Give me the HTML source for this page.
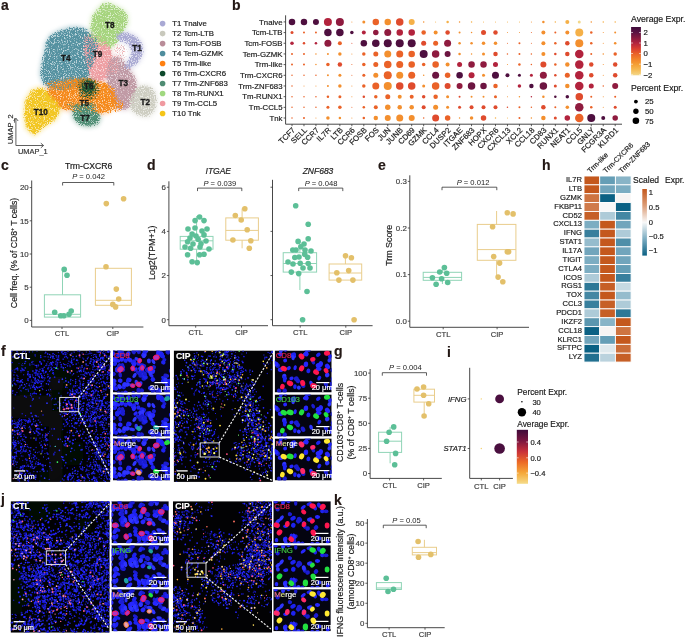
<!DOCTYPE html>
<html><head><meta charset="utf-8"><style>
html,body{margin:0;padding:0;background:#fff;}
svg{display:block;will-change:transform;font-family:"Liberation Sans",sans-serif;}
</style></head><body>
<svg width="685" height="638" viewBox="0 0 685 638">
<text x="1.00" y="10.20" font-size="14" text-anchor="start" fill="#231815" stroke="#231815" stroke-width="0.18" font-weight="bold">a</text>
<text x="232.00" y="10.00" font-size="14" text-anchor="start" fill="#231815" stroke="#231815" stroke-width="0.18" font-weight="bold">b</text>
<text x="1.00" y="170.00" font-size="14" text-anchor="start" fill="#231815" stroke="#231815" stroke-width="0.18" font-weight="bold">c</text>
<text x="147.00" y="170.00" font-size="14" text-anchor="start" fill="#231815" stroke="#231815" stroke-width="0.18" font-weight="bold">d</text>
<text x="378.00" y="170.00" font-size="14" text-anchor="start" fill="#231815" stroke="#231815" stroke-width="0.18" font-weight="bold">e</text>
<text x="542.00" y="170.00" font-size="14" text-anchor="start" fill="#231815" stroke="#231815" stroke-width="0.18" font-weight="bold">h</text>
<text x="1.00" y="356.00" font-size="14" text-anchor="start" fill="#231815" stroke="#231815" stroke-width="0.18" font-weight="bold">f</text>
<text x="334.00" y="356.00" font-size="14" text-anchor="start" fill="#231815" stroke="#231815" stroke-width="0.18" font-weight="bold">g</text>
<text x="447.00" y="357.00" font-size="14" text-anchor="start" fill="#231815" stroke="#231815" stroke-width="0.18" font-weight="bold">i</text>
<text x="1.00" y="504.20" font-size="14" text-anchor="start" fill="#231815" stroke="#231815" stroke-width="0.18" font-weight="bold">j</text>
<text x="334.00" y="505.00" font-size="14" text-anchor="start" fill="#231815" stroke="#231815" stroke-width="0.18" font-weight="bold">k</text>
<line x1="31.70" y1="180.50" x2="31.70" y2="327.00" stroke="#333" stroke-width="0.9"/>
<line x1="29.70" y1="320.40" x2="31.70" y2="320.40" stroke="#333" stroke-width="0.8"/>
<text x="28.70" y="323.24" font-size="7.9" text-anchor="end" fill="#404040" stroke="#404040" stroke-width="0.18">0</text>
<line x1="29.70" y1="287.20" x2="31.70" y2="287.20" stroke="#333" stroke-width="0.8"/>
<text x="28.70" y="290.04" font-size="7.9" text-anchor="end" fill="#404040" stroke="#404040" stroke-width="0.18">5</text>
<line x1="29.70" y1="254.00" x2="31.70" y2="254.00" stroke="#333" stroke-width="0.8"/>
<text x="28.70" y="256.84" font-size="7.9" text-anchor="end" fill="#404040" stroke="#404040" stroke-width="0.18">10</text>
<line x1="29.70" y1="220.80" x2="31.70" y2="220.80" stroke="#333" stroke-width="0.8"/>
<text x="28.70" y="223.64" font-size="7.9" text-anchor="end" fill="#404040" stroke="#404040" stroke-width="0.18">15</text>
<line x1="29.70" y1="187.60" x2="31.70" y2="187.60" stroke="#333" stroke-width="0.8"/>
<text x="28.70" y="190.44" font-size="7.9" text-anchor="end" fill="#404040" stroke="#404040" stroke-width="0.18">20</text>
<line x1="31.70" y1="327.00" x2="143.40" y2="327.00" stroke="#333" stroke-width="0.9"/>
<line x1="62.00" y1="327.00" x2="62.00" y2="329.00" stroke="#333" stroke-width="0.8"/>
<text x="62.00" y="336.00" font-size="7.6" text-anchor="middle" fill="#404040" stroke="#404040" stroke-width="0.18">CTL</text>
<line x1="112.80" y1="327.00" x2="112.80" y2="329.00" stroke="#333" stroke-width="0.8"/>
<text x="112.80" y="336.00" font-size="7.6" text-anchor="middle" fill="#404040" stroke="#404040" stroke-width="0.18">CIP</text>
<text x="88.70" y="169.30" font-size="8.7" text-anchor="middle" fill="#1a1a1a" stroke="#1a1a1a" stroke-width="0.18">Trm-CXCR6</text>
<path d="M62.60,185.50 V182.50 H113.80 V185.50" fill="none" stroke="#333" stroke-width="0.8"/>
<text x="88.50" y="178.50" font-size="7.6" text-anchor="middle" fill="#1a1a1a"><tspan font-style="italic">P</tspan> = 0.042</text>
<line x1="62.50" y1="294.80" x2="62.50" y2="269.40" stroke="#8fd4b6" stroke-width="1"/>
<line x1="62.50" y1="317.10" x2="62.50" y2="317.10" stroke="#8fd4b6" stroke-width="1"/>
<rect x="44.40" y="294.80" width="36.20" height="22.30" fill="none" stroke="#8fd4b6" stroke-width="1"/>
<line x1="44.40" y1="314.30" x2="80.60" y2="314.30" stroke="#8fd4b6" stroke-width="1"/>
<circle cx="64.20" cy="269.40" r="2.80" fill="#5cbf97"/>
<circle cx="67.00" cy="275.30" r="2.80" fill="#5cbf97"/>
<circle cx="54.70" cy="312.30" r="2.80" fill="#5cbf97"/>
<circle cx="60.70" cy="315.80" r="2.80" fill="#5cbf97"/>
<circle cx="63.90" cy="315.80" r="2.80" fill="#5cbf97"/>
<circle cx="69.00" cy="314.30" r="2.80" fill="#5cbf97"/>
<circle cx="71.20" cy="311.00" r="2.80" fill="#5cbf97"/>
<line x1="113.40" y1="268.30" x2="113.40" y2="268.30" stroke="#e9cd8c" stroke-width="1"/>
<line x1="113.40" y1="305.30" x2="113.40" y2="305.30" stroke="#e9cd8c" stroke-width="1"/>
<rect x="95.40" y="268.30" width="36.00" height="37.00" fill="none" stroke="#e9cd8c" stroke-width="1"/>
<line x1="95.40" y1="300.30" x2="131.40" y2="300.30" stroke="#e9cd8c" stroke-width="1"/>
<circle cx="106.30" cy="203.60" r="2.80" fill="#e3c06a"/>
<circle cx="123.60" cy="198.80" r="2.80" fill="#e3c06a"/>
<circle cx="106.00" cy="266.80" r="2.80" fill="#e3c06a"/>
<circle cx="116.30" cy="289.10" r="2.80" fill="#e3c06a"/>
<circle cx="118.70" cy="299.00" r="2.80" fill="#e3c06a"/>
<circle cx="112.80" cy="304.40" r="2.80" fill="#e3c06a"/>
<circle cx="115.60" cy="306.90" r="2.80" fill="#e3c06a"/>
<text x="16.50" y="253.00" font-size="8.7" text-anchor="middle" fill="#1a1a1a" stroke="#1a1a1a" stroke-width="0.18" transform="rotate(-90 16.5 253)">Cell freq. (% of CD8<tspan font-size='5' dy='-3'>+</tspan><tspan dy='3'> T cells)</tspan></text>
<line x1="168.90" y1="181.30" x2="168.90" y2="325.70" stroke="#333" stroke-width="0.9"/>
<line x1="166.90" y1="319.70" x2="168.90" y2="319.70" stroke="#333" stroke-width="0.8"/>
<text x="165.90" y="322.54" font-size="7.9" text-anchor="end" fill="#404040" stroke="#404040" stroke-width="0.18">0</text>
<line x1="166.90" y1="275.54" x2="168.90" y2="275.54" stroke="#333" stroke-width="0.8"/>
<text x="165.90" y="278.38" font-size="7.9" text-anchor="end" fill="#404040" stroke="#404040" stroke-width="0.18">2</text>
<line x1="166.90" y1="231.38" x2="168.90" y2="231.38" stroke="#333" stroke-width="0.8"/>
<text x="165.90" y="234.22" font-size="7.9" text-anchor="end" fill="#404040" stroke="#404040" stroke-width="0.18">4</text>
<line x1="166.90" y1="187.22" x2="168.90" y2="187.22" stroke="#333" stroke-width="0.8"/>
<text x="165.90" y="190.06" font-size="7.9" text-anchor="end" fill="#404040" stroke="#404040" stroke-width="0.18">6</text>
<line x1="168.90" y1="325.70" x2="268.00" y2="325.70" stroke="#333" stroke-width="0.9"/>
<line x1="195.70" y1="325.70" x2="195.70" y2="327.70" stroke="#333" stroke-width="0.8"/>
<text x="195.70" y="335.00" font-size="7.6" text-anchor="middle" fill="#404040" stroke="#404040" stroke-width="0.18">CTL</text>
<line x1="241.50" y1="325.70" x2="241.50" y2="327.70" stroke="#333" stroke-width="0.8"/>
<text x="241.50" y="335.00" font-size="7.6" text-anchor="middle" fill="#404040" stroke="#404040" stroke-width="0.18">CIP</text>
<line x1="272.50" y1="179.80" x2="272.50" y2="325.70" stroke="#333" stroke-width="0.9"/>
<line x1="270.50" y1="319.70" x2="272.50" y2="319.70" stroke="#333" stroke-width="0.8"/>
<line x1="270.50" y1="275.54" x2="272.50" y2="275.54" stroke="#333" stroke-width="0.8"/>
<line x1="270.50" y1="231.38" x2="272.50" y2="231.38" stroke="#333" stroke-width="0.8"/>
<line x1="270.50" y1="187.22" x2="272.50" y2="187.22" stroke="#333" stroke-width="0.8"/>
<line x1="272.50" y1="325.70" x2="372.60" y2="325.70" stroke="#333" stroke-width="0.9"/>
<line x1="300.20" y1="325.70" x2="300.20" y2="327.70" stroke="#333" stroke-width="0.8"/>
<text x="300.20" y="335.00" font-size="7.6" text-anchor="middle" fill="#404040" stroke="#404040" stroke-width="0.18">CTL</text>
<line x1="345.80" y1="325.70" x2="345.80" y2="327.70" stroke="#333" stroke-width="0.8"/>
<text x="345.80" y="335.00" font-size="7.6" text-anchor="middle" fill="#404040" stroke="#404040" stroke-width="0.18">CIP</text>
<text x="218.30" y="174.20" font-size="8.5" text-anchor="middle" fill="#1a1a1a" stroke="#1a1a1a" stroke-width="0.18" font-style="italic">ITGAE</text>
<text x="318.00" y="174.20" font-size="8.5" text-anchor="middle" fill="#1a1a1a" stroke="#1a1a1a" stroke-width="0.18" font-style="italic">ZNF683</text>
<path d="M197.50,191.10 V188.10 H241.80 V191.10" fill="none" stroke="#333" stroke-width="0.8"/>
<text x="219.80" y="185.50" font-size="7.6" text-anchor="middle" fill="#1a1a1a"><tspan font-style="italic">P</tspan> = 0.039</text>
<path d="M298.70,191.10 V188.10 H342.80 V191.10" fill="none" stroke="#333" stroke-width="0.8"/>
<text x="321.00" y="185.50" font-size="7.6" text-anchor="middle" fill="#1a1a1a"><tspan font-style="italic">P</tspan> = 0.048</text>
<text x="155.00" y="252.70" font-size="8.9" text-anchor="middle" fill="#1a1a1a" stroke="#1a1a1a" stroke-width="0.18" transform="rotate(-90 155 252.7)">Log2(TPM+1)</text>
<line x1="196.60" y1="236.40" x2="196.60" y2="216.00" stroke="#8fd4b6" stroke-width="1"/>
<line x1="196.60" y1="249.20" x2="196.60" y2="260.20" stroke="#8fd4b6" stroke-width="1"/>
<rect x="180.20" y="236.40" width="32.80" height="12.80" fill="none" stroke="#8fd4b6" stroke-width="1"/>
<line x1="180.20" y1="240.80" x2="213.00" y2="240.80" stroke="#8fd4b6" stroke-width="1"/>
<circle cx="199.60" cy="217.00" r="2.80" fill="#5cbf97"/>
<circle cx="195.10" cy="220.60" r="2.80" fill="#5cbf97"/>
<circle cx="204.00" cy="220.60" r="2.80" fill="#5cbf97"/>
<circle cx="192.10" cy="234.00" r="2.80" fill="#5cbf97"/>
<circle cx="204.00" cy="234.90" r="2.80" fill="#5cbf97"/>
<circle cx="187.60" cy="241.70" r="2.80" fill="#5cbf97"/>
<circle cx="198.10" cy="239.30" r="2.80" fill="#5cbf97"/>
<circle cx="201.00" cy="243.80" r="2.80" fill="#5cbf97"/>
<circle cx="190.60" cy="248.30" r="2.80" fill="#5cbf97"/>
<circle cx="187.60" cy="254.80" r="2.80" fill="#5cbf97"/>
<circle cx="199.60" cy="254.80" r="2.80" fill="#5cbf97"/>
<circle cx="204.00" cy="254.20" r="2.80" fill="#5cbf97"/>
<circle cx="192.10" cy="261.70" r="2.80" fill="#5cbf97"/>
<circle cx="197.20" cy="262.60" r="2.80" fill="#5cbf97"/>
<circle cx="196.00" cy="236.00" r="2.80" fill="#5cbf97"/>
<circle cx="193.00" cy="244.00" r="2.80" fill="#5cbf97"/>
<circle cx="200.00" cy="247.00" r="2.80" fill="#5cbf97"/>
<circle cx="206.00" cy="241.00" r="2.80" fill="#5cbf97"/>
<circle cx="188.00" cy="229.00" r="2.80" fill="#5cbf97"/>
<circle cx="207.00" cy="229.00" r="2.80" fill="#5cbf97"/>
<circle cx="185.00" cy="247.00" r="2.80" fill="#5cbf97"/>
<circle cx="209.00" cy="249.00" r="2.80" fill="#5cbf97"/>
<circle cx="195.00" cy="228.00" r="2.80" fill="#5cbf97"/>
<circle cx="202.00" cy="231.00" r="2.80" fill="#5cbf97"/>
<circle cx="190.00" cy="238.00" r="2.80" fill="#5cbf97"/>
<line x1="242.10" y1="217.90" x2="242.10" y2="208.40" stroke="#e9cd8c" stroke-width="1"/>
<line x1="242.10" y1="240.20" x2="242.10" y2="248.30" stroke="#e9cd8c" stroke-width="1"/>
<rect x="225.80" y="217.90" width="32.60" height="22.30" fill="none" stroke="#e9cd8c" stroke-width="1"/>
<line x1="225.80" y1="230.40" x2="258.40" y2="230.40" stroke="#e9cd8c" stroke-width="1"/>
<circle cx="244.80" cy="208.70" r="2.80" fill="#e3c06a"/>
<circle cx="235.30" cy="215.50" r="2.80" fill="#e3c06a"/>
<circle cx="241.20" cy="220.00" r="2.80" fill="#e3c06a"/>
<circle cx="247.20" cy="229.80" r="2.80" fill="#e3c06a"/>
<circle cx="232.90" cy="240.00" r="2.80" fill="#e3c06a"/>
<circle cx="250.80" cy="240.80" r="2.80" fill="#e3c06a"/>
<circle cx="249.30" cy="248.30" r="2.80" fill="#e3c06a"/>
<line x1="299.90" y1="252.70" x2="299.90" y2="241.00" stroke="#8fd4b6" stroke-width="1"/>
<line x1="299.90" y1="272.10" x2="299.90" y2="290.00" stroke="#8fd4b6" stroke-width="1"/>
<rect x="283.20" y="252.70" width="33.40" height="19.40" fill="none" stroke="#8fd4b6" stroke-width="1"/>
<line x1="283.20" y1="263.50" x2="316.60" y2="263.50" stroke="#8fd4b6" stroke-width="1"/>
<circle cx="295.70" cy="205.70" r="2.80" fill="#5cbf97"/>
<circle cx="308.20" cy="224.20" r="2.80" fill="#5cbf97"/>
<circle cx="298.10" cy="241.40" r="2.80" fill="#5cbf97"/>
<circle cx="308.20" cy="238.70" r="2.80" fill="#5cbf97"/>
<circle cx="292.80" cy="250.00" r="2.80" fill="#5cbf97"/>
<circle cx="300.80" cy="246.80" r="2.80" fill="#5cbf97"/>
<circle cx="294.80" cy="257.50" r="2.80" fill="#5cbf97"/>
<circle cx="304.70" cy="254.20" r="2.80" fill="#5cbf97"/>
<circle cx="307.60" cy="257.20" r="2.80" fill="#5cbf97"/>
<circle cx="300.20" cy="263.20" r="2.80" fill="#5cbf97"/>
<circle cx="308.20" cy="263.50" r="2.80" fill="#5cbf97"/>
<circle cx="291.30" cy="272.10" r="2.80" fill="#5cbf97"/>
<circle cx="298.70" cy="273.60" r="2.80" fill="#5cbf97"/>
<circle cx="307.00" cy="291.50" r="2.80" fill="#5cbf97"/>
<circle cx="302.60" cy="319.70" r="2.80" fill="#5cbf97"/>
<circle cx="305.00" cy="250.00" r="2.80" fill="#5cbf97"/>
<circle cx="296.00" cy="250.00" r="2.80" fill="#5cbf97"/>
<circle cx="303.00" cy="268.00" r="2.80" fill="#5cbf97"/>
<circle cx="293.00" cy="264.00" r="2.80" fill="#5cbf97"/>
<circle cx="310.00" cy="268.00" r="2.80" fill="#5cbf97"/>
<circle cx="288.00" cy="262.00" r="2.80" fill="#5cbf97"/>
<circle cx="304.00" cy="244.00" r="2.80" fill="#5cbf97"/>
<circle cx="299.00" cy="257.00" r="2.80" fill="#5cbf97"/>
<circle cx="311.00" cy="251.00" r="2.80" fill="#5cbf97"/>
<line x1="345.40" y1="264.00" x2="345.40" y2="254.80" stroke="#e9cd8c" stroke-width="1"/>
<line x1="345.40" y1="280.10" x2="345.40" y2="280.10" stroke="#e9cd8c" stroke-width="1"/>
<rect x="329.10" y="264.00" width="32.60" height="16.10" fill="none" stroke="#e9cd8c" stroke-width="1"/>
<line x1="329.10" y1="273.00" x2="361.70" y2="273.00" stroke="#e9cd8c" stroke-width="1"/>
<circle cx="345.50" cy="255.70" r="2.80" fill="#e3c06a"/>
<circle cx="351.40" cy="257.80" r="2.80" fill="#e3c06a"/>
<circle cx="336.80" cy="272.70" r="2.80" fill="#e3c06a"/>
<circle cx="348.70" cy="270.60" r="2.80" fill="#e3c06a"/>
<circle cx="338.90" cy="280.10" r="2.80" fill="#e3c06a"/>
<circle cx="352.90" cy="280.10" r="2.80" fill="#e3c06a"/>
<circle cx="354.10" cy="319.70" r="2.80" fill="#e3c06a"/>
<line x1="409.80" y1="175.30" x2="409.80" y2="327.30" stroke="#333" stroke-width="0.9"/>
<line x1="407.80" y1="321.20" x2="409.80" y2="321.20" stroke="#333" stroke-width="0.8"/>
<text x="406.80" y="324.04" font-size="7.9" text-anchor="end" fill="#404040" stroke="#404040" stroke-width="0.18">0.0</text>
<line x1="407.80" y1="274.60" x2="409.80" y2="274.60" stroke="#333" stroke-width="0.8"/>
<text x="406.80" y="277.44" font-size="7.9" text-anchor="end" fill="#404040" stroke="#404040" stroke-width="0.18">0.1</text>
<line x1="407.80" y1="228.00" x2="409.80" y2="228.00" stroke="#333" stroke-width="0.8"/>
<text x="406.80" y="230.84" font-size="7.9" text-anchor="end" fill="#404040" stroke="#404040" stroke-width="0.18">0.2</text>
<line x1="407.80" y1="181.40" x2="409.80" y2="181.40" stroke="#333" stroke-width="0.8"/>
<text x="406.80" y="184.24" font-size="7.9" text-anchor="end" fill="#404040" stroke="#404040" stroke-width="0.18">0.3</text>
<line x1="409.80" y1="327.30" x2="529.00" y2="327.30" stroke="#333" stroke-width="0.9"/>
<line x1="443.20" y1="327.30" x2="443.20" y2="329.30" stroke="#333" stroke-width="0.8"/>
<text x="443.20" y="336.50" font-size="7.6" text-anchor="middle" fill="#404040" stroke="#404040" stroke-width="0.18">CTL</text>
<line x1="497.10" y1="327.30" x2="497.10" y2="329.30" stroke="#333" stroke-width="0.8"/>
<text x="497.10" y="336.50" font-size="7.6" text-anchor="middle" fill="#404040" stroke="#404040" stroke-width="0.18">CIP</text>
<path d="M442.00,190.20 V187.20 H496.80 V190.20" fill="none" stroke="#333" stroke-width="0.8"/>
<text x="473.00" y="184.50" font-size="7.6" text-anchor="middle" fill="#1a1a1a"><tspan font-style="italic">P</tspan> = 0.012</text>
<text x="392.00" y="245.30" font-size="8.9" text-anchor="middle" fill="#1a1a1a" stroke="#1a1a1a" stroke-width="0.18" transform="rotate(-90 392 245.3)">Trm Score</text>
<line x1="442.40" y1="272.30" x2="442.40" y2="267.00" stroke="#8fd4b6" stroke-width="1"/>
<line x1="442.40" y1="280.30" x2="442.40" y2="284.00" stroke="#8fd4b6" stroke-width="1"/>
<rect x="423.20" y="272.30" width="38.40" height="8.00" fill="none" stroke="#8fd4b6" stroke-width="1"/>
<line x1="423.20" y1="277.40" x2="461.60" y2="277.40" stroke="#8fd4b6" stroke-width="1"/>
<circle cx="444.40" cy="267.60" r="2.80" fill="#5cbf97"/>
<circle cx="439.70" cy="272.00" r="2.80" fill="#5cbf97"/>
<circle cx="446.70" cy="273.30" r="2.80" fill="#5cbf97"/>
<circle cx="432.40" cy="277.80" r="2.80" fill="#5cbf97"/>
<circle cx="441.60" cy="278.80" r="2.80" fill="#5cbf97"/>
<circle cx="447.70" cy="282.50" r="2.80" fill="#5cbf97"/>
<circle cx="436.10" cy="284.20" r="2.80" fill="#5cbf97"/>
<line x1="496.60" y1="224.40" x2="496.60" y2="211.00" stroke="#e9cd8c" stroke-width="1"/>
<line x1="496.60" y1="260.30" x2="496.60" y2="278.80" stroke="#e9cd8c" stroke-width="1"/>
<rect x="477.30" y="224.40" width="38.60" height="35.90" fill="none" stroke="#e9cd8c" stroke-width="1"/>
<line x1="477.30" y1="249.60" x2="515.90" y2="249.60" stroke="#e9cd8c" stroke-width="1"/>
<circle cx="507.30" cy="212.80" r="2.80" fill="#e3c06a"/>
<circle cx="513.10" cy="213.90" r="2.80" fill="#e3c06a"/>
<circle cx="492.60" cy="226.70" r="2.80" fill="#e3c06a"/>
<circle cx="507.30" cy="251.80" r="2.80" fill="#e3c06a"/>
<circle cx="508.60" cy="251.80" r="2.80" fill="#e3c06a"/>
<circle cx="493.70" cy="256.60" r="2.80" fill="#e3c06a"/>
<circle cx="499.60" cy="263.10" r="2.80" fill="#e3c06a"/>
<circle cx="498.10" cy="277.10" r="2.80" fill="#e3c06a"/>
<circle cx="502.80" cy="281.80" r="2.80" fill="#e3c06a"/>
<line x1="370.10" y1="369.00" x2="370.10" y2="478.40" stroke="#333" stroke-width="0.9"/>
<line x1="368.10" y1="473.50" x2="370.10" y2="473.50" stroke="#333" stroke-width="0.8"/>
<text x="367.10" y="476.34" font-size="7.9" text-anchor="end" fill="#404040" stroke="#404040" stroke-width="0.18">0</text>
<line x1="368.10" y1="448.40" x2="370.10" y2="448.40" stroke="#333" stroke-width="0.8"/>
<text x="367.10" y="451.24" font-size="7.9" text-anchor="end" fill="#404040" stroke="#404040" stroke-width="0.18">25</text>
<line x1="368.10" y1="423.30" x2="370.10" y2="423.30" stroke="#333" stroke-width="0.8"/>
<text x="367.10" y="426.14" font-size="7.9" text-anchor="end" fill="#404040" stroke="#404040" stroke-width="0.18">50</text>
<line x1="368.10" y1="398.20" x2="370.10" y2="398.20" stroke="#333" stroke-width="0.8"/>
<text x="367.10" y="401.04" font-size="7.9" text-anchor="end" fill="#404040" stroke="#404040" stroke-width="0.18">75</text>
<line x1="368.10" y1="373.10" x2="370.10" y2="373.10" stroke="#333" stroke-width="0.8"/>
<text x="367.10" y="375.94" font-size="7.9" text-anchor="end" fill="#404040" stroke="#404040" stroke-width="0.18">100</text>
<line x1="370.10" y1="478.40" x2="441.80" y2="478.40" stroke="#333" stroke-width="0.9"/>
<line x1="389.60" y1="478.40" x2="389.60" y2="480.40" stroke="#333" stroke-width="0.8"/>
<text x="389.60" y="487.50" font-size="7.6" text-anchor="middle" fill="#404040" stroke="#404040" stroke-width="0.18">CTL</text>
<line x1="423.60" y1="478.40" x2="423.60" y2="480.40" stroke="#333" stroke-width="0.8"/>
<text x="423.60" y="487.50" font-size="7.6" text-anchor="middle" fill="#404040" stroke="#404040" stroke-width="0.18">CIP</text>
<path d="M382.30,375.70 V372.70 H426.50 V375.70" fill="none" stroke="#333" stroke-width="0.8"/>
<text x="405.40" y="370.30" font-size="7.6" text-anchor="middle" fill="#1a1a1a"><tspan font-style="italic">P</tspan> = 0.004</text>
<text x="343.20" y="422.50" font-size="8.9" text-anchor="middle" fill="#1a1a1a" stroke="#1a1a1a" stroke-width="0.18" transform="rotate(-90 343.2 422.5)">CD103<tspan font-size='5' dy='-3'>+</tspan><tspan dy='3'>CD8</tspan><tspan font-size='5' dy='-3'>+</tspan><tspan dy='3'> T-cells</tspan></text>
<text x="354.00" y="422.50" font-size="8.8" text-anchor="middle" fill="#1a1a1a" stroke="#1a1a1a" stroke-width="0.18" transform="rotate(-90 354 422.5)">(% of CD8<tspan font-size='5' dy='-3'>+</tspan><tspan dy='3'> T cells)</tspan></text>
<line x1="390.10" y1="432.20" x2="390.10" y2="426.90" stroke="#8fd4b6" stroke-width="1"/>
<line x1="390.10" y1="452.40" x2="390.10" y2="463.30" stroke="#8fd4b6" stroke-width="1"/>
<rect x="378.60" y="432.20" width="23.00" height="20.20" fill="none" stroke="#8fd4b6" stroke-width="1"/>
<line x1="378.60" y1="441.20" x2="401.60" y2="441.20" stroke="#8fd4b6" stroke-width="1"/>
<circle cx="393.70" cy="426.90" r="2.80" fill="#5cbf97"/>
<circle cx="389.10" cy="432.20" r="2.80" fill="#5cbf97"/>
<circle cx="386.60" cy="441.20" r="2.80" fill="#5cbf97"/>
<circle cx="395.60" cy="453.40" r="2.80" fill="#5cbf97"/>
<circle cx="394.70" cy="464.80" r="2.80" fill="#5cbf97"/>
<line x1="424.20" y1="389.20" x2="424.20" y2="387.00" stroke="#e9cd8c" stroke-width="1"/>
<line x1="424.20" y1="402.10" x2="424.20" y2="416.00" stroke="#e9cd8c" stroke-width="1"/>
<rect x="413.90" y="389.20" width="20.60" height="12.90" fill="none" stroke="#e9cd8c" stroke-width="1"/>
<line x1="413.90" y1="395.30" x2="434.50" y2="395.30" stroke="#e9cd8c" stroke-width="1"/>
<circle cx="423.60" cy="387.00" r="2.80" fill="#e3c06a"/>
<circle cx="417.00" cy="389.00" r="2.80" fill="#e3c06a"/>
<circle cx="423.60" cy="395.30" r="2.80" fill="#e3c06a"/>
<circle cx="428.70" cy="403.80" r="2.80" fill="#e3c06a"/>
<circle cx="424.10" cy="416.00" r="2.80" fill="#e3c06a"/>
<line x1="367.40" y1="519.00" x2="367.40" y2="627.70" stroke="#333" stroke-width="0.9"/>
<line x1="365.40" y1="623.30" x2="367.40" y2="623.30" stroke="#333" stroke-width="0.8"/>
<text x="364.40" y="626.14" font-size="7.9" text-anchor="end" fill="#404040" stroke="#404040" stroke-width="0.18">0</text>
<line x1="365.40" y1="603.26" x2="367.40" y2="603.26" stroke="#333" stroke-width="0.8"/>
<text x="364.40" y="606.10" font-size="7.9" text-anchor="end" fill="#404040" stroke="#404040" stroke-width="0.18">10</text>
<line x1="365.40" y1="583.22" x2="367.40" y2="583.22" stroke="#333" stroke-width="0.8"/>
<text x="364.40" y="586.06" font-size="7.9" text-anchor="end" fill="#404040" stroke="#404040" stroke-width="0.18">20</text>
<line x1="365.40" y1="563.18" x2="367.40" y2="563.18" stroke="#333" stroke-width="0.8"/>
<text x="364.40" y="566.02" font-size="7.9" text-anchor="end" fill="#404040" stroke="#404040" stroke-width="0.18">30</text>
<line x1="365.40" y1="543.14" x2="367.40" y2="543.14" stroke="#333" stroke-width="0.8"/>
<text x="364.40" y="545.98" font-size="7.9" text-anchor="end" fill="#404040" stroke="#404040" stroke-width="0.18">40</text>
<line x1="365.40" y1="523.10" x2="367.40" y2="523.10" stroke="#333" stroke-width="0.8"/>
<text x="364.40" y="525.94" font-size="7.9" text-anchor="end" fill="#404040" stroke="#404040" stroke-width="0.18">50</text>
<line x1="367.40" y1="627.70" x2="444.70" y2="627.70" stroke="#333" stroke-width="0.9"/>
<line x1="389.10" y1="627.70" x2="389.10" y2="629.70" stroke="#333" stroke-width="0.8"/>
<text x="389.10" y="637.00" font-size="7.6" text-anchor="middle" fill="#404040" stroke="#404040" stroke-width="0.18">CTL</text>
<line x1="425.00" y1="627.70" x2="425.00" y2="629.70" stroke="#333" stroke-width="0.8"/>
<text x="425.00" y="637.00" font-size="7.6" text-anchor="middle" fill="#404040" stroke="#404040" stroke-width="0.18">CIP</text>
<path d="M383.30,528.20 V525.20 H426.20 V528.20" fill="none" stroke="#333" stroke-width="0.8"/>
<text x="406.50" y="522.50" font-size="7.6" text-anchor="middle" fill="#1a1a1a"><tspan font-style="italic">P</tspan> = 0.05</text>
<text x="343.00" y="571.50" font-size="8.8" text-anchor="middle" fill="#1a1a1a" stroke="#1a1a1a" stroke-width="0.18" transform="rotate(-90 343 571.5)">IFNG fluorescence intensity (a.u.)</text>
<text x="353.50" y="571.50" font-size="8.8" text-anchor="middle" fill="#1a1a1a" stroke="#1a1a1a" stroke-width="0.18" transform="rotate(-90 353.5 571.5)">(among CD8<tspan font-size='5' dy='-3'>+</tspan><tspan dy='3'> cells)</tspan></text>
<line x1="388.90" y1="582.60" x2="388.90" y2="582.60" stroke="#8fd4b6" stroke-width="1"/>
<line x1="388.90" y1="589.50" x2="388.90" y2="589.50" stroke="#8fd4b6" stroke-width="1"/>
<rect x="376.40" y="582.60" width="25.00" height="6.90" fill="none" stroke="#8fd4b6" stroke-width="1"/>
<line x1="376.40" y1="588.00" x2="401.40" y2="588.00" stroke="#8fd4b6" stroke-width="1"/>
<circle cx="386.20" cy="578.30" r="2.80" fill="#5cbf97"/>
<circle cx="393.50" cy="589.30" r="2.80" fill="#5cbf97"/>
<circle cx="388.00" cy="591.50" r="2.80" fill="#5cbf97"/>
<line x1="424.40" y1="547.30" x2="424.40" y2="539.80" stroke="#e9cd8c" stroke-width="1"/>
<line x1="424.40" y1="554.90" x2="424.40" y2="554.90" stroke="#e9cd8c" stroke-width="1"/>
<rect x="412.30" y="547.30" width="24.20" height="7.60" fill="none" stroke="#e9cd8c" stroke-width="1"/>
<line x1="412.30" y1="552.60" x2="436.50" y2="552.60" stroke="#e9cd8c" stroke-width="1"/>
<circle cx="418.10" cy="541.50" r="2.80" fill="#e3c06a"/>
<circle cx="418.50" cy="557.20" r="2.80" fill="#e3c06a"/>
<circle cx="430.80" cy="554.40" r="2.80" fill="#e3c06a"/>
<line x1="469.70" y1="367.80" x2="469.70" y2="478.40" stroke="#333" stroke-width="0.9"/>
<line x1="469.70" y1="478.40" x2="512.90" y2="478.40" stroke="#333" stroke-width="0.9"/>
<line x1="467.70" y1="398.90" x2="469.70" y2="398.90" stroke="#333" stroke-width="0.8"/>
<text x="466.50" y="401.70" font-size="7.8" text-anchor="end" fill="#1a1a1a" stroke="#1a1a1a" stroke-width="0.18" font-style="italic">IFNG</text>
<line x1="467.70" y1="448.50" x2="469.70" y2="448.50" stroke="#333" stroke-width="0.8"/>
<text x="466.50" y="451.30" font-size="7.8" text-anchor="end" fill="#1a1a1a" stroke="#1a1a1a" stroke-width="0.18" font-style="italic">STAT1</text>
<line x1="481.30" y1="478.40" x2="481.30" y2="480.40" stroke="#333" stroke-width="0.8"/>
<text x="481.30" y="489.00" font-size="7.6" text-anchor="middle" fill="#404040" stroke="#404040" stroke-width="0.18">CTL</text>
<line x1="499.60" y1="478.40" x2="499.60" y2="480.40" stroke="#333" stroke-width="0.8"/>
<text x="499.60" y="489.00" font-size="7.6" text-anchor="middle" fill="#404040" stroke="#404040" stroke-width="0.18">CIP</text>
<circle cx="481.30" cy="398.90" r="0.70" fill="#f3d070"/>
<circle cx="481.30" cy="448.50" r="0.70" fill="#f3d070"/>
<circle cx="499.60" cy="398.90" r="4.40" fill="#4a0f3f"/>
<circle cx="499.60" cy="448.50" r="5.30" fill="#4a0f3f"/>
<text x="517.30" y="395.00" font-size="8.3" text-anchor="start" fill="#1a1a1a" stroke="#1a1a1a" stroke-width="0.18">Percent Expr.</text>
<circle cx="521.90" cy="401.80" r="0.80" fill="#000"/>
<text x="532.40" y="404.60" font-size="7.6" text-anchor="start" fill="#1a1a1a" stroke="#1a1a1a" stroke-width="0.18">30</text>
<circle cx="521.90" cy="412.30" r="4.20" fill="#000"/>
<text x="532.40" y="415.10" font-size="7.6" text-anchor="start" fill="#1a1a1a" stroke="#1a1a1a" stroke-width="0.18">40</text>
<text x="517.30" y="426.60" font-size="8.3" text-anchor="start" fill="#1a1a1a" stroke="#1a1a1a" stroke-width="0.18">Average Expr.</text>
<defs><linearGradient id="cb3" x1="0" y1="1" x2="0" y2="0"><stop offset="0" stop-color="#f5dc8a"/><stop offset="0.2" stop-color="#f5a83a"/><stop offset="0.4" stop-color="#ec6a26"/><stop offset="0.6" stop-color="#c8303a"/><stop offset="0.8" stop-color="#7a1640"/><stop offset="1" stop-color="#3f0b3a"/></linearGradient></defs>
<rect x="516.80" y="429.80" width="11.20" height="54.00" fill="url(#cb3)" stroke="none" stroke-width="1"/>
<line x1="516.80" y1="442.00" x2="518.60" y2="442.00" stroke="#fff" stroke-width="0.6"/>
<line x1="526.20" y1="442.00" x2="528.00" y2="442.00" stroke="#fff" stroke-width="0.6"/>
<text x="530.40" y="444.80" font-size="7.6" text-anchor="start" fill="#1a1a1a" stroke="#1a1a1a" stroke-width="0.18">0.4</text>
<line x1="516.80" y1="457.80" x2="518.60" y2="457.80" stroke="#fff" stroke-width="0.6"/>
<line x1="526.20" y1="457.80" x2="528.00" y2="457.80" stroke="#fff" stroke-width="0.6"/>
<text x="530.40" y="460.60" font-size="7.6" text-anchor="start" fill="#1a1a1a" stroke="#1a1a1a" stroke-width="0.18">0.0</text>
<line x1="516.80" y1="473.10" x2="518.60" y2="473.10" stroke="#fff" stroke-width="0.6"/>
<line x1="526.20" y1="473.10" x2="528.00" y2="473.10" stroke="#fff" stroke-width="0.6"/>
<text x="530.40" y="475.90" font-size="7.6" text-anchor="start" fill="#1a1a1a" stroke="#1a1a1a" stroke-width="0.18">−0.4</text>
<circle cx="292.00" cy="21.90" r="3.25" fill="#4e0f3f"/>
<circle cx="303.97" cy="21.90" r="3.25" fill="#4e0f3f"/>
<circle cx="315.94" cy="21.90" r="3.00" fill="#4e0f3f"/>
<circle cx="327.91" cy="21.90" r="4.00" fill="#b2233d"/>
<circle cx="339.88" cy="21.90" r="4.00" fill="#8f1b3f"/>
<circle cx="351.85" cy="21.90" r="0.50" fill="#f38f2e"/>
<circle cx="363.82" cy="21.90" r="1.50" fill="#f38f2e"/>
<circle cx="375.79" cy="21.90" r="3.25" fill="#ea6228"/>
<circle cx="387.76" cy="21.90" r="3.25" fill="#f38f2e"/>
<circle cx="399.73" cy="21.90" r="3.75" fill="#df4b2d"/>
<circle cx="411.70" cy="21.90" r="3.00" fill="#f5b048"/>
<circle cx="423.67" cy="21.90" r="0.75" fill="#f38f2e"/>
<circle cx="435.64" cy="21.90" r="0.50" fill="#f5b048"/>
<circle cx="447.61" cy="21.90" r="1.25" fill="#f5b048"/>
<circle cx="459.58" cy="21.90" r="0.75" fill="#f38f2e"/>
<circle cx="471.55" cy="21.90" r="0.75" fill="#f5b048"/>
<circle cx="483.52" cy="21.90" r="0.50" fill="#f5b048"/>
<circle cx="495.49" cy="21.90" r="0.50" fill="#f5b048"/>
<circle cx="507.46" cy="21.90" r="0.50" fill="#f5b048"/>
<circle cx="519.43" cy="21.90" r="0.50" fill="#f5b048"/>
<circle cx="531.40" cy="21.90" r="0.50" fill="#f38f2e"/>
<circle cx="543.37" cy="21.90" r="1.25" fill="#f38f2e"/>
<circle cx="555.34" cy="21.90" r="0.75" fill="#f5b048"/>
<circle cx="567.31" cy="21.90" r="2.00" fill="#f5b048"/>
<circle cx="579.28" cy="21.90" r="1.50" fill="#f3d88a"/>
<circle cx="591.25" cy="21.90" r="0.75" fill="#f38f2e"/>
<circle cx="603.22" cy="21.90" r="0.75" fill="#f5b048"/>
<circle cx="615.19" cy="21.90" r="0.75" fill="#f5b048"/>
<circle cx="292.00" cy="32.58" r="1.50" fill="#df4b2d"/>
<circle cx="303.97" cy="32.58" r="1.00" fill="#ea6228"/>
<circle cx="315.94" cy="32.58" r="1.00" fill="#ea6228"/>
<circle cx="327.91" cy="32.58" r="3.75" fill="#4e0f3f"/>
<circle cx="339.88" cy="32.58" r="3.75" fill="#4e0f3f"/>
<circle cx="351.85" cy="32.58" r="1.75" fill="#4e0f3f"/>
<circle cx="363.82" cy="32.58" r="2.00" fill="#b2233d"/>
<circle cx="375.79" cy="32.58" r="2.75" fill="#8f1b3f"/>
<circle cx="387.76" cy="32.58" r="3.50" fill="#8f1b3f"/>
<circle cx="399.73" cy="32.58" r="3.25" fill="#b2233d"/>
<circle cx="411.70" cy="32.58" r="3.25" fill="#b2233d"/>
<circle cx="423.67" cy="32.58" r="2.25" fill="#ea6228"/>
<circle cx="435.64" cy="32.58" r="2.00" fill="#f38f2e"/>
<circle cx="447.61" cy="32.58" r="2.25" fill="#df4b2d"/>
<circle cx="459.58" cy="32.58" r="1.00" fill="#f38f2e"/>
<circle cx="471.55" cy="32.58" r="0.75" fill="#f38f2e"/>
<circle cx="483.52" cy="32.58" r="2.50" fill="#df4b2d"/>
<circle cx="495.49" cy="32.58" r="2.25" fill="#df4b2d"/>
<circle cx="507.46" cy="32.58" r="0.50" fill="#f38f2e"/>
<circle cx="519.43" cy="32.58" r="0.50" fill="#f38f2e"/>
<circle cx="531.40" cy="32.58" r="0.50" fill="#ea6228"/>
<circle cx="543.37" cy="32.58" r="2.00" fill="#f38f2e"/>
<circle cx="555.34" cy="32.58" r="1.00" fill="#ea6228"/>
<circle cx="567.31" cy="32.58" r="2.00" fill="#f38f2e"/>
<circle cx="579.28" cy="32.58" r="4.00" fill="#f5b048"/>
<circle cx="591.25" cy="32.58" r="1.25" fill="#ea6228"/>
<circle cx="603.22" cy="32.58" r="0.50" fill="#f38f2e"/>
<circle cx="615.19" cy="32.58" r="1.00" fill="#f38f2e"/>
<circle cx="292.00" cy="43.26" r="1.75" fill="#b2233d"/>
<circle cx="303.97" cy="43.26" r="1.25" fill="#df4b2d"/>
<circle cx="315.94" cy="43.26" r="1.25" fill="#b2233d"/>
<circle cx="327.91" cy="43.26" r="3.50" fill="#8f1b3f"/>
<circle cx="339.88" cy="43.26" r="2.00" fill="#ea6228"/>
<circle cx="351.85" cy="43.26" r="0.50" fill="#df4b2d"/>
<circle cx="363.82" cy="43.26" r="3.25" fill="#4e0f3f"/>
<circle cx="375.79" cy="43.26" r="3.75" fill="#4e0f3f"/>
<circle cx="387.76" cy="43.26" r="4.00" fill="#4e0f3f"/>
<circle cx="399.73" cy="43.26" r="4.00" fill="#4e0f3f"/>
<circle cx="411.70" cy="43.26" r="4.00" fill="#4e0f3f"/>
<circle cx="423.67" cy="43.26" r="2.50" fill="#df4b2d"/>
<circle cx="435.64" cy="43.26" r="2.50" fill="#ea6228"/>
<circle cx="447.61" cy="43.26" r="3.50" fill="#8f1b3f"/>
<circle cx="459.58" cy="43.26" r="1.25" fill="#f38f2e"/>
<circle cx="471.55" cy="43.26" r="1.25" fill="#f38f2e"/>
<circle cx="483.52" cy="43.26" r="1.75" fill="#f38f2e"/>
<circle cx="495.49" cy="43.26" r="1.75" fill="#f38f2e"/>
<circle cx="507.46" cy="43.26" r="0.50" fill="#ea6228"/>
<circle cx="519.43" cy="43.26" r="1.00" fill="#ea6228"/>
<circle cx="531.40" cy="43.26" r="0.50" fill="#ea6228"/>
<circle cx="543.37" cy="43.26" r="2.00" fill="#f38f2e"/>
<circle cx="555.34" cy="43.26" r="1.25" fill="#ea6228"/>
<circle cx="567.31" cy="43.26" r="2.25" fill="#df4b2d"/>
<circle cx="579.28" cy="43.26" r="4.00" fill="#f38f2e"/>
<circle cx="591.25" cy="43.26" r="1.25" fill="#ea6228"/>
<circle cx="603.22" cy="43.26" r="0.50" fill="#f38f2e"/>
<circle cx="615.19" cy="43.26" r="1.25" fill="#f38f2e"/>
<circle cx="292.00" cy="53.94" r="1.00" fill="#ea6228"/>
<circle cx="303.97" cy="53.94" r="1.00" fill="#ea6228"/>
<circle cx="315.94" cy="53.94" r="0.75" fill="#f38f2e"/>
<circle cx="327.91" cy="53.94" r="1.00" fill="#f38f2e"/>
<circle cx="339.88" cy="53.94" r="1.75" fill="#f38f2e"/>
<circle cx="351.85" cy="53.94" r="0.50" fill="#f38f2e"/>
<circle cx="363.82" cy="53.94" r="1.75" fill="#ea6228"/>
<circle cx="375.79" cy="53.94" r="2.50" fill="#ea6228"/>
<circle cx="387.76" cy="53.94" r="3.50" fill="#f38f2e"/>
<circle cx="399.73" cy="53.94" r="3.50" fill="#ea6228"/>
<circle cx="411.70" cy="53.94" r="3.25" fill="#ea6228"/>
<circle cx="423.67" cy="53.94" r="4.00" fill="#4e0f3f"/>
<circle cx="435.64" cy="53.94" r="3.75" fill="#8f1b3f"/>
<circle cx="447.61" cy="53.94" r="3.00" fill="#6c1541"/>
<circle cx="459.58" cy="53.94" r="1.25" fill="#f38f2e"/>
<circle cx="471.55" cy="53.94" r="0.75" fill="#f38f2e"/>
<circle cx="483.52" cy="53.94" r="1.50" fill="#f38f2e"/>
<circle cx="495.49" cy="53.94" r="2.25" fill="#df4b2d"/>
<circle cx="507.46" cy="53.94" r="0.75" fill="#ea6228"/>
<circle cx="519.43" cy="53.94" r="1.00" fill="#ea6228"/>
<circle cx="531.40" cy="53.94" r="0.75" fill="#ea6228"/>
<circle cx="543.37" cy="53.94" r="2.00" fill="#f38f2e"/>
<circle cx="555.34" cy="53.94" r="1.25" fill="#df4b2d"/>
<circle cx="567.31" cy="53.94" r="2.25" fill="#df4b2d"/>
<circle cx="579.28" cy="53.94" r="4.25" fill="#b2233d"/>
<circle cx="591.25" cy="53.94" r="1.00" fill="#ea6228"/>
<circle cx="603.22" cy="53.94" r="0.75" fill="#f38f2e"/>
<circle cx="615.19" cy="53.94" r="1.75" fill="#ea6228"/>
<circle cx="292.00" cy="64.62" r="1.00" fill="#ea6228"/>
<circle cx="303.97" cy="64.62" r="1.00" fill="#ea6228"/>
<circle cx="315.94" cy="64.62" r="0.75" fill="#f38f2e"/>
<circle cx="327.91" cy="64.62" r="1.75" fill="#ea6228"/>
<circle cx="339.88" cy="64.62" r="2.25" fill="#df4b2d"/>
<circle cx="351.85" cy="64.62" r="0.50" fill="#ea6228"/>
<circle cx="363.82" cy="64.62" r="1.75" fill="#ea6228"/>
<circle cx="375.79" cy="64.62" r="2.50" fill="#ea6228"/>
<circle cx="387.76" cy="64.62" r="3.75" fill="#ea6228"/>
<circle cx="399.73" cy="64.62" r="3.50" fill="#ea6228"/>
<circle cx="411.70" cy="64.62" r="3.25" fill="#ea6228"/>
<circle cx="423.67" cy="64.62" r="1.75" fill="#ea6228"/>
<circle cx="435.64" cy="64.62" r="3.25" fill="#ea6228"/>
<circle cx="447.61" cy="64.62" r="2.00" fill="#f38f2e"/>
<circle cx="459.58" cy="64.62" r="2.50" fill="#b2233d"/>
<circle cx="471.55" cy="64.62" r="3.25" fill="#8f1b3f"/>
<circle cx="483.52" cy="64.62" r="3.25" fill="#8f1b3f"/>
<circle cx="495.49" cy="64.62" r="2.50" fill="#b2233d"/>
<circle cx="507.46" cy="64.62" r="0.50" fill="#f38f2e"/>
<circle cx="519.43" cy="64.62" r="1.25" fill="#ea6228"/>
<circle cx="531.40" cy="64.62" r="0.75" fill="#ea6228"/>
<circle cx="543.37" cy="64.62" r="3.00" fill="#df4b2d"/>
<circle cx="555.34" cy="64.62" r="1.25" fill="#ea6228"/>
<circle cx="567.31" cy="64.62" r="2.25" fill="#f38f2e"/>
<circle cx="579.28" cy="64.62" r="4.25" fill="#b2233d"/>
<circle cx="591.25" cy="64.62" r="2.25" fill="#df4b2d"/>
<circle cx="603.22" cy="64.62" r="0.50" fill="#f38f2e"/>
<circle cx="615.19" cy="64.62" r="2.25" fill="#df4b2d"/>
<circle cx="292.00" cy="75.30" r="0.75" fill="#ea6228"/>
<circle cx="303.97" cy="75.30" r="0.75" fill="#ea6228"/>
<circle cx="315.94" cy="75.30" r="0.75" fill="#ea6228"/>
<circle cx="327.91" cy="75.30" r="1.00" fill="#f38f2e"/>
<circle cx="339.88" cy="75.30" r="1.50" fill="#f38f2e"/>
<circle cx="351.85" cy="75.30" r="0.50" fill="#ea6228"/>
<circle cx="363.82" cy="75.30" r="1.50" fill="#ea6228"/>
<circle cx="375.79" cy="75.30" r="2.50" fill="#f38f2e"/>
<circle cx="387.76" cy="75.30" r="4.00" fill="#ea6228"/>
<circle cx="399.73" cy="75.30" r="3.50" fill="#f38f2e"/>
<circle cx="411.70" cy="75.30" r="3.50" fill="#ea6228"/>
<circle cx="423.67" cy="75.30" r="0.75" fill="#f38f2e"/>
<circle cx="435.64" cy="75.30" r="3.50" fill="#6c1541"/>
<circle cx="447.61" cy="75.30" r="2.75" fill="#ea6228"/>
<circle cx="459.58" cy="75.30" r="3.25" fill="#4e0f3f"/>
<circle cx="471.55" cy="75.30" r="3.00" fill="#b2233d"/>
<circle cx="483.52" cy="75.30" r="1.50" fill="#f38f2e"/>
<circle cx="495.49" cy="75.30" r="3.50" fill="#4e0f3f"/>
<circle cx="507.46" cy="75.30" r="2.00" fill="#4e0f3f"/>
<circle cx="519.43" cy="75.30" r="1.50" fill="#4e0f3f"/>
<circle cx="531.40" cy="75.30" r="1.50" fill="#b2233d"/>
<circle cx="543.37" cy="75.30" r="3.50" fill="#8f1b3f"/>
<circle cx="555.34" cy="75.30" r="1.25" fill="#df4b2d"/>
<circle cx="567.31" cy="75.30" r="2.50" fill="#ea6228"/>
<circle cx="579.28" cy="75.30" r="4.25" fill="#b2233d"/>
<circle cx="591.25" cy="75.30" r="2.25" fill="#df4b2d"/>
<circle cx="603.22" cy="75.30" r="0.50" fill="#f38f2e"/>
<circle cx="615.19" cy="75.30" r="2.25" fill="#df4b2d"/>
<circle cx="292.00" cy="85.98" r="0.75" fill="#ea6228"/>
<circle cx="303.97" cy="85.98" r="0.50" fill="#f38f2e"/>
<circle cx="315.94" cy="85.98" r="0.50" fill="#f38f2e"/>
<circle cx="327.91" cy="85.98" r="1.00" fill="#f38f2e"/>
<circle cx="339.88" cy="85.98" r="1.75" fill="#f38f2e"/>
<circle cx="351.85" cy="85.98" r="0.50" fill="#f38f2e"/>
<circle cx="363.82" cy="85.98" r="1.75" fill="#ea6228"/>
<circle cx="375.79" cy="85.98" r="3.50" fill="#ea6228"/>
<circle cx="387.76" cy="85.98" r="4.00" fill="#f38f2e"/>
<circle cx="399.73" cy="85.98" r="3.75" fill="#df4b2d"/>
<circle cx="411.70" cy="85.98" r="3.75" fill="#df4b2d"/>
<circle cx="423.67" cy="85.98" r="1.50" fill="#f38f2e"/>
<circle cx="435.64" cy="85.98" r="3.75" fill="#ea6228"/>
<circle cx="447.61" cy="85.98" r="3.00" fill="#df4b2d"/>
<circle cx="459.58" cy="85.98" r="3.00" fill="#8f1b3f"/>
<circle cx="471.55" cy="85.98" r="3.75" fill="#6c1541"/>
<circle cx="483.52" cy="85.98" r="3.25" fill="#6c1541"/>
<circle cx="495.49" cy="85.98" r="2.25" fill="#ea6228"/>
<circle cx="507.46" cy="85.98" r="0.50" fill="#f38f2e"/>
<circle cx="519.43" cy="85.98" r="1.75" fill="#b2233d"/>
<circle cx="531.40" cy="85.98" r="2.25" fill="#4e0f3f"/>
<circle cx="543.37" cy="85.98" r="3.75" fill="#6c1541"/>
<circle cx="555.34" cy="85.98" r="1.50" fill="#df4b2d"/>
<circle cx="567.31" cy="85.98" r="2.25" fill="#f38f2e"/>
<circle cx="579.28" cy="85.98" r="4.25" fill="#b2233d"/>
<circle cx="591.25" cy="85.98" r="2.50" fill="#b2233d"/>
<circle cx="603.22" cy="85.98" r="0.75" fill="#ea6228"/>
<circle cx="615.19" cy="85.98" r="3.00" fill="#8f1b3f"/>
<circle cx="292.00" cy="96.66" r="0.75" fill="#ea6228"/>
<circle cx="303.97" cy="96.66" r="0.75" fill="#ea6228"/>
<circle cx="315.94" cy="96.66" r="0.75" fill="#ea6228"/>
<circle cx="327.91" cy="96.66" r="1.25" fill="#ea6228"/>
<circle cx="339.88" cy="96.66" r="1.50" fill="#ea6228"/>
<circle cx="351.85" cy="96.66" r="0.50" fill="#f38f2e"/>
<circle cx="363.82" cy="96.66" r="1.25" fill="#df4b2d"/>
<circle cx="375.79" cy="96.66" r="1.75" fill="#ea6228"/>
<circle cx="387.76" cy="96.66" r="2.50" fill="#ea6228"/>
<circle cx="399.73" cy="96.66" r="2.00" fill="#f38f2e"/>
<circle cx="411.70" cy="96.66" r="2.00" fill="#ea6228"/>
<circle cx="423.67" cy="96.66" r="1.75" fill="#df4b2d"/>
<circle cx="435.64" cy="96.66" r="2.25" fill="#ea6228"/>
<circle cx="447.61" cy="96.66" r="1.50" fill="#f38f2e"/>
<circle cx="459.58" cy="96.66" r="1.00" fill="#df4b2d"/>
<circle cx="471.55" cy="96.66" r="1.00" fill="#f38f2e"/>
<circle cx="483.52" cy="96.66" r="1.00" fill="#f38f2e"/>
<circle cx="495.49" cy="96.66" r="1.50" fill="#ea6228"/>
<circle cx="507.46" cy="96.66" r="0.50" fill="#f38f2e"/>
<circle cx="519.43" cy="96.66" r="0.75" fill="#f38f2e"/>
<circle cx="531.40" cy="96.66" r="0.75" fill="#b2233d"/>
<circle cx="543.37" cy="96.66" r="1.25" fill="#f38f2e"/>
<circle cx="555.34" cy="96.66" r="1.25" fill="#4e0f3f"/>
<circle cx="567.31" cy="96.66" r="1.75" fill="#4e0f3f"/>
<circle cx="579.28" cy="96.66" r="3.75" fill="#df4b2d"/>
<circle cx="591.25" cy="96.66" r="1.00" fill="#ea6228"/>
<circle cx="603.22" cy="96.66" r="0.50" fill="#f38f2e"/>
<circle cx="615.19" cy="96.66" r="1.00" fill="#ea6228"/>
<circle cx="292.00" cy="107.34" r="0.75" fill="#ea6228"/>
<circle cx="303.97" cy="107.34" r="0.75" fill="#ea6228"/>
<circle cx="315.94" cy="107.34" r="0.75" fill="#ea6228"/>
<circle cx="327.91" cy="107.34" r="1.50" fill="#ea6228"/>
<circle cx="339.88" cy="107.34" r="1.75" fill="#ea6228"/>
<circle cx="351.85" cy="107.34" r="0.50" fill="#ea6228"/>
<circle cx="363.82" cy="107.34" r="1.25" fill="#ea6228"/>
<circle cx="375.79" cy="107.34" r="2.00" fill="#ea6228"/>
<circle cx="387.76" cy="107.34" r="2.75" fill="#f38f2e"/>
<circle cx="399.73" cy="107.34" r="2.25" fill="#f38f2e"/>
<circle cx="411.70" cy="107.34" r="2.25" fill="#f38f2e"/>
<circle cx="423.67" cy="107.34" r="2.00" fill="#df4b2d"/>
<circle cx="435.64" cy="107.34" r="2.50" fill="#f38f2e"/>
<circle cx="447.61" cy="107.34" r="1.50" fill="#f38f2e"/>
<circle cx="459.58" cy="107.34" r="1.50" fill="#df4b2d"/>
<circle cx="471.55" cy="107.34" r="2.00" fill="#df4b2d"/>
<circle cx="483.52" cy="107.34" r="2.00" fill="#df4b2d"/>
<circle cx="495.49" cy="107.34" r="2.00" fill="#df4b2d"/>
<circle cx="507.46" cy="107.34" r="0.75" fill="#df4b2d"/>
<circle cx="519.43" cy="107.34" r="1.00" fill="#ea6228"/>
<circle cx="531.40" cy="107.34" r="0.75" fill="#ea6228"/>
<circle cx="543.37" cy="107.34" r="2.25" fill="#df4b2d"/>
<circle cx="555.34" cy="107.34" r="1.00" fill="#ea6228"/>
<circle cx="567.31" cy="107.34" r="1.75" fill="#f38f2e"/>
<circle cx="579.28" cy="107.34" r="4.25" fill="#8f1b3f"/>
<circle cx="591.25" cy="107.34" r="1.25" fill="#ea6228"/>
<circle cx="603.22" cy="107.34" r="0.50" fill="#f38f2e"/>
<circle cx="615.19" cy="107.34" r="1.50" fill="#df4b2d"/>
<circle cx="292.00" cy="118.02" r="0.75" fill="#ea6228"/>
<circle cx="303.97" cy="118.02" r="1.00" fill="#ea6228"/>
<circle cx="315.94" cy="118.02" r="0.50" fill="#f38f2e"/>
<circle cx="327.91" cy="118.02" r="1.75" fill="#f38f2e"/>
<circle cx="339.88" cy="118.02" r="1.25" fill="#f38f2e"/>
<circle cx="351.85" cy="118.02" r="0.50" fill="#f38f2e"/>
<circle cx="363.82" cy="118.02" r="1.25" fill="#ea6228"/>
<circle cx="375.79" cy="118.02" r="2.25" fill="#f38f2e"/>
<circle cx="387.76" cy="118.02" r="3.00" fill="#f38f2e"/>
<circle cx="399.73" cy="118.02" r="3.50" fill="#f38f2e"/>
<circle cx="411.70" cy="118.02" r="3.00" fill="#f38f2e"/>
<circle cx="423.67" cy="118.02" r="0.75" fill="#ea6228"/>
<circle cx="435.64" cy="118.02" r="3.50" fill="#df4b2d"/>
<circle cx="447.61" cy="118.02" r="2.75" fill="#ea6228"/>
<circle cx="459.58" cy="118.02" r="0.75" fill="#f38f2e"/>
<circle cx="471.55" cy="118.02" r="1.75" fill="#f38f2e"/>
<circle cx="483.52" cy="118.02" r="2.75" fill="#df4b2d"/>
<circle cx="495.49" cy="118.02" r="0.75" fill="#f5b048"/>
<circle cx="507.46" cy="118.02" r="0.50" fill="#f5b048"/>
<circle cx="519.43" cy="118.02" r="1.00" fill="#ea6228"/>
<circle cx="531.40" cy="118.02" r="0.75" fill="#f38f2e"/>
<circle cx="543.37" cy="118.02" r="2.25" fill="#f38f2e"/>
<circle cx="555.34" cy="118.02" r="1.50" fill="#df4b2d"/>
<circle cx="567.31" cy="118.02" r="2.75" fill="#b2233d"/>
<circle cx="579.28" cy="118.02" r="4.25" fill="#ea6228"/>
<circle cx="591.25" cy="118.02" r="4.00" fill="#4e0f3f"/>
<circle cx="603.22" cy="118.02" r="2.00" fill="#4e0f3f"/>
<circle cx="615.19" cy="118.02" r="2.75" fill="#8f1b3f"/>
<line x1="285.60" y1="15.30" x2="285.60" y2="124.20" stroke="#333" stroke-width="0.9"/>
<line x1="285.60" y1="124.20" x2="622.00" y2="124.20" stroke="#333" stroke-width="0.9"/>
<line x1="283.60" y1="21.90" x2="285.60" y2="21.90" stroke="#333" stroke-width="0.8"/>
<text x="282.50" y="24.70" font-size="7.8" text-anchor="end" fill="#1a1a1a" stroke="#1a1a1a" stroke-width="0.18">Tnaive</text>
<line x1="283.60" y1="32.58" x2="285.60" y2="32.58" stroke="#333" stroke-width="0.8"/>
<text x="282.50" y="35.38" font-size="7.8" text-anchor="end" fill="#1a1a1a" stroke="#1a1a1a" stroke-width="0.18">Tcm-LTB</text>
<line x1="283.60" y1="43.26" x2="285.60" y2="43.26" stroke="#333" stroke-width="0.8"/>
<text x="282.50" y="46.06" font-size="7.8" text-anchor="end" fill="#1a1a1a" stroke="#1a1a1a" stroke-width="0.18">Tcm-FOSB</text>
<line x1="283.60" y1="53.94" x2="285.60" y2="53.94" stroke="#333" stroke-width="0.8"/>
<text x="282.50" y="56.74" font-size="7.8" text-anchor="end" fill="#1a1a1a" stroke="#1a1a1a" stroke-width="0.18">Tem-GZMK</text>
<line x1="283.60" y1="64.62" x2="285.60" y2="64.62" stroke="#333" stroke-width="0.8"/>
<text x="282.50" y="67.42" font-size="7.8" text-anchor="end" fill="#1a1a1a" stroke="#1a1a1a" stroke-width="0.18">Trm-like</text>
<line x1="283.60" y1="75.30" x2="285.60" y2="75.30" stroke="#333" stroke-width="0.8"/>
<text x="282.50" y="78.10" font-size="7.8" text-anchor="end" fill="#1a1a1a" stroke="#1a1a1a" stroke-width="0.18">Trm-CXCR6</text>
<line x1="283.60" y1="85.98" x2="285.60" y2="85.98" stroke="#333" stroke-width="0.8"/>
<text x="282.50" y="88.78" font-size="7.8" text-anchor="end" fill="#1a1a1a" stroke="#1a1a1a" stroke-width="0.18">Trm-ZNF683</text>
<line x1="283.60" y1="96.66" x2="285.60" y2="96.66" stroke="#333" stroke-width="0.8"/>
<text x="282.50" y="99.46" font-size="7.8" text-anchor="end" fill="#1a1a1a" stroke="#1a1a1a" stroke-width="0.18">Tm-RUNX1</text>
<line x1="283.60" y1="107.34" x2="285.60" y2="107.34" stroke="#333" stroke-width="0.8"/>
<text x="282.50" y="110.14" font-size="7.8" text-anchor="end" fill="#1a1a1a" stroke="#1a1a1a" stroke-width="0.18">Tm-CCL5</text>
<line x1="283.60" y1="118.02" x2="285.60" y2="118.02" stroke="#333" stroke-width="0.8"/>
<text x="282.50" y="120.82" font-size="7.8" text-anchor="end" fill="#1a1a1a" stroke="#1a1a1a" stroke-width="0.18">Tnk</text>
<line x1="292.00" y1="124.20" x2="292.00" y2="126.20" stroke="#333" stroke-width="0.8"/>
<text x="295.60" y="130.60" font-size="7.8" text-anchor="end" fill="#1a1a1a" stroke="#1a1a1a" stroke-width="0.18" transform="rotate(-45 295.6 130.6)">TCF7</text>
<line x1="303.97" y1="124.20" x2="303.97" y2="126.20" stroke="#333" stroke-width="0.8"/>
<text x="307.57" y="130.60" font-size="7.8" text-anchor="end" fill="#1a1a1a" stroke="#1a1a1a" stroke-width="0.18" transform="rotate(-45 307.57000000000005 130.6)">SELL</text>
<line x1="315.94" y1="124.20" x2="315.94" y2="126.20" stroke="#333" stroke-width="0.8"/>
<text x="319.54" y="130.60" font-size="7.8" text-anchor="end" fill="#1a1a1a" stroke="#1a1a1a" stroke-width="0.18" transform="rotate(-45 319.54 130.6)">CCR7</text>
<line x1="327.91" y1="124.20" x2="327.91" y2="126.20" stroke="#333" stroke-width="0.8"/>
<text x="331.51" y="130.60" font-size="7.8" text-anchor="end" fill="#1a1a1a" stroke="#1a1a1a" stroke-width="0.18" transform="rotate(-45 331.51000000000005 130.6)">IL7R</text>
<line x1="339.88" y1="124.20" x2="339.88" y2="126.20" stroke="#333" stroke-width="0.8"/>
<text x="343.48" y="130.60" font-size="7.8" text-anchor="end" fill="#1a1a1a" stroke="#1a1a1a" stroke-width="0.18" transform="rotate(-45 343.48 130.6)">LTB</text>
<line x1="351.85" y1="124.20" x2="351.85" y2="126.20" stroke="#333" stroke-width="0.8"/>
<text x="355.45" y="130.60" font-size="7.8" text-anchor="end" fill="#1a1a1a" stroke="#1a1a1a" stroke-width="0.18" transform="rotate(-45 355.45000000000005 130.6)">CCR6</text>
<line x1="363.82" y1="124.20" x2="363.82" y2="126.20" stroke="#333" stroke-width="0.8"/>
<text x="367.42" y="130.60" font-size="7.8" text-anchor="end" fill="#1a1a1a" stroke="#1a1a1a" stroke-width="0.18" transform="rotate(-45 367.42 130.6)">FOSB</text>
<line x1="375.79" y1="124.20" x2="375.79" y2="126.20" stroke="#333" stroke-width="0.8"/>
<text x="379.39" y="130.60" font-size="7.8" text-anchor="end" fill="#1a1a1a" stroke="#1a1a1a" stroke-width="0.18" transform="rotate(-45 379.39000000000004 130.6)">FOS</text>
<line x1="387.76" y1="124.20" x2="387.76" y2="126.20" stroke="#333" stroke-width="0.8"/>
<text x="391.36" y="130.60" font-size="7.8" text-anchor="end" fill="#1a1a1a" stroke="#1a1a1a" stroke-width="0.18" transform="rotate(-45 391.36 130.6)">JUN</text>
<line x1="399.73" y1="124.20" x2="399.73" y2="126.20" stroke="#333" stroke-width="0.8"/>
<text x="403.33" y="130.60" font-size="7.8" text-anchor="end" fill="#1a1a1a" stroke="#1a1a1a" stroke-width="0.18" transform="rotate(-45 403.33000000000004 130.6)">JUNB</text>
<line x1="411.70" y1="124.20" x2="411.70" y2="126.20" stroke="#333" stroke-width="0.8"/>
<text x="415.30" y="130.60" font-size="7.8" text-anchor="end" fill="#1a1a1a" stroke="#1a1a1a" stroke-width="0.18" transform="rotate(-45 415.3 130.6)">CD69</text>
<line x1="423.67" y1="124.20" x2="423.67" y2="126.20" stroke="#333" stroke-width="0.8"/>
<text x="427.27" y="130.60" font-size="7.8" text-anchor="end" fill="#1a1a1a" stroke="#1a1a1a" stroke-width="0.18" transform="rotate(-45 427.27000000000004 130.6)">GZMK</text>
<line x1="435.64" y1="124.20" x2="435.64" y2="126.20" stroke="#333" stroke-width="0.8"/>
<text x="439.24" y="130.60" font-size="7.8" text-anchor="end" fill="#1a1a1a" stroke="#1a1a1a" stroke-width="0.18" transform="rotate(-45 439.24 130.6)">CCL4</text>
<line x1="447.61" y1="124.20" x2="447.61" y2="126.20" stroke="#333" stroke-width="0.8"/>
<text x="451.21" y="130.60" font-size="7.8" text-anchor="end" fill="#1a1a1a" stroke="#1a1a1a" stroke-width="0.18" transform="rotate(-45 451.21000000000004 130.6)">DUSP2</text>
<line x1="459.58" y1="124.20" x2="459.58" y2="126.20" stroke="#333" stroke-width="0.8"/>
<text x="463.18" y="130.60" font-size="7.8" text-anchor="end" fill="#1a1a1a" stroke="#1a1a1a" stroke-width="0.18" transform="rotate(-45 463.18000000000006 130.6)">ITGAE</text>
<line x1="471.55" y1="124.20" x2="471.55" y2="126.20" stroke="#333" stroke-width="0.8"/>
<text x="475.15" y="130.60" font-size="7.8" text-anchor="end" fill="#1a1a1a" stroke="#1a1a1a" stroke-width="0.18" transform="rotate(-45 475.15000000000003 130.6)">ZNF683</text>
<line x1="483.52" y1="124.20" x2="483.52" y2="126.20" stroke="#333" stroke-width="0.8"/>
<text x="487.12" y="130.60" font-size="7.8" text-anchor="end" fill="#1a1a1a" stroke="#1a1a1a" stroke-width="0.18" transform="rotate(-45 487.12 130.6)">HOPX</text>
<line x1="495.49" y1="124.20" x2="495.49" y2="126.20" stroke="#333" stroke-width="0.8"/>
<text x="499.09" y="130.60" font-size="7.8" text-anchor="end" fill="#1a1a1a" stroke="#1a1a1a" stroke-width="0.18" transform="rotate(-45 499.09000000000003 130.6)">CXCR6</text>
<line x1="507.46" y1="124.20" x2="507.46" y2="126.20" stroke="#333" stroke-width="0.8"/>
<text x="511.06" y="130.60" font-size="7.8" text-anchor="end" fill="#1a1a1a" stroke="#1a1a1a" stroke-width="0.18" transform="rotate(-45 511.06000000000006 130.6)">CXCL13</text>
<line x1="519.43" y1="124.20" x2="519.43" y2="126.20" stroke="#333" stroke-width="0.8"/>
<text x="523.03" y="130.60" font-size="7.8" text-anchor="end" fill="#1a1a1a" stroke="#1a1a1a" stroke-width="0.18" transform="rotate(-45 523.0300000000001 130.6)">XCL2</text>
<line x1="531.40" y1="124.20" x2="531.40" y2="126.20" stroke="#333" stroke-width="0.8"/>
<text x="535.00" y="130.60" font-size="7.8" text-anchor="end" fill="#1a1a1a" stroke="#1a1a1a" stroke-width="0.18" transform="rotate(-45 535.0 130.6)">CCL18</text>
<line x1="543.37" y1="124.20" x2="543.37" y2="126.20" stroke="#333" stroke-width="0.8"/>
<text x="546.97" y="130.60" font-size="7.8" text-anchor="end" fill="#1a1a1a" stroke="#1a1a1a" stroke-width="0.18" transform="rotate(-45 546.97 130.6)">CD83</text>
<line x1="555.34" y1="124.20" x2="555.34" y2="126.20" stroke="#333" stroke-width="0.8"/>
<text x="558.94" y="130.60" font-size="7.8" text-anchor="end" fill="#1a1a1a" stroke="#1a1a1a" stroke-width="0.18" transform="rotate(-45 558.94 130.6)">RUNX1</text>
<line x1="567.31" y1="124.20" x2="567.31" y2="126.20" stroke="#333" stroke-width="0.8"/>
<text x="570.91" y="130.60" font-size="7.8" text-anchor="end" fill="#1a1a1a" stroke="#1a1a1a" stroke-width="0.18" transform="rotate(-45 570.91 130.6)">NEAT1</text>
<line x1="579.28" y1="124.20" x2="579.28" y2="126.20" stroke="#333" stroke-width="0.8"/>
<text x="582.88" y="130.60" font-size="7.8" text-anchor="end" fill="#1a1a1a" stroke="#1a1a1a" stroke-width="0.18" transform="rotate(-45 582.88 130.6)">CCL5</text>
<line x1="591.25" y1="124.20" x2="591.25" y2="126.20" stroke="#333" stroke-width="0.8"/>
<text x="594.85" y="130.60" font-size="7.8" text-anchor="end" fill="#1a1a1a" stroke="#1a1a1a" stroke-width="0.18" transform="rotate(-45 594.85 130.6)">GNLY</text>
<line x1="603.22" y1="124.20" x2="603.22" y2="126.20" stroke="#333" stroke-width="0.8"/>
<text x="606.82" y="130.60" font-size="7.8" text-anchor="end" fill="#1a1a1a" stroke="#1a1a1a" stroke-width="0.18" transform="rotate(-45 606.82 130.6)">FCGR3A</text>
<line x1="615.19" y1="124.20" x2="615.19" y2="126.20" stroke="#333" stroke-width="0.8"/>
<text x="618.79" y="130.60" font-size="7.8" text-anchor="end" fill="#1a1a1a" stroke="#1a1a1a" stroke-width="0.18" transform="rotate(-45 618.7900000000001 130.6)">KLRD1</text>
<text x="631.00" y="22.00" font-size="8.7" text-anchor="start" fill="#1a1a1a" stroke="#1a1a1a" stroke-width="0.18">Average Expr.</text>
<defs><linearGradient id="cb1" x1="0" y1="1" x2="0" y2="0"><stop offset="0.000" stop-color="#f3d88a"/><stop offset="0.111" stop-color="#f5bb55"/><stop offset="0.222" stop-color="#f5a035"/><stop offset="0.333" stop-color="#f2832a"/><stop offset="0.444" stop-color="#ea6228"/><stop offset="0.556" stop-color="#d83c30"/><stop offset="0.667" stop-color="#b2233d"/><stop offset="0.778" stop-color="#86193f"/><stop offset="0.889" stop-color="#5a1242"/><stop offset="1.000" stop-color="#3d0b3a"/></linearGradient></defs>
<rect x="631.10" y="27.00" width="9.80" height="48.30" fill="url(#cb1)" stroke="none" stroke-width="1"/>
<line x1="631.10" y1="32.50" x2="633.00" y2="32.50" stroke="#fff" stroke-width="0.6"/>
<line x1="639.00" y1="32.50" x2="640.90" y2="32.50" stroke="#fff" stroke-width="0.6"/>
<text x="643.50" y="35.30" font-size="7.8" text-anchor="start" fill="#1a1a1a" stroke="#1a1a1a" stroke-width="0.18">2</text>
<line x1="631.10" y1="43.00" x2="633.00" y2="43.00" stroke="#fff" stroke-width="0.6"/>
<line x1="639.00" y1="43.00" x2="640.90" y2="43.00" stroke="#fff" stroke-width="0.6"/>
<text x="643.50" y="45.80" font-size="7.8" text-anchor="start" fill="#1a1a1a" stroke="#1a1a1a" stroke-width="0.18">1</text>
<line x1="631.10" y1="53.50" x2="633.00" y2="53.50" stroke="#fff" stroke-width="0.6"/>
<line x1="639.00" y1="53.50" x2="640.90" y2="53.50" stroke="#fff" stroke-width="0.6"/>
<text x="643.50" y="56.30" font-size="7.8" text-anchor="start" fill="#1a1a1a" stroke="#1a1a1a" stroke-width="0.18">0</text>
<line x1="631.10" y1="64.20" x2="633.00" y2="64.20" stroke="#fff" stroke-width="0.6"/>
<line x1="639.00" y1="64.20" x2="640.90" y2="64.20" stroke="#fff" stroke-width="0.6"/>
<text x="643.50" y="67.00" font-size="7.8" text-anchor="start" fill="#1a1a1a" stroke="#1a1a1a" stroke-width="0.18">−1</text>
<line x1="631.10" y1="74.80" x2="633.00" y2="74.80" stroke="#fff" stroke-width="0.6"/>
<line x1="639.00" y1="74.80" x2="640.90" y2="74.80" stroke="#fff" stroke-width="0.6"/>
<text x="643.50" y="77.60" font-size="7.8" text-anchor="start" fill="#1a1a1a" stroke="#1a1a1a" stroke-width="0.18">−2</text>
<text x="631.00" y="91.40" font-size="8.7" text-anchor="start" fill="#1a1a1a" stroke="#1a1a1a" stroke-width="0.18">Percent Expr.</text>
<circle cx="635.90" cy="101.60" r="1.90" fill="#000"/>
<text x="645.00" y="104.40" font-size="7.8" text-anchor="start" fill="#1a1a1a" stroke="#1a1a1a" stroke-width="0.18">25</text>
<circle cx="635.90" cy="111.30" r="2.69" fill="#000"/>
<text x="645.00" y="114.10" font-size="7.8" text-anchor="start" fill="#1a1a1a" stroke="#1a1a1a" stroke-width="0.18">50</text>
<circle cx="635.90" cy="120.80" r="3.29" fill="#000"/>
<text x="645.00" y="123.60" font-size="7.8" text-anchor="start" fill="#1a1a1a" stroke="#1a1a1a" stroke-width="0.18">75</text>
<rect x="584.00" y="176.00" width="15.70" height="8.86" fill="#c4581d" stroke="#fff" stroke-width="0.9"/>
<rect x="599.70" y="176.00" width="15.70" height="8.86" fill="#659eb6" stroke="#fff" stroke-width="0.9"/>
<rect x="615.40" y="176.00" width="15.70" height="8.86" fill="#88b4c7" stroke="#fff" stroke-width="0.9"/>
<text x="582.00" y="182.13" font-size="7.6" text-anchor="end" fill="#1a1a1a" stroke="#1a1a1a" stroke-width="0.18">IL7R</text>
<rect x="584.00" y="184.86" width="15.70" height="8.86" fill="#c4581d" stroke="#fff" stroke-width="0.9"/>
<rect x="599.70" y="184.86" width="15.70" height="8.86" fill="#71a5bc" stroke="#fff" stroke-width="0.9"/>
<rect x="615.40" y="184.86" width="15.70" height="8.86" fill="#7cadc2" stroke="#fff" stroke-width="0.9"/>
<text x="582.00" y="190.99" font-size="7.6" text-anchor="end" fill="#1a1a1a" stroke="#1a1a1a" stroke-width="0.18">LTB</text>
<rect x="584.00" y="193.72" width="15.70" height="8.86" fill="#ce7441" stroke="#fff" stroke-width="0.9"/>
<rect x="599.70" y="193.72" width="15.70" height="8.86" fill="#0b6184" stroke="#fff" stroke-width="0.9"/>
<rect x="615.40" y="193.72" width="15.70" height="8.86" fill="#f7f4f3" stroke="#fff" stroke-width="0.9"/>
<text x="582.00" y="199.85" font-size="7.6" text-anchor="end" fill="#1a1a1a" stroke="#1a1a1a" stroke-width="0.18">GZMK</text>
<rect x="584.00" y="202.58" width="15.70" height="8.86" fill="#d07a4a" stroke="#fff" stroke-width="0.9"/>
<rect x="599.70" y="202.58" width="15.70" height="8.86" fill="#f8f8f8" stroke="#fff" stroke-width="0.9"/>
<rect x="615.40" y="202.58" width="15.70" height="8.86" fill="#0b6184" stroke="#fff" stroke-width="0.9"/>
<text x="582.00" y="208.71" font-size="7.6" text-anchor="end" fill="#1a1a1a" stroke="#1a1a1a" stroke-width="0.18">FKBP11</text>
<rect x="584.00" y="211.44" width="15.70" height="8.86" fill="#c65f26" stroke="#fff" stroke-width="0.9"/>
<rect x="599.70" y="211.44" width="15.70" height="8.86" fill="#aecbd8" stroke="#fff" stroke-width="0.9"/>
<rect x="615.40" y="211.44" width="15.70" height="8.86" fill="#4487a3" stroke="#fff" stroke-width="0.9"/>
<text x="582.00" y="217.57" font-size="7.6" text-anchor="end" fill="#1a1a1a" stroke="#1a1a1a" stroke-width="0.18">CD52</text>
<rect x="584.00" y="220.30" width="15.70" height="8.86" fill="#7cadc2" stroke="#fff" stroke-width="0.9"/>
<rect x="599.70" y="220.30" width="15.70" height="8.86" fill="#c4581d" stroke="#fff" stroke-width="0.9"/>
<rect x="615.40" y="220.30" width="15.70" height="8.86" fill="#71a5bc" stroke="#fff" stroke-width="0.9"/>
<text x="582.00" y="226.43" font-size="7.6" text-anchor="end" fill="#1a1a1a" stroke="#1a1a1a" stroke-width="0.18">CXCL13</text>
<rect x="584.00" y="229.16" width="15.70" height="8.86" fill="#387f9d" stroke="#fff" stroke-width="0.9"/>
<rect x="599.70" y="229.16" width="15.70" height="8.86" fill="#c4581d" stroke="#fff" stroke-width="0.9"/>
<rect x="615.40" y="229.16" width="15.70" height="8.86" fill="#aecbd8" stroke="#fff" stroke-width="0.9"/>
<text x="582.00" y="235.29" font-size="7.6" text-anchor="end" fill="#1a1a1a" stroke="#1a1a1a" stroke-width="0.18">IFNG</text>
<rect x="584.00" y="238.02" width="15.70" height="8.86" fill="#95bccd" stroke="#fff" stroke-width="0.9"/>
<rect x="599.70" y="238.02" width="15.70" height="8.86" fill="#c4581d" stroke="#fff" stroke-width="0.9"/>
<rect x="615.40" y="238.02" width="15.70" height="8.86" fill="#4f8fa9" stroke="#fff" stroke-width="0.9"/>
<text x="582.00" y="244.15" font-size="7.6" text-anchor="end" fill="#1a1a1a" stroke="#1a1a1a" stroke-width="0.18">STAT1</text>
<rect x="584.00" y="246.88" width="15.70" height="8.86" fill="#71a5bc" stroke="#fff" stroke-width="0.9"/>
<rect x="599.70" y="246.88" width="15.70" height="8.86" fill="#c4581d" stroke="#fff" stroke-width="0.9"/>
<rect x="615.40" y="246.88" width="15.70" height="8.86" fill="#71a5bc" stroke="#fff" stroke-width="0.9"/>
<text x="582.00" y="253.01" font-size="7.6" text-anchor="end" fill="#1a1a1a" stroke="#1a1a1a" stroke-width="0.18">IL17A</text>
<rect x="584.00" y="255.74" width="15.70" height="8.86" fill="#7cadc2" stroke="#fff" stroke-width="0.9"/>
<rect x="599.70" y="255.74" width="15.70" height="8.86" fill="#c4581d" stroke="#fff" stroke-width="0.9"/>
<rect x="615.40" y="255.74" width="15.70" height="8.86" fill="#71a5bc" stroke="#fff" stroke-width="0.9"/>
<text x="582.00" y="261.87" font-size="7.6" text-anchor="end" fill="#1a1a1a" stroke="#1a1a1a" stroke-width="0.18">TIGIT</text>
<rect x="584.00" y="264.60" width="15.70" height="8.86" fill="#7cadc2" stroke="#fff" stroke-width="0.9"/>
<rect x="599.70" y="264.60" width="15.70" height="8.86" fill="#c4581d" stroke="#fff" stroke-width="0.9"/>
<rect x="615.40" y="264.60" width="15.70" height="8.86" fill="#659eb6" stroke="#fff" stroke-width="0.9"/>
<text x="582.00" y="270.73" font-size="7.6" text-anchor="end" fill="#1a1a1a" stroke="#1a1a1a" stroke-width="0.18">CTLA4</text>
<rect x="584.00" y="273.46" width="15.70" height="8.86" fill="#aecbd8" stroke="#fff" stroke-width="0.9"/>
<rect x="599.70" y="273.46" width="15.70" height="8.86" fill="#c4581d" stroke="#fff" stroke-width="0.9"/>
<rect x="615.40" y="273.46" width="15.70" height="8.86" fill="#387f9d" stroke="#fff" stroke-width="0.9"/>
<text x="582.00" y="279.59" font-size="7.6" text-anchor="end" fill="#1a1a1a" stroke="#1a1a1a" stroke-width="0.18">ICOS</text>
<rect x="584.00" y="282.32" width="15.70" height="8.86" fill="#2d7897" stroke="#fff" stroke-width="0.9"/>
<rect x="599.70" y="282.32" width="15.70" height="8.86" fill="#c65f26" stroke="#fff" stroke-width="0.9"/>
<rect x="615.40" y="282.32" width="15.70" height="8.86" fill="#c6dae2" stroke="#fff" stroke-width="0.9"/>
<text x="582.00" y="288.45" font-size="7.6" text-anchor="end" fill="#1a1a1a" stroke="#1a1a1a" stroke-width="0.18">RGS1</text>
<rect x="584.00" y="291.18" width="15.70" height="8.86" fill="#4487a3" stroke="#fff" stroke-width="0.9"/>
<rect x="599.70" y="291.18" width="15.70" height="8.86" fill="#c4581d" stroke="#fff" stroke-width="0.9"/>
<rect x="615.40" y="291.18" width="15.70" height="8.86" fill="#95bccd" stroke="#fff" stroke-width="0.9"/>
<text x="582.00" y="297.31" font-size="7.6" text-anchor="end" fill="#1a1a1a" stroke="#1a1a1a" stroke-width="0.18">TOX</text>
<rect x="584.00" y="300.04" width="15.70" height="8.86" fill="#387f9d" stroke="#fff" stroke-width="0.9"/>
<rect x="599.70" y="300.04" width="15.70" height="8.86" fill="#c65f26" stroke="#fff" stroke-width="0.9"/>
<rect x="615.40" y="300.04" width="15.70" height="8.86" fill="#aecbd8" stroke="#fff" stroke-width="0.9"/>
<text x="582.00" y="306.17" font-size="7.6" text-anchor="end" fill="#1a1a1a" stroke="#1a1a1a" stroke-width="0.18">CCL3</text>
<rect x="584.00" y="308.90" width="15.70" height="8.86" fill="#aecbd8" stroke="#fff" stroke-width="0.9"/>
<rect x="599.70" y="308.90" width="15.70" height="8.86" fill="#c65f26" stroke="#fff" stroke-width="0.9"/>
<rect x="615.40" y="308.90" width="15.70" height="8.86" fill="#2d7897" stroke="#fff" stroke-width="0.9"/>
<text x="582.00" y="315.03" font-size="7.6" text-anchor="end" fill="#1a1a1a" stroke="#1a1a1a" stroke-width="0.18">PDCD1</text>
<rect x="584.00" y="317.76" width="15.70" height="8.86" fill="#5a96af" stroke="#fff" stroke-width="0.9"/>
<rect x="599.70" y="317.76" width="15.70" height="8.86" fill="#88b4c7" stroke="#fff" stroke-width="0.9"/>
<rect x="615.40" y="317.76" width="15.70" height="8.86" fill="#c4581d" stroke="#fff" stroke-width="0.9"/>
<text x="582.00" y="323.89" font-size="7.6" text-anchor="end" fill="#1a1a1a" stroke="#1a1a1a" stroke-width="0.18">IKZF2</text>
<rect x="584.00" y="326.62" width="15.70" height="8.86" fill="#0b6184" stroke="#fff" stroke-width="0.9"/>
<rect x="599.70" y="326.62" width="15.70" height="8.86" fill="#f7f4f3" stroke="#fff" stroke-width="0.9"/>
<rect x="615.40" y="326.62" width="15.70" height="8.86" fill="#ce7441" stroke="#fff" stroke-width="0.9"/>
<text x="582.00" y="332.75" font-size="7.6" text-anchor="end" fill="#1a1a1a" stroke="#1a1a1a" stroke-width="0.18">CCL18</text>
<rect x="584.00" y="335.48" width="15.70" height="8.86" fill="#71a5bc" stroke="#fff" stroke-width="0.9"/>
<rect x="599.70" y="335.48" width="15.70" height="8.86" fill="#659eb6" stroke="#fff" stroke-width="0.9"/>
<rect x="615.40" y="335.48" width="15.70" height="8.86" fill="#c4581d" stroke="#fff" stroke-width="0.9"/>
<text x="582.00" y="341.61" font-size="7.6" text-anchor="end" fill="#1a1a1a" stroke="#1a1a1a" stroke-width="0.18">KLRC1</text>
<rect x="584.00" y="344.34" width="15.70" height="8.86" fill="#0b6184" stroke="#fff" stroke-width="0.9"/>
<rect x="599.70" y="344.34" width="15.70" height="8.86" fill="#dfe9ed" stroke="#fff" stroke-width="0.9"/>
<rect x="615.40" y="344.34" width="15.70" height="8.86" fill="#cb6d38" stroke="#fff" stroke-width="0.9"/>
<text x="582.00" y="350.47" font-size="7.6" text-anchor="end" fill="#1a1a1a" stroke="#1a1a1a" stroke-width="0.18">SFTPC</text>
<rect x="584.00" y="353.20" width="15.70" height="8.86" fill="#227090" stroke="#fff" stroke-width="0.9"/>
<rect x="599.70" y="353.20" width="15.70" height="8.86" fill="#bad2dd" stroke="#fff" stroke-width="0.9"/>
<rect x="615.40" y="353.20" width="15.70" height="8.86" fill="#c65f26" stroke="#fff" stroke-width="0.9"/>
<text x="582.00" y="359.33" font-size="7.6" text-anchor="end" fill="#1a1a1a" stroke="#1a1a1a" stroke-width="0.18">LYZ</text>
<text x="590.35" y="173.50" font-size="7.2" text-anchor="start" fill="#1a1a1a" stroke="#1a1a1a" stroke-width="0.18" transform="rotate(-45 590.35 173.5)">Trm-like</text>
<text x="606.05" y="173.50" font-size="7.2" text-anchor="start" fill="#1a1a1a" stroke="#1a1a1a" stroke-width="0.18" transform="rotate(-45 606.0500000000001 173.5)">Trm-CXCR6</text>
<text x="621.75" y="173.50" font-size="7.2" text-anchor="start" fill="#1a1a1a" stroke="#1a1a1a" stroke-width="0.18" transform="rotate(-45 621.75 173.5)">Trm-ZNF683</text>
<text x="633.10" y="182.60" font-size="8.5" text-anchor="start" fill="#1a1a1a" stroke="#1a1a1a" stroke-width="0.18">Scaled</text>
<text x="665.00" y="182.60" font-size="8.5" text-anchor="start" fill="#1a1a1a" stroke="#1a1a1a" stroke-width="0.18">Expr.</text>
<defs><linearGradient id="cb2" x1="0" y1="1" x2="0" y2="0"><stop offset="0.000" stop-color="#0b6184"/><stop offset="0.250" stop-color="#7cadc2"/><stop offset="0.500" stop-color="#f8f8f8"/><stop offset="0.750" stop-color="#dc9d77"/><stop offset="1.000" stop-color="#c4581d"/></linearGradient></defs>
<rect x="642.30" y="189.00" width="4.60" height="66.60" fill="url(#cb2)" stroke="none" stroke-width="1"/>
<text x="648.80" y="195.30" font-size="7.6" text-anchor="start" fill="#1a1a1a" stroke="#1a1a1a" stroke-width="0.18">1</text>
<text x="648.80" y="210.10" font-size="7.6" text-anchor="start" fill="#1a1a1a" stroke="#1a1a1a" stroke-width="0.18">0.5</text>
<text x="648.80" y="224.60" font-size="7.6" text-anchor="start" fill="#1a1a1a" stroke="#1a1a1a" stroke-width="0.18">0</text>
<text x="648.80" y="239.00" font-size="7.6" text-anchor="start" fill="#1a1a1a" stroke="#1a1a1a" stroke-width="0.18">−0.5</text>
<text x="648.80" y="253.10" font-size="7.6" text-anchor="start" fill="#1a1a1a" stroke="#1a1a1a" stroke-width="0.18">−1</text>
<defs><filter id="sc0" x="-20%" y="-20%" width="140%" height="140%" color-interpolation-filters="sRGB"><feGaussianBlur in="SourceGraphic" stdDeviation="2" result="b"/><feTurbulence type="fractalNoise" baseFrequency="0.85" numOctaves="2" seed="3" result="n"/><feColorMatrix in="n" type="matrix" values="0 0 0 0 0  0 0 0 0 0  0 0 0 0 0  1 0 0 0 0" result="na"/><feComposite in="b" in2="na" operator="in" result="m"/><feComponentTransfer in="m"><feFuncA type="linear" slope="6" intercept="-1.85"/></feComponentTransfer></filter><filter id="sc1" x="-20%" y="-20%" width="140%" height="140%" color-interpolation-filters="sRGB"><feGaussianBlur in="SourceGraphic" stdDeviation="2" result="b"/><feTurbulence type="fractalNoise" baseFrequency="0.85" numOctaves="2" seed="11" result="n"/><feColorMatrix in="n" type="matrix" values="0 0 0 0 0  0 0 0 0 0  0 0 0 0 0  1 0 0 0 0" result="na"/><feComposite in="b" in2="na" operator="in" result="m"/><feComponentTransfer in="m"><feFuncA type="linear" slope="6" intercept="-1.85"/></feComponentTransfer></filter><filter id="sc2" x="-20%" y="-20%" width="140%" height="140%" color-interpolation-filters="sRGB"><feGaussianBlur in="SourceGraphic" stdDeviation="2" result="b"/><feTurbulence type="fractalNoise" baseFrequency="0.85" numOctaves="2" seed="23" result="n"/><feColorMatrix in="n" type="matrix" values="0 0 0 0 0  0 0 0 0 0  0 0 0 0 0  1 0 0 0 0" result="na"/><feComposite in="b" in2="na" operator="in" result="m"/><feComponentTransfer in="m"><feFuncA type="linear" slope="6" intercept="-1.85"/></feComponentTransfer></filter><filter id="sc3" x="-20%" y="-20%" width="140%" height="140%" color-interpolation-filters="sRGB"><feGaussianBlur in="SourceGraphic" stdDeviation="2" result="b"/><feTurbulence type="fractalNoise" baseFrequency="0.85" numOctaves="2" seed="37" result="n"/><feColorMatrix in="n" type="matrix" values="0 0 0 0 0  0 0 0 0 0  0 0 0 0 0  1 0 0 0 0" result="na"/><feComposite in="b" in2="na" operator="in" result="m"/><feComponentTransfer in="m"><feFuncA type="linear" slope="6" intercept="-1.85"/></feComponentTransfer></filter><filter id="sc4" x="-20%" y="-20%" width="140%" height="140%" color-interpolation-filters="sRGB"><feGaussianBlur in="SourceGraphic" stdDeviation="2" result="b"/><feTurbulence type="fractalNoise" baseFrequency="0.85" numOctaves="2" seed="51" result="n"/><feColorMatrix in="n" type="matrix" values="0 0 0 0 0  0 0 0 0 0  0 0 0 0 0  1 0 0 0 0" result="na"/><feComposite in="b" in2="na" operator="in" result="m"/><feComponentTransfer in="m"><feFuncA type="linear" slope="6" intercept="-1.85"/></feComponentTransfer></filter><filter id="ub2" x="-30%" y="-30%" width="160%" height="160%"><feGaussianBlur stdDeviation="2.5"/></filter></defs>
<g filter="url(#sc3)">
<polygon points="118.0,40.0 128.0,43.0 131.0,50.0 129.0,58.0 124.0,64.0 116.0,60.0 113.0,50.0" fill="#c09aa5" fill-opacity="0.55"/>
</g>
<defs><filter id="ubase" x="-20%" y="-20%" width="140%" height="140%"><feGaussianBlur stdDeviation="2.2"/></filter></defs>
<g filter="url(#ubase)" opacity="0.38">
<polygon points="44.0,44.0 50.0,34.0 60.0,29.0 70.0,26.0 80.0,26.0 88.0,29.0 94.0,38.0 95.0,55.0 93.0,70.0 88.0,80.0 78.0,88.0 62.0,91.0 50.0,90.0 42.0,84.0 39.0,73.0 41.0,61.0 44.0,48.0" fill="#5592a1"/>
<polygon points="84.0,34.0 96.0,33.0 106.0,38.0 112.0,47.0 114.0,60.0 112.0,72.0 108.0,80.0 98.0,84.0 90.0,80.0 86.0,66.0 83.0,50.0" fill="#ee9fa3"/>
<polygon points="104.0,1.0 112.0,3.0 122.0,8.0 128.0,13.0 129.0,24.0 124.0,32.0 119.0,42.0 111.0,50.0 98.0,41.0 89.0,30.0 91.0,16.0 97.0,8.0" fill="#a6d47e"/>
<polygon points="108.0,58.0 118.0,55.0 127.0,63.0 134.0,73.0 138.0,84.0 138.0,95.0 133.0,105.0 127.0,111.0 117.0,110.0 110.0,101.0 107.0,90.0 105.0,74.0" fill="#c09aa5"/>
<polygon points="135.0,87.0 142.0,84.0 150.0,85.0 156.0,91.0 158.0,101.0 156.0,111.0 149.0,118.0 139.0,117.0 131.0,112.0 128.0,104.0 130.0,95.0" fill="#cdcdc1"/>
<polygon points="31.0,89.0 41.0,86.0 50.0,91.0 58.0,99.0 63.0,107.0 57.0,120.0 46.0,127.0 34.0,137.0 25.0,129.0 23.0,115.0 24.0,100.0" fill="#f2c622"/>
<polygon points="48.0,87.0 60.0,81.0 75.0,78.0 90.0,78.0 106.0,82.0 116.0,89.0 120.0,99.0 117.0,106.0 110.0,113.0 100.0,115.0 90.0,114.0 80.0,113.0 70.0,112.0 61.0,110.0 55.0,106.0 49.0,100.0 46.0,92.0" fill="#f58a1c"/>
<polygon points="71.0,109.0 80.0,106.0 91.0,107.0 99.0,111.0 102.0,118.0 98.0,126.0 88.0,128.0 79.0,126.0 72.0,119.0" fill="#4e8d74"/>
<polygon points="116.0,32.0 127.0,31.0 136.0,35.0 142.0,41.0 144.0,48.0 143.5,55.0 140.0,62.0 136.0,66.0 129.0,70.0 122.0,69.0 124.0,64.0 129.0,58.0 131.0,51.0 128.0,45.0 121.0,42.0 115.0,41.0" fill="#aaaad3"/>
</g>
<g filter="url(#sc0)">
<polygon points="44.0,44.0 50.0,34.0 60.0,29.0 70.0,26.0 80.0,26.0 88.0,29.0 94.0,38.0 95.0,55.0 93.0,70.0 88.0,80.0 78.0,88.0 62.0,91.0 50.0,90.0 42.0,84.0 39.0,73.0 41.0,61.0 44.0,48.0" fill="#5592a1"/>
</g>
<g filter="url(#sc1)">
<polygon points="84.0,34.0 96.0,33.0 106.0,38.0 112.0,47.0 114.0,60.0 112.0,72.0 108.0,80.0 98.0,84.0 90.0,80.0 86.0,66.0 83.0,50.0" fill="#ee9fa3"/>
</g>
<g filter="url(#sc2)">
<polygon points="104.0,1.0 112.0,3.0 122.0,8.0 128.0,13.0 129.0,24.0 124.0,32.0 119.0,42.0 111.0,50.0 98.0,41.0 89.0,30.0 91.0,16.0 97.0,8.0" fill="#a6d47e"/>
</g>
<g filter="url(#sc3)">
<polygon points="108.0,58.0 118.0,55.0 127.0,63.0 134.0,73.0 138.0,84.0 138.0,95.0 133.0,105.0 127.0,111.0 117.0,110.0 110.0,101.0 107.0,90.0 105.0,74.0" fill="#c09aa5"/>
</g>
<g filter="url(#sc4)">
<polygon points="135.0,87.0 142.0,84.0 150.0,85.0 156.0,91.0 158.0,101.0 156.0,111.0 149.0,118.0 139.0,117.0 131.0,112.0 128.0,104.0 130.0,95.0" fill="#cdcdc1"/>
</g>
<g filter="url(#sc0)">
<polygon points="31.0,89.0 41.0,86.0 50.0,91.0 58.0,99.0 63.0,107.0 57.0,120.0 46.0,127.0 34.0,137.0 25.0,129.0 23.0,115.0 24.0,100.0" fill="#f2c622"/>
</g>
<g filter="url(#sc2)">
<polygon points="48.0,87.0 60.0,81.0 75.0,78.0 90.0,78.0 106.0,82.0 116.0,89.0 120.0,99.0 117.0,106.0 110.0,113.0 100.0,115.0 90.0,114.0 80.0,113.0 70.0,112.0 61.0,110.0 55.0,106.0 49.0,100.0 46.0,92.0" fill="#f58a1c"/>
</g>
<g filter="url(#sc1)">
<polygon points="71.0,109.0 80.0,106.0 91.0,107.0 99.0,111.0 102.0,118.0 98.0,126.0 88.0,128.0 79.0,126.0 72.0,119.0" fill="#4e8d74"/>
</g>
<g filter="url(#sc4)">
<polygon points="74.0,80.0 90.0,75.0 101.0,82.0 101.0,97.0 90.0,103.0 77.0,98.0" fill="#1c5536" fill-opacity="0.72"/>
</g>
<g filter="url(#sc2)">
<polygon points="50.0,82.0 70.0,80.0 80.0,84.0 70.0,92.0 52.0,92.0" fill="#5592a1" fill-opacity="0.7"/>
</g>
<g filter="url(#sc4)">
<polygon points="70.0,104.0 84.0,101.0 98.0,104.0 100.0,110.0 72.0,111.0" fill="#4e8d74" fill-opacity="0.8"/>
</g>
<g filter="url(#sc1)">
<polygon points="44.0,80.0 60.0,77.0 80.0,75.0 94.0,77.0 94.0,88.0 60.0,92.0 44.0,90.0" fill="#f58a1c" fill-opacity="0.72"/>
</g>
<g filter="url(#sc1)">
<polygon points="112.0,40.0 124.0,42.0 128.0,50.0 127.0,60.0 122.0,64.0 112.0,60.0" fill="#ee9fa3" fill-opacity="0.62"/>
</g>
<g filter="url(#sc2)">
<polygon points="106.0,58.0 118.0,56.0 122.0,68.0 116.0,78.0 108.0,76.0" fill="#ee9fa3" fill-opacity="0.68"/>
</g>
<g filter="url(#sc0)">
<polygon points="116.0,80.0 132.0,86.0 130.0,100.0 118.0,108.0 112.0,98.0" fill="#c09aa5" fill-opacity="0.8"/>
</g>
<g filter="url(#sc3)">
<polygon points="84.0,30.0 96.0,32.0 100.0,45.0 94.0,70.0 86.0,70.0" fill="#5592a1" fill-opacity="0.85"/>
</g>
<g filter="url(#sc1)">
<polygon points="88.0,30.0 102.0,36.0 108.0,50.0 96.0,46.0 86.0,36.0" fill="#a6d47e" fill-opacity="0.8"/>
</g>
<g filter="url(#sc2)">
<polygon points="100.0,100.0 122.0,98.0 128.0,106.0 118.0,114.0 104.0,114.0" fill="#f58a1c" fill-opacity="0.8"/>
</g>
<g filter="url(#sc2)">
<polygon points="60.0,100.0 75.0,102.0 95.0,100.0 98.0,110.0 72.0,112.0" fill="#4e8d74" fill-opacity="0.75"/>
</g>
<g filter="url(#sc2)">
<polygon points="44.0,92.0 54.0,94.0 62.0,102.0 60.0,110.0 50.0,108.0 44.0,100.0" fill="#f2c622" fill-opacity="0.78"/>
</g>
<g filter="url(#sc0)">
<polygon points="48.0,90.0 56.0,88.0 60.0,98.0 56.0,104.0 50.0,100.0" fill="#f58a1c" fill-opacity="0.75"/>
</g>
<g filter="url(#sc4)">
<polygon points="116.0,32.0 127.0,31.0 136.0,35.0 142.0,41.0 144.0,48.0 143.5,55.0 140.0,62.0 136.0,66.0 129.0,70.0 122.0,69.0 124.0,64.0 129.0,58.0 131.0,51.0 128.0,45.0 121.0,42.0 115.0,41.0" fill="#aaaad3"/>
</g>
<ellipse cx="88" cy="87" rx="8" ry="8" fill="#1c5536" filter="url(#ub2)" opacity="0.5"/>
<g filter="url(#sc3)">
<polygon points="82.0,80.0 89.0,78.0 95.0,82.0 96.0,90.0 91.0,96.0 84.0,95.0 80.0,88.0" fill="#1c5536" fill-opacity="0.95"/>
</g>
<text x="109.70" y="27.60" font-size="8.2" text-anchor="middle" fill="#1a1a1a" font-weight="bold" stroke="#1a1a1a" stroke-width="0.3">T8</text>
<text x="137.00" y="50.90" font-size="8.2" text-anchor="middle" fill="#1a1a1a" font-weight="bold" stroke="#1a1a1a" stroke-width="0.3">T1</text>
<text x="65.80" y="60.80" font-size="8.2" text-anchor="middle" fill="#1a1a1a" font-weight="bold" stroke="#1a1a1a" stroke-width="0.3">T4</text>
<text x="97.60" y="56.80" font-size="8.2" text-anchor="middle" fill="#1a1a1a" font-weight="bold" stroke="#1a1a1a" stroke-width="0.3">T9</text>
<text x="123.30" y="85.90" font-size="8.2" text-anchor="middle" fill="#1a1a1a" font-weight="bold" stroke="#1a1a1a" stroke-width="0.3">T3</text>
<text x="145.20" y="104.70" font-size="8.2" text-anchor="middle" fill="#1a1a1a" font-weight="bold" stroke="#1a1a1a" stroke-width="0.3">T2</text>
<text x="88.80" y="88.60" font-size="8.2" text-anchor="middle" fill="#1a1a1a" font-weight="bold" stroke="#1a1a1a" stroke-width="0.3">T6</text>
<text x="84.20" y="105.50" font-size="8.2" text-anchor="middle" fill="#1a1a1a" font-weight="bold" stroke="#1a1a1a" stroke-width="0.3">T5</text>
<text x="85.10" y="121.20" font-size="8.2" text-anchor="middle" fill="#1a1a1a" font-weight="bold" stroke="#1a1a1a" stroke-width="0.3">T7</text>
<text x="40.70" y="114.70" font-size="8.2" text-anchor="middle" fill="#1a1a1a" font-weight="bold" stroke="#1a1a1a" stroke-width="0.3">T10</text>
<path d="M15.9,145.5 V118.4 M13.6,121 L15.9,118.2 L18.2,121 M15.9,145.5 H43.4 M40.8,143.2 L43.6,145.5 L40.8,147.8" fill="none" stroke="#4d4d4d" stroke-width="0.9"/>
<text x="12.60" y="144.00" font-size="7.45" text-anchor="start" fill="#333" stroke="#333" stroke-width="0.18" transform="rotate(-90 12.6 144)">UMAP_2</text>
<text x="18.00" y="153.80" font-size="7.45" text-anchor="start" fill="#333" stroke="#333" stroke-width="0.18">UMAP_1</text>
<circle cx="162.60" cy="23.60" r="2.80" fill="#a9a9d4"/>
<text x="172.30" y="26.40" font-size="7.8" text-anchor="start" fill="#1a1a1a" stroke="#1a1a1a" stroke-width="0.18">T1 Tnaive</text>
<circle cx="162.60" cy="33.59" r="2.80" fill="#c9c9bd"/>
<text x="172.30" y="36.39" font-size="7.8" text-anchor="start" fill="#1a1a1a" stroke="#1a1a1a" stroke-width="0.18">T2 Tcm-LTB</text>
<circle cx="162.60" cy="43.58" r="2.80" fill="#b98d99"/>
<text x="172.30" y="46.38" font-size="7.8" text-anchor="start" fill="#1a1a1a" stroke="#1a1a1a" stroke-width="0.18">T3 Tcm-FOSB</text>
<circle cx="162.60" cy="53.57" r="2.80" fill="#4f8d9d"/>
<text x="172.30" y="56.37" font-size="7.8" text-anchor="start" fill="#1a1a1a" stroke="#1a1a1a" stroke-width="0.18">T4 Tem-GZMK</text>
<circle cx="162.60" cy="63.56" r="2.80" fill="#ff8010"/>
<text x="172.30" y="66.36" font-size="7.8" text-anchor="start" fill="#1a1a1a" stroke="#1a1a1a" stroke-width="0.18">T5 Trm-like</text>
<circle cx="162.60" cy="73.55" r="2.80" fill="#0e4a2c"/>
<text x="172.30" y="76.35" font-size="7.8" text-anchor="start" fill="#1a1a1a" stroke="#1a1a1a" stroke-width="0.18">T6 Trm-CXCR6</text>
<circle cx="162.60" cy="83.54" r="2.80" fill="#4f8c73"/>
<text x="172.30" y="86.34" font-size="7.8" text-anchor="start" fill="#1a1a1a" stroke="#1a1a1a" stroke-width="0.18">T7 Trm-ZNF683</text>
<circle cx="162.60" cy="93.53" r="2.80" fill="#a0d880"/>
<text x="172.30" y="96.33" font-size="7.8" text-anchor="start" fill="#1a1a1a" stroke="#1a1a1a" stroke-width="0.18">T8 Tm-RUNX1</text>
<circle cx="162.60" cy="103.52" r="2.80" fill="#f09aa0"/>
<text x="172.30" y="106.32" font-size="7.8" text-anchor="start" fill="#1a1a1a" stroke="#1a1a1a" stroke-width="0.18">T9 Tm-CCL5</text>
<circle cx="162.60" cy="113.51" r="2.80" fill="#f5c518"/>
<text x="172.30" y="116.31" font-size="7.8" text-anchor="start" fill="#1a1a1a" stroke="#1a1a1a" stroke-width="0.18">T10 Tnk</text>
<defs><filter id="gl" x="-50%" y="-50%" width="200%" height="200%"><feGaussianBlur stdDeviation="0.5"/></filter><filter id="gl3" x="-10%" y="-10%" width="120%" height="120%"><feGaussianBlur stdDeviation="0.35"/></filter><filter id="vb" x="-50%" y="-50%" width="200%" height="200%"><feGaussianBlur stdDeviation="5"/></filter></defs>
<clipPath id="clip101"><rect x="11.2" y="350.4" width="99.2" height="131.5"/></clipPath>
<g clip-path="url(#clip101)">
<rect x="11.20" y="350.40" width="99.20" height="131.50" fill="#020204" stroke="none" stroke-width="1"/>
<g filter="url(#vb)">
<rect x="9.20" y="348.40" width="13.92" height="13.39" fill="#0f140f" stroke="none" stroke-width="1" fill-opacity="0.11"/>
<rect x="19.12" y="348.40" width="13.92" height="13.39" fill="#0f140f" stroke="none" stroke-width="1" fill-opacity="0.22"/>
<rect x="29.04" y="348.40" width="13.92" height="13.39" fill="#0f140f" stroke="none" stroke-width="1" fill-opacity="0.33"/>
<rect x="38.96" y="348.40" width="13.92" height="13.39" fill="#0f140f" stroke="none" stroke-width="1" fill-opacity="0.11"/>
<rect x="48.88" y="348.40" width="13.92" height="13.39" fill="#0f140f" stroke="none" stroke-width="1" fill-opacity="0.11"/>
<rect x="78.64" y="348.40" width="13.92" height="13.39" fill="#0f140f" stroke="none" stroke-width="1" fill-opacity="0.11"/>
<rect x="9.20" y="357.79" width="13.92" height="13.39" fill="#0f140f" stroke="none" stroke-width="1" fill-opacity="0.33"/>
<rect x="19.12" y="357.79" width="13.92" height="13.39" fill="#0f140f" stroke="none" stroke-width="1" fill-opacity="0.33"/>
<rect x="29.04" y="357.79" width="13.92" height="13.39" fill="#0f140f" stroke="none" stroke-width="1" fill-opacity="0.11"/>
<rect x="68.72" y="357.79" width="13.92" height="13.39" fill="#0f140f" stroke="none" stroke-width="1" fill-opacity="0.11"/>
<rect x="19.12" y="367.19" width="13.92" height="13.39" fill="#0f140f" stroke="none" stroke-width="1" fill-opacity="0.11"/>
<rect x="48.88" y="367.19" width="13.92" height="13.39" fill="#0f140f" stroke="none" stroke-width="1" fill-opacity="0.33"/>
<rect x="58.80" y="367.19" width="13.92" height="13.39" fill="#0f140f" stroke="none" stroke-width="1" fill-opacity="0.33"/>
<rect x="38.96" y="376.58" width="13.92" height="13.39" fill="#0f140f" stroke="none" stroke-width="1" fill-opacity="0.11"/>
<rect x="48.88" y="376.58" width="13.92" height="13.39" fill="#0f140f" stroke="none" stroke-width="1" fill-opacity="0.44"/>
<rect x="58.80" y="376.58" width="13.92" height="13.39" fill="#0f140f" stroke="none" stroke-width="1" fill-opacity="0.33"/>
<rect x="9.20" y="385.97" width="13.92" height="13.39" fill="#0f140f" stroke="none" stroke-width="1" fill-opacity="0.22"/>
<rect x="19.12" y="385.97" width="13.92" height="13.39" fill="#0f140f" stroke="none" stroke-width="1" fill-opacity="0.33"/>
<rect x="38.96" y="385.97" width="13.92" height="13.39" fill="#0f140f" stroke="none" stroke-width="1" fill-opacity="0.22"/>
<rect x="48.88" y="385.97" width="13.92" height="13.39" fill="#0f140f" stroke="none" stroke-width="1" fill-opacity="0.22"/>
<rect x="9.20" y="395.36" width="13.92" height="13.39" fill="#0f140f" stroke="none" stroke-width="1" fill-opacity="0.44"/>
<rect x="19.12" y="395.36" width="13.92" height="13.39" fill="#0f140f" stroke="none" stroke-width="1" fill-opacity="0.44"/>
<rect x="29.04" y="395.36" width="13.92" height="13.39" fill="#0f140f" stroke="none" stroke-width="1" fill-opacity="0.33"/>
<rect x="38.96" y="395.36" width="13.92" height="13.39" fill="#0f140f" stroke="none" stroke-width="1" fill-opacity="0.44"/>
<rect x="48.88" y="395.36" width="13.92" height="13.39" fill="#0f140f" stroke="none" stroke-width="1" fill-opacity="0.33"/>
<rect x="9.20" y="404.76" width="13.92" height="13.39" fill="#0f140f" stroke="none" stroke-width="1" fill-opacity="0.44"/>
<rect x="19.12" y="404.76" width="13.92" height="13.39" fill="#0f140f" stroke="none" stroke-width="1" fill-opacity="0.44"/>
<rect x="29.04" y="404.76" width="13.92" height="13.39" fill="#0f140f" stroke="none" stroke-width="1" fill-opacity="0.44"/>
<rect x="38.96" y="404.76" width="13.92" height="13.39" fill="#0f140f" stroke="none" stroke-width="1" fill-opacity="0.44"/>
<rect x="48.88" y="404.76" width="13.92" height="13.39" fill="#0f140f" stroke="none" stroke-width="1" fill-opacity="0.33"/>
<rect x="38.96" y="414.15" width="13.92" height="13.39" fill="#0f140f" stroke="none" stroke-width="1" fill-opacity="0.44"/>
<rect x="48.88" y="414.15" width="13.92" height="13.39" fill="#0f140f" stroke="none" stroke-width="1" fill-opacity="0.55"/>
<rect x="19.12" y="423.54" width="13.92" height="13.39" fill="#0f140f" stroke="none" stroke-width="1" fill-opacity="0.11"/>
<rect x="38.96" y="423.54" width="13.92" height="13.39" fill="#0f140f" stroke="none" stroke-width="1" fill-opacity="0.11"/>
<rect x="48.88" y="423.54" width="13.92" height="13.39" fill="#0f140f" stroke="none" stroke-width="1" fill-opacity="0.44"/>
<rect x="58.80" y="423.54" width="13.92" height="13.39" fill="#0f140f" stroke="none" stroke-width="1" fill-opacity="0.11"/>
<rect x="19.12" y="432.94" width="13.92" height="13.39" fill="#0f140f" stroke="none" stroke-width="1" fill-opacity="0.11"/>
<rect x="29.04" y="432.94" width="13.92" height="13.39" fill="#0f140f" stroke="none" stroke-width="1" fill-opacity="0.11"/>
<rect x="48.88" y="432.94" width="13.92" height="13.39" fill="#0f140f" stroke="none" stroke-width="1" fill-opacity="0.44"/>
<rect x="58.80" y="432.94" width="13.92" height="13.39" fill="#0f140f" stroke="none" stroke-width="1" fill-opacity="0.11"/>
<rect x="68.72" y="432.94" width="13.92" height="13.39" fill="#0f140f" stroke="none" stroke-width="1" fill-opacity="0.22"/>
<rect x="78.64" y="432.94" width="13.92" height="13.39" fill="#0f140f" stroke="none" stroke-width="1" fill-opacity="0.11"/>
<rect x="19.12" y="442.33" width="13.92" height="13.39" fill="#0f140f" stroke="none" stroke-width="1" fill-opacity="0.11"/>
<rect x="29.04" y="442.33" width="13.92" height="13.39" fill="#0f140f" stroke="none" stroke-width="1" fill-opacity="0.22"/>
<rect x="48.88" y="442.33" width="13.92" height="13.39" fill="#0f140f" stroke="none" stroke-width="1" fill-opacity="0.44"/>
<rect x="58.80" y="442.33" width="13.92" height="13.39" fill="#0f140f" stroke="none" stroke-width="1" fill-opacity="0.22"/>
<rect x="68.72" y="442.33" width="13.92" height="13.39" fill="#0f140f" stroke="none" stroke-width="1" fill-opacity="0.33"/>
<rect x="78.64" y="442.33" width="13.92" height="13.39" fill="#0f140f" stroke="none" stroke-width="1" fill-opacity="0.22"/>
<rect x="29.04" y="451.72" width="13.92" height="13.39" fill="#0f140f" stroke="none" stroke-width="1" fill-opacity="0.11"/>
<rect x="48.88" y="451.72" width="13.92" height="13.39" fill="#0f140f" stroke="none" stroke-width="1" fill-opacity="0.44"/>
<rect x="58.80" y="451.72" width="13.92" height="13.39" fill="#0f140f" stroke="none" stroke-width="1" fill-opacity="0.22"/>
<rect x="68.72" y="451.72" width="13.92" height="13.39" fill="#0f140f" stroke="none" stroke-width="1" fill-opacity="0.33"/>
<rect x="78.64" y="451.72" width="13.92" height="13.39" fill="#0f140f" stroke="none" stroke-width="1" fill-opacity="0.22"/>
<rect x="38.96" y="461.11" width="13.92" height="13.39" fill="#0f140f" stroke="none" stroke-width="1" fill-opacity="0.22"/>
<rect x="48.88" y="461.11" width="13.92" height="13.39" fill="#0f140f" stroke="none" stroke-width="1" fill-opacity="0.44"/>
<rect x="58.80" y="461.11" width="13.92" height="13.39" fill="#0f140f" stroke="none" stroke-width="1" fill-opacity="0.22"/>
<rect x="68.72" y="461.11" width="13.92" height="13.39" fill="#0f140f" stroke="none" stroke-width="1" fill-opacity="0.11"/>
<rect x="9.20" y="470.51" width="13.92" height="13.39" fill="#0f140f" stroke="none" stroke-width="1" fill-opacity="0.11"/>
<rect x="38.96" y="470.51" width="13.92" height="13.39" fill="#0f140f" stroke="none" stroke-width="1" fill-opacity="0.33"/>
<rect x="48.88" y="470.51" width="13.92" height="13.39" fill="#0f140f" stroke="none" stroke-width="1" fill-opacity="0.44"/>
</g>
<path d="M102.9 411.8h.01M89.8 368.9h.01M99.9 403.1h.01M79.1 387.8h.01M93.6 372.0h.01M58.9 358.2h.01M98.2 351.9h.01M19.0 363.3h.01M87.3 382.3h.01M95.2 411.1h.01M100.6 416.3h.01M103.8 360.5h.01M101.2 446.9h.01M35.7 462.9h.01M47.4 353.3h.01M18.6 381.9h.01M104.2 364.2h.01M94.8 415.3h.01M20.8 433.7h.01M107.6 361.6h.01M20.6 370.7h.01M104.8 476.4h.01M87.0 354.3h.01M80.1 423.5h.01M48.2 383.3h.01M49.8 365.2h.01M74.2 479.0h.01M82.8 429.2h.01M108.2 387.1h.01M90.9 417.1h.01M46.5 459.3h.01M46.5 371.3h.01M96.0 359.4h.01M99.7 444.8h.01M51.7 399.7h.01M22.6 422.6h.01M105.7 394.2h.01M83.3 469.8h.01M79.2 404.5h.01M95.1 403.4h.01M47.2 433.1h.01M64.2 415.9h.01M100.8 441.7h.01M87.1 395.3h.01M11.4 423.5h.01M43.9 440.7h.01M74.5 406.4h.01M82.5 403.5h.01M87.2 461.3h.01M109.0 370.1h.01M71.1 460.9h.01M60.3 403.5h.01M86.7 438.2h.01M38.1 416.7h.01M17.3 378.2h.01M105.7 452.1h.01M82.4 420.7h.01M98.8 376.1h.01M61.9 468.1h.01M101.1 469.8h.01M81.7 409.4h.01M97.7 465.3h.01M91.0 420.0h.01M80.4 357.0h.01M85.1 415.9h.01M32.3 374.4h.01M15.1 372.4h.01M84.2 423.7h.01M96.7 400.5h.01M87.0 374.3h.01M22.6 432.1h.01M92.9 421.6h.01M36.8 366.9h.01M17.2 375.8h.01M108.2 373.7h.01M64.9 354.6h.01M97.4 456.9h.01M80.7 401.5h.01M102.3 369.1h.01M98.9 457.4h.01M26.7 462.8h.01M94.6 410.1h.01M27.9 452.7h.01M93.3 410.8h.01M25.3 451.8h.01M41.4 465.2h.01M81.2 393.9h.01M27.9 422.6h.01M19.5 458.8h.01M99.3 414.2h.01M107.7 382.4h.01M77.5 351.0h.01M73.3 352.0h.01M64.0 418.9h.01M85.1 354.4h.01M74.0 387.2h.01M72.5 389.6h.01M71.2 448.7h.01M35.1 380.8h.01M91.9 401.3h.01M22.7 460.3h.01M72.7 399.3h.01M105.9 352.2h.01M73.2 407.0h.01M43.0 386.0h.01M15.6 431.3h.01M67.0 353.5h.01M30.4 451.7h.01M81.6 370.6h.01M16.3 448.9h.01M74.8 385.6h.01M72.4 418.6h.01M98.4 404.6h.01M23.5 467.7h.01M49.5 431.7h.01M41.8 368.3h.01M105.9 445.8h.01M11.8 422.4h.01M32.1 364.4h.01M89.9 424.4h.01M103.2 468.4h.01M95.0 453.9h.01M22.6 363.5h.01M39.9 481.1h.01M88.1 383.4h.01M78.6 370.1h.01M40.1 471.4h.01M73.0 471.6h.01M35.9 466.3h.01M17.0 467.3h.01M84.8 415.9h.01M103.2 367.1h.01M96.1 427.2h.01M35.9 387.1h.01M67.3 387.6h.01M46.6 448.7h.01M105.6 386.0h.01M93.0 409.1h.01M95.1 392.8h.01M32.2 363.0h.01M90.0 351.9h.01M91.0 402.9h.01M80.4 414.0h.01M29.3 383.8h.01M88.5 389.1h.01M102.0 365.7h.01M70.5 410.9h.01M105.2 453.1h.01M77.4 385.6h.01M35.3 356.2h.01M101.4 447.7h.01M109.3 367.7h.01M76.4 406.6h.01M88.5 413.9h.01M18.1 436.1h.01M15.9 353.6h.01M91.5 417.0h.01M64.0 382.1h.01M95.9 407.5h.01M66.9 404.9h.01M16.3 425.7h.01M72.4 388.1h.01" stroke="#1616b0" stroke-width="1.2" stroke-linecap="round" fill="none"/>
<path d="M32.3 478.1h.01M54.3 358.5h.01M19.3 421.2h.01M108.2 350.9h.01M103.1 365.8h.01M58.9 393.1h.01M79.9 403.1h.01M108.5 465.3h.01M93.7 359.5h.01M95.1 478.8h.01M98.0 400.5h.01M45.7 439.6h.01M103.7 437.5h.01M30.1 472.8h.01M41.5 375.4h.01M83.2 406.2h.01M74.8 423.9h.01M42.8 377.0h.01M50.3 446.0h.01M106.0 415.2h.01M17.9 424.4h.01M109.7 413.5h.01M20.8 425.8h.01M36.4 387.5h.01M88.8 388.4h.01M92.2 472.4h.01M90.9 416.2h.01M15.7 440.6h.01M15.6 423.1h.01M98.2 405.2h.01M17.9 450.8h.01M68.8 474.6h.01M84.0 431.8h.01M73.0 475.8h.01M92.2 414.7h.01M39.6 387.4h.01M32.7 375.8h.01M18.7 388.6h.01M74.1 394.0h.01M83.9 391.5h.01M49.4 394.6h.01M100.1 422.8h.01M89.5 480.5h.01M75.6 383.4h.01M95.5 409.0h.01M88.9 470.3h.01M89.5 416.3h.01M81.0 404.3h.01M83.4 381.5h.01M106.4 463.0h.01M31.8 464.4h.01M101.6 468.1h.01M103.3 452.0h.01M16.9 375.2h.01M29.0 418.4h.01M77.4 400.4h.01M96.6 413.8h.01M28.0 389.2h.01M92.4 468.8h.01M103.0 472.4h.01M49.2 479.3h.01M96.6 453.9h.01M25.3 428.5h.01M14.9 444.1h.01M64.6 357.2h.01M90.1 411.0h.01M101.8 381.6h.01M104.3 451.8h.01M71.6 394.4h.01M48.7 367.3h.01M37.1 373.4h.01M24.4 396.1h.01M52.3 398.3h.01M16.5 471.6h.01M44.4 375.3h.01M92.5 411.3h.01M102.8 358.1h.01M28.9 447.7h.01M90.9 353.3h.01M94.2 370.0h.01M85.2 396.1h.01M92.2 431.0h.01M89.4 406.5h.01M27.5 480.5h.01M94.6 361.1h.01M102.4 437.9h.01M86.2 448.5h.01M46.4 390.3h.01M95.3 431.8h.01M18.2 422.9h.01M18.2 378.5h.01M107.8 407.2h.01M73.2 413.7h.01M63.1 353.5h.01M97.8 467.0h.01M101.4 404.8h.01M97.6 375.0h.01M63.7 370.2h.01M29.4 460.8h.01M30.1 420.1h.01M56.9 357.1h.01M24.9 446.6h.01M97.2 408.2h.01M29.9 385.9h.01M69.5 402.9h.01M33.4 431.7h.01M77.2 390.1h.01M98.4 363.9h.01M65.5 367.5h.01M67.4 393.0h.01M91.0 386.1h.01M21.0 436.5h.01M21.8 368.1h.01M96.0 390.9h.01M50.5 370.2h.01M43.9 373.2h.01M17.4 367.8h.01M76.1 414.4h.01M14.7 430.4h.01M35.5 381.1h.01M13.8 408.0h.01M32.7 466.3h.01M80.5 434.9h.01M78.5 418.8h.01M42.5 446.3h.01M98.7 380.2h.01M25.8 421.2h.01M97.4 481.4h.01M83.0 420.6h.01M109.3 382.6h.01M71.5 423.7h.01M41.7 453.0h.01M94.6 420.0h.01M91.2 380.9h.01M35.7 420.8h.01M45.1 353.2h.01M26.8 420.6h.01M97.6 415.9h.01M62.4 478.9h.01M86.2 442.4h.01M91.1 426.0h.01M35.2 365.3h.01M94.5 354.5h.01M21.8 365.1h.01M90.1 421.0h.01" stroke="#2626ff" stroke-width="1.2" stroke-linecap="round" fill="none"/>
<path d="M20.0 451.6h.01M110.2 358.5h.01M107.5 444.6h.01M30.6 453.4h.01M66.3 421.9h.01M22.9 356.2h.01M67.5 440.2h.01M22.2 413.7h.01M25.6 351.7h.01M83.0 418.7h.01M59.1 380.0h.01M26.9 466.3h.01M96.8 454.9h.01M84.0 403.1h.01M101.8 460.7h.01M12.6 421.3h.01M90.4 425.5h.01M24.6 427.4h.01M35.7 393.4h.01M39.7 381.7h.01M79.0 397.8h.01M61.5 411.3h.01M87.1 465.2h.01M97.0 377.8h.01M98.5 395.0h.01M33.3 454.7h.01M72.8 433.0h.01M99.9 411.6h.01M68.9 361.3h.01M65.9 446.0h.01M19.2 477.0h.01M67.4 477.8h.01M53.5 362.6h.01M82.4 408.4h.01M105.3 389.5h.01M98.6 472.1h.01M105.3 441.2h.01M105.3 393.9h.01M51.0 468.1h.01M47.3 453.6h.01M104.7 389.3h.01M58.4 352.4h.01M106.5 431.4h.01M99.5 356.3h.01M79.6 392.6h.01M32.9 361.4h.01M99.1 377.0h.01M67.7 438.2h.01M67.4 479.1h.01M36.1 447.5h.01M34.1 459.2h.01M82.1 409.5h.01M107.9 378.2h.01M106.9 478.8h.01M97.9 421.2h.01M95.9 436.7h.01M34.7 455.6h.01M87.1 446.3h.01M69.6 389.7h.01M72.6 394.3h.01M73.0 391.3h.01M89.3 474.5h.01M110.2 468.6h.01M74.4 404.3h.01M36.5 425.3h.01M23.8 448.1h.01M29.5 419.6h.01M94.8 366.4h.01M107.2 443.6h.01M80.2 378.3h.01M14.2 465.8h.01M80.4 388.7h.01M98.2 360.4h.01M95.2 400.1h.01M97.6 369.8h.01M105.7 402.6h.01M81.8 406.2h.01M68.0 363.5h.01M66.6 419.6h.01M83.4 361.9h.01M41.9 380.9h.01M99.2 447.7h.01M97.6 434.5h.01M44.2 379.9h.01M21.4 473.5h.01M91.3 442.7h.01M107.9 433.5h.01M12.5 456.7h.01M106.8 437.5h.01M16.0 445.6h.01M92.7 378.2h.01M83.4 405.8h.01M30.4 461.5h.01M95.9 354.7h.01M96.7 430.9h.01M98.9 422.5h.01M81.0 374.6h.01M34.3 477.0h.01M65.9 352.5h.01M29.3 352.0h.01M31.7 465.8h.01M88.5 443.0h.01M71.9 395.8h.01M44.8 444.2h.01M24.3 370.3h.01M28.3 380.4h.01M89.3 393.4h.01M79.5 413.2h.01M104.4 459.9h.01M76.5 391.9h.01M100.4 421.8h.01M22.0 451.9h.01M63.6 363.8h.01M87.9 466.6h.01M52.1 356.3h.01M73.4 386.0h.01M15.9 384.8h.01M93.8 362.8h.01M31.4 380.1h.01M87.6 474.7h.01M98.4 406.1h.01M105.2 413.1h.01M79.2 425.7h.01M93.0 395.7h.01M108.0 468.9h.01M73.9 359.6h.01M100.2 445.5h.01M30.3 460.4h.01" stroke="#1a1ad0" stroke-width="1.45" stroke-linecap="round" fill="none"/>
<path d="M75.9 432.6h.01M76.3 356.2h.01M40.7 355.7h.01M107.5 374.6h.01M99.2 465.3h.01M103.0 378.0h.01M67.9 477.6h.01M100.0 367.3h.01M34.8 425.1h.01M61.6 456.8h.01M103.2 463.5h.01M75.1 473.5h.01M67.3 406.4h.01M102.8 375.0h.01M88.3 380.7h.01M72.5 477.7h.01M35.2 389.4h.01M21.3 475.7h.01M16.8 380.7h.01M94.8 385.8h.01M56.0 404.2h.01M30.7 463.1h.01M89.2 383.5h.01M73.8 393.3h.01M24.3 479.8h.01M101.9 447.4h.01M73.6 373.7h.01M108.5 469.4h.01M30.8 447.8h.01M18.3 430.2h.01M43.4 371.0h.01M24.6 384.4h.01M41.0 445.4h.01M78.7 413.9h.01M36.1 372.1h.01M48.4 384.6h.01M77.6 410.1h.01M96.6 459.3h.01M105.4 361.4h.01M74.3 397.3h.01M96.2 429.6h.01M101.9 402.0h.01M98.4 364.1h.01M45.3 465.5h.01M24.3 471.5h.01M18.2 430.5h.01M24.7 358.1h.01M67.4 418.8h.01M88.2 477.5h.01M28.7 466.2h.01M94.1 477.3h.01M75.5 470.5h.01M88.3 440.4h.01M72.2 399.4h.01M91.1 437.1h.01M38.7 380.5h.01M84.2 480.7h.01M35.4 452.3h.01M80.5 401.2h.01M17.0 351.7h.01M72.5 469.1h.01M20.5 466.9h.01M46.0 365.4h.01M110.3 465.1h.01M93.6 403.4h.01M96.3 412.2h.01M27.5 471.6h.01M83.0 410.3h.01M24.8 363.4h.01M102.1 404.4h.01M99.2 408.8h.01M90.6 421.7h.01M103.1 415.6h.01M75.5 394.0h.01M82.1 378.4h.01M94.1 360.8h.01M102.2 444.5h.01M90.0 405.5h.01M73.5 410.3h.01M79.6 380.9h.01M12.1 456.4h.01M66.2 454.8h.01M51.5 369.5h.01M49.8 466.4h.01M110.1 434.0h.01M91.5 391.4h.01M50.5 357.5h.01M96.2 383.6h.01M81.0 449.9h.01M70.7 451.5h.01M106.5 403.3h.01M95.4 457.1h.01M96.7 417.7h.01M71.6 362.3h.01M104.5 418.6h.01M74.1 427.5h.01M86.7 408.1h.01M45.8 352.3h.01M38.3 420.1h.01M45.2 437.6h.01M100.0 452.2h.01M89.0 416.8h.01M100.5 451.2h.01M52.7 362.0h.01M77.2 367.9h.01M37.2 471.8h.01M97.1 368.9h.01M83.9 394.2h.01M40.8 381.4h.01M80.7 391.5h.01M39.0 371.7h.01M96.8 443.5h.01M101.2 446.0h.01M33.8 468.4h.01M17.1 462.3h.01M42.6 435.0h.01M97.7 471.3h.01M71.6 360.7h.01M95.6 401.9h.01M97.1 360.4h.01M100.6 358.5h.01M54.2 404.6h.01M97.9 471.6h.01M98.4 416.6h.01M70.2 474.1h.01M18.4 443.3h.01M87.4 358.8h.01M53.9 453.9h.01M22.8 465.9h.01M16.2 427.6h.01M75.3 459.8h.01M110.3 433.1h.01M49.7 354.5h.01M109.2 402.3h.01M87.7 453.2h.01M46.0 435.8h.01M80.3 430.9h.01M90.4 385.2h.01M77.2 480.6h.01M100.4 362.4h.01M87.2 420.4h.01M100.0 359.8h.01M60.0 403.2h.01M92.0 426.1h.01M72.4 394.2h.01M38.0 435.1h.01M94.1 478.4h.01M65.0 400.1h.01M102.7 455.4h.01M92.5 403.2h.01M97.4 437.7h.01" stroke="#2c34ff" stroke-width="1.45" stroke-linecap="round" fill="none"/>
<path d="M88.8 380.5h.01M17.7 426.1h.01M94.4 366.0h.01M99.2 352.0h.01M21.5 446.9h.01M65.8 443.6h.01M62.4 416.4h.01M30.5 429.7h.01M91.8 406.5h.01M13.0 457.6h.01M78.2 393.0h.01M70.4 393.4h.01M70.3 354.7h.01M76.4 423.3h.01M103.1 444.3h.01M86.8 373.1h.01M95.4 418.8h.01M94.2 398.1h.01M28.3 477.6h.01M19.4 434.4h.01M38.0 464.3h.01M80.6 394.0h.01M107.3 457.2h.01M79.4 371.3h.01M72.6 473.2h.01M98.6 374.4h.01M108.5 463.9h.01M102.4 454.1h.01M86.1 364.1h.01M48.4 458.4h.01M93.8 376.7h.01M43.9 471.1h.01M17.1 430.7h.01M71.8 448.3h.01M82.9 396.4h.01M47.9 454.0h.01M35.2 378.2h.01M72.2 415.1h.01M91.0 358.8h.01M66.3 405.5h.01M102.5 424.9h.01M21.5 467.5h.01M44.6 478.2h.01M97.6 465.4h.01M93.9 413.0h.01M101.7 392.1h.01M47.0 403.2h.01M58.9 381.9h.01M102.1 401.1h.01M105.9 396.3h.01M84.5 416.1h.01M79.9 396.4h.01M80.2 370.4h.01M81.1 416.7h.01M92.2 479.5h.01M84.0 391.2h.01M102.9 471.3h.01M103.0 357.4h.01M82.5 420.4h.01M100.6 351.7h.01M110.2 408.9h.01M66.2 408.6h.01M30.0 377.3h.01M105.2 481.8h.01M101.9 400.8h.01M109.2 464.4h.01M21.6 385.0h.01M73.8 435.5h.01M104.4 366.4h.01M99.6 449.3h.01M82.0 365.8h.01M70.2 404.4h.01M92.7 402.3h.01M63.4 367.9h.01M95.2 465.8h.01M73.1 440.2h.01M62.4 379.2h.01M94.7 417.6h.01M69.7 412.0h.01M24.4 466.0h.01M20.9 381.4h.01M22.2 478.2h.01M109.4 388.2h.01M35.7 477.2h.01M41.6 429.7h.01M24.5 446.2h.01M68.5 437.8h.01M77.2 431.4h.01M96.3 452.6h.01M70.0 475.4h.01M17.2 427.3h.01M93.1 379.8h.01M99.4 401.4h.01M55.7 368.2h.01M38.3 432.6h.01M33.1 398.9h.01M91.4 372.2h.01M92.8 390.9h.01M90.1 363.2h.01M86.8 412.5h.01M25.9 437.3h.01M35.1 383.2h.01M72.4 391.6h.01M109.8 447.4h.01M13.0 442.5h.01M36.3 416.0h.01M27.7 374.2h.01M78.5 420.6h.01M42.3 370.7h.01M85.9 360.5h.01M38.6 464.2h.01M87.5 389.3h.01M79.8 403.9h.01M75.3 422.8h.01M36.5 365.5h.01M87.4 420.0h.01M109.4 369.6h.01M41.7 377.5h.01M100.5 400.5h.01M109.1 405.3h.01M100.4 470.3h.01M14.8 458.4h.01M59.4 450.3h.01M53.1 356.4h.01M103.0 460.4h.01M88.9 458.5h.01M63.2 407.0h.01M87.3 409.7h.01M93.0 473.2h.01M102.7 415.2h.01M83.0 385.2h.01M41.2 383.6h.01M37.8 382.7h.01M103.7 350.8h.01M17.5 368.6h.01" stroke="#2c34ff" stroke-width="1.7" stroke-linecap="round" fill="none"/>
<path d="M12.1 424.6h.01M20.2 473.6h.01M80.3 382.0h.01M92.8 453.3h.01M70.3 399.5h.01M82.1 367.4h.01M13.2 460.7h.01M89.2 478.7h.01M88.9 405.6h.01M97.4 439.2h.01M84.5 467.5h.01M36.5 386.6h.01M107.6 444.0h.01M68.0 423.2h.01M109.6 440.6h.01M33.4 386.3h.01M103.1 366.7h.01M67.1 370.4h.01M97.3 395.5h.01M26.2 449.8h.01M39.5 377.7h.01M13.3 423.5h.01M28.6 454.7h.01M71.6 358.9h.01M74.2 405.3h.01M78.3 376.3h.01M83.8 417.9h.01M80.3 384.1h.01M85.5 421.5h.01M82.7 434.5h.01M90.4 418.7h.01M50.2 377.6h.01M84.0 477.0h.01M74.7 427.8h.01M95.1 452.5h.01M33.4 418.8h.01M12.5 391.2h.01M93.4 357.4h.01M93.9 381.9h.01M105.1 448.5h.01M86.6 470.7h.01M96.8 366.3h.01M99.9 407.0h.01M97.3 359.0h.01M82.4 384.2h.01M17.4 422.0h.01M96.4 408.7h.01M62.8 351.5h.01M109.0 474.6h.01M104.0 428.0h.01M60.2 362.4h.01M76.5 418.5h.01M13.7 461.9h.01M73.4 364.5h.01M61.1 395.9h.01M50.6 362.7h.01M47.7 354.2h.01M91.4 473.7h.01M108.3 364.8h.01M108.9 406.4h.01M93.6 471.4h.01M24.3 441.4h.01M29.1 427.7h.01M74.6 393.6h.01M60.4 439.2h.01M109.9 464.2h.01M64.4 364.6h.01M93.5 414.4h.01M62.5 441.6h.01M77.9 408.8h.01M42.8 389.6h.01M75.8 382.1h.01M25.6 473.5h.01M68.4 478.1h.01M60.9 367.0h.01M101.1 452.5h.01M94.7 389.1h.01M30.4 466.5h.01M31.6 458.1h.01M30.6 478.8h.01M80.6 407.7h.01M100.9 407.5h.01M103.2 363.1h.01M102.0 421.0h.01M32.8 382.2h.01M65.5 438.0h.01M36.8 382.1h.01M101.0 364.4h.01M79.1 436.1h.01M100.1 417.7h.01M72.8 380.5h.01M77.7 473.8h.01M102.3 386.0h.01M104.8 445.7h.01M92.8 407.6h.01M69.4 420.6h.01M37.0 351.1h.01M97.0 351.9h.01M37.4 374.4h.01M64.3 445.7h.01M102.6 352.9h.01M98.9 467.3h.01M105.6 403.2h.01M80.9 468.5h.01M48.4 433.3h.01M96.4 445.9h.01M98.9 459.0h.01M64.8 436.9h.01M19.3 475.6h.01M87.5 392.4h.01M51.8 368.7h.01M92.8 411.9h.01M71.6 475.8h.01M16.9 451.2h.01M34.3 392.0h.01M104.3 446.4h.01M101.1 478.6h.01M100.1 453.0h.01M41.6 424.6h.01M12.0 362.7h.01M101.3 424.1h.01M91.5 417.4h.01M23.5 351.1h.01M95.6 417.0h.01M16.2 471.5h.01M107.1 384.8h.01M78.1 476.9h.01M106.0 429.3h.01M39.8 442.9h.01M86.3 352.0h.01M21.4 429.0h.01M14.2 379.0h.01M50.5 389.6h.01M22.4 352.0h.01M82.4 389.9h.01M99.7 355.6h.01M74.4 407.7h.01M45.0 448.7h.01M18.7 422.7h.01M91.3 380.9h.01M105.9 389.9h.01M65.8 354.7h.01M48.1 356.9h.01M93.3 372.2h.01M82.0 393.2h.01M97.1 382.4h.01M90.1 441.9h.01M68.0 440.1h.01M11.4 446.6h.01M104.3 427.9h.01M87.1 420.9h.01M68.7 476.2h.01M36.7 423.7h.01M65.9 398.6h.01M14.0 378.1h.01M19.3 432.4h.01M43.5 370.7h.01M89.4 439.9h.01M81.1 410.6h.01M91.4 450.4h.01M104.8 425.2h.01M103.7 376.3h.01M43.5 456.9h.01M19.1 479.1h.01M20.5 450.3h.01M96.0 389.9h.01" stroke="#2c34ff" stroke-width="1.2" stroke-linecap="round" fill="none"/>
<path d="M29.1 359.0h.01M100.1 425.2h.01M76.3 400.2h.01M35.6 463.8h.01M86.7 453.2h.01M93.7 459.8h.01M92.3 394.9h.01M33.8 385.7h.01M108.8 454.1h.01M69.6 408.1h.01M69.9 403.9h.01M30.5 474.3h.01M84.6 368.2h.01M79.3 380.4h.01M20.4 428.6h.01M39.2 387.0h.01M97.5 453.5h.01M35.8 375.1h.01M96.3 422.0h.01M30.6 395.1h.01M99.3 383.3h.01M23.0 370.4h.01M56.6 360.0h.01M84.9 478.7h.01M11.9 423.9h.01M39.9 463.8h.01M86.3 416.7h.01M78.8 396.2h.01M93.7 473.1h.01M70.3 372.9h.01M74.8 407.7h.01M23.4 450.9h.01M52.7 373.2h.01M12.8 390.7h.01M22.4 427.2h.01M15.0 475.4h.01M46.3 440.7h.01M28.7 422.3h.01M19.8 474.6h.01M17.3 433.3h.01M88.6 402.6h.01M99.6 350.5h.01M84.0 432.1h.01M11.9 417.3h.01M89.4 420.1h.01M18.1 441.4h.01M29.9 421.0h.01M67.5 357.8h.01M42.2 381.6h.01M23.2 369.8h.01M24.0 450.9h.01M109.2 460.9h.01M77.5 360.4h.01M83.8 424.1h.01M68.0 351.3h.01M67.6 365.8h.01M107.7 434.0h.01M54.6 377.2h.01M65.0 413.8h.01M40.0 362.0h.01M99.6 416.5h.01M72.9 411.3h.01M81.5 391.8h.01M65.6 420.0h.01M98.2 367.2h.01M55.9 364.2h.01M86.5 443.1h.01M28.5 480.0h.01M105.8 460.5h.01M27.5 446.5h.01M94.6 473.4h.01M75.6 381.6h.01M107.7 351.5h.01M17.7 353.3h.01M75.4 390.6h.01M17.2 424.6h.01M86.6 469.4h.01M99.2 417.8h.01M97.9 369.2h.01M101.3 382.3h.01M108.9 350.9h.01M93.1 367.0h.01M20.8 447.1h.01M69.8 432.7h.01M103.9 429.2h.01M90.2 420.5h.01M105.3 417.7h.01M107.9 417.4h.01M103.7 369.1h.01M32.4 423.9h.01M11.8 370.8h.01M105.0 374.6h.01M70.4 390.8h.01M100.7 368.1h.01M38.9 428.7h.01M102.5 403.9h.01M47.7 440.1h.01M65.2 441.1h.01M101.1 366.8h.01M25.3 367.9h.01M79.8 414.0h.01M80.1 386.1h.01M57.0 365.9h.01M85.5 372.4h.01M105.2 366.9h.01M81.3 371.5h.01M14.7 383.7h.01M57.5 362.7h.01M96.2 436.5h.01M47.6 353.8h.01M94.4 443.6h.01M80.2 383.8h.01M40.0 369.3h.01M61.7 412.0h.01M51.4 363.8h.01M14.3 457.5h.01M100.8 437.2h.01M109.9 372.9h.01M82.7 415.6h.01M70.9 479.6h.01M49.8 395.7h.01M18.1 479.8h.01M109.4 375.2h.01M53.1 353.5h.01M29.5 454.8h.01M55.4 398.7h.01M101.2 415.7h.01M107.9 412.1h.01M50.9 356.0h.01M84.5 421.7h.01M32.4 461.5h.01M92.1 442.5h.01M99.2 400.4h.01M20.3 468.6h.01M74.8 471.1h.01M98.5 450.4h.01M90.3 436.2h.01M107.3 378.9h.01M93.4 391.2h.01M69.5 473.6h.01M106.5 355.8h.01M101.8 421.8h.01M64.8 352.6h.01M90.5 396.0h.01M102.4 384.9h.01M62.7 459.5h.01M78.7 387.5h.01M108.3 372.9h.01M86.0 387.3h.01" stroke="#1a1ad0" stroke-width="1.7" stroke-linecap="round" fill="none"/>
<path d="M97.3 374.2h.01M106.1 466.7h.01M88.8 447.6h.01M68.4 413.7h.01M72.0 362.4h.01M95.7 400.9h.01M52.7 370.7h.01M22.9 456.0h.01M12.4 384.7h.01M24.0 475.6h.01M34.6 456.1h.01M82.1 352.9h.01M64.1 444.4h.01M13.0 456.9h.01M61.6 366.2h.01M48.5 389.9h.01M44.9 453.6h.01M25.6 415.7h.01M80.4 412.1h.01M74.1 458.8h.01M79.9 481.4h.01M54.5 367.6h.01M79.3 354.2h.01M91.3 402.7h.01M14.7 445.7h.01M19.7 418.9h.01M48.0 393.6h.01M12.2 430.0h.01M108.8 465.3h.01M65.9 413.6h.01M88.4 449.1h.01M19.6 381.8h.01M32.0 466.9h.01M48.2 367.7h.01M109.7 359.5h.01M70.5 380.8h.01M20.7 370.3h.01M94.8 373.1h.01M80.5 397.0h.01M53.2 370.3h.01M78.3 481.4h.01M30.5 428.0h.01M96.8 390.4h.01M92.3 420.0h.01M94.8 446.0h.01M91.9 399.8h.01M69.9 365.2h.01M35.3 389.4h.01M19.8 387.3h.01M95.9 438.7h.01M105.1 402.1h.01M23.9 419.5h.01M79.7 351.7h.01M25.8 419.9h.01M42.3 437.1h.01M18.4 419.8h.01M75.2 414.5h.01M106.4 462.2h.01M110.2 421.3h.01M102.4 400.2h.01M19.5 427.4h.01M87.5 431.0h.01M24.9 396.1h.01M47.9 361.8h.01M25.3 423.6h.01M53.4 372.6h.01M42.0 464.5h.01M87.9 380.5h.01M34.9 379.7h.01M24.7 436.0h.01M36.3 380.3h.01M96.4 451.3h.01M69.3 445.6h.01M109.5 368.8h.01M54.6 354.5h.01M103.9 391.2h.01M82.4 466.5h.01M103.6 359.9h.01M14.4 452.6h.01M53.3 409.4h.01M97.7 445.1h.01M66.2 398.6h.01M101.7 434.7h.01M92.0 420.0h.01M38.4 433.0h.01M28.8 473.7h.01M106.3 420.3h.01M31.6 396.8h.01M51.7 364.8h.01M76.3 398.6h.01M41.6 385.0h.01M103.8 464.1h.01M80.9 368.0h.01M92.7 372.2h.01M100.4 434.5h.01M99.7 366.5h.01M100.4 471.4h.01M103.4 399.3h.01M80.9 420.4h.01M27.0 444.6h.01M107.2 401.7h.01M105.0 441.7h.01M66.1 425.8h.01M70.1 431.0h.01M30.7 393.5h.01M29.6 426.4h.01M109.2 463.7h.01M41.4 424.6h.01M97.9 400.8h.01M105.5 471.9h.01M92.6 397.7h.01M90.9 401.3h.01M97.2 451.4h.01M74.2 358.9h.01M37.8 375.6h.01M21.3 455.9h.01M16.2 422.9h.01M48.9 365.7h.01M80.0 401.0h.01M104.4 360.7h.01M92.9 401.0h.01M74.4 467.7h.01M100.0 422.6h.01M47.3 471.1h.01M25.5 442.2h.01M80.2 423.8h.01M82.9 396.0h.01M23.3 449.3h.01M93.8 476.3h.01M109.7 417.4h.01M97.4 439.4h.01M52.8 353.8h.01M95.4 369.8h.01M104.3 365.9h.01M110.1 372.1h.01M32.3 400.5h.01M36.8 367.1h.01M79.6 356.9h.01M32.5 393.9h.01M22.5 446.0h.01M39.9 434.6h.01M89.0 456.1h.01" stroke="#1c1cf5" stroke-width="1.2" stroke-linecap="round" fill="none"/>
<path d="M76.7 423.0h.01M17.8 369.9h.01M60.4 414.4h.01M41.1 373.6h.01M36.1 438.3h.01M79.4 479.9h.01M66.2 437.5h.01M88.0 365.5h.01M83.3 387.8h.01M106.6 382.5h.01M67.2 468.0h.01M74.2 394.0h.01M94.1 464.3h.01M99.4 366.5h.01M93.9 407.4h.01M61.7 352.4h.01M13.4 443.3h.01M13.4 437.4h.01M26.6 470.5h.01M24.9 425.7h.01M89.7 426.5h.01M16.4 453.7h.01M92.8 369.3h.01M103.9 480.4h.01M21.7 467.3h.01M35.8 369.9h.01M75.0 414.5h.01M95.4 391.0h.01M100.4 451.7h.01M13.9 375.0h.01M79.4 408.8h.01M87.0 474.2h.01M91.3 377.7h.01M69.6 410.7h.01M16.2 452.9h.01M42.2 388.6h.01M70.8 379.5h.01M90.7 408.1h.01M77.6 476.9h.01M25.9 458.9h.01M75.6 379.5h.01M12.1 433.7h.01M37.9 379.4h.01M84.4 375.2h.01M42.8 371.1h.01M45.2 428.0h.01M17.6 437.9h.01M25.6 386.1h.01M85.7 392.2h.01M79.9 367.1h.01M56.0 361.8h.01M12.4 420.5h.01M101.7 455.4h.01M11.6 451.1h.01M100.6 441.2h.01M86.5 397.5h.01M65.9 364.6h.01M76.2 428.6h.01M96.5 427.5h.01M96.7 464.0h.01M91.7 387.7h.01M14.2 372.1h.01M103.8 357.9h.01M94.0 433.8h.01M96.1 400.8h.01M97.5 448.2h.01M103.3 462.5h.01M104.4 368.7h.01M72.9 443.4h.01M92.9 405.5h.01M72.7 389.9h.01M106.9 450.0h.01M82.6 398.8h.01M83.7 359.0h.01M11.7 354.0h.01M15.0 434.8h.01M36.4 393.8h.01M79.7 418.6h.01M91.4 361.1h.01M36.9 382.1h.01M85.6 423.3h.01M65.5 354.3h.01M14.7 442.3h.01M65.4 440.9h.01M15.9 449.3h.01M40.0 438.1h.01M104.8 409.6h.01M106.9 365.7h.01M69.9 473.7h.01M75.4 400.1h.01M13.6 440.0h.01M58.5 357.0h.01M53.6 373.9h.01M97.6 394.1h.01M66.9 404.7h.01M27.0 477.8h.01M91.9 479.5h.01M38.8 373.9h.01M72.6 390.0h.01M88.0 382.4h.01M77.6 408.4h.01M28.3 481.6h.01M108.9 426.2h.01M98.2 358.7h.01M43.0 415.0h.01M72.9 409.9h.01M45.8 371.4h.01M91.2 394.6h.01M110.1 385.6h.01M21.1 432.0h.01M85.7 438.0h.01M107.4 472.5h.01M100.9 456.3h.01M11.9 362.5h.01M109.4 438.9h.01M98.1 391.7h.01M101.0 407.2h.01M33.9 385.0h.01M98.2 456.8h.01M69.2 441.6h.01M34.3 372.9h.01M99.2 476.9h.01M49.7 381.4h.01M30.4 421.8h.01M35.3 379.8h.01M104.5 469.4h.01M81.1 469.2h.01M36.9 381.3h.01M75.3 439.2h.01M91.6 456.6h.01M18.4 426.3h.01M100.6 416.8h.01M35.5 479.3h.01M57.9 407.9h.01M69.5 426.1h.01M66.3 414.3h.01M81.7 377.2h.01" stroke="#1c1cf5" stroke-width="1.45" stroke-linecap="round" fill="none"/>
<path d="M77.0 422.7h.01M86.9 470.3h.01M47.4 444.7h.01M35.1 354.9h.01M29.4 376.7h.01M70.1 366.5h.01M21.7 355.0h.01M85.6 376.5h.01M105.8 389.2h.01M106.6 387.6h.01M90.5 462.7h.01M96.2 454.7h.01M93.8 443.6h.01M57.9 368.9h.01M90.8 422.5h.01M66.0 445.3h.01M54.9 452.3h.01M86.5 398.0h.01M72.5 426.2h.01M91.6 396.6h.01M42.1 451.7h.01M64.6 426.3h.01M95.4 437.9h.01M104.3 383.1h.01M105.3 370.3h.01M43.5 371.8h.01M39.1 382.2h.01M28.0 465.2h.01M108.6 423.8h.01M16.2 443.2h.01M73.6 481.4h.01M30.5 388.1h.01M11.6 450.0h.01M94.1 380.5h.01M61.9 367.2h.01M36.5 458.1h.01M16.4 464.3h.01M98.4 455.0h.01M62.9 456.8h.01M100.1 411.5h.01M98.0 400.7h.01M85.1 373.4h.01M92.8 425.7h.01M32.5 474.7h.01M40.4 381.4h.01M102.6 427.2h.01M91.5 372.7h.01M13.8 448.1h.01M94.2 374.9h.01M22.4 439.2h.01M98.3 470.5h.01M96.4 412.4h.01M76.9 411.0h.01M63.9 480.1h.01M89.8 465.7h.01M72.8 364.6h.01M107.0 403.7h.01M67.9 392.6h.01M21.0 433.8h.01M71.3 404.4h.01M108.7 469.6h.01M37.4 373.9h.01M83.2 378.8h.01M77.2 372.0h.01M106.0 419.5h.01M108.1 441.7h.01M102.2 474.8h.01M35.8 475.4h.01M72.7 399.5h.01M15.6 369.0h.01M71.6 353.4h.01M76.0 400.4h.01M36.3 370.9h.01M95.4 356.4h.01M36.2 430.8h.01M51.0 367.3h.01M100.1 369.7h.01M71.7 412.9h.01M97.7 410.2h.01M85.7 446.7h.01M86.4 395.4h.01M89.9 353.4h.01M93.0 381.5h.01M95.6 477.8h.01M102.0 403.1h.01M53.7 454.7h.01M89.3 388.7h.01M38.4 365.2h.01M97.2 445.0h.01M79.9 466.8h.01M29.7 364.1h.01M24.8 420.2h.01M90.8 413.2h.01M43.0 466.5h.01M95.2 361.6h.01M30.7 429.2h.01M94.4 453.0h.01M28.2 422.5h.01M21.4 370.6h.01M103.7 353.3h.01M88.2 357.4h.01M97.4 416.5h.01M98.0 448.0h.01M88.5 426.4h.01M107.9 455.6h.01M14.1 441.7h.01M33.8 421.6h.01M97.2 451.7h.01M47.1 452.8h.01M15.5 461.7h.01M11.3 464.1h.01M15.4 394.7h.01M96.6 398.1h.01M100.4 351.4h.01M93.5 399.7h.01M15.8 423.9h.01M47.8 374.4h.01M73.5 413.4h.01M14.5 460.0h.01M83.5 394.1h.01M100.8 406.1h.01M64.5 413.0h.01M14.5 446.3h.01M81.4 461.9h.01M94.1 450.1h.01M63.2 359.2h.01M99.4 458.9h.01M90.2 425.5h.01M103.7 415.6h.01M44.4 360.8h.01M83.9 369.2h.01M58.7 359.9h.01M25.6 459.3h.01M109.9 464.1h.01M69.9 416.8h.01M99.6 466.6h.01M103.6 468.4h.01M39.0 429.0h.01M79.7 388.3h.01M35.0 456.2h.01M36.1 381.2h.01" stroke="#1616b0" stroke-width="1.7" stroke-linecap="round" fill="none"/>
<path d="M87.6 475.9h.01M77.0 389.5h.01M21.4 443.8h.01M94.0 445.3h.01M70.1 441.3h.01M19.0 451.2h.01M79.7 388.2h.01M33.6 457.5h.01M99.1 365.0h.01M101.9 405.0h.01M103.6 398.0h.01M103.9 382.4h.01M28.4 420.6h.01M39.9 361.6h.01M17.8 380.5h.01M34.1 393.4h.01M100.9 365.3h.01M66.0 403.3h.01M36.0 439.9h.01M90.1 425.3h.01M29.5 455.9h.01M61.2 364.6h.01M60.1 405.2h.01M22.4 369.1h.01M13.5 463.4h.01M108.2 456.3h.01M41.8 376.1h.01M82.7 467.8h.01M68.5 382.2h.01M81.2 475.7h.01M65.8 462.7h.01M45.7 372.3h.01M88.5 372.5h.01M63.6 424.0h.01M32.6 387.1h.01M15.6 444.9h.01M34.6 433.2h.01M42.8 368.9h.01M40.8 357.3h.01M70.5 383.8h.01M78.5 350.6h.01M96.4 386.8h.01M93.1 412.6h.01M76.9 402.5h.01M77.9 471.3h.01M104.8 439.2h.01M94.1 361.7h.01M81.7 421.6h.01M89.5 466.3h.01M103.4 389.1h.01M81.6 438.3h.01M29.5 432.5h.01M63.5 402.5h.01M72.1 410.0h.01M16.8 368.6h.01M13.6 444.3h.01M102.0 372.2h.01M49.7 378.4h.01M40.3 463.7h.01M103.5 405.5h.01M27.7 421.9h.01M101.3 440.7h.01M103.6 381.5h.01M11.8 351.1h.01M14.7 431.7h.01M38.2 462.5h.01M94.8 412.1h.01M40.4 394.3h.01M97.8 387.5h.01M94.3 469.3h.01M88.8 416.2h.01M96.5 479.9h.01M15.2 442.3h.01M97.4 406.5h.01M31.8 424.6h.01M75.9 411.3h.01M52.9 357.9h.01M108.6 457.2h.01M81.0 474.8h.01M66.7 422.2h.01M109.4 356.3h.01M84.4 424.4h.01M37.5 428.5h.01M63.2 354.0h.01M21.3 424.0h.01M35.7 372.9h.01M93.8 392.1h.01M19.0 424.2h.01M28.0 378.8h.01M42.8 377.7h.01M89.8 374.1h.01M71.2 397.4h.01M80.2 416.8h.01M58.6 355.8h.01M66.2 356.6h.01M72.2 426.0h.01M109.8 442.2h.01M108.4 460.1h.01M98.3 438.2h.01M68.9 402.9h.01M101.5 368.0h.01M72.2 411.2h.01M86.6 392.5h.01M91.5 415.2h.01M66.0 413.4h.01M95.4 442.3h.01M25.5 361.5h.01M34.5 383.0h.01M22.7 469.3h.01M110.3 351.9h.01M84.4 477.8h.01M19.5 421.0h.01M96.7 470.0h.01M19.4 476.2h.01M76.2 364.0h.01M93.6 393.6h.01M102.5 447.3h.01M86.5 391.7h.01M102.3 358.6h.01M68.6 401.2h.01M99.6 354.9h.01M42.5 469.0h.01M110.1 366.2h.01M36.9 370.4h.01M95.7 420.0h.01M88.3 404.4h.01M23.4 388.1h.01M29.9 374.7h.01M75.6 385.8h.01M99.9 469.3h.01M96.4 423.1h.01M110.1 451.0h.01M96.7 408.5h.01M21.3 449.0h.01M78.6 479.8h.01M102.2 369.1h.01M40.6 373.9h.01M37.7 387.7h.01M87.6 386.5h.01M108.4 409.7h.01" stroke="#1c1cf5" stroke-width="1.7" stroke-linecap="round" fill="none"/>
<path d="M21.6 419.8h.01M40.9 386.5h.01M63.8 460.3h.01M19.4 356.7h.01M105.0 383.4h.01M70.4 394.9h.01M73.0 356.5h.01M98.0 441.5h.01M83.7 395.8h.01M51.3 363.9h.01M98.1 449.6h.01M75.4 415.3h.01M36.9 428.8h.01M24.4 465.9h.01M14.8 446.6h.01M107.6 371.9h.01M21.0 436.3h.01M91.0 382.2h.01M92.3 466.8h.01M93.4 418.6h.01M93.6 441.4h.01M83.7 371.1h.01M36.9 431.4h.01M87.1 404.3h.01M110.2 361.3h.01M22.5 382.3h.01M65.2 400.2h.01M79.5 445.3h.01M76.6 392.0h.01M99.3 469.2h.01M42.4 469.7h.01M102.2 424.8h.01M101.4 475.3h.01M94.6 480.7h.01M105.7 469.3h.01M20.8 446.9h.01M11.4 461.4h.01M105.0 407.2h.01M101.0 408.4h.01M35.4 389.0h.01M72.6 443.6h.01M65.7 443.6h.01M29.6 450.8h.01M108.2 352.2h.01M110.3 471.8h.01M88.7 395.5h.01M39.0 376.3h.01M48.0 368.7h.01M97.9 441.7h.01M51.8 362.8h.01M41.3 363.4h.01M83.0 477.7h.01M104.7 354.4h.01M93.7 478.2h.01M14.7 456.6h.01M100.6 378.9h.01M84.0 398.3h.01M22.0 473.3h.01M82.0 449.7h.01M104.4 398.2h.01M34.3 387.6h.01M42.3 447.6h.01M31.1 413.1h.01M45.4 435.9h.01M95.4 465.0h.01M90.4 378.9h.01M106.4 419.1h.01M86.0 411.8h.01M102.4 403.5h.01M12.3 421.0h.01M14.9 427.3h.01M21.0 380.6h.01M66.1 436.5h.01M109.4 475.4h.01M100.7 375.2h.01M30.3 376.4h.01M108.5 437.8h.01M68.1 476.3h.01M46.5 438.8h.01M58.3 439.2h.01M91.3 431.4h.01M30.6 406.0h.01M80.5 463.8h.01M27.5 470.9h.01M79.3 413.2h.01M16.0 452.3h.01M103.5 473.2h.01M80.1 414.4h.01M32.2 416.3h.01M95.5 424.8h.01M13.0 356.9h.01M37.8 425.4h.01M47.2 394.4h.01M76.5 400.5h.01M32.9 371.0h.01M64.5 476.2h.01M84.0 440.6h.01M83.8 403.1h.01M94.6 412.7h.01M25.8 451.2h.01M54.2 428.8h.01M92.6 399.3h.01M68.3 479.7h.01M100.0 449.8h.01M104.0 431.8h.01M104.2 396.9h.01M43.3 469.2h.01M25.3 475.1h.01M42.9 465.1h.01M103.1 422.6h.01M103.0 453.0h.01M101.1 357.5h.01M77.3 480.6h.01M93.4 364.6h.01M73.6 396.4h.01M74.7 393.6h.01M65.8 387.1h.01M57.7 359.4h.01M65.9 380.9h.01M76.7 360.2h.01" stroke="#2626ff" stroke-width="1.7" stroke-linecap="round" fill="none"/>
<path d="M22.7 440.4h.01M105.4 446.0h.01M101.6 461.8h.01M88.9 472.8h.01M90.4 432.8h.01M82.6 459.3h.01M88.4 410.2h.01M110.1 365.5h.01M24.0 436.3h.01M74.5 352.2h.01M76.8 430.3h.01M76.9 474.5h.01M41.4 441.3h.01M14.7 420.0h.01M89.6 439.6h.01M31.7 385.2h.01M87.6 393.7h.01M43.2 360.1h.01M92.2 359.7h.01M45.7 356.7h.01M51.8 470.2h.01M21.0 372.0h.01M21.6 421.9h.01M30.9 434.0h.01M27.1 459.3h.01M90.0 446.5h.01M104.2 353.8h.01M37.6 452.7h.01M100.9 466.0h.01M70.9 408.6h.01M31.9 462.3h.01M93.5 376.2h.01M70.5 405.8h.01M42.0 450.0h.01M90.2 350.4h.01M103.5 427.6h.01M80.6 390.4h.01M103.6 419.7h.01M75.6 394.6h.01M102.5 418.5h.01M85.6 471.2h.01M78.5 414.0h.01M88.3 353.9h.01M104.1 418.2h.01M74.2 419.3h.01M92.7 413.9h.01M95.5 444.6h.01M48.9 359.4h.01M83.0 398.0h.01M104.0 458.8h.01M91.3 468.5h.01M20.5 420.5h.01M105.5 461.7h.01M21.0 354.6h.01M20.8 472.3h.01M27.6 380.0h.01M67.0 371.2h.01M67.4 406.7h.01M12.0 381.7h.01M53.8 367.4h.01M16.5 353.6h.01M52.5 365.2h.01M85.7 413.7h.01M44.2 356.7h.01M74.1 417.4h.01M81.6 478.1h.01M42.5 377.9h.01M93.1 362.3h.01M97.0 478.0h.01M23.9 434.5h.01M48.6 376.4h.01M32.7 351.8h.01M41.5 445.1h.01M17.3 425.9h.01M107.6 412.9h.01M22.1 467.2h.01M74.3 450.1h.01M23.8 439.6h.01M104.4 364.6h.01M39.1 451.9h.01M106.2 418.9h.01M96.6 356.4h.01M33.7 475.3h.01M98.3 374.9h.01M15.7 444.6h.01M90.6 419.2h.01M91.8 353.2h.01M14.2 369.9h.01M28.1 371.9h.01M106.4 477.4h.01M78.2 362.8h.01M69.9 442.3h.01M21.9 466.3h.01M104.8 411.4h.01M109.9 475.8h.01M38.3 366.0h.01M17.4 432.3h.01M67.9 398.6h.01M24.8 451.6h.01M68.7 477.6h.01M100.2 468.3h.01M91.5 355.5h.01M72.3 374.9h.01M101.4 411.8h.01M99.4 474.3h.01M105.5 384.1h.01M89.5 351.3h.01M91.4 411.5h.01M30.8 467.7h.01M91.7 364.8h.01M105.9 374.2h.01M32.5 464.7h.01M13.5 437.2h.01M104.3 478.7h.01M82.5 412.7h.01M14.8 421.5h.01M20.8 390.5h.01M36.3 461.6h.01M62.6 457.2h.01M63.2 413.3h.01M71.7 478.4h.01M97.2 447.2h.01M24.3 387.5h.01M76.5 404.9h.01M33.2 393.3h.01M76.6 418.1h.01M76.5 367.9h.01M89.9 382.1h.01M109.9 455.3h.01M105.6 438.1h.01" stroke="#1a1ad0" stroke-width="1.2" stroke-linecap="round" fill="none"/>
<path d="M33.4 419.5h.01M46.4 383.7h.01M13.9 380.3h.01M44.4 444.2h.01M90.4 394.7h.01M93.4 478.3h.01M20.0 385.9h.01M106.8 357.2h.01M90.2 375.3h.01M96.0 421.8h.01M100.9 364.7h.01M71.8 363.3h.01M80.0 397.2h.01M109.9 479.5h.01M88.9 437.1h.01M101.6 368.8h.01M106.6 409.0h.01M18.7 476.2h.01M82.9 434.0h.01M76.6 399.7h.01M28.6 420.9h.01M31.9 477.2h.01M93.5 462.1h.01M30.7 431.6h.01M73.7 418.5h.01M99.9 354.8h.01M79.8 354.7h.01M44.2 367.3h.01M49.6 371.3h.01M99.4 395.6h.01M95.2 461.5h.01M73.4 476.0h.01M62.7 457.5h.01M19.6 474.6h.01M41.4 364.2h.01M26.1 397.1h.01M92.5 394.2h.01M11.2 379.6h.01M88.5 459.5h.01M108.6 461.4h.01M16.2 455.9h.01M98.2 352.3h.01M31.8 362.2h.01M23.8 425.7h.01M107.2 469.3h.01M82.3 470.0h.01M95.3 468.1h.01M89.8 441.4h.01M106.7 442.2h.01M67.5 424.3h.01M93.7 419.6h.01M20.1 434.3h.01M40.0 422.2h.01M82.3 396.4h.01M22.2 379.6h.01M83.0 408.7h.01M96.5 357.4h.01M89.3 436.4h.01M90.4 361.3h.01M26.0 389.5h.01M99.3 397.4h.01M109.9 432.0h.01M39.9 433.5h.01M83.1 374.8h.01M12.9 430.4h.01M74.8 412.4h.01M17.2 354.9h.01M50.0 462.7h.01M76.7 423.5h.01M96.3 462.1h.01M70.4 362.1h.01M102.5 432.7h.01M83.8 383.8h.01M69.7 395.3h.01M102.0 405.8h.01M105.1 465.5h.01M14.8 444.5h.01M107.8 479.0h.01M26.7 383.6h.01M109.9 388.1h.01M93.3 363.1h.01M29.1 385.2h.01M97.0 399.0h.01M105.5 468.1h.01M89.4 399.7h.01M102.6 358.7h.01M44.9 378.0h.01M78.5 433.5h.01M35.3 415.4h.01M56.1 355.7h.01M105.6 473.8h.01M33.4 377.5h.01M90.7 464.8h.01M24.6 474.4h.01M106.6 476.1h.01M87.7 399.9h.01M99.3 418.6h.01M101.2 472.1h.01M98.4 391.5h.01M45.6 433.9h.01M28.0 371.7h.01M42.8 429.9h.01M34.6 467.3h.01M12.9 431.4h.01M17.7 380.8h.01M105.3 440.9h.01M26.9 460.5h.01M106.1 422.9h.01M65.6 378.1h.01M75.8 408.4h.01M72.9 435.5h.01M89.1 451.0h.01M19.5 481.1h.01M28.4 390.9h.01M84.7 421.5h.01M71.7 420.4h.01M96.2 481.5h.01M75.1 410.3h.01M47.7 377.0h.01M20.1 382.0h.01M14.4 423.8h.01M94.6 443.4h.01M36.9 424.9h.01M74.4 401.9h.01M33.8 449.8h.01M109.5 415.5h.01" stroke="#2626ff" stroke-width="1.45" stroke-linecap="round" fill="none"/>
<path d="M85.8 414.8h.01M101.0 368.2h.01M110.1 411.5h.01M102.5 394.6h.01M16.7 456.5h.01M28.1 375.5h.01M103.4 376.6h.01M49.7 363.8h.01M48.6 380.3h.01M91.2 395.9h.01M95.0 409.1h.01M39.1 371.2h.01M89.5 423.9h.01M100.8 360.8h.01M82.8 358.0h.01M35.3 380.2h.01M86.2 365.7h.01M104.2 420.7h.01M84.2 424.3h.01M109.6 478.6h.01M69.4 436.0h.01M110.3 478.5h.01M42.6 450.8h.01M101.6 363.8h.01M101.5 456.6h.01M98.2 403.7h.01M98.9 467.7h.01M90.9 421.7h.01M47.8 381.0h.01M20.7 453.3h.01M80.3 464.5h.01M92.1 474.0h.01M41.2 475.9h.01M108.6 473.5h.01M109.4 445.8h.01M58.1 402.0h.01M88.8 418.8h.01M52.4 435.4h.01M89.7 408.3h.01M77.8 390.9h.01M93.0 444.5h.01M51.6 428.9h.01M104.5 367.2h.01M46.9 365.0h.01M98.1 471.2h.01M96.3 470.0h.01M100.0 457.1h.01M86.6 405.3h.01M90.3 416.4h.01M22.8 365.6h.01M100.0 467.7h.01M47.1 435.5h.01M100.6 457.6h.01M39.3 397.9h.01M49.0 380.6h.01M88.0 406.5h.01M107.3 456.8h.01M90.5 394.2h.01M93.2 462.6h.01M43.2 381.5h.01M23.6 374.7h.01M95.3 478.7h.01M33.8 471.4h.01M97.0 382.8h.01M29.9 365.3h.01M28.3 373.7h.01M96.3 425.9h.01M12.3 458.4h.01M73.7 386.4h.01M38.0 383.3h.01M102.7 363.0h.01M32.3 468.3h.01M33.9 364.2h.01M21.2 391.1h.01M19.8 442.7h.01M86.9 411.4h.01M98.7 360.3h.01M107.5 376.8h.01M65.6 474.9h.01M93.2 422.1h.01M41.1 444.8h.01M69.7 430.5h.01M87.2 434.6h.01M107.1 429.0h.01M89.4 403.0h.01M73.4 359.5h.01M12.8 433.7h.01M74.8 414.6h.01M12.6 393.3h.01M106.0 411.5h.01M16.9 392.4h.01M86.4 397.8h.01M45.2 428.3h.01M82.8 418.3h.01M64.6 465.8h.01M62.7 429.4h.01M105.5 368.3h.01M104.7 405.8h.01M19.5 472.7h.01M105.7 436.8h.01M87.1 443.9h.01M61.3 351.5h.01M89.8 408.8h.01M84.2 395.5h.01M95.6 456.4h.01M105.1 475.4h.01M30.9 437.9h.01M84.4 398.5h.01M86.5 420.0h.01M72.3 442.8h.01M60.5 481.5h.01M48.6 368.1h.01M31.2 381.9h.01M91.5 388.0h.01M95.4 396.1h.01M38.8 459.7h.01M93.4 354.9h.01M57.5 364.2h.01M67.3 432.2h.01M27.7 380.3h.01M17.9 376.4h.01M23.3 357.8h.01M46.6 363.7h.01M62.4 353.1h.01M106.7 377.5h.01M81.7 369.9h.01M17.8 382.0h.01M20.5 440.8h.01" stroke="#1616b0" stroke-width="1.45" stroke-linecap="round" fill="none"/>
<path d="M67.4 446.0h.01M109.2 370.4h.01M95.1 421.0h.01M100.9 390.6h.01M17.8 434.1h.01M98.2 366.7h.01M91.4 395.1h.01M108.7 445.6h.01M87.1 368.6h.01M103.8 456.1h.01" stroke="#e84878" stroke-width="1.8" stroke-linecap="round" fill="none"/>
<path d="M78.5 368.3h.01M100.4 353.0h.01M105.8 444.0h.01M104.6 437.6h.01M110.3 363.9h.01M45.4 445.5h.01M80.9 422.7h.01M46.9 434.8h.01" stroke="#e84878" stroke-width="1.4" stroke-linecap="round" fill="none"/>
<path d="M19.5 473.2h.01M92.2 449.8h.01M74.7 396.5h.01M83.2 354.2h.01M21.9 430.6h.01M64.6 415.7h.01M92.9 375.1h.01M106.1 412.8h.01" stroke="#ff5a98" stroke-width="1.4" stroke-linecap="round" fill="none"/>
<path d="M30.1 432.2h.01M71.3 430.7h.01M103.8 471.4h.01M100.6 409.8h.01M108.5 386.1h.01M12.6 430.0h.01M107.4 394.6h.01M22.1 428.2h.01M83.1 361.9h.01M66.6 384.9h.01" stroke="#ff9068" stroke-width="1.8" stroke-linecap="round" fill="none"/>
<path d="M99.6 386.6h.01M105.0 454.3h.01M29.4 458.2h.01M109.0 424.1h.01M70.9 355.2h.01M41.5 411.1h.01M106.7 468.5h.01M104.4 365.9h.01M82.2 476.8h.01" stroke="#ff9068" stroke-width="1.4" stroke-linecap="round" fill="none"/>
<path d="M36.0 426.0h.01M68.0 438.7h.01M67.8 371.9h.01M84.1 378.4h.01M92.1 385.2h.01M71.6 370.9h.01M72.0 394.3h.01M105.3 411.3h.01M96.8 362.0h.01" stroke="#ff78a8" stroke-width="1.8" stroke-linecap="round" fill="none"/>
<path d="M25.4 444.4h.01M12.8 464.3h.01M73.5 397.0h.01M13.3 478.6h.01M107.8 448.9h.01M80.9 480.6h.01M96.7 403.9h.01M85.9 393.7h.01M92.3 430.8h.01M67.3 414.4h.01" stroke="#ff78a8" stroke-width="1.4" stroke-linecap="round" fill="none"/>
<path d="M79.5 355.4h.01M103.1 371.8h.01M79.2 435.7h.01M104.7 355.6h.01M105.3 433.7h.01M22.8 431.1h.01" stroke="#ff5a98" stroke-width="1.8" stroke-linecap="round" fill="none"/>
<path d="M39.7 390.7h.01M41.0 453.8h.01M34.0 438.1h.01" stroke="#e0ff60" stroke-width="1.3" stroke-linecap="round" fill="none"/>
<path d="M80.2 414.2h.01M57.4 462.1h.01M56.5 368.1h.01" stroke="#40ff60" stroke-width="1.7" stroke-linecap="round" fill="none"/>
<path d="M55.2 446.3h.01M12.5 385.8h.01" stroke="#60ffff" stroke-width="1.3" stroke-linecap="round" fill="none"/>
<circle cx="71.51" cy="405.01" r="0.93" fill="#ff80b0"/>
<circle cx="68.23" cy="408.56" r="0.99" fill="#ff80b0"/>
<circle cx="66.75" cy="408.28" r="0.85" fill="#ff60a0"/>
<circle cx="71.82" cy="407.70" r="1.17" fill="#ff60a0"/>
<circle cx="75.82" cy="400.80" r="0.83" fill="#f05090"/>
<circle cx="64.05" cy="409.34" r="1.17" fill="#f05090"/>
<circle cx="66.91" cy="404.21" r="1.08" fill="#ff60a0"/>
</g>
<rect x="59.70" y="397.40" width="19.00" height="14.30" fill="none" stroke="#f0f0f0" stroke-width="0.9"/>
<line x1="78.70" y1="397.40" x2="109.50" y2="357.50" stroke="#f4f4f4" stroke-width="1.15" stroke-dasharray="2.2 1.5"/>
<line x1="78.70" y1="411.70" x2="109.50" y2="475.00" stroke="#f4f4f4" stroke-width="1.15" stroke-dasharray="2.2 1.5"/>
<text x="13.60" y="359.10" font-size="8.6" text-anchor="start" fill="#fff" stroke="#fff" stroke-width="0.18" font-weight="bold">CTL</text>
<line x1="14.20" y1="470.90" x2="25.20" y2="470.90" stroke="#fff" stroke-width="1.3"/>
<text x="13.90" y="479.10" font-size="7.4" text-anchor="start" fill="#fff" stroke="#fff" stroke-width="0.18">50 μm</text>
<clipPath id="ic201_0"><rect x="113" y="350.40" width="57" height="42.1"/></clipPath>
<g clip-path="url(#ic201_0)">
<rect x="113.00" y="350.40" width="57.00" height="42.10" fill="#05051c" stroke="none" stroke-width="1"/>
<g filter="url(#gl3)">
<ellipse cx="115.1" cy="363.4" rx="2.0" ry="1.8" transform="rotate(135 115.1 363.4)" fill="#2e34ff"/>
<ellipse cx="148.9" cy="360.9" rx="2.5" ry="2.0" transform="rotate(85 148.9 360.9)" fill="#2e34ff"/>
<ellipse cx="114.8" cy="359.0" rx="2.9" ry="2.3" transform="rotate(2 114.8 359.0)" fill="#1f22f0"/>
<ellipse cx="125.6" cy="360.7" rx="2.2" ry="2.2" transform="rotate(120 125.6 360.7)" fill="#1f22f0"/>
<ellipse cx="166.1" cy="389.5" rx="2.8" ry="2.2" transform="rotate(90 166.1 389.5)" fill="#1a1cd0"/>
<ellipse cx="140.6" cy="383.5" rx="2.3" ry="1.9" transform="rotate(101 140.6 383.5)" fill="#2e34ff"/>
<ellipse cx="122.4" cy="367.4" rx="2.7" ry="1.9" transform="rotate(174 122.4 367.4)" fill="#1f22f0"/>
<ellipse cx="123.3" cy="354.8" rx="2.7" ry="1.8" transform="rotate(2 123.3 354.8)" fill="#1a1cd0"/>
<ellipse cx="117.5" cy="360.8" rx="2.9" ry="1.8" transform="rotate(6 117.5 360.8)" fill="#2828ff"/>
<ellipse cx="140.9" cy="375.7" rx="2.6" ry="2.0" transform="rotate(1 140.9 375.7)" fill="#1a1cd0"/>
<ellipse cx="142.1" cy="390.3" rx="2.2" ry="1.7" transform="rotate(37 142.1 390.3)" fill="#1a1cd0"/>
<ellipse cx="140.8" cy="348.5" rx="2.2" ry="2.0" transform="rotate(83 140.8 348.5)" fill="#1a1cd0"/>
<ellipse cx="132.1" cy="385.4" rx="2.9" ry="1.7" transform="rotate(10 132.1 385.4)" fill="#2e34ff"/>
<ellipse cx="160.9" cy="353.6" rx="2.3" ry="2.3" transform="rotate(78 160.9 353.6)" fill="#1f22f0"/>
<ellipse cx="158.5" cy="391.1" rx="2.6" ry="2.2" transform="rotate(161 158.5 391.1)" fill="#2828ff"/>
<ellipse cx="129.6" cy="380.0" rx="2.0" ry="2.1" transform="rotate(28 129.6 380.0)" fill="#2828ff"/>
<ellipse cx="135.6" cy="369.5" rx="2.4" ry="1.7" transform="rotate(141 135.6 369.5)" fill="#2828ff"/>
<ellipse cx="125.6" cy="392.6" rx="2.0" ry="2.3" transform="rotate(96 125.6 392.6)" fill="#2828ff"/>
<ellipse cx="144.2" cy="366.3" rx="2.2" ry="1.9" transform="rotate(115 144.2 366.3)" fill="#1a1cd0"/>
<ellipse cx="119.4" cy="350.4" rx="2.5" ry="2.1" transform="rotate(35 119.4 350.4)" fill="#1a1cd0"/>
<ellipse cx="143.6" cy="354.5" rx="2.5" ry="2.0" transform="rotate(127 143.6 354.5)" fill="#2e34ff"/>
<ellipse cx="121.3" cy="368.2" rx="2.8" ry="1.6" transform="rotate(74 121.3 368.2)" fill="#1f22f0"/>
<ellipse cx="153.4" cy="391.1" rx="2.8" ry="1.7" transform="rotate(146 153.4 391.1)" fill="#1a1cd0"/>
<ellipse cx="117.2" cy="370.8" rx="2.1" ry="1.8" transform="rotate(5 117.2 370.8)" fill="#2828ff"/>
<ellipse cx="169.7" cy="390.0" rx="2.8" ry="2.1" transform="rotate(154 169.7 390.0)" fill="#2828ff"/>
<ellipse cx="167.9" cy="349.9" rx="2.5" ry="2.3" transform="rotate(104 167.9 349.9)" fill="#1a1cd0"/>
<ellipse cx="122.3" cy="353.4" rx="2.9" ry="1.9" transform="rotate(98 122.3 353.4)" fill="#1a1cd0"/>
<ellipse cx="163.2" cy="381.5" rx="2.6" ry="2.1" transform="rotate(42 163.2 381.5)" fill="#1f22f0"/>
<ellipse cx="114.7" cy="364.0" rx="2.1" ry="2.0" transform="rotate(99 114.7 364.0)" fill="#1f22f0"/>
<ellipse cx="120.2" cy="374.8" rx="2.8" ry="1.8" transform="rotate(82 120.2 374.8)" fill="#1a1cd0"/>
<ellipse cx="117.8" cy="369.0" rx="2.9" ry="2.3" transform="rotate(164 117.8 369.0)" fill="#1f22f0"/>
<ellipse cx="147.5" cy="370.0" rx="2.6" ry="2.4" transform="rotate(53 147.5 370.0)" fill="#1a1cd0"/>
<ellipse cx="140.6" cy="368.8" rx="2.6" ry="2.3" transform="rotate(45 140.6 368.8)" fill="#2e34ff"/>
<ellipse cx="128.2" cy="353.8" rx="2.6" ry="2.2" transform="rotate(110 128.2 353.8)" fill="#2828ff"/>
<ellipse cx="166.2" cy="375.7" rx="2.9" ry="2.0" transform="rotate(15 166.2 375.7)" fill="#1a1cd0"/>
<ellipse cx="169.6" cy="349.3" rx="3.0" ry="2.2" transform="rotate(24 169.6 349.3)" fill="#2828ff"/>
<ellipse cx="151.1" cy="375.3" rx="2.9" ry="1.7" transform="rotate(43 151.1 375.3)" fill="#2828ff"/>
<ellipse cx="162.2" cy="355.7" rx="2.1" ry="2.0" transform="rotate(150 162.2 355.7)" fill="#2828ff"/>
<ellipse cx="143.9" cy="355.3" rx="2.6" ry="2.3" transform="rotate(135 143.9 355.3)" fill="#2828ff"/>
<ellipse cx="141.3" cy="372.2" rx="2.9" ry="1.7" transform="rotate(40 141.3 372.2)" fill="#2e34ff"/>
<ellipse cx="166.9" cy="381.1" rx="2.2" ry="1.9" transform="rotate(54 166.9 381.1)" fill="#2e34ff"/>
<ellipse cx="113.0" cy="349.4" rx="2.6" ry="1.8" transform="rotate(25 113.0 349.4)" fill="#1a1cd0"/>
<ellipse cx="158.0" cy="349.8" rx="2.1" ry="1.7" transform="rotate(138 158.0 349.8)" fill="#2e34ff"/>
<ellipse cx="134.6" cy="375.4" rx="2.8" ry="1.7" transform="rotate(122 134.6 375.4)" fill="#2e34ff"/>
<ellipse cx="164.4" cy="359.8" rx="2.0" ry="1.8" transform="rotate(179 164.4 359.8)" fill="#1a1cd0"/>
<ellipse cx="133.7" cy="351.9" rx="2.5" ry="2.1" transform="rotate(51 133.7 351.9)" fill="#1a1cd0"/>
<ellipse cx="113.0" cy="353.5" rx="2.0" ry="2.3" transform="rotate(139 113.0 353.5)" fill="#2828ff"/>
<ellipse cx="123.8" cy="387.0" rx="2.2" ry="2.2" transform="rotate(127 123.8 387.0)" fill="#1f22f0"/>
<ellipse cx="169.6" cy="381.3" rx="2.6" ry="2.4" transform="rotate(104 169.6 381.3)" fill="#1f22f0"/>
<ellipse cx="120.2" cy="380.7" rx="2.4" ry="2.2" transform="rotate(14 120.2 380.7)" fill="#2828ff"/>
<ellipse cx="153.1" cy="371.4" rx="2.6" ry="2.0" transform="rotate(110 153.1 371.4)" fill="#2828ff"/>
<ellipse cx="170.4" cy="383.8" rx="2.3" ry="2.1" transform="rotate(85 170.4 383.8)" fill="#1f22f0"/>
<ellipse cx="163.8" cy="378.2" rx="3.0" ry="1.7" transform="rotate(28 163.8 378.2)" fill="#1f22f0"/>
<ellipse cx="121.9" cy="393.5" rx="2.2" ry="2.1" transform="rotate(161 121.9 393.5)" fill="#1a1cd0"/>
<ellipse cx="136.8" cy="359.0" rx="2.4" ry="1.7" transform="rotate(23 136.8 359.0)" fill="#2e34ff"/>
<ellipse cx="158.2" cy="390.0" rx="2.4" ry="2.4" transform="rotate(134 158.2 390.0)" fill="#1a1cd0"/>
<ellipse cx="118.7" cy="354.9" rx="2.8" ry="2.3" transform="rotate(123 118.7 354.9)" fill="#1f22f0"/>
<ellipse cx="166.5" cy="390.3" rx="2.9" ry="1.9" transform="rotate(8 166.5 390.3)" fill="#1a1cd0"/>
<ellipse cx="119.0" cy="365.3" rx="2.5" ry="1.6" transform="rotate(132 119.0 365.3)" fill="#1a1cd0"/>
<ellipse cx="113.9" cy="381.1" rx="2.5" ry="2.4" transform="rotate(137 113.9 381.1)" fill="#2e34ff"/>
<ellipse cx="161.5" cy="354.6" rx="2.4" ry="1.8" transform="rotate(115 161.5 354.6)" fill="#2828ff"/>
<ellipse cx="122.6" cy="365.8" rx="2.9" ry="1.9" transform="rotate(87 122.6 365.8)" fill="#1a1cd0"/>
<ellipse cx="143.8" cy="378.6" rx="2.4" ry="2.1" transform="rotate(9 143.8 378.6)" fill="#1a1cd0"/>
<ellipse cx="138.8" cy="352.0" rx="2.1" ry="2.0" transform="rotate(74 138.8 352.0)" fill="#1a1cd0"/>
<ellipse cx="159.7" cy="391.9" rx="2.7" ry="2.2" transform="rotate(108 159.7 391.9)" fill="#2e34ff"/>
<ellipse cx="133.5" cy="362.2" rx="3.0" ry="2.2" transform="rotate(118 133.5 362.2)" fill="#1f22f0"/>
<ellipse cx="142.7" cy="371.2" rx="2.8" ry="1.6" transform="rotate(95 142.7 371.2)" fill="#2828ff"/>
<ellipse cx="138.7" cy="390.6" rx="2.8" ry="2.3" transform="rotate(85 138.7 390.6)" fill="#1a1cd0"/>
<ellipse cx="121.9" cy="359.2" rx="2.5" ry="2.2" transform="rotate(128 121.9 359.2)" fill="#2828ff"/>
<ellipse cx="136.3" cy="349.5" rx="2.5" ry="1.7" transform="rotate(62 136.3 349.5)" fill="#1f22f0"/>
<ellipse cx="130.3" cy="360.2" rx="2.1" ry="2.2" transform="rotate(27 130.3 360.2)" fill="#2828ff"/>
<ellipse cx="149.7" cy="370.0" rx="3.0" ry="2.4" transform="rotate(71 149.7 370.0)" fill="#2828ff"/>
<ellipse cx="158.4" cy="353.4" rx="2.8" ry="2.3" transform="rotate(89 158.4 353.4)" fill="#2828ff"/>
<ellipse cx="172.0" cy="388.6" rx="2.5" ry="1.9" transform="rotate(35 172.0 388.6)" fill="#2828ff"/>
<ellipse cx="162.6" cy="356.5" rx="2.5" ry="2.0" transform="rotate(9 162.6 356.5)" fill="#1f22f0"/>
<ellipse cx="113.6" cy="374.0" rx="2.2" ry="2.0" transform="rotate(45 113.6 374.0)" fill="#1a1cd0"/>
<ellipse cx="127.8" cy="380.1" rx="2.6" ry="1.7" transform="rotate(114 127.8 380.1)" fill="#1f22f0"/>
<ellipse cx="153.4" cy="361.6" rx="2.8" ry="1.6" transform="rotate(58 153.4 361.6)" fill="#2e34ff"/>
<ellipse cx="166.8" cy="385.4" rx="3.0" ry="1.6" transform="rotate(63 166.8 385.4)" fill="#2828ff"/>
<ellipse cx="145.1" cy="376.7" rx="3.0" ry="2.2" transform="rotate(36 145.1 376.7)" fill="#1f22f0"/>
<ellipse cx="134.1" cy="364.6" rx="2.7" ry="1.9" transform="rotate(124 134.1 364.6)" fill="#2828ff"/>
<ellipse cx="113.9" cy="359.8" rx="2.1" ry="2.2" transform="rotate(125 113.9 359.8)" fill="#2e34ff"/>
<ellipse cx="112.9" cy="387.9" rx="2.7" ry="2.2" transform="rotate(140 112.9 387.9)" fill="#2828ff"/>
<ellipse cx="144.5" cy="355.2" rx="2.9" ry="1.8" transform="rotate(115 144.5 355.2)" fill="#2e34ff"/>
<ellipse cx="144.9" cy="373.7" rx="2.5" ry="2.0" transform="rotate(66 144.9 373.7)" fill="#1a1cd0"/>
<ellipse cx="162.0" cy="354.3" rx="2.0" ry="1.8" transform="rotate(118 162.0 354.3)" fill="#1f22f0"/>
<ellipse cx="128.8" cy="359.2" rx="2.1" ry="2.1" transform="rotate(38 128.8 359.2)" fill="#2828ff"/>
<ellipse cx="150.1" cy="372.5" rx="3.0" ry="1.9" transform="rotate(60 150.1 372.5)" fill="#2e34ff"/>
<ellipse cx="145.9" cy="350.9" rx="2.3" ry="2.2" transform="rotate(145 145.9 350.9)" fill="#2e34ff"/>
<ellipse cx="157.9" cy="392.7" rx="2.7" ry="2.2" transform="rotate(66 157.9 392.7)" fill="#1a1cd0"/>
<ellipse cx="153.9" cy="367.3" rx="2.1" ry="2.1" transform="rotate(35 153.9 367.3)" fill="#1a1cd0"/>
<ellipse cx="151.6" cy="388.4" rx="2.4" ry="2.0" transform="rotate(134 151.6 388.4)" fill="#2828ff"/>
<ellipse cx="119.7" cy="352.3" rx="2.0" ry="1.8" transform="rotate(128 119.7 352.3)" fill="#1f22f0"/>
<ellipse cx="133.4" cy="393.3" rx="2.3" ry="2.0" transform="rotate(78 133.4 393.3)" fill="#1f22f0"/>
<ellipse cx="165.5" cy="379.7" rx="2.2" ry="1.9" transform="rotate(140 165.5 379.7)" fill="#2e34ff"/>
<ellipse cx="118.8" cy="393.3" rx="2.0" ry="2.1" transform="rotate(109 118.8 393.3)" fill="#1a1cd0"/>
<ellipse cx="116.0" cy="388.5" rx="2.3" ry="2.1" transform="rotate(78 116.0 388.5)" fill="#1f22f0"/>
<ellipse cx="122.9" cy="369.6" rx="2.1" ry="2.4" transform="rotate(144 122.9 369.6)" fill="#1a1cd0"/>
<ellipse cx="144.8" cy="351.6" rx="2.3" ry="2.0" transform="rotate(171 144.8 351.6)" fill="#1f22f0"/>
<ellipse cx="125.2" cy="384.7" rx="2.7" ry="2.4" transform="rotate(126 125.2 384.7)" fill="#1a1cd0"/>
<ellipse cx="127.5" cy="384.5" rx="2.5" ry="2.1" transform="rotate(161 127.5 384.5)" fill="#2e34ff"/>
<ellipse cx="138.3" cy="372.8" rx="3.0" ry="1.8" transform="rotate(44 138.3 372.8)" fill="#1a1cd0"/>
<ellipse cx="150.3" cy="388.1" rx="2.3" ry="2.3" transform="rotate(125 150.3 388.1)" fill="#2e34ff"/>
<ellipse cx="167.8" cy="352.3" rx="2.2" ry="2.4" transform="rotate(125 167.8 352.3)" fill="#1a1cd0"/>
<ellipse cx="124.3" cy="384.6" rx="2.1" ry="2.3" transform="rotate(10 124.3 384.6)" fill="#2e34ff"/>
<ellipse cx="114.0" cy="384.3" rx="2.7" ry="1.7" transform="rotate(8 114.0 384.3)" fill="#2e34ff"/>
<ellipse cx="141.8" cy="365.2" rx="2.7" ry="2.0" transform="rotate(2 141.8 365.2)" fill="#1f22f0"/>
<ellipse cx="152.9" cy="379.4" rx="2.3" ry="2.4" transform="rotate(135 152.9 379.4)" fill="#1f22f0"/>
<ellipse cx="171.1" cy="371.3" rx="2.8" ry="2.0" transform="rotate(68 171.1 371.3)" fill="#1f22f0"/>
<ellipse cx="163.3" cy="362.4" rx="2.1" ry="2.3" transform="rotate(114 163.3 362.4)" fill="#1f22f0"/>
<ellipse cx="142.9" cy="367.7" rx="2.1" ry="1.7" transform="rotate(93 142.9 367.7)" fill="#2e34ff"/>
<ellipse cx="136.4" cy="382.6" rx="2.8" ry="1.8" transform="rotate(77 136.4 382.6)" fill="#2e34ff"/>
<ellipse cx="141.5" cy="372.1" rx="2.3" ry="1.7" transform="rotate(144 141.5 372.1)" fill="#1a1cd0"/>
<ellipse cx="119.6" cy="386.6" rx="2.7" ry="2.1" transform="rotate(57 119.6 386.6)" fill="#2e34ff"/>
<ellipse cx="138.3" cy="363.5" rx="2.2" ry="2.1" transform="rotate(91 138.3 363.5)" fill="#1f22f0"/>
</g><g filter="url(#gl)">
<ellipse cx="139.7" cy="360.7" rx="2.3" ry="1.8" transform="rotate(103 139.7 360.7)" fill="#b030c0" stroke="#ff1850" stroke-width="0.9"/>
<ellipse cx="142.2" cy="367.9" rx="2.3" ry="1.8" transform="rotate(93 142.2 367.9)" fill="#b030c0" stroke="#ff1850" stroke-width="0.9"/>
<ellipse cx="120.5" cy="369.4" rx="3.1" ry="2.5" transform="rotate(136 120.5 369.4)" fill="#b030c0" stroke="#ff1850" stroke-width="0.9"/>
<ellipse cx="150.4" cy="368.6" rx="2.3" ry="1.9" transform="rotate(157 150.4 368.6)" fill="#b030c0" stroke="#ff1850" stroke-width="0.9"/>
<ellipse cx="132.7" cy="368.5" rx="2.4" ry="1.9" transform="rotate(80 132.7 368.5)" fill="#b030c0" stroke="#ff1850" stroke-width="0.9"/>
<ellipse cx="132.8" cy="385.7" rx="2.2" ry="1.8" transform="rotate(8 132.8 385.7)" fill="#b030c0" stroke="#ff1850" stroke-width="0.9"/>
<ellipse cx="156.3" cy="357.5" rx="3.1" ry="2.5" transform="rotate(167 156.3 357.5)" fill="#b030c0" stroke="#ff1850" stroke-width="0.9"/>
<ellipse cx="138.6" cy="384.5" rx="2.7" ry="2.2" transform="rotate(39 138.6 384.5)" fill="#b030c0" stroke="#ff1850" stroke-width="0.9"/>
</g></g>
<text x="114.00" y="358.20" font-size="7.8" text-anchor="start" fill="#e8204c" stroke="#e8204c" stroke-width="0.18">CD8</text>
<line x1="154.50" y1="382.60" x2="167.70" y2="382.60" stroke="#fff" stroke-width="1.2"/>
<text x="150.00" y="389.90" font-size="7.5" text-anchor="start" fill="#fff" stroke="#fff" stroke-width="0.18">20 μm</text>
<clipPath id="ic201_1"><rect x="113" y="394.40" width="57" height="42.1"/></clipPath>
<g clip-path="url(#ic201_1)">
<rect x="113.00" y="394.40" width="57.00" height="42.10" fill="#05051c" stroke="none" stroke-width="1"/>
<g filter="url(#gl3)">
<ellipse cx="115.1" cy="407.4" rx="2.0" ry="1.8" transform="rotate(135 115.1 407.4)" fill="#2e34ff"/>
<ellipse cx="148.9" cy="404.9" rx="2.5" ry="2.0" transform="rotate(85 148.9 404.9)" fill="#2e34ff"/>
<ellipse cx="114.8" cy="403.0" rx="2.9" ry="2.3" transform="rotate(2 114.8 403.0)" fill="#1f22f0"/>
<ellipse cx="125.6" cy="404.7" rx="2.2" ry="2.2" transform="rotate(120 125.6 404.7)" fill="#1f22f0"/>
<ellipse cx="166.1" cy="433.5" rx="2.8" ry="2.2" transform="rotate(90 166.1 433.5)" fill="#1a1cd0"/>
<ellipse cx="140.6" cy="427.5" rx="2.3" ry="1.9" transform="rotate(101 140.6 427.5)" fill="#2e34ff"/>
<ellipse cx="122.4" cy="411.4" rx="2.7" ry="1.9" transform="rotate(174 122.4 411.4)" fill="#1f22f0"/>
<ellipse cx="123.3" cy="398.8" rx="2.7" ry="1.8" transform="rotate(2 123.3 398.8)" fill="#1a1cd0"/>
<ellipse cx="117.5" cy="404.8" rx="2.9" ry="1.8" transform="rotate(6 117.5 404.8)" fill="#2828ff"/>
<ellipse cx="140.9" cy="419.7" rx="2.6" ry="2.0" transform="rotate(1 140.9 419.7)" fill="#1a1cd0"/>
<ellipse cx="142.1" cy="434.3" rx="2.2" ry="1.7" transform="rotate(37 142.1 434.3)" fill="#1a1cd0"/>
<ellipse cx="140.8" cy="392.5" rx="2.2" ry="2.0" transform="rotate(83 140.8 392.5)" fill="#1a1cd0"/>
<ellipse cx="132.1" cy="429.4" rx="2.9" ry="1.7" transform="rotate(10 132.1 429.4)" fill="#2e34ff"/>
<ellipse cx="160.9" cy="397.6" rx="2.3" ry="2.3" transform="rotate(78 160.9 397.6)" fill="#1f22f0"/>
<ellipse cx="158.5" cy="435.1" rx="2.6" ry="2.2" transform="rotate(161 158.5 435.1)" fill="#2828ff"/>
<ellipse cx="129.6" cy="424.0" rx="2.0" ry="2.1" transform="rotate(28 129.6 424.0)" fill="#2828ff"/>
<ellipse cx="135.6" cy="413.5" rx="2.4" ry="1.7" transform="rotate(141 135.6 413.5)" fill="#2828ff"/>
<ellipse cx="125.6" cy="436.6" rx="2.0" ry="2.3" transform="rotate(96 125.6 436.6)" fill="#2828ff"/>
<ellipse cx="144.2" cy="410.3" rx="2.2" ry="1.9" transform="rotate(115 144.2 410.3)" fill="#1a1cd0"/>
<ellipse cx="119.4" cy="394.4" rx="2.5" ry="2.1" transform="rotate(35 119.4 394.4)" fill="#1a1cd0"/>
<ellipse cx="143.6" cy="398.5" rx="2.5" ry="2.0" transform="rotate(127 143.6 398.5)" fill="#2e34ff"/>
<ellipse cx="121.3" cy="412.2" rx="2.8" ry="1.6" transform="rotate(74 121.3 412.2)" fill="#1f22f0"/>
<ellipse cx="153.4" cy="435.1" rx="2.8" ry="1.7" transform="rotate(146 153.4 435.1)" fill="#1a1cd0"/>
<ellipse cx="117.2" cy="414.8" rx="2.1" ry="1.8" transform="rotate(5 117.2 414.8)" fill="#2828ff"/>
<ellipse cx="169.7" cy="434.0" rx="2.8" ry="2.1" transform="rotate(154 169.7 434.0)" fill="#2828ff"/>
<ellipse cx="167.9" cy="393.9" rx="2.5" ry="2.3" transform="rotate(104 167.9 393.9)" fill="#1a1cd0"/>
<ellipse cx="122.3" cy="397.4" rx="2.9" ry="1.9" transform="rotate(98 122.3 397.4)" fill="#1a1cd0"/>
<ellipse cx="163.2" cy="425.5" rx="2.6" ry="2.1" transform="rotate(42 163.2 425.5)" fill="#1f22f0"/>
<ellipse cx="114.7" cy="408.0" rx="2.1" ry="2.0" transform="rotate(99 114.7 408.0)" fill="#1f22f0"/>
<ellipse cx="120.2" cy="418.8" rx="2.8" ry="1.8" transform="rotate(82 120.2 418.8)" fill="#1a1cd0"/>
<ellipse cx="117.8" cy="413.0" rx="2.9" ry="2.3" transform="rotate(164 117.8 413.0)" fill="#1f22f0"/>
<ellipse cx="147.5" cy="414.0" rx="2.6" ry="2.4" transform="rotate(53 147.5 414.0)" fill="#1a1cd0"/>
<ellipse cx="140.6" cy="412.8" rx="2.6" ry="2.3" transform="rotate(45 140.6 412.8)" fill="#2e34ff"/>
<ellipse cx="128.2" cy="397.8" rx="2.6" ry="2.2" transform="rotate(110 128.2 397.8)" fill="#2828ff"/>
<ellipse cx="166.2" cy="419.7" rx="2.9" ry="2.0" transform="rotate(15 166.2 419.7)" fill="#1a1cd0"/>
<ellipse cx="169.6" cy="393.3" rx="3.0" ry="2.2" transform="rotate(24 169.6 393.3)" fill="#2828ff"/>
<ellipse cx="151.1" cy="419.3" rx="2.9" ry="1.7" transform="rotate(43 151.1 419.3)" fill="#2828ff"/>
<ellipse cx="162.2" cy="399.7" rx="2.1" ry="2.0" transform="rotate(150 162.2 399.7)" fill="#2828ff"/>
<ellipse cx="143.9" cy="399.3" rx="2.6" ry="2.3" transform="rotate(135 143.9 399.3)" fill="#2828ff"/>
<ellipse cx="141.3" cy="416.2" rx="2.9" ry="1.7" transform="rotate(40 141.3 416.2)" fill="#2e34ff"/>
<ellipse cx="166.9" cy="425.1" rx="2.2" ry="1.9" transform="rotate(54 166.9 425.1)" fill="#2e34ff"/>
<ellipse cx="113.0" cy="393.4" rx="2.6" ry="1.8" transform="rotate(25 113.0 393.4)" fill="#1a1cd0"/>
<ellipse cx="158.0" cy="393.8" rx="2.1" ry="1.7" transform="rotate(138 158.0 393.8)" fill="#2e34ff"/>
<ellipse cx="134.6" cy="419.4" rx="2.8" ry="1.7" transform="rotate(122 134.6 419.4)" fill="#2e34ff"/>
<ellipse cx="164.4" cy="403.8" rx="2.0" ry="1.8" transform="rotate(179 164.4 403.8)" fill="#1a1cd0"/>
<ellipse cx="133.7" cy="395.9" rx="2.5" ry="2.1" transform="rotate(51 133.7 395.9)" fill="#1a1cd0"/>
<ellipse cx="113.0" cy="397.5" rx="2.0" ry="2.3" transform="rotate(139 113.0 397.5)" fill="#2828ff"/>
<ellipse cx="123.8" cy="431.0" rx="2.2" ry="2.2" transform="rotate(127 123.8 431.0)" fill="#1f22f0"/>
<ellipse cx="169.6" cy="425.3" rx="2.6" ry="2.4" transform="rotate(104 169.6 425.3)" fill="#1f22f0"/>
<ellipse cx="120.2" cy="424.7" rx="2.4" ry="2.2" transform="rotate(14 120.2 424.7)" fill="#2828ff"/>
<ellipse cx="153.1" cy="415.4" rx="2.6" ry="2.0" transform="rotate(110 153.1 415.4)" fill="#2828ff"/>
<ellipse cx="170.4" cy="427.8" rx="2.3" ry="2.1" transform="rotate(85 170.4 427.8)" fill="#1f22f0"/>
<ellipse cx="163.8" cy="422.2" rx="3.0" ry="1.7" transform="rotate(28 163.8 422.2)" fill="#1f22f0"/>
<ellipse cx="121.9" cy="437.5" rx="2.2" ry="2.1" transform="rotate(161 121.9 437.5)" fill="#1a1cd0"/>
<ellipse cx="136.8" cy="403.0" rx="2.4" ry="1.7" transform="rotate(23 136.8 403.0)" fill="#2e34ff"/>
<ellipse cx="158.2" cy="434.0" rx="2.4" ry="2.4" transform="rotate(134 158.2 434.0)" fill="#1a1cd0"/>
<ellipse cx="118.7" cy="398.9" rx="2.8" ry="2.3" transform="rotate(123 118.7 398.9)" fill="#1f22f0"/>
<ellipse cx="166.5" cy="434.3" rx="2.9" ry="1.9" transform="rotate(8 166.5 434.3)" fill="#1a1cd0"/>
<ellipse cx="119.0" cy="409.3" rx="2.5" ry="1.6" transform="rotate(132 119.0 409.3)" fill="#1a1cd0"/>
<ellipse cx="113.9" cy="425.1" rx="2.5" ry="2.4" transform="rotate(137 113.9 425.1)" fill="#2e34ff"/>
<ellipse cx="161.5" cy="398.6" rx="2.4" ry="1.8" transform="rotate(115 161.5 398.6)" fill="#2828ff"/>
<ellipse cx="122.6" cy="409.8" rx="2.9" ry="1.9" transform="rotate(87 122.6 409.8)" fill="#1a1cd0"/>
<ellipse cx="143.8" cy="422.6" rx="2.4" ry="2.1" transform="rotate(9 143.8 422.6)" fill="#1a1cd0"/>
<ellipse cx="138.8" cy="396.0" rx="2.1" ry="2.0" transform="rotate(74 138.8 396.0)" fill="#1a1cd0"/>
<ellipse cx="159.7" cy="435.9" rx="2.7" ry="2.2" transform="rotate(108 159.7 435.9)" fill="#2e34ff"/>
<ellipse cx="133.5" cy="406.2" rx="3.0" ry="2.2" transform="rotate(118 133.5 406.2)" fill="#1f22f0"/>
<ellipse cx="142.7" cy="415.2" rx="2.8" ry="1.6" transform="rotate(95 142.7 415.2)" fill="#2828ff"/>
<ellipse cx="138.7" cy="434.6" rx="2.8" ry="2.3" transform="rotate(85 138.7 434.6)" fill="#1a1cd0"/>
<ellipse cx="121.9" cy="403.2" rx="2.5" ry="2.2" transform="rotate(128 121.9 403.2)" fill="#2828ff"/>
<ellipse cx="136.3" cy="393.5" rx="2.5" ry="1.7" transform="rotate(62 136.3 393.5)" fill="#1f22f0"/>
<ellipse cx="130.3" cy="404.2" rx="2.1" ry="2.2" transform="rotate(27 130.3 404.2)" fill="#2828ff"/>
<ellipse cx="149.7" cy="414.0" rx="3.0" ry="2.4" transform="rotate(71 149.7 414.0)" fill="#2828ff"/>
<ellipse cx="158.4" cy="397.4" rx="2.8" ry="2.3" transform="rotate(89 158.4 397.4)" fill="#2828ff"/>
<ellipse cx="172.0" cy="432.6" rx="2.5" ry="1.9" transform="rotate(35 172.0 432.6)" fill="#2828ff"/>
<ellipse cx="162.6" cy="400.5" rx="2.5" ry="2.0" transform="rotate(9 162.6 400.5)" fill="#1f22f0"/>
<ellipse cx="113.6" cy="418.0" rx="2.2" ry="2.0" transform="rotate(45 113.6 418.0)" fill="#1a1cd0"/>
<ellipse cx="127.8" cy="424.1" rx="2.6" ry="1.7" transform="rotate(114 127.8 424.1)" fill="#1f22f0"/>
<ellipse cx="153.4" cy="405.6" rx="2.8" ry="1.6" transform="rotate(58 153.4 405.6)" fill="#2e34ff"/>
<ellipse cx="166.8" cy="429.4" rx="3.0" ry="1.6" transform="rotate(63 166.8 429.4)" fill="#2828ff"/>
<ellipse cx="145.1" cy="420.7" rx="3.0" ry="2.2" transform="rotate(36 145.1 420.7)" fill="#1f22f0"/>
<ellipse cx="134.1" cy="408.6" rx="2.7" ry="1.9" transform="rotate(124 134.1 408.6)" fill="#2828ff"/>
<ellipse cx="113.9" cy="403.8" rx="2.1" ry="2.2" transform="rotate(125 113.9 403.8)" fill="#2e34ff"/>
<ellipse cx="112.9" cy="431.9" rx="2.7" ry="2.2" transform="rotate(140 112.9 431.9)" fill="#2828ff"/>
<ellipse cx="144.5" cy="399.2" rx="2.9" ry="1.8" transform="rotate(115 144.5 399.2)" fill="#2e34ff"/>
<ellipse cx="144.9" cy="417.7" rx="2.5" ry="2.0" transform="rotate(66 144.9 417.7)" fill="#1a1cd0"/>
<ellipse cx="162.0" cy="398.3" rx="2.0" ry="1.8" transform="rotate(118 162.0 398.3)" fill="#1f22f0"/>
<ellipse cx="128.8" cy="403.2" rx="2.1" ry="2.1" transform="rotate(38 128.8 403.2)" fill="#2828ff"/>
<ellipse cx="150.1" cy="416.5" rx="3.0" ry="1.9" transform="rotate(60 150.1 416.5)" fill="#2e34ff"/>
<ellipse cx="145.9" cy="394.9" rx="2.3" ry="2.2" transform="rotate(145 145.9 394.9)" fill="#2e34ff"/>
<ellipse cx="157.9" cy="436.7" rx="2.7" ry="2.2" transform="rotate(66 157.9 436.7)" fill="#1a1cd0"/>
<ellipse cx="153.9" cy="411.3" rx="2.1" ry="2.1" transform="rotate(35 153.9 411.3)" fill="#1a1cd0"/>
<ellipse cx="151.6" cy="432.4" rx="2.4" ry="2.0" transform="rotate(134 151.6 432.4)" fill="#2828ff"/>
<ellipse cx="119.7" cy="396.3" rx="2.0" ry="1.8" transform="rotate(128 119.7 396.3)" fill="#1f22f0"/>
<ellipse cx="133.4" cy="437.3" rx="2.3" ry="2.0" transform="rotate(78 133.4 437.3)" fill="#1f22f0"/>
<ellipse cx="165.5" cy="423.7" rx="2.2" ry="1.9" transform="rotate(140 165.5 423.7)" fill="#2e34ff"/>
<ellipse cx="118.8" cy="437.3" rx="2.0" ry="2.1" transform="rotate(109 118.8 437.3)" fill="#1a1cd0"/>
<ellipse cx="116.0" cy="432.5" rx="2.3" ry="2.1" transform="rotate(78 116.0 432.5)" fill="#1f22f0"/>
<ellipse cx="122.9" cy="413.6" rx="2.1" ry="2.4" transform="rotate(144 122.9 413.6)" fill="#1a1cd0"/>
<ellipse cx="144.8" cy="395.6" rx="2.3" ry="2.0" transform="rotate(171 144.8 395.6)" fill="#1f22f0"/>
<ellipse cx="125.2" cy="428.7" rx="2.7" ry="2.4" transform="rotate(126 125.2 428.7)" fill="#1a1cd0"/>
<ellipse cx="127.5" cy="428.5" rx="2.5" ry="2.1" transform="rotate(161 127.5 428.5)" fill="#2e34ff"/>
<ellipse cx="138.3" cy="416.8" rx="3.0" ry="1.8" transform="rotate(44 138.3 416.8)" fill="#1a1cd0"/>
<ellipse cx="150.3" cy="432.1" rx="2.3" ry="2.3" transform="rotate(125 150.3 432.1)" fill="#2e34ff"/>
<ellipse cx="167.8" cy="396.3" rx="2.2" ry="2.4" transform="rotate(125 167.8 396.3)" fill="#1a1cd0"/>
<ellipse cx="124.3" cy="428.6" rx="2.1" ry="2.3" transform="rotate(10 124.3 428.6)" fill="#2e34ff"/>
<ellipse cx="114.0" cy="428.3" rx="2.7" ry="1.7" transform="rotate(8 114.0 428.3)" fill="#2e34ff"/>
<ellipse cx="141.8" cy="409.2" rx="2.7" ry="2.0" transform="rotate(2 141.8 409.2)" fill="#1f22f0"/>
<ellipse cx="152.9" cy="423.4" rx="2.3" ry="2.4" transform="rotate(135 152.9 423.4)" fill="#1f22f0"/>
<ellipse cx="171.1" cy="415.3" rx="2.8" ry="2.0" transform="rotate(68 171.1 415.3)" fill="#1f22f0"/>
<ellipse cx="163.3" cy="406.4" rx="2.1" ry="2.3" transform="rotate(114 163.3 406.4)" fill="#1f22f0"/>
<ellipse cx="142.9" cy="411.7" rx="2.1" ry="1.7" transform="rotate(93 142.9 411.7)" fill="#2e34ff"/>
<ellipse cx="136.4" cy="426.6" rx="2.8" ry="1.8" transform="rotate(77 136.4 426.6)" fill="#2e34ff"/>
<ellipse cx="141.5" cy="416.1" rx="2.3" ry="1.7" transform="rotate(144 141.5 416.1)" fill="#1a1cd0"/>
<ellipse cx="119.6" cy="430.6" rx="2.7" ry="2.1" transform="rotate(57 119.6 430.6)" fill="#2e34ff"/>
<ellipse cx="138.3" cy="407.5" rx="2.2" ry="2.1" transform="rotate(91 138.3 407.5)" fill="#1f22f0"/>
</g><g filter="url(#gl)">
<ellipse cx="138.6" cy="428.5" rx="2.7" ry="2.2" transform="rotate(39 138.6 428.5)" fill="#1fa0a0"/>
<ellipse cx="167.0" cy="398.6" rx="3.0" ry="2.4" transform="rotate(156 167.0 398.6)" fill="#1fa0a0"/>
<ellipse cx="156.1" cy="427.4" rx="3.1" ry="2.4" transform="rotate(23 156.1 427.4)" fill="#1fa0a0"/>
</g></g>
<text x="114.00" y="402.20" font-size="7.8" text-anchor="start" fill="#40c840" stroke="#40c840" stroke-width="0.18">CD103</text>
<line x1="154.50" y1="426.60" x2="167.70" y2="426.60" stroke="#fff" stroke-width="1.2"/>
<text x="150.00" y="433.90" font-size="7.5" text-anchor="start" fill="#fff" stroke="#fff" stroke-width="0.18">20 μm</text>
<clipPath id="ic201_2"><rect x="113" y="438.40" width="57" height="42.1"/></clipPath>
<g clip-path="url(#ic201_2)">
<rect x="113.00" y="438.40" width="57.00" height="42.10" fill="#05051c" stroke="none" stroke-width="1"/>
<g filter="url(#gl3)">
<ellipse cx="115.1" cy="451.4" rx="2.0" ry="1.8" transform="rotate(135 115.1 451.4)" fill="#2e34ff"/>
<ellipse cx="148.9" cy="448.9" rx="2.5" ry="2.0" transform="rotate(85 148.9 448.9)" fill="#2e34ff"/>
<ellipse cx="114.8" cy="447.0" rx="2.9" ry="2.3" transform="rotate(2 114.8 447.0)" fill="#1f22f0"/>
<ellipse cx="125.6" cy="448.7" rx="2.2" ry="2.2" transform="rotate(120 125.6 448.7)" fill="#1f22f0"/>
<ellipse cx="166.1" cy="477.5" rx="2.8" ry="2.2" transform="rotate(90 166.1 477.5)" fill="#1a1cd0"/>
<ellipse cx="140.6" cy="471.5" rx="2.3" ry="1.9" transform="rotate(101 140.6 471.5)" fill="#2e34ff"/>
<ellipse cx="122.4" cy="455.4" rx="2.7" ry="1.9" transform="rotate(174 122.4 455.4)" fill="#1f22f0"/>
<ellipse cx="123.3" cy="442.8" rx="2.7" ry="1.8" transform="rotate(2 123.3 442.8)" fill="#1a1cd0"/>
<ellipse cx="117.5" cy="448.8" rx="2.9" ry="1.8" transform="rotate(6 117.5 448.8)" fill="#2828ff"/>
<ellipse cx="140.9" cy="463.7" rx="2.6" ry="2.0" transform="rotate(1 140.9 463.7)" fill="#1a1cd0"/>
<ellipse cx="142.1" cy="478.3" rx="2.2" ry="1.7" transform="rotate(37 142.1 478.3)" fill="#1a1cd0"/>
<ellipse cx="140.8" cy="436.5" rx="2.2" ry="2.0" transform="rotate(83 140.8 436.5)" fill="#1a1cd0"/>
<ellipse cx="132.1" cy="473.4" rx="2.9" ry="1.7" transform="rotate(10 132.1 473.4)" fill="#2e34ff"/>
<ellipse cx="160.9" cy="441.6" rx="2.3" ry="2.3" transform="rotate(78 160.9 441.6)" fill="#1f22f0"/>
<ellipse cx="158.5" cy="479.1" rx="2.6" ry="2.2" transform="rotate(161 158.5 479.1)" fill="#2828ff"/>
<ellipse cx="129.6" cy="468.0" rx="2.0" ry="2.1" transform="rotate(28 129.6 468.0)" fill="#2828ff"/>
<ellipse cx="135.6" cy="457.5" rx="2.4" ry="1.7" transform="rotate(141 135.6 457.5)" fill="#2828ff"/>
<ellipse cx="125.6" cy="480.6" rx="2.0" ry="2.3" transform="rotate(96 125.6 480.6)" fill="#2828ff"/>
<ellipse cx="144.2" cy="454.3" rx="2.2" ry="1.9" transform="rotate(115 144.2 454.3)" fill="#1a1cd0"/>
<ellipse cx="119.4" cy="438.4" rx="2.5" ry="2.1" transform="rotate(35 119.4 438.4)" fill="#1a1cd0"/>
<ellipse cx="143.6" cy="442.5" rx="2.5" ry="2.0" transform="rotate(127 143.6 442.5)" fill="#2e34ff"/>
<ellipse cx="121.3" cy="456.2" rx="2.8" ry="1.6" transform="rotate(74 121.3 456.2)" fill="#1f22f0"/>
<ellipse cx="153.4" cy="479.1" rx="2.8" ry="1.7" transform="rotate(146 153.4 479.1)" fill="#1a1cd0"/>
<ellipse cx="117.2" cy="458.8" rx="2.1" ry="1.8" transform="rotate(5 117.2 458.8)" fill="#2828ff"/>
<ellipse cx="169.7" cy="478.0" rx="2.8" ry="2.1" transform="rotate(154 169.7 478.0)" fill="#2828ff"/>
<ellipse cx="167.9" cy="437.9" rx="2.5" ry="2.3" transform="rotate(104 167.9 437.9)" fill="#1a1cd0"/>
<ellipse cx="122.3" cy="441.4" rx="2.9" ry="1.9" transform="rotate(98 122.3 441.4)" fill="#1a1cd0"/>
<ellipse cx="163.2" cy="469.5" rx="2.6" ry="2.1" transform="rotate(42 163.2 469.5)" fill="#1f22f0"/>
<ellipse cx="114.7" cy="452.0" rx="2.1" ry="2.0" transform="rotate(99 114.7 452.0)" fill="#1f22f0"/>
<ellipse cx="120.2" cy="462.8" rx="2.8" ry="1.8" transform="rotate(82 120.2 462.8)" fill="#1a1cd0"/>
<ellipse cx="117.8" cy="457.0" rx="2.9" ry="2.3" transform="rotate(164 117.8 457.0)" fill="#1f22f0"/>
<ellipse cx="147.5" cy="458.0" rx="2.6" ry="2.4" transform="rotate(53 147.5 458.0)" fill="#1a1cd0"/>
<ellipse cx="140.6" cy="456.8" rx="2.6" ry="2.3" transform="rotate(45 140.6 456.8)" fill="#2e34ff"/>
<ellipse cx="128.2" cy="441.8" rx="2.6" ry="2.2" transform="rotate(110 128.2 441.8)" fill="#2828ff"/>
<ellipse cx="166.2" cy="463.7" rx="2.9" ry="2.0" transform="rotate(15 166.2 463.7)" fill="#1a1cd0"/>
<ellipse cx="169.6" cy="437.3" rx="3.0" ry="2.2" transform="rotate(24 169.6 437.3)" fill="#2828ff"/>
<ellipse cx="151.1" cy="463.3" rx="2.9" ry="1.7" transform="rotate(43 151.1 463.3)" fill="#2828ff"/>
<ellipse cx="162.2" cy="443.7" rx="2.1" ry="2.0" transform="rotate(150 162.2 443.7)" fill="#2828ff"/>
<ellipse cx="143.9" cy="443.3" rx="2.6" ry="2.3" transform="rotate(135 143.9 443.3)" fill="#2828ff"/>
<ellipse cx="141.3" cy="460.2" rx="2.9" ry="1.7" transform="rotate(40 141.3 460.2)" fill="#2e34ff"/>
<ellipse cx="166.9" cy="469.1" rx="2.2" ry="1.9" transform="rotate(54 166.9 469.1)" fill="#2e34ff"/>
<ellipse cx="113.0" cy="437.4" rx="2.6" ry="1.8" transform="rotate(25 113.0 437.4)" fill="#1a1cd0"/>
<ellipse cx="158.0" cy="437.8" rx="2.1" ry="1.7" transform="rotate(138 158.0 437.8)" fill="#2e34ff"/>
<ellipse cx="134.6" cy="463.4" rx="2.8" ry="1.7" transform="rotate(122 134.6 463.4)" fill="#2e34ff"/>
<ellipse cx="164.4" cy="447.8" rx="2.0" ry="1.8" transform="rotate(179 164.4 447.8)" fill="#1a1cd0"/>
<ellipse cx="133.7" cy="439.9" rx="2.5" ry="2.1" transform="rotate(51 133.7 439.9)" fill="#1a1cd0"/>
<ellipse cx="113.0" cy="441.5" rx="2.0" ry="2.3" transform="rotate(139 113.0 441.5)" fill="#2828ff"/>
<ellipse cx="123.8" cy="475.0" rx="2.2" ry="2.2" transform="rotate(127 123.8 475.0)" fill="#1f22f0"/>
<ellipse cx="169.6" cy="469.3" rx="2.6" ry="2.4" transform="rotate(104 169.6 469.3)" fill="#1f22f0"/>
<ellipse cx="120.2" cy="468.7" rx="2.4" ry="2.2" transform="rotate(14 120.2 468.7)" fill="#2828ff"/>
<ellipse cx="153.1" cy="459.4" rx="2.6" ry="2.0" transform="rotate(110 153.1 459.4)" fill="#2828ff"/>
<ellipse cx="170.4" cy="471.8" rx="2.3" ry="2.1" transform="rotate(85 170.4 471.8)" fill="#1f22f0"/>
<ellipse cx="163.8" cy="466.2" rx="3.0" ry="1.7" transform="rotate(28 163.8 466.2)" fill="#1f22f0"/>
<ellipse cx="121.9" cy="481.5" rx="2.2" ry="2.1" transform="rotate(161 121.9 481.5)" fill="#1a1cd0"/>
<ellipse cx="136.8" cy="447.0" rx="2.4" ry="1.7" transform="rotate(23 136.8 447.0)" fill="#2e34ff"/>
<ellipse cx="158.2" cy="478.0" rx="2.4" ry="2.4" transform="rotate(134 158.2 478.0)" fill="#1a1cd0"/>
<ellipse cx="118.7" cy="442.9" rx="2.8" ry="2.3" transform="rotate(123 118.7 442.9)" fill="#1f22f0"/>
<ellipse cx="166.5" cy="478.3" rx="2.9" ry="1.9" transform="rotate(8 166.5 478.3)" fill="#1a1cd0"/>
<ellipse cx="119.0" cy="453.3" rx="2.5" ry="1.6" transform="rotate(132 119.0 453.3)" fill="#1a1cd0"/>
<ellipse cx="113.9" cy="469.1" rx="2.5" ry="2.4" transform="rotate(137 113.9 469.1)" fill="#2e34ff"/>
<ellipse cx="161.5" cy="442.6" rx="2.4" ry="1.8" transform="rotate(115 161.5 442.6)" fill="#2828ff"/>
<ellipse cx="122.6" cy="453.8" rx="2.9" ry="1.9" transform="rotate(87 122.6 453.8)" fill="#1a1cd0"/>
<ellipse cx="143.8" cy="466.6" rx="2.4" ry="2.1" transform="rotate(9 143.8 466.6)" fill="#1a1cd0"/>
<ellipse cx="138.8" cy="440.0" rx="2.1" ry="2.0" transform="rotate(74 138.8 440.0)" fill="#1a1cd0"/>
<ellipse cx="159.7" cy="479.9" rx="2.7" ry="2.2" transform="rotate(108 159.7 479.9)" fill="#2e34ff"/>
<ellipse cx="133.5" cy="450.2" rx="3.0" ry="2.2" transform="rotate(118 133.5 450.2)" fill="#1f22f0"/>
<ellipse cx="142.7" cy="459.2" rx="2.8" ry="1.6" transform="rotate(95 142.7 459.2)" fill="#2828ff"/>
<ellipse cx="138.7" cy="478.6" rx="2.8" ry="2.3" transform="rotate(85 138.7 478.6)" fill="#1a1cd0"/>
<ellipse cx="121.9" cy="447.2" rx="2.5" ry="2.2" transform="rotate(128 121.9 447.2)" fill="#2828ff"/>
<ellipse cx="136.3" cy="437.5" rx="2.5" ry="1.7" transform="rotate(62 136.3 437.5)" fill="#1f22f0"/>
<ellipse cx="130.3" cy="448.2" rx="2.1" ry="2.2" transform="rotate(27 130.3 448.2)" fill="#2828ff"/>
<ellipse cx="149.7" cy="458.0" rx="3.0" ry="2.4" transform="rotate(71 149.7 458.0)" fill="#2828ff"/>
<ellipse cx="158.4" cy="441.4" rx="2.8" ry="2.3" transform="rotate(89 158.4 441.4)" fill="#2828ff"/>
<ellipse cx="172.0" cy="476.6" rx="2.5" ry="1.9" transform="rotate(35 172.0 476.6)" fill="#2828ff"/>
<ellipse cx="162.6" cy="444.5" rx="2.5" ry="2.0" transform="rotate(9 162.6 444.5)" fill="#1f22f0"/>
<ellipse cx="113.6" cy="462.0" rx="2.2" ry="2.0" transform="rotate(45 113.6 462.0)" fill="#1a1cd0"/>
<ellipse cx="127.8" cy="468.1" rx="2.6" ry="1.7" transform="rotate(114 127.8 468.1)" fill="#1f22f0"/>
<ellipse cx="153.4" cy="449.6" rx="2.8" ry="1.6" transform="rotate(58 153.4 449.6)" fill="#2e34ff"/>
<ellipse cx="166.8" cy="473.4" rx="3.0" ry="1.6" transform="rotate(63 166.8 473.4)" fill="#2828ff"/>
<ellipse cx="145.1" cy="464.7" rx="3.0" ry="2.2" transform="rotate(36 145.1 464.7)" fill="#1f22f0"/>
<ellipse cx="134.1" cy="452.6" rx="2.7" ry="1.9" transform="rotate(124 134.1 452.6)" fill="#2828ff"/>
<ellipse cx="113.9" cy="447.8" rx="2.1" ry="2.2" transform="rotate(125 113.9 447.8)" fill="#2e34ff"/>
<ellipse cx="112.9" cy="475.9" rx="2.7" ry="2.2" transform="rotate(140 112.9 475.9)" fill="#2828ff"/>
<ellipse cx="144.5" cy="443.2" rx="2.9" ry="1.8" transform="rotate(115 144.5 443.2)" fill="#2e34ff"/>
<ellipse cx="144.9" cy="461.7" rx="2.5" ry="2.0" transform="rotate(66 144.9 461.7)" fill="#1a1cd0"/>
<ellipse cx="162.0" cy="442.3" rx="2.0" ry="1.8" transform="rotate(118 162.0 442.3)" fill="#1f22f0"/>
<ellipse cx="128.8" cy="447.2" rx="2.1" ry="2.1" transform="rotate(38 128.8 447.2)" fill="#2828ff"/>
<ellipse cx="150.1" cy="460.5" rx="3.0" ry="1.9" transform="rotate(60 150.1 460.5)" fill="#2e34ff"/>
<ellipse cx="145.9" cy="438.9" rx="2.3" ry="2.2" transform="rotate(145 145.9 438.9)" fill="#2e34ff"/>
<ellipse cx="157.9" cy="480.7" rx="2.7" ry="2.2" transform="rotate(66 157.9 480.7)" fill="#1a1cd0"/>
<ellipse cx="153.9" cy="455.3" rx="2.1" ry="2.1" transform="rotate(35 153.9 455.3)" fill="#1a1cd0"/>
<ellipse cx="151.6" cy="476.4" rx="2.4" ry="2.0" transform="rotate(134 151.6 476.4)" fill="#2828ff"/>
<ellipse cx="119.7" cy="440.3" rx="2.0" ry="1.8" transform="rotate(128 119.7 440.3)" fill="#1f22f0"/>
<ellipse cx="133.4" cy="481.3" rx="2.3" ry="2.0" transform="rotate(78 133.4 481.3)" fill="#1f22f0"/>
<ellipse cx="165.5" cy="467.7" rx="2.2" ry="1.9" transform="rotate(140 165.5 467.7)" fill="#2e34ff"/>
<ellipse cx="118.8" cy="481.3" rx="2.0" ry="2.1" transform="rotate(109 118.8 481.3)" fill="#1a1cd0"/>
<ellipse cx="116.0" cy="476.5" rx="2.3" ry="2.1" transform="rotate(78 116.0 476.5)" fill="#1f22f0"/>
<ellipse cx="122.9" cy="457.6" rx="2.1" ry="2.4" transform="rotate(144 122.9 457.6)" fill="#1a1cd0"/>
<ellipse cx="144.8" cy="439.6" rx="2.3" ry="2.0" transform="rotate(171 144.8 439.6)" fill="#1f22f0"/>
<ellipse cx="125.2" cy="472.7" rx="2.7" ry="2.4" transform="rotate(126 125.2 472.7)" fill="#1a1cd0"/>
<ellipse cx="127.5" cy="472.5" rx="2.5" ry="2.1" transform="rotate(161 127.5 472.5)" fill="#2e34ff"/>
<ellipse cx="138.3" cy="460.8" rx="3.0" ry="1.8" transform="rotate(44 138.3 460.8)" fill="#1a1cd0"/>
<ellipse cx="150.3" cy="476.1" rx="2.3" ry="2.3" transform="rotate(125 150.3 476.1)" fill="#2e34ff"/>
<ellipse cx="167.8" cy="440.3" rx="2.2" ry="2.4" transform="rotate(125 167.8 440.3)" fill="#1a1cd0"/>
<ellipse cx="124.3" cy="472.6" rx="2.1" ry="2.3" transform="rotate(10 124.3 472.6)" fill="#2e34ff"/>
<ellipse cx="114.0" cy="472.3" rx="2.7" ry="1.7" transform="rotate(8 114.0 472.3)" fill="#2e34ff"/>
<ellipse cx="141.8" cy="453.2" rx="2.7" ry="2.0" transform="rotate(2 141.8 453.2)" fill="#1f22f0"/>
<ellipse cx="152.9" cy="467.4" rx="2.3" ry="2.4" transform="rotate(135 152.9 467.4)" fill="#1f22f0"/>
<ellipse cx="171.1" cy="459.3" rx="2.8" ry="2.0" transform="rotate(68 171.1 459.3)" fill="#1f22f0"/>
<ellipse cx="163.3" cy="450.4" rx="2.1" ry="2.3" transform="rotate(114 163.3 450.4)" fill="#1f22f0"/>
<ellipse cx="142.9" cy="455.7" rx="2.1" ry="1.7" transform="rotate(93 142.9 455.7)" fill="#2e34ff"/>
<ellipse cx="136.4" cy="470.6" rx="2.8" ry="1.8" transform="rotate(77 136.4 470.6)" fill="#2e34ff"/>
<ellipse cx="141.5" cy="460.1" rx="2.3" ry="1.7" transform="rotate(144 141.5 460.1)" fill="#1a1cd0"/>
<ellipse cx="119.6" cy="474.6" rx="2.7" ry="2.1" transform="rotate(57 119.6 474.6)" fill="#2e34ff"/>
<ellipse cx="138.3" cy="451.5" rx="2.2" ry="2.1" transform="rotate(91 138.3 451.5)" fill="#1f22f0"/>
</g><g filter="url(#gl)">
<ellipse cx="139.7" cy="448.7" rx="2.3" ry="1.8" transform="rotate(103 139.7 448.7)" fill="#b030c0" stroke="#ff1850" stroke-width="0.9"/>
<ellipse cx="142.2" cy="455.9" rx="2.3" ry="1.8" transform="rotate(93 142.2 455.9)" fill="#b030c0" stroke="#ff1850" stroke-width="0.9"/>
<ellipse cx="120.5" cy="457.4" rx="3.1" ry="2.5" transform="rotate(136 120.5 457.4)" fill="#b030c0" stroke="#ff1850" stroke-width="0.9"/>
<ellipse cx="150.4" cy="456.6" rx="2.3" ry="1.9" transform="rotate(157 150.4 456.6)" fill="#b030c0" stroke="#ff1850" stroke-width="0.9"/>
<ellipse cx="132.7" cy="456.5" rx="2.4" ry="1.9" transform="rotate(80 132.7 456.5)" fill="#b030c0" stroke="#ff1850" stroke-width="0.9"/>
<ellipse cx="132.8" cy="473.7" rx="2.2" ry="1.8" transform="rotate(8 132.8 473.7)" fill="#b030c0" stroke="#ff1850" stroke-width="0.9"/>
<ellipse cx="156.3" cy="445.5" rx="3.1" ry="2.5" transform="rotate(167 156.3 445.5)" fill="#b030c0" stroke="#ff1850" stroke-width="0.9"/>
<ellipse cx="138.6" cy="472.5" rx="2.7" ry="2.2" transform="rotate(39 138.6 472.5)" fill="#e0a0c0" stroke="#ff8030" stroke-width="0.9"/>
<ellipse cx="167.0" cy="442.6" rx="3.0" ry="2.4" transform="rotate(156 167.0 442.6)" fill="#20e040"/>
<ellipse cx="156.1" cy="471.4" rx="3.1" ry="2.4" transform="rotate(23 156.1 471.4)" fill="#20e040"/>
</g></g>
<text x="114.00" y="446.20" font-size="7.8" fill="#fff" stroke="#fff" stroke-width="0.15"><tspan fill="#e8204c">M</tspan><tspan fill="#d0e060">e</tspan>rge</text>
<line x1="154.50" y1="470.60" x2="167.70" y2="470.60" stroke="#fff" stroke-width="1.2"/>
<text x="150.00" y="477.90" font-size="7.5" text-anchor="start" fill="#fff" stroke="#fff" stroke-width="0.18">20 μm</text>
<clipPath id="clip102"><rect x="173.7" y="350.4" width="99.2" height="131.5"/></clipPath>
<g clip-path="url(#clip102)">
<rect x="173.70" y="350.40" width="99.20" height="131.50" fill="#020204" stroke="none" stroke-width="1"/>
<path d="M260.9 447.1h.01M246.6 387.7h.01M183.0 407.4h.01M260.5 428.3h.01M264.4 434.2h.01M215.5 367.3h.01M241.4 385.1h.01M247.1 405.5h.01M208.1 365.0h.01M263.1 399.6h.01M255.7 434.5h.01M253.3 430.6h.01M206.4 394.0h.01M266.4 456.1h.01M256.8 402.1h.01M250.6 465.0h.01M209.3 466.5h.01M228.8 367.4h.01M235.3 381.5h.01M215.8 375.4h.01M246.9 399.4h.01M202.3 363.7h.01M270.7 455.6h.01M256.9 435.0h.01M176.7 481.6h.01M243.2 450.0h.01M187.4 413.2h.01M227.2 380.1h.01M204.1 454.4h.01M200.1 371.0h.01M269.9 355.8h.01M270.1 439.7h.01M208.6 444.8h.01M218.8 439.8h.01M216.4 388.5h.01M210.5 370.2h.01M261.2 441.8h.01M197.3 429.4h.01M201.9 414.4h.01M249.7 398.4h.01M257.8 444.4h.01M237.5 448.3h.01M243.2 448.4h.01M194.7 378.6h.01M235.6 352.3h.01M234.7 376.6h.01M270.2 363.0h.01M256.8 430.0h.01M174.0 448.4h.01M242.4 370.8h.01M258.9 435.0h.01M239.1 398.8h.01M191.2 477.1h.01M249.2 431.9h.01M267.0 445.9h.01M198.3 360.5h.01M266.1 420.6h.01M222.7 371.0h.01M206.9 379.0h.01M190.3 415.6h.01M211.3 382.5h.01M211.2 364.1h.01M252.6 405.9h.01M257.6 431.0h.01M261.9 399.0h.01M186.7 415.2h.01M261.9 472.1h.01M252.9 433.8h.01M208.2 389.2h.01M198.3 420.8h.01M230.0 375.6h.01M183.5 448.8h.01M218.8 458.5h.01M249.9 430.6h.01M247.8 460.7h.01M268.4 364.1h.01M181.5 459.6h.01M248.8 401.7h.01M259.5 424.7h.01M249.0 442.7h.01M211.8 462.8h.01M203.6 467.3h.01M271.1 445.0h.01M237.4 452.1h.01M199.2 425.1h.01M265.8 471.4h.01M235.4 358.7h.01M233.7 351.5h.01M242.8 447.8h.01M258.0 425.5h.01M249.6 411.1h.01M238.0 378.9h.01M248.5 398.0h.01M209.5 419.8h.01M208.6 404.3h.01M238.2 385.6h.01" stroke="#1616b0" stroke-width="1.2" stroke-linecap="round" fill="none"/>
<path d="M195.7 420.1h.01M206.4 360.0h.01M272.2 447.1h.01M271.0 470.5h.01M234.4 366.4h.01M247.0 456.7h.01M237.8 363.4h.01M203.5 446.1h.01M245.3 388.2h.01M272.0 352.5h.01M181.2 373.3h.01M267.7 413.1h.01M262.1 436.6h.01M206.3 371.7h.01M223.0 367.8h.01M212.7 382.6h.01M206.9 386.0h.01M192.4 363.1h.01M252.9 396.7h.01M177.7 410.6h.01M207.5 438.9h.01M245.1 404.2h.01M183.7 414.3h.01M206.1 451.8h.01M235.5 388.4h.01M247.1 400.9h.01M221.8 382.3h.01M178.1 436.9h.01M247.5 397.1h.01M243.5 435.0h.01M206.7 430.0h.01M180.7 437.3h.01M202.0 425.9h.01M198.7 402.1h.01M262.8 461.0h.01M243.6 438.7h.01M266.4 471.0h.01M180.1 410.0h.01M208.0 375.3h.01M255.4 421.2h.01M245.8 429.5h.01M256.0 426.5h.01M238.6 375.7h.01M179.8 416.0h.01M248.8 410.4h.01M238.6 446.6h.01M256.5 435.4h.01M213.0 383.8h.01M231.9 353.8h.01M186.8 421.3h.01M271.9 449.7h.01M194.6 364.2h.01M232.3 389.8h.01M208.5 401.3h.01M198.8 439.5h.01M252.4 459.3h.01M248.7 394.5h.01M242.4 419.7h.01M208.2 433.8h.01M192.6 449.4h.01M245.1 421.0h.01M200.7 428.2h.01M186.5 362.7h.01M256.8 451.3h.01M266.5 454.6h.01M259.5 478.3h.01M200.2 433.4h.01M235.0 355.6h.01M258.8 398.0h.01M268.7 449.0h.01M186.5 372.7h.01M245.8 408.9h.01M269.1 435.7h.01M252.8 415.0h.01M175.9 405.3h.01M235.3 394.1h.01M254.7 443.3h.01M179.4 450.2h.01M240.7 372.6h.01M199.2 476.9h.01M179.7 408.6h.01M260.4 434.6h.01M190.4 460.4h.01M250.4 443.2h.01M209.0 374.0h.01M177.0 411.6h.01M199.1 370.9h.01M209.8 393.8h.01M260.7 450.6h.01M207.3 426.1h.01M252.6 474.2h.01M193.7 362.7h.01M176.2 434.3h.01M263.6 458.7h.01M260.2 396.9h.01M192.4 378.8h.01M240.9 455.3h.01M216.1 466.5h.01M258.8 413.0h.01M181.4 418.0h.01M265.9 446.3h.01M250.0 418.7h.01M250.2 385.0h.01M248.0 456.9h.01M186.8 434.4h.01M184.7 427.6h.01" stroke="#2c34ff" stroke-width="1.7" stroke-linecap="round" fill="none"/>
<path d="M218.1 437.5h.01M214.8 382.4h.01M264.9 452.6h.01M248.2 386.5h.01M209.8 452.2h.01M268.6 438.9h.01M209.8 458.3h.01M231.4 462.5h.01M176.7 398.3h.01M240.3 409.9h.01M223.9 360.3h.01M175.9 464.8h.01M230.4 378.6h.01M227.5 372.6h.01M232.7 367.2h.01M173.8 453.4h.01M200.8 427.1h.01M254.2 428.4h.01M252.8 382.4h.01M272.2 435.1h.01M257.3 425.6h.01M232.5 364.7h.01M246.8 395.4h.01M258.7 405.1h.01M207.2 426.9h.01M177.1 439.7h.01M210.0 426.6h.01M249.5 421.9h.01M250.9 396.2h.01M252.8 447.3h.01M174.7 400.0h.01M270.5 455.3h.01M199.8 382.7h.01M228.1 384.1h.01M219.0 382.9h.01M250.4 374.6h.01M255.8 428.5h.01M250.2 419.3h.01M203.1 452.8h.01M238.3 380.4h.01M211.2 373.2h.01M180.5 436.8h.01M228.5 383.8h.01M215.2 360.9h.01M246.7 464.9h.01M216.7 381.7h.01M259.6 454.5h.01M174.8 456.7h.01M206.8 402.6h.01M177.5 392.0h.01M215.5 451.6h.01M180.7 403.5h.01M247.2 419.6h.01M248.4 460.2h.01M218.2 444.3h.01M189.5 445.0h.01M209.9 433.1h.01M182.6 369.6h.01M228.5 359.5h.01M202.8 424.4h.01M250.5 477.3h.01M178.2 437.5h.01M180.3 457.7h.01M195.0 357.9h.01M183.9 442.9h.01M204.0 425.1h.01M188.9 368.3h.01M227.6 399.5h.01M223.9 370.0h.01M206.1 385.8h.01M258.0 417.8h.01M251.8 424.0h.01M261.0 438.2h.01M226.0 379.1h.01M224.5 384.1h.01M270.3 465.2h.01M179.4 422.5h.01M250.8 413.9h.01M222.0 380.6h.01M229.3 386.0h.01M220.8 390.1h.01M178.3 441.2h.01M211.3 359.9h.01M237.0 455.6h.01M225.3 389.6h.01M208.2 376.9h.01M203.3 404.0h.01M184.7 360.2h.01M253.2 437.1h.01M265.4 446.2h.01M263.4 455.5h.01M263.6 453.3h.01M205.6 428.8h.01M194.1 465.5h.01M253.9 436.6h.01M257.0 453.6h.01M252.0 460.2h.01M229.6 382.5h.01M213.2 468.7h.01M224.4 369.7h.01M247.9 419.5h.01M208.9 455.0h.01M247.8 414.3h.01M216.6 351.1h.01" stroke="#2626ff" stroke-width="1.45" stroke-linecap="round" fill="none"/>
<path d="M187.9 413.5h.01M214.0 374.7h.01M242.1 371.9h.01M231.2 371.7h.01M194.2 353.5h.01M248.0 429.5h.01M263.5 472.3h.01M192.8 415.1h.01M266.6 473.7h.01M234.7 360.3h.01M259.4 468.9h.01M258.1 418.4h.01M195.0 355.6h.01M220.7 392.3h.01M183.7 427.8h.01M224.5 379.4h.01M176.6 384.5h.01M263.6 428.9h.01M226.4 357.1h.01M245.4 419.1h.01M207.5 358.1h.01M209.9 369.0h.01M255.6 409.7h.01M246.5 434.4h.01M244.2 442.7h.01M198.8 428.2h.01M227.3 364.8h.01M239.8 377.5h.01M231.6 380.6h.01M212.7 448.5h.01M251.9 479.6h.01M220.1 387.9h.01M197.7 449.2h.01M220.8 362.6h.01M175.4 452.3h.01M267.6 412.6h.01M185.6 412.8h.01M248.7 405.1h.01M214.5 378.8h.01M174.2 403.0h.01M246.5 352.9h.01M174.6 389.2h.01M260.8 419.3h.01M254.0 450.6h.01M252.5 409.1h.01M228.1 374.9h.01M221.2 359.9h.01M200.3 427.2h.01M191.0 365.5h.01M211.0 438.7h.01M205.7 398.2h.01M185.8 452.6h.01M251.4 438.7h.01M263.5 420.8h.01M219.4 378.1h.01M180.1 409.2h.01M227.5 352.7h.01M265.3 438.3h.01M221.6 392.5h.01M255.7 431.1h.01M190.7 425.7h.01M209.9 391.5h.01M183.7 456.9h.01M199.3 469.1h.01M248.1 415.9h.01M256.4 446.2h.01M209.6 373.1h.01M253.3 415.4h.01M245.4 413.4h.01M265.1 469.1h.01M255.5 441.6h.01M259.9 400.6h.01M248.1 404.7h.01M213.5 376.2h.01M215.5 413.5h.01M252.9 423.4h.01M209.5 384.8h.01M254.8 439.3h.01M204.2 419.7h.01M208.8 425.3h.01M258.1 437.7h.01M226.0 371.3h.01M199.4 439.8h.01M224.2 370.6h.01M270.5 357.7h.01M268.0 442.9h.01M204.5 430.5h.01M174.1 402.5h.01M226.8 366.7h.01M183.1 395.1h.01M250.4 416.2h.01M264.3 459.8h.01M233.7 370.1h.01M205.0 404.9h.01M183.2 411.0h.01M248.0 391.0h.01M210.7 464.5h.01M197.5 405.8h.01M188.4 419.5h.01M204.4 370.6h.01M250.6 461.9h.01M255.6 423.5h.01M173.9 429.9h.01M250.1 397.2h.01M195.3 358.0h.01M204.8 371.7h.01M203.8 370.6h.01M209.7 431.2h.01M229.5 373.0h.01M260.3 455.7h.01M247.5 467.1h.01M200.1 383.3h.01M197.5 358.3h.01M191.7 431.3h.01M215.8 376.4h.01M204.4 426.8h.01M266.0 459.7h.01" stroke="#2626ff" stroke-width="1.2" stroke-linecap="round" fill="none"/>
<path d="M212.3 370.2h.01M257.5 433.7h.01M206.6 462.0h.01M238.3 379.6h.01M177.7 409.1h.01M257.9 447.9h.01M209.8 427.4h.01M261.1 435.1h.01M201.7 421.9h.01M264.9 364.3h.01M234.1 414.7h.01M239.7 450.0h.01M219.9 367.3h.01M194.7 368.3h.01M203.6 413.0h.01M246.1 405.7h.01M259.8 427.8h.01M177.5 407.4h.01M207.3 426.1h.01M220.4 358.1h.01M208.8 412.7h.01M193.3 407.8h.01M195.3 452.3h.01M251.5 433.5h.01M188.5 444.1h.01M253.6 422.5h.01M247.1 432.4h.01M199.3 392.1h.01M199.1 436.2h.01M204.6 443.0h.01M257.4 433.3h.01M252.9 448.7h.01M258.1 431.8h.01M179.6 423.7h.01M203.4 402.8h.01M254.4 441.9h.01M240.4 377.3h.01M174.4 418.4h.01M186.7 414.3h.01M272.0 452.1h.01M255.3 433.5h.01M232.0 383.1h.01M198.9 423.4h.01M194.2 394.9h.01M207.9 420.7h.01M259.1 450.1h.01M241.9 354.0h.01M213.0 455.0h.01M239.9 461.3h.01M194.3 436.6h.01M226.0 370.1h.01M213.1 391.2h.01M248.0 392.9h.01M250.2 464.5h.01M198.4 447.9h.01M199.3 423.9h.01M265.9 458.7h.01M198.9 422.0h.01M271.4 432.3h.01M180.2 456.4h.01M196.0 366.8h.01M233.1 400.8h.01M204.1 462.1h.01M219.3 350.6h.01M220.4 375.4h.01M225.0 352.3h.01M206.1 462.4h.01M182.4 353.5h.01M267.3 451.9h.01M190.1 413.8h.01M175.0 463.1h.01M257.4 413.3h.01M178.6 383.0h.01M231.9 449.8h.01M177.8 449.9h.01M257.7 413.2h.01M252.9 392.2h.01M252.0 421.7h.01M256.5 413.3h.01M196.1 364.8h.01M212.1 393.3h.01M187.1 411.3h.01M196.9 353.1h.01M247.3 417.0h.01M198.0 417.3h.01M233.7 386.0h.01M220.1 393.8h.01M185.4 466.9h.01M210.5 361.5h.01M255.4 450.9h.01M186.0 457.1h.01M205.8 421.4h.01M252.6 437.1h.01M202.3 373.7h.01M182.6 378.6h.01M253.3 418.1h.01M213.0 383.0h.01M198.0 425.2h.01M192.1 434.6h.01M214.7 380.0h.01M218.7 383.9h.01M270.3 409.7h.01M240.0 376.6h.01M207.9 403.1h.01M219.7 378.6h.01M254.7 394.6h.01M198.5 418.8h.01M246.6 383.9h.01M225.3 354.9h.01M209.1 459.4h.01M251.2 385.9h.01" stroke="#1c1cf5" stroke-width="1.2" stroke-linecap="round" fill="none"/>
<path d="M252.4 425.6h.01M216.9 387.6h.01M248.9 415.3h.01M256.7 433.1h.01M266.0 436.6h.01M201.3 419.7h.01M199.8 444.0h.01M247.3 390.2h.01M206.0 434.3h.01M201.4 418.2h.01M226.4 388.0h.01M260.5 463.2h.01M191.9 360.4h.01M243.1 445.2h.01M230.6 381.7h.01M244.7 429.6h.01M228.3 392.3h.01M192.0 388.6h.01M252.6 415.8h.01M247.0 450.3h.01M196.0 443.6h.01M210.0 356.2h.01M233.9 386.6h.01M177.0 415.0h.01M227.5 360.3h.01M239.7 366.5h.01M181.4 413.9h.01M204.3 414.6h.01M181.0 371.6h.01M207.2 404.8h.01M263.5 407.8h.01M246.9 455.9h.01M242.0 367.2h.01M227.8 355.0h.01M268.8 465.4h.01M206.1 432.4h.01M241.4 455.6h.01M230.6 377.7h.01M215.6 383.7h.01M266.9 456.1h.01M242.7 397.0h.01M234.3 376.7h.01M184.0 476.4h.01M260.3 441.9h.01M268.6 427.7h.01M267.1 457.9h.01M245.5 420.5h.01M254.4 433.4h.01M247.8 424.8h.01M271.1 452.1h.01M268.9 440.0h.01M194.7 411.2h.01M202.9 360.3h.01M177.8 379.0h.01M206.1 431.6h.01M199.8 381.7h.01M226.0 389.0h.01M221.0 354.8h.01M233.2 370.9h.01M204.9 379.0h.01M242.9 362.4h.01M264.0 446.8h.01M267.7 449.6h.01M174.3 409.6h.01M250.3 456.7h.01M180.2 422.7h.01M252.2 422.7h.01M190.0 365.2h.01M235.4 378.5h.01M187.2 422.7h.01M204.9 352.0h.01M269.3 439.2h.01M175.2 473.9h.01M232.1 370.0h.01M220.7 388.0h.01M213.1 369.2h.01M211.4 430.4h.01M266.1 444.3h.01M259.0 417.8h.01M257.0 407.8h.01M176.2 375.5h.01M205.7 458.1h.01M254.1 413.4h.01M226.6 351.9h.01M215.7 378.4h.01M175.0 434.1h.01M266.8 442.9h.01M233.4 380.0h.01M181.2 401.7h.01M202.6 356.6h.01M224.4 389.4h.01M228.4 351.5h.01M259.0 459.0h.01M248.5 420.5h.01M241.1 448.1h.01M235.8 357.4h.01M217.3 371.2h.01M204.3 392.7h.01M199.7 436.0h.01M261.4 445.4h.01M256.5 451.4h.01M225.7 360.6h.01M196.8 384.9h.01M201.0 423.4h.01M250.3 404.9h.01M207.9 420.5h.01M237.3 375.1h.01M217.4 461.1h.01M253.3 429.1h.01M227.7 368.6h.01M196.5 414.4h.01M271.0 459.0h.01M181.2 459.1h.01M193.6 417.0h.01M177.7 461.1h.01M225.2 384.2h.01M209.9 382.1h.01M218.6 364.1h.01M194.1 438.6h.01M247.9 425.7h.01M228.4 368.6h.01M214.8 469.5h.01M198.8 448.1h.01M270.6 425.6h.01M272.6 441.1h.01M208.2 419.5h.01M265.9 442.6h.01M187.8 367.3h.01M229.6 375.5h.01M191.7 376.0h.01M211.2 373.1h.01M255.7 433.1h.01M205.7 396.7h.01" stroke="#2626ff" stroke-width="1.7" stroke-linecap="round" fill="none"/>
<path d="M265.5 440.0h.01M208.1 431.8h.01M184.4 422.2h.01M199.3 368.1h.01M201.8 407.8h.01M202.9 453.1h.01M219.6 383.9h.01M218.3 387.8h.01M245.3 470.0h.01M260.1 461.6h.01M207.7 408.8h.01M200.6 435.3h.01M219.7 372.0h.01M202.3 432.5h.01M200.4 387.4h.01M268.9 446.5h.01M176.3 439.4h.01M173.8 434.6h.01M232.7 381.2h.01M243.5 368.7h.01M233.0 375.7h.01M194.5 404.7h.01M174.7 387.5h.01M229.7 386.2h.01M194.0 393.8h.01M243.6 390.8h.01M256.6 431.2h.01M181.6 410.2h.01M247.2 389.8h.01M177.2 438.1h.01M260.9 452.2h.01M265.6 441.9h.01M218.9 384.7h.01M257.0 435.1h.01M201.6 422.0h.01M182.2 447.5h.01M252.6 442.6h.01M213.1 374.8h.01M243.4 383.3h.01M183.9 410.4h.01M220.4 381.7h.01M255.9 405.5h.01M198.0 417.4h.01M255.4 466.3h.01M202.1 366.3h.01M260.8 427.1h.01M218.0 437.6h.01M266.2 417.8h.01M241.9 416.5h.01M256.3 391.8h.01M249.3 443.1h.01M249.9 403.2h.01M206.7 373.4h.01M237.3 453.6h.01M205.8 428.0h.01M207.2 448.6h.01M202.4 431.4h.01M200.3 371.5h.01M235.3 461.1h.01M183.4 412.5h.01M254.8 451.0h.01M206.7 369.3h.01M208.1 363.5h.01M193.1 446.6h.01M254.0 440.0h.01M263.6 363.7h.01M264.5 439.9h.01M235.9 377.3h.01M268.1 352.4h.01M205.2 438.9h.01M264.1 458.6h.01M246.9 409.1h.01M218.5 385.9h.01M196.4 362.9h.01M220.1 381.2h.01M259.9 448.5h.01M204.1 361.9h.01M272.6 450.3h.01M242.8 431.8h.01M203.1 472.5h.01M219.2 369.0h.01M174.2 430.8h.01M204.8 437.8h.01M257.5 411.1h.01M203.0 425.4h.01M224.9 359.2h.01M266.2 427.4h.01M177.3 377.1h.01M232.2 409.5h.01M272.8 450.2h.01M243.3 432.0h.01M197.7 368.0h.01M198.4 427.3h.01M261.2 418.7h.01M256.6 439.4h.01M254.5 432.6h.01M253.8 419.6h.01M258.9 466.1h.01M263.5 453.0h.01M211.1 382.4h.01M264.2 446.4h.01M177.5 386.8h.01M209.7 430.4h.01M221.4 374.7h.01M252.7 384.8h.01M199.7 420.7h.01M182.0 401.8h.01M200.1 369.0h.01M222.8 400.9h.01M272.1 352.0h.01M261.1 433.5h.01M221.0 354.3h.01M224.1 387.8h.01M258.8 461.8h.01" stroke="#1a1ad0" stroke-width="1.45" stroke-linecap="round" fill="none"/>
<path d="M268.9 434.3h.01M194.7 475.0h.01M205.0 400.4h.01M272.7 443.3h.01M202.0 359.4h.01M255.6 447.0h.01M260.9 454.3h.01M195.5 468.8h.01M228.7 381.2h.01M270.2 437.9h.01M262.6 439.8h.01M250.0 422.4h.01M257.2 442.8h.01M219.9 372.5h.01M252.0 438.4h.01M261.0 430.2h.01M204.7 370.6h.01M215.0 355.1h.01M209.4 462.2h.01M188.3 429.1h.01M220.5 379.5h.01M247.9 385.6h.01M219.9 356.6h.01M198.4 357.0h.01M231.7 356.6h.01M228.7 377.9h.01M241.5 448.9h.01M208.9 439.9h.01M181.9 440.9h.01M241.4 370.4h.01M198.4 435.6h.01M218.6 366.0h.01M196.5 442.1h.01M219.0 379.2h.01M245.8 427.2h.01M243.9 401.1h.01M182.4 456.7h.01M196.8 362.4h.01M208.5 450.5h.01M247.6 377.9h.01M202.5 447.1h.01M214.4 438.8h.01M196.2 356.2h.01M204.6 382.3h.01M238.0 371.5h.01M247.0 386.5h.01M196.9 352.5h.01M246.3 371.0h.01M197.0 416.2h.01M259.7 474.6h.01M218.7 436.0h.01M261.9 462.6h.01M194.5 392.0h.01M233.4 361.3h.01M210.4 360.4h.01M258.8 465.8h.01M222.8 380.9h.01M227.3 381.7h.01M250.1 413.3h.01M246.2 430.9h.01M217.6 391.4h.01M202.5 445.5h.01M206.3 414.9h.01M196.7 361.3h.01M241.0 370.5h.01M256.0 452.6h.01M216.5 419.1h.01M216.7 388.8h.01M192.8 357.8h.01M209.9 451.7h.01M224.5 362.8h.01M227.7 365.8h.01M182.2 431.0h.01M256.4 410.4h.01M267.6 452.4h.01M252.5 388.1h.01M248.5 429.1h.01M261.2 439.7h.01M228.4 360.2h.01M207.0 419.9h.01M237.8 452.9h.01M242.9 415.9h.01M219.1 353.2h.01M217.4 363.9h.01M249.6 416.6h.01M252.3 430.8h.01M216.1 385.7h.01M235.7 382.2h.01M212.2 448.9h.01M256.3 421.1h.01M175.1 425.1h.01M217.1 380.9h.01M179.1 445.1h.01M178.7 424.6h.01M211.4 438.6h.01M229.3 393.9h.01M220.4 409.2h.01M259.3 419.6h.01M197.3 365.9h.01M258.5 429.4h.01M201.5 393.5h.01M242.8 386.2h.01M249.0 438.9h.01M257.2 438.0h.01M245.3 379.2h.01M213.1 382.4h.01M235.5 397.4h.01M202.3 444.9h.01M257.2 449.3h.01M183.4 441.8h.01M238.2 443.8h.01M201.4 363.1h.01M255.8 424.0h.01M176.8 403.7h.01M230.5 361.6h.01" stroke="#1a1ad0" stroke-width="1.2" stroke-linecap="round" fill="none"/>
<path d="M252.4 444.4h.01M193.8 408.9h.01M235.0 362.6h.01M182.7 401.3h.01M174.7 438.4h.01M191.5 448.2h.01M211.3 453.5h.01M249.7 443.8h.01M223.1 363.1h.01M246.6 400.6h.01M175.1 417.7h.01M271.3 436.8h.01M185.1 403.5h.01M179.6 392.5h.01M210.0 440.4h.01M249.3 455.1h.01M199.8 427.8h.01M185.1 438.0h.01M260.6 425.6h.01M215.6 369.6h.01M250.9 418.9h.01M219.3 388.7h.01M175.6 388.9h.01M256.2 419.1h.01M211.3 384.2h.01M208.0 455.2h.01M190.9 471.2h.01M230.5 351.1h.01M182.2 410.3h.01M267.3 373.4h.01M238.1 356.6h.01M234.6 368.9h.01M247.2 414.6h.01M177.8 462.2h.01M225.0 396.3h.01M257.4 429.0h.01M215.3 401.7h.01M212.2 441.6h.01M247.6 423.5h.01M214.8 455.5h.01M236.7 362.6h.01M258.0 407.9h.01M261.4 431.9h.01M201.5 430.6h.01M241.2 368.5h.01M187.4 418.4h.01M214.8 373.1h.01M269.6 439.8h.01M265.2 424.8h.01M246.0 388.9h.01M253.2 404.2h.01M198.5 424.9h.01M250.1 385.7h.01M212.5 353.4h.01M211.1 402.9h.01M265.3 454.5h.01M196.6 410.4h.01M222.6 376.8h.01M253.4 403.9h.01M234.7 388.4h.01M198.6 408.9h.01M265.4 439.9h.01M260.0 447.8h.01M254.1 400.5h.01M181.6 392.9h.01M249.7 372.0h.01M197.5 405.8h.01M185.8 399.8h.01M180.1 448.2h.01M177.1 423.3h.01M213.7 462.3h.01M186.9 427.4h.01M250.7 403.8h.01M202.5 451.4h.01M245.6 395.1h.01M204.2 386.1h.01M202.3 375.1h.01M263.9 354.9h.01M234.1 367.3h.01M173.7 378.1h.01M204.4 452.7h.01M178.3 402.1h.01M173.7 437.4h.01M271.7 470.9h.01M219.0 369.2h.01M253.8 426.7h.01M246.2 416.3h.01M254.6 452.4h.01M209.6 367.8h.01M205.4 445.7h.01M240.8 448.9h.01M266.3 431.0h.01M222.6 377.6h.01M175.6 407.7h.01" stroke="#1616b0" stroke-width="1.45" stroke-linecap="round" fill="none"/>
<path d="M268.9 423.2h.01M177.7 437.6h.01M206.8 363.2h.01M196.9 476.0h.01M207.0 367.6h.01M176.1 416.4h.01M254.1 420.4h.01M250.6 428.4h.01M262.4 451.3h.01M243.9 356.5h.01M174.2 427.1h.01M216.2 363.6h.01M202.3 428.7h.01M228.9 359.4h.01M226.2 354.6h.01M259.7 441.9h.01M211.1 450.4h.01M240.1 377.5h.01M214.4 431.9h.01M176.3 406.8h.01M271.5 458.2h.01M271.6 431.3h.01M251.1 419.8h.01M212.4 435.7h.01M202.2 425.2h.01M239.4 410.4h.01M243.3 457.4h.01M205.9 448.8h.01M214.3 397.5h.01M198.4 472.7h.01M179.8 431.1h.01M213.5 463.9h.01M226.3 361.1h.01M206.1 380.1h.01M211.2 425.9h.01M257.2 460.4h.01M217.2 374.5h.01M253.1 390.3h.01M261.2 447.6h.01M195.2 372.2h.01M177.9 395.4h.01M241.7 378.7h.01M247.1 418.2h.01M203.5 393.1h.01M258.4 450.1h.01M193.7 369.1h.01M186.9 373.9h.01M251.7 407.3h.01M237.2 359.7h.01M188.5 370.1h.01M266.7 357.3h.01M258.1 437.2h.01M244.6 462.8h.01M246.6 406.6h.01M271.5 448.3h.01M271.8 454.3h.01M192.2 467.2h.01M216.3 357.0h.01M225.9 354.0h.01M251.6 448.6h.01M254.6 414.1h.01M238.7 360.4h.01M178.3 445.4h.01M205.9 381.4h.01M202.2 364.7h.01M240.6 452.8h.01M204.4 424.6h.01M258.2 442.0h.01M182.1 404.2h.01M229.7 365.8h.01M203.9 378.5h.01M259.0 437.0h.01M175.8 440.0h.01M200.9 419.1h.01M185.3 411.7h.01M188.3 427.5h.01M203.4 414.3h.01M192.7 367.0h.01M252.3 458.9h.01M195.2 431.4h.01M260.2 397.7h.01M196.4 423.6h.01M240.2 430.3h.01M221.8 376.4h.01M200.1 365.1h.01M258.9 427.5h.01M200.1 405.3h.01M183.8 443.7h.01M175.7 422.8h.01M230.0 376.5h.01M198.9 391.1h.01" stroke="#1c1cf5" stroke-width="1.7" stroke-linecap="round" fill="none"/>
<path d="M198.0 427.4h.01M181.5 455.0h.01M264.3 416.1h.01M203.7 388.1h.01M272.1 351.4h.01M196.7 427.0h.01M262.2 437.1h.01M211.1 452.1h.01M268.5 430.0h.01M218.6 386.6h.01M203.2 409.1h.01M201.5 356.2h.01M261.2 438.5h.01M248.6 428.8h.01M269.5 467.7h.01M271.2 439.4h.01M199.6 392.0h.01M182.3 383.4h.01M199.8 386.4h.01M210.8 382.4h.01M215.6 352.1h.01M242.7 392.9h.01M179.4 439.4h.01M240.1 383.6h.01M256.5 409.7h.01M229.5 377.3h.01M212.6 435.5h.01M182.0 457.5h.01M215.6 352.4h.01M225.8 352.0h.01M263.6 422.3h.01M254.0 415.9h.01M192.4 376.5h.01M180.5 416.5h.01M233.0 372.2h.01M242.8 412.0h.01M253.3 410.2h.01M249.7 452.7h.01M213.9 356.7h.01M251.7 381.8h.01M189.8 410.2h.01M242.8 458.8h.01M270.7 463.0h.01M201.2 361.2h.01M251.4 411.5h.01M174.4 403.8h.01M252.6 415.3h.01M239.5 443.6h.01M205.3 401.3h.01M237.7 373.8h.01M246.6 415.8h.01M260.9 441.2h.01M252.5 371.2h.01M184.3 418.4h.01M237.6 365.9h.01M206.3 441.9h.01M254.1 461.9h.01M239.6 455.1h.01M193.7 447.9h.01M254.6 462.4h.01M205.4 403.9h.01M254.6 445.0h.01M235.9 442.6h.01M259.3 420.4h.01M236.4 362.5h.01M181.9 420.6h.01M237.8 367.2h.01M182.7 423.5h.01M204.6 440.4h.01M224.3 377.9h.01M219.8 382.0h.01M194.6 356.2h.01M265.0 357.3h.01M265.4 472.3h.01M216.0 397.1h.01M199.4 418.3h.01M262.4 437.8h.01M197.5 382.9h.01M220.3 384.5h.01M212.2 441.8h.01M255.5 444.3h.01M205.1 416.5h.01M206.0 441.2h.01M248.9 402.9h.01M193.4 413.8h.01M257.5 401.6h.01M243.5 444.7h.01M210.2 363.3h.01M257.9 458.3h.01M222.8 369.5h.01M224.0 377.1h.01M194.7 370.2h.01M253.2 412.9h.01" stroke="#2c34ff" stroke-width="1.45" stroke-linecap="round" fill="none"/>
<path d="M223.5 387.6h.01M211.5 406.0h.01M198.4 418.8h.01M186.0 431.9h.01M233.9 379.6h.01M208.5 426.5h.01M253.7 396.5h.01M253.9 408.5h.01M245.2 393.9h.01M175.8 389.6h.01M262.4 437.8h.01M201.2 407.1h.01M251.2 397.8h.01M248.8 455.4h.01M223.2 374.4h.01M203.9 440.9h.01M212.2 384.7h.01M212.5 365.5h.01M208.4 418.1h.01M219.8 399.0h.01M215.4 429.7h.01M193.0 364.0h.01M178.8 426.5h.01M204.1 447.5h.01M211.4 360.2h.01M270.0 458.5h.01M196.3 418.2h.01M242.4 372.0h.01M221.5 350.5h.01M178.6 453.0h.01M245.4 415.6h.01M250.3 392.6h.01M189.0 401.4h.01M175.9 431.2h.01M214.2 367.3h.01M211.6 425.5h.01M263.4 430.2h.01M226.2 376.9h.01M250.2 463.6h.01M254.5 442.5h.01M259.3 428.5h.01M219.7 367.2h.01M182.0 463.9h.01M258.6 460.1h.01M254.2 430.8h.01M203.5 430.1h.01M198.6 472.3h.01M266.3 449.1h.01M240.9 452.4h.01M214.9 461.4h.01M230.7 358.5h.01M182.0 447.9h.01M224.1 352.9h.01M244.7 410.8h.01M247.7 409.2h.01M231.8 351.1h.01M227.8 356.9h.01M191.4 412.2h.01M215.3 364.7h.01M175.2 421.6h.01M262.5 429.9h.01M254.7 389.2h.01M207.5 372.4h.01M210.8 383.1h.01M249.6 395.0h.01M227.9 384.8h.01M261.5 434.9h.01M218.3 382.8h.01M207.2 406.5h.01M191.1 420.6h.01M178.3 412.0h.01M254.8 451.1h.01M213.1 410.5h.01M230.6 377.3h.01M211.9 409.2h.01M253.7 459.5h.01M181.6 460.3h.01M269.6 423.5h.01M241.4 450.7h.01M179.9 395.8h.01M185.9 408.6h.01M269.2 460.3h.01M253.5 417.4h.01M237.4 392.2h.01M245.6 385.9h.01M191.5 417.4h.01M238.9 368.9h.01M210.8 420.4h.01M257.9 440.0h.01" stroke="#2c34ff" stroke-width="1.2" stroke-linecap="round" fill="none"/>
<path d="M209.9 401.5h.01M257.6 417.5h.01M255.7 431.0h.01M206.4 419.7h.01M196.6 454.7h.01M179.7 400.2h.01M251.2 401.6h.01M177.8 409.8h.01M217.1 393.4h.01M258.4 437.0h.01M237.9 400.5h.01M179.2 459.5h.01M246.2 455.8h.01M227.6 384.5h.01M228.8 394.4h.01M200.0 446.5h.01M203.7 428.7h.01M187.7 379.6h.01M211.4 372.1h.01M270.5 357.7h.01M253.6 436.8h.01M250.1 421.0h.01M229.0 366.7h.01M197.7 364.3h.01M235.3 394.0h.01M252.1 424.0h.01M240.6 390.8h.01M255.4 446.8h.01M261.6 466.0h.01M252.0 453.7h.01M221.3 387.5h.01M235.9 395.7h.01M249.9 402.7h.01M204.1 439.8h.01M270.9 439.9h.01M178.6 425.7h.01M185.4 452.3h.01M226.2 383.8h.01M268.7 465.8h.01M179.8 409.4h.01M249.7 458.3h.01M240.9 392.6h.01M259.1 413.0h.01M256.1 420.9h.01M252.6 409.6h.01M264.9 450.0h.01M261.9 455.6h.01M222.3 383.1h.01M259.2 433.3h.01M257.9 438.2h.01M260.8 437.6h.01M261.7 444.9h.01M195.7 390.6h.01M175.9 455.8h.01M249.5 467.1h.01M248.2 392.2h.01M250.8 404.2h.01M264.1 465.4h.01M247.0 404.6h.01M255.0 383.7h.01M218.6 351.1h.01M180.7 429.6h.01M262.0 445.9h.01M202.7 425.3h.01M184.4 402.9h.01M240.6 460.0h.01M252.5 458.6h.01M210.1 425.7h.01M270.6 457.1h.01M191.8 446.8h.01M199.7 444.4h.01M208.5 376.9h.01M272.3 445.1h.01M199.9 421.2h.01M258.0 424.4h.01M202.1 425.5h.01M174.8 430.6h.01M197.8 364.3h.01M203.7 365.8h.01M242.6 400.4h.01M267.4 449.9h.01M194.6 424.5h.01M216.9 369.7h.01M177.7 413.3h.01M240.4 368.2h.01M179.4 431.7h.01M214.8 365.1h.01M263.2 386.3h.01M227.9 388.2h.01M224.6 382.1h.01M241.0 387.0h.01M265.7 417.4h.01M234.0 363.2h.01M232.5 448.8h.01M199.8 384.0h.01M265.5 443.8h.01M243.1 351.1h.01M174.8 442.0h.01M257.3 433.3h.01M245.6 370.2h.01M193.7 408.9h.01M212.8 396.5h.01M190.9 370.3h.01M184.1 411.7h.01M214.3 364.0h.01M219.7 359.6h.01M260.8 424.9h.01" stroke="#1a1ad0" stroke-width="1.7" stroke-linecap="round" fill="none"/>
<path d="M195.1 454.9h.01M174.3 465.1h.01M247.8 456.6h.01M263.4 448.1h.01M178.0 452.6h.01M207.1 400.1h.01M222.2 388.4h.01M219.3 391.9h.01M236.5 372.5h.01M238.7 381.3h.01M252.7 390.6h.01M196.6 410.5h.01M261.4 440.0h.01M266.5 460.1h.01M198.5 419.4h.01M190.5 442.6h.01M208.5 356.0h.01M245.0 407.0h.01M234.9 376.9h.01M221.4 362.7h.01M234.0 382.1h.01M247.5 397.1h.01M238.7 459.6h.01M271.8 449.3h.01M197.9 462.2h.01M214.0 368.0h.01M208.0 425.7h.01M231.6 376.7h.01M232.7 378.7h.01M242.5 390.1h.01M213.4 372.1h.01M247.6 426.1h.01M183.9 370.9h.01M194.0 468.4h.01M184.1 451.1h.01M219.5 380.1h.01M258.8 427.6h.01M250.5 394.6h.01M202.4 420.2h.01M236.1 461.7h.01M194.6 375.6h.01M229.6 459.0h.01M210.7 394.1h.01M212.3 392.2h.01M199.8 429.9h.01M252.3 459.9h.01M191.1 455.8h.01M240.1 398.6h.01M210.3 454.8h.01M185.4 432.1h.01M228.1 380.7h.01M229.2 385.5h.01M269.3 446.9h.01M255.7 449.6h.01M224.7 364.8h.01M248.5 395.2h.01M237.6 372.3h.01M257.5 441.4h.01M253.2 425.5h.01M175.3 438.6h.01M264.1 429.3h.01M177.1 435.7h.01M271.3 369.5h.01M248.3 377.9h.01M221.1 374.2h.01M251.9 461.1h.01M263.6 438.3h.01M244.4 389.4h.01M185.8 365.5h.01M234.6 448.9h.01M228.2 362.9h.01M196.6 389.3h.01M264.7 358.8h.01M242.7 407.3h.01M242.3 450.9h.01M212.6 397.0h.01M242.1 388.6h.01M256.8 445.5h.01M194.5 428.6h.01M186.6 415.0h.01M224.9 362.0h.01M234.2 365.9h.01M261.1 424.8h.01M250.0 370.2h.01M234.3 443.2h.01M245.4 444.2h.01M178.8 447.9h.01M214.6 376.1h.01M225.1 351.4h.01M203.0 427.3h.01M236.4 444.9h.01M261.0 451.0h.01M190.9 370.5h.01M195.9 370.6h.01M229.1 360.0h.01M241.5 450.2h.01M248.3 449.1h.01M174.4 429.2h.01M253.2 406.0h.01M182.3 410.8h.01M215.4 447.2h.01M210.8 366.7h.01M195.0 437.7h.01M205.5 453.5h.01M256.5 456.3h.01M224.6 373.4h.01M230.8 385.1h.01M220.4 383.9h.01M198.6 418.4h.01M239.5 459.0h.01M200.2 443.8h.01" stroke="#1616b0" stroke-width="1.7" stroke-linecap="round" fill="none"/>
<path d="M213.4 381.5h.01M246.7 384.8h.01M223.5 360.5h.01M251.3 450.3h.01M234.6 374.7h.01M175.5 439.9h.01M180.4 396.4h.01M241.5 453.3h.01M250.6 406.6h.01M238.4 380.2h.01M223.3 380.6h.01M253.2 402.9h.01M267.4 455.9h.01M203.1 370.6h.01M227.1 367.9h.01M253.2 425.3h.01M195.4 457.0h.01M210.1 386.0h.01M181.4 406.7h.01M174.0 448.6h.01M244.4 450.5h.01M212.3 375.9h.01M214.5 433.8h.01M245.4 410.2h.01M220.5 355.3h.01M242.1 361.3h.01M231.0 376.5h.01M216.6 451.2h.01M248.7 464.8h.01M211.2 372.6h.01M238.8 357.7h.01M203.7 435.0h.01M228.6 362.7h.01M252.2 387.1h.01M245.0 431.2h.01M215.8 380.9h.01M174.1 456.0h.01M258.6 445.2h.01M237.1 457.9h.01M251.8 424.8h.01M175.5 434.7h.01M205.0 373.0h.01M260.0 421.2h.01M261.3 455.9h.01M230.2 361.9h.01M233.5 395.5h.01M246.5 432.4h.01M202.8 451.0h.01M208.6 475.0h.01M174.7 402.1h.01M260.1 456.7h.01M231.7 394.5h.01M233.4 365.7h.01M247.1 415.9h.01M247.2 453.4h.01M180.0 421.9h.01M204.8 443.4h.01M256.0 408.9h.01M213.7 434.5h.01M249.2 439.5h.01M180.1 440.3h.01M175.5 439.7h.01M224.6 354.2h.01M193.9 465.7h.01M254.9 415.4h.01M236.6 377.8h.01M175.9 438.0h.01M181.8 430.0h.01M205.3 361.6h.01M259.5 412.0h.01M222.2 357.2h.01M203.4 437.0h.01M220.6 359.2h.01M263.1 448.7h.01M272.3 450.7h.01M181.7 460.5h.01M225.5 369.7h.01M207.2 466.1h.01M199.7 416.8h.01M244.2 415.5h.01M194.3 429.5h.01M218.1 383.7h.01M176.2 424.4h.01M174.4 458.2h.01M236.7 384.0h.01M176.8 470.0h.01M224.3 378.1h.01M267.4 453.5h.01M230.2 387.2h.01M178.0 415.5h.01M184.3 379.4h.01M248.7 426.3h.01M272.4 360.2h.01M216.6 399.4h.01M210.7 369.5h.01M264.9 439.4h.01M212.4 382.2h.01M269.0 445.8h.01M200.1 379.4h.01M248.0 435.6h.01M247.1 446.4h.01M238.5 447.4h.01M269.9 353.3h.01M254.6 431.2h.01M209.4 374.4h.01M204.0 461.7h.01M243.4 371.5h.01M245.0 398.4h.01M242.4 422.4h.01M219.2 461.8h.01M221.4 416.0h.01M193.5 376.6h.01M262.6 473.9h.01M221.6 387.8h.01M271.5 468.0h.01M207.3 449.6h.01M237.0 447.8h.01M239.8 368.5h.01M240.7 374.5h.01" stroke="#1c1cf5" stroke-width="1.45" stroke-linecap="round" fill="none"/>
<path d="M256.9 410.7h.01M220.8 356.1h.01M254.2 471.5h.01M178.5 461.3h.01M198.4 354.8h.01M249.6 418.8h.01M255.8 458.4h.01M194.8 364.8h.01M244.9 428.6h.01M235.1 408.5h.01M219.2 373.9h.01M241.7 386.2h.01M204.2 452.9h.01M251.9 379.8h.01" stroke="#ffe040" stroke-width="1.2" stroke-linecap="round" fill="none"/>
<path d="M252.2 432.8h.01M247.1 462.0h.01M178.0 412.4h.01M187.0 375.6h.01M222.8 389.6h.01M217.1 383.4h.01M225.5 382.3h.01M259.0 423.3h.01M197.7 453.8h.01M207.9 421.2h.01M210.4 385.8h.01M216.8 380.6h.01M177.4 460.3h.01M234.9 379.4h.01" stroke="#ff5080" stroke-width="1.6" stroke-linecap="round" fill="none"/>
<path d="M196.1 418.8h.01M267.7 471.8h.01M221.0 406.9h.01M188.1 377.0h.01M207.5 383.6h.01M265.2 430.7h.01M268.7 449.9h.01M219.2 385.0h.01M188.1 382.2h.01M200.2 436.7h.01M248.1 425.3h.01M246.5 437.4h.01" stroke="#f8f060" stroke-width="1.2" stroke-linecap="round" fill="none"/>
<path d="M260.3 480.4h.01M259.2 463.3h.01M226.4 384.3h.01M198.3 427.2h.01M220.1 365.4h.01M226.9 454.1h.01M258.0 435.2h.01M217.3 372.5h.01M236.0 387.9h.01M254.5 441.8h.01M227.0 367.2h.01" stroke="#ff5080" stroke-width="1.9" stroke-linecap="round" fill="none"/>
<path d="M175.0 413.7h.01M262.5 429.3h.01M200.9 371.3h.01M265.3 431.1h.01M193.6 444.8h.01M270.3 438.4h.01M194.6 478.3h.01M200.5 449.4h.01M250.2 405.3h.01M245.8 411.1h.01M239.2 380.1h.01M219.7 352.4h.01M205.3 351.1h.01" stroke="#ffb040" stroke-width="1.9" stroke-linecap="round" fill="none"/>
<path d="M235.5 391.0h.01M210.6 376.0h.01M179.9 452.2h.01M225.3 379.1h.01M176.1 407.3h.01M213.2 363.8h.01M243.0 454.7h.01M251.9 420.2h.01M253.6 454.6h.01M179.4 415.6h.01M199.2 469.5h.01M263.3 426.4h.01M272.6 437.8h.01M207.6 428.8h.01M174.0 433.1h.01" stroke="#ffffa0" stroke-width="1.6" stroke-linecap="round" fill="none"/>
<path d="M226.8 394.7h.01M188.4 415.7h.01M184.3 378.9h.01M229.3 364.7h.01M209.4 430.4h.01M241.9 447.9h.01M204.8 396.3h.01M210.0 378.1h.01M208.3 404.4h.01M232.8 369.4h.01M249.6 411.4h.01M238.6 383.4h.01M178.9 395.5h.01M217.4 380.2h.01" stroke="#80ff80" stroke-width="1.6" stroke-linecap="round" fill="none"/>
<path d="M183.5 442.8h.01M229.5 382.2h.01M248.7 423.0h.01M239.6 413.8h.01M177.0 427.4h.01M270.2 451.9h.01M216.8 373.4h.01M234.6 357.9h.01M249.4 389.7h.01M178.5 424.3h.01" stroke="#ffffa0" stroke-width="1.2" stroke-linecap="round" fill="none"/>
<path d="M239.2 350.7h.01M212.3 466.9h.01M223.7 377.2h.01M248.0 414.8h.01M223.4 354.3h.01M203.8 363.4h.01M251.4 436.8h.01M194.0 359.4h.01M180.7 375.3h.01M255.8 401.6h.01M260.2 427.1h.01M250.3 399.1h.01" stroke="#80ff80" stroke-width="1.9" stroke-linecap="round" fill="none"/>
<path d="M272.2 417.3h.01M254.7 438.4h.01M222.3 355.6h.01M253.0 379.9h.01M235.1 447.4h.01M268.8 450.1h.01M267.2 475.3h.01M242.8 420.3h.01M224.0 379.8h.01M259.5 411.1h.01M178.9 473.8h.01M248.5 415.9h.01M224.7 371.1h.01" stroke="#ffffa0" stroke-width="1.9" stroke-linecap="round" fill="none"/>
<path d="M174.2 461.6h.01M235.0 448.7h.01M221.7 403.9h.01M175.2 471.6h.01M243.7 451.3h.01M200.9 469.0h.01M212.8 382.0h.01M229.7 363.5h.01M217.9 395.6h.01M225.7 380.6h.01M261.4 464.4h.01M253.8 432.1h.01M181.7 425.9h.01M195.9 365.2h.01M187.1 409.4h.01M266.3 463.4h.01M197.2 449.2h.01M223.5 384.3h.01M233.7 396.7h.01M258.7 442.8h.01M209.1 475.9h.01M212.5 394.8h.01M183.5 410.3h.01M208.1 373.4h.01M262.1 454.2h.01M174.5 456.0h.01M264.3 453.2h.01M197.1 419.3h.01M223.0 407.6h.01" stroke="#ff5080" stroke-width="1.2" stroke-linecap="round" fill="none"/>
<path d="M193.4 361.3h.01M249.7 445.5h.01M263.1 450.7h.01M204.5 429.7h.01M256.4 424.3h.01M237.5 375.8h.01M258.0 454.1h.01M243.8 447.3h.01M183.5 452.0h.01M223.8 363.8h.01M245.5 396.5h.01M223.5 354.8h.01M212.5 375.8h.01M200.9 365.7h.01M241.0 446.9h.01M191.7 370.7h.01M180.0 410.2h.01M207.7 450.4h.01M265.4 438.0h.01" stroke="#ffb040" stroke-width="1.2" stroke-linecap="round" fill="none"/>
<path d="M257.4 444.8h.01M203.5 374.7h.01M224.6 405.0h.01M263.3 361.4h.01M246.1 446.2h.01M199.6 428.3h.01M239.1 365.0h.01M192.9 431.7h.01M236.9 363.2h.01M207.5 382.3h.01M240.4 407.9h.01M226.4 383.9h.01M175.1 407.8h.01M183.9 415.6h.01M213.6 441.0h.01M258.0 439.5h.01M256.2 400.5h.01M245.8 405.5h.01" stroke="#ffe040" stroke-width="1.6" stroke-linecap="round" fill="none"/>
<path d="M205.5 478.8h.01M205.0 442.2h.01M180.3 453.8h.01M272.4 444.3h.01M257.3 429.1h.01M213.4 408.5h.01M220.0 425.6h.01M241.6 397.3h.01M254.8 439.9h.01M241.2 377.5h.01M236.3 455.4h.01M216.1 376.1h.01M190.8 359.6h.01M248.7 459.4h.01" stroke="#ffe040" stroke-width="1.9" stroke-linecap="round" fill="none"/>
<path d="M188.1 366.9h.01M251.8 430.8h.01M261.3 414.8h.01M271.1 453.9h.01M224.3 362.7h.01M202.2 372.0h.01M198.9 382.1h.01M209.0 386.8h.01M203.6 433.4h.01M202.3 426.1h.01M260.0 419.3h.01M212.7 377.9h.01M225.2 391.5h.01M203.8 417.4h.01M238.5 435.1h.01M210.2 477.7h.01M219.9 352.4h.01M235.8 379.4h.01" stroke="#80ff80" stroke-width="1.2" stroke-linecap="round" fill="none"/>
<path d="M211.6 377.9h.01M186.0 399.5h.01M203.8 422.7h.01M197.6 462.5h.01M269.1 457.8h.01M265.5 456.0h.01M258.5 419.2h.01M205.2 453.7h.01M211.4 376.7h.01" stroke="#f8f060" stroke-width="1.9" stroke-linecap="round" fill="none"/>
<path d="M271.3 436.9h.01M241.9 442.3h.01M264.8 456.6h.01M266.8 367.9h.01M242.5 374.8h.01M250.1 409.9h.01M205.3 470.8h.01M210.6 423.1h.01M230.6 379.4h.01M236.6 458.9h.01M263.1 422.0h.01M212.2 351.2h.01" stroke="#ffb040" stroke-width="1.6" stroke-linecap="round" fill="none"/>
<path d="M249.3 452.3h.01M244.1 440.3h.01M177.4 402.9h.01M252.7 457.9h.01M206.7 359.6h.01M235.0 363.0h.01M222.2 361.4h.01M177.1 416.7h.01M207.3 364.1h.01M254.0 448.6h.01M240.1 459.0h.01M202.4 386.0h.01M266.4 446.0h.01" stroke="#f8f060" stroke-width="1.6" stroke-linecap="round" fill="none"/>
<circle cx="214.22" cy="453.24" r="1.12" fill="#ffff80"/>
<circle cx="208.76" cy="447.70" r="1.17" fill="#ffb040"/>
<circle cx="206.82" cy="448.57" r="0.93" fill="#ffb040"/>
<circle cx="216.73" cy="448.11" r="0.93" fill="#ffe040"/>
<circle cx="204.38" cy="454.02" r="0.99" fill="#ffff80"/>
<circle cx="209.05" cy="451.99" r="0.97" fill="#ffb040"/>
<circle cx="213.66" cy="448.88" r="0.89" fill="#ffe040"/>
</g>
<rect x="200.20" y="442.90" width="19.00" height="14.10" fill="none" stroke="#f0f0f0" stroke-width="0.9"/>
<line x1="219.20" y1="442.90" x2="272.60" y2="353.50" stroke="#f4f4f4" stroke-width="1.15" stroke-dasharray="2.2 1.5"/>
<line x1="219.20" y1="457.00" x2="272.60" y2="480.50" stroke="#f4f4f4" stroke-width="1.15" stroke-dasharray="2.2 1.5"/>
<text x="176.10" y="359.10" font-size="8.6" text-anchor="start" fill="#fff" stroke="#fff" stroke-width="0.18" font-weight="bold">CIP</text>
<line x1="176.70" y1="470.90" x2="187.70" y2="470.90" stroke="#fff" stroke-width="1.3"/>
<text x="176.40" y="479.10" font-size="7.4" text-anchor="start" fill="#fff" stroke="#fff" stroke-width="0.18">50 μm</text>
<clipPath id="ic202_0"><rect x="274.7" y="350.40" width="57" height="42.1"/></clipPath>
<g clip-path="url(#ic202_0)">
<rect x="274.70" y="350.40" width="57.00" height="42.10" fill="#040410" stroke="none" stroke-width="1"/>
<g filter="url(#gl3)">
<ellipse cx="319.3" cy="378.1" rx="2.4" ry="1.8" transform="rotate(122 319.3 378.1)" fill="#1f22f0"/>
<ellipse cx="298.8" cy="387.6" rx="2.0" ry="2.0" transform="rotate(36 298.8 387.6)" fill="#2e34ff"/>
<ellipse cx="311.1" cy="383.2" rx="2.6" ry="1.8" transform="rotate(72 311.1 383.2)" fill="#2e34ff"/>
<ellipse cx="280.5" cy="369.8" rx="2.7" ry="2.2" transform="rotate(7 280.5 369.8)" fill="#2828ff"/>
<ellipse cx="318.6" cy="369.0" rx="2.9" ry="2.0" transform="rotate(174 318.6 369.0)" fill="#2828ff"/>
<ellipse cx="325.7" cy="383.9" rx="2.0" ry="1.8" transform="rotate(32 325.7 383.9)" fill="#2828ff"/>
<ellipse cx="280.3" cy="354.3" rx="2.2" ry="2.2" transform="rotate(36 280.3 354.3)" fill="#2828ff"/>
<ellipse cx="291.5" cy="378.4" rx="2.2" ry="1.8" transform="rotate(156 291.5 378.4)" fill="#2828ff"/>
<ellipse cx="332.2" cy="383.9" rx="2.6" ry="2.2" transform="rotate(70 332.2 383.9)" fill="#1a1cd0"/>
<ellipse cx="294.0" cy="355.7" rx="2.6" ry="1.9" transform="rotate(62 294.0 355.7)" fill="#2828ff"/>
<ellipse cx="308.5" cy="349.1" rx="3.0" ry="2.4" transform="rotate(70 308.5 349.1)" fill="#1a1cd0"/>
<ellipse cx="279.1" cy="390.8" rx="2.2" ry="2.3" transform="rotate(122 279.1 390.8)" fill="#1a1cd0"/>
<ellipse cx="333.1" cy="378.4" rx="2.9" ry="2.0" transform="rotate(120 333.1 378.4)" fill="#2e34ff"/>
<ellipse cx="280.9" cy="350.9" rx="2.0" ry="1.9" transform="rotate(117 280.9 350.9)" fill="#2e34ff"/>
<ellipse cx="318.3" cy="354.7" rx="2.5" ry="1.8" transform="rotate(145 318.3 354.7)" fill="#1f22f0"/>
<ellipse cx="326.5" cy="385.5" rx="2.9" ry="1.7" transform="rotate(69 326.5 385.5)" fill="#1a1cd0"/>
<ellipse cx="284.6" cy="379.8" rx="2.8" ry="1.8" transform="rotate(84 284.6 379.8)" fill="#1f22f0"/>
<ellipse cx="329.4" cy="360.1" rx="2.4" ry="1.8" transform="rotate(117 329.4 360.1)" fill="#2e34ff"/>
<ellipse cx="330.1" cy="356.4" rx="2.2" ry="2.0" transform="rotate(142 330.1 356.4)" fill="#1f22f0"/>
<ellipse cx="306.5" cy="349.3" rx="2.4" ry="2.4" transform="rotate(116 306.5 349.3)" fill="#2e34ff"/>
<ellipse cx="327.5" cy="366.5" rx="2.9" ry="2.4" transform="rotate(56 327.5 366.5)" fill="#2828ff"/>
<ellipse cx="284.3" cy="376.2" rx="2.5" ry="2.2" transform="rotate(81 284.3 376.2)" fill="#2e34ff"/>
<ellipse cx="305.6" cy="353.9" rx="2.8" ry="1.8" transform="rotate(165 305.6 353.9)" fill="#2e34ff"/>
<ellipse cx="306.2" cy="353.9" rx="2.6" ry="2.4" transform="rotate(50 306.2 353.9)" fill="#2828ff"/>
<ellipse cx="295.1" cy="367.7" rx="2.5" ry="1.6" transform="rotate(106 295.1 367.7)" fill="#2828ff"/>
<ellipse cx="320.7" cy="364.1" rx="3.0" ry="2.2" transform="rotate(104 320.7 364.1)" fill="#2828ff"/>
<ellipse cx="277.7" cy="365.6" rx="2.3" ry="2.3" transform="rotate(146 277.7 365.6)" fill="#1a1cd0"/>
<ellipse cx="284.7" cy="390.7" rx="2.4" ry="2.2" transform="rotate(125 284.7 390.7)" fill="#1a1cd0"/>
<ellipse cx="293.3" cy="354.8" rx="2.9" ry="2.2" transform="rotate(152 293.3 354.8)" fill="#1f22f0"/>
<ellipse cx="274.0" cy="362.3" rx="2.8" ry="1.9" transform="rotate(25 274.0 362.3)" fill="#1f22f0"/>
<ellipse cx="296.3" cy="378.8" rx="2.5" ry="2.4" transform="rotate(162 296.3 378.8)" fill="#1a1cd0"/>
<ellipse cx="288.8" cy="368.1" rx="2.2" ry="1.8" transform="rotate(144 288.8 368.1)" fill="#2828ff"/>
<ellipse cx="297.9" cy="380.9" rx="2.3" ry="2.3" transform="rotate(133 297.9 380.9)" fill="#1a1cd0"/>
<ellipse cx="285.0" cy="349.4" rx="2.5" ry="2.0" transform="rotate(39 285.0 349.4)" fill="#2828ff"/>
<ellipse cx="305.9" cy="364.3" rx="2.7" ry="2.3" transform="rotate(94 305.9 364.3)" fill="#2828ff"/>
<ellipse cx="293.0" cy="357.6" rx="2.6" ry="1.7" transform="rotate(80 293.0 357.6)" fill="#2e34ff"/>
<ellipse cx="294.9" cy="386.6" rx="2.4" ry="1.8" transform="rotate(96 294.9 386.6)" fill="#1f22f0"/>
<ellipse cx="318.4" cy="365.4" rx="2.7" ry="2.4" transform="rotate(150 318.4 365.4)" fill="#2828ff"/>
<ellipse cx="331.8" cy="387.4" rx="2.7" ry="2.2" transform="rotate(134 331.8 387.4)" fill="#2e34ff"/>
<ellipse cx="308.4" cy="370.8" rx="2.0" ry="2.4" transform="rotate(12 308.4 370.8)" fill="#1f22f0"/>
<ellipse cx="303.0" cy="385.2" rx="2.8" ry="2.2" transform="rotate(68 303.0 385.2)" fill="#1a1cd0"/>
<ellipse cx="285.1" cy="360.5" rx="2.0" ry="1.9" transform="rotate(162 285.1 360.5)" fill="#2828ff"/>
<ellipse cx="276.5" cy="364.2" rx="2.4" ry="2.0" transform="rotate(92 276.5 364.2)" fill="#2828ff"/>
<ellipse cx="284.7" cy="377.9" rx="2.6" ry="1.6" transform="rotate(27 284.7 377.9)" fill="#1f22f0"/>
<ellipse cx="281.4" cy="394.4" rx="2.2" ry="1.9" transform="rotate(89 281.4 394.4)" fill="#1a1cd0"/>
<ellipse cx="313.2" cy="362.2" rx="2.5" ry="1.7" transform="rotate(60 313.2 362.2)" fill="#1a1cd0"/>
<ellipse cx="327.2" cy="375.0" rx="2.4" ry="2.3" transform="rotate(80 327.2 375.0)" fill="#2e34ff"/>
<ellipse cx="333.0" cy="370.3" rx="2.6" ry="2.3" transform="rotate(23 333.0 370.3)" fill="#1a1cd0"/>
</g><g filter="url(#gl)">
<ellipse cx="312.8" cy="359.3" rx="2.7" ry="2.2" transform="rotate(155 312.8 359.3)" fill="#ff1850"/>
<ellipse cx="313.6" cy="385.8" rx="3.4" ry="2.7" transform="rotate(13 313.6 385.8)" fill="#ff1850"/>
<ellipse cx="301.5" cy="356.4" rx="3.2" ry="2.6" transform="rotate(53 301.5 356.4)" fill="#ff1850"/>
<ellipse cx="302.7" cy="383.0" rx="3.1" ry="2.5" transform="rotate(75 302.7 383.0)" fill="#ff1850"/>
<ellipse cx="327.0" cy="353.3" rx="3.1" ry="2.5" transform="rotate(170 327.0 353.3)" fill="#ff1850"/>
<ellipse cx="290.0" cy="383.3" rx="3.3" ry="2.6" transform="rotate(26 290.0 383.3)" fill="#ff1850"/>
<ellipse cx="326.1" cy="370.7" rx="2.8" ry="2.2" transform="rotate(59 326.1 370.7)" fill="#ff1850"/>
<ellipse cx="282.4" cy="386.6" rx="2.8" ry="2.3" transform="rotate(106 282.4 386.6)" fill="#ff1850"/>
<ellipse cx="283.8" cy="368.6" rx="3.3" ry="2.6" transform="rotate(24 283.8 368.6)" fill="#ff1850"/>
<ellipse cx="301.6" cy="368.3" rx="3.1" ry="2.5" transform="rotate(118 301.6 368.3)" fill="#ff1850"/>
<ellipse cx="316.1" cy="372.2" rx="3.1" ry="2.5" transform="rotate(34 316.1 372.2)" fill="#ff1850"/>
</g></g>
<text x="275.70" y="358.20" font-size="7.8" text-anchor="start" fill="#e8204c" stroke="#e8204c" stroke-width="0.18">CD8</text>
<line x1="316.20" y1="382.60" x2="329.40" y2="382.60" stroke="#fff" stroke-width="1.2"/>
<text x="311.70" y="389.90" font-size="7.5" text-anchor="start" fill="#fff" stroke="#fff" stroke-width="0.18">20 μm</text>
<clipPath id="ic202_1"><rect x="274.7" y="394.40" width="57" height="42.1"/></clipPath>
<g clip-path="url(#ic202_1)">
<rect x="274.70" y="394.40" width="57.00" height="42.10" fill="#040410" stroke="none" stroke-width="1"/>
<g filter="url(#gl3)">
<ellipse cx="319.3" cy="422.1" rx="2.4" ry="1.8" transform="rotate(122 319.3 422.1)" fill="#1f22f0"/>
<ellipse cx="298.8" cy="431.6" rx="2.0" ry="2.0" transform="rotate(36 298.8 431.6)" fill="#2e34ff"/>
<ellipse cx="311.1" cy="427.2" rx="2.6" ry="1.8" transform="rotate(72 311.1 427.2)" fill="#2e34ff"/>
<ellipse cx="280.5" cy="413.8" rx="2.7" ry="2.2" transform="rotate(7 280.5 413.8)" fill="#2828ff"/>
<ellipse cx="318.6" cy="413.0" rx="2.9" ry="2.0" transform="rotate(174 318.6 413.0)" fill="#2828ff"/>
<ellipse cx="325.7" cy="427.9" rx="2.0" ry="1.8" transform="rotate(32 325.7 427.9)" fill="#2828ff"/>
<ellipse cx="280.3" cy="398.3" rx="2.2" ry="2.2" transform="rotate(36 280.3 398.3)" fill="#2828ff"/>
<ellipse cx="291.5" cy="422.4" rx="2.2" ry="1.8" transform="rotate(156 291.5 422.4)" fill="#2828ff"/>
<ellipse cx="332.2" cy="427.9" rx="2.6" ry="2.2" transform="rotate(70 332.2 427.9)" fill="#1a1cd0"/>
<ellipse cx="294.0" cy="399.7" rx="2.6" ry="1.9" transform="rotate(62 294.0 399.7)" fill="#2828ff"/>
<ellipse cx="308.5" cy="393.1" rx="3.0" ry="2.4" transform="rotate(70 308.5 393.1)" fill="#1a1cd0"/>
<ellipse cx="279.1" cy="434.8" rx="2.2" ry="2.3" transform="rotate(122 279.1 434.8)" fill="#1a1cd0"/>
<ellipse cx="333.1" cy="422.4" rx="2.9" ry="2.0" transform="rotate(120 333.1 422.4)" fill="#2e34ff"/>
<ellipse cx="280.9" cy="394.9" rx="2.0" ry="1.9" transform="rotate(117 280.9 394.9)" fill="#2e34ff"/>
<ellipse cx="318.3" cy="398.7" rx="2.5" ry="1.8" transform="rotate(145 318.3 398.7)" fill="#1f22f0"/>
<ellipse cx="326.5" cy="429.5" rx="2.9" ry="1.7" transform="rotate(69 326.5 429.5)" fill="#1a1cd0"/>
<ellipse cx="284.6" cy="423.8" rx="2.8" ry="1.8" transform="rotate(84 284.6 423.8)" fill="#1f22f0"/>
<ellipse cx="329.4" cy="404.1" rx="2.4" ry="1.8" transform="rotate(117 329.4 404.1)" fill="#2e34ff"/>
<ellipse cx="330.1" cy="400.4" rx="2.2" ry="2.0" transform="rotate(142 330.1 400.4)" fill="#1f22f0"/>
<ellipse cx="306.5" cy="393.3" rx="2.4" ry="2.4" transform="rotate(116 306.5 393.3)" fill="#2e34ff"/>
<ellipse cx="327.5" cy="410.5" rx="2.9" ry="2.4" transform="rotate(56 327.5 410.5)" fill="#2828ff"/>
<ellipse cx="284.3" cy="420.2" rx="2.5" ry="2.2" transform="rotate(81 284.3 420.2)" fill="#2e34ff"/>
<ellipse cx="305.6" cy="397.9" rx="2.8" ry="1.8" transform="rotate(165 305.6 397.9)" fill="#2e34ff"/>
<ellipse cx="306.2" cy="397.9" rx="2.6" ry="2.4" transform="rotate(50 306.2 397.9)" fill="#2828ff"/>
<ellipse cx="295.1" cy="411.7" rx="2.5" ry="1.6" transform="rotate(106 295.1 411.7)" fill="#2828ff"/>
<ellipse cx="320.7" cy="408.1" rx="3.0" ry="2.2" transform="rotate(104 320.7 408.1)" fill="#2828ff"/>
<ellipse cx="277.7" cy="409.6" rx="2.3" ry="2.3" transform="rotate(146 277.7 409.6)" fill="#1a1cd0"/>
<ellipse cx="284.7" cy="434.7" rx="2.4" ry="2.2" transform="rotate(125 284.7 434.7)" fill="#1a1cd0"/>
<ellipse cx="293.3" cy="398.8" rx="2.9" ry="2.2" transform="rotate(152 293.3 398.8)" fill="#1f22f0"/>
<ellipse cx="274.0" cy="406.3" rx="2.8" ry="1.9" transform="rotate(25 274.0 406.3)" fill="#1f22f0"/>
<ellipse cx="296.3" cy="422.8" rx="2.5" ry="2.4" transform="rotate(162 296.3 422.8)" fill="#1a1cd0"/>
<ellipse cx="288.8" cy="412.1" rx="2.2" ry="1.8" transform="rotate(144 288.8 412.1)" fill="#2828ff"/>
<ellipse cx="297.9" cy="424.9" rx="2.3" ry="2.3" transform="rotate(133 297.9 424.9)" fill="#1a1cd0"/>
<ellipse cx="285.0" cy="393.4" rx="2.5" ry="2.0" transform="rotate(39 285.0 393.4)" fill="#2828ff"/>
<ellipse cx="305.9" cy="408.3" rx="2.7" ry="2.3" transform="rotate(94 305.9 408.3)" fill="#2828ff"/>
<ellipse cx="293.0" cy="401.6" rx="2.6" ry="1.7" transform="rotate(80 293.0 401.6)" fill="#2e34ff"/>
<ellipse cx="294.9" cy="430.6" rx="2.4" ry="1.8" transform="rotate(96 294.9 430.6)" fill="#1f22f0"/>
<ellipse cx="318.4" cy="409.4" rx="2.7" ry="2.4" transform="rotate(150 318.4 409.4)" fill="#2828ff"/>
<ellipse cx="331.8" cy="431.4" rx="2.7" ry="2.2" transform="rotate(134 331.8 431.4)" fill="#2e34ff"/>
<ellipse cx="308.4" cy="414.8" rx="2.0" ry="2.4" transform="rotate(12 308.4 414.8)" fill="#1f22f0"/>
<ellipse cx="303.0" cy="429.2" rx="2.8" ry="2.2" transform="rotate(68 303.0 429.2)" fill="#1a1cd0"/>
<ellipse cx="285.1" cy="404.5" rx="2.0" ry="1.9" transform="rotate(162 285.1 404.5)" fill="#2828ff"/>
<ellipse cx="276.5" cy="408.2" rx="2.4" ry="2.0" transform="rotate(92 276.5 408.2)" fill="#2828ff"/>
<ellipse cx="284.7" cy="421.9" rx="2.6" ry="1.6" transform="rotate(27 284.7 421.9)" fill="#1f22f0"/>
<ellipse cx="281.4" cy="438.4" rx="2.2" ry="1.9" transform="rotate(89 281.4 438.4)" fill="#1a1cd0"/>
<ellipse cx="313.2" cy="406.2" rx="2.5" ry="1.7" transform="rotate(60 313.2 406.2)" fill="#1a1cd0"/>
<ellipse cx="327.2" cy="419.0" rx="2.4" ry="2.3" transform="rotate(80 327.2 419.0)" fill="#2e34ff"/>
<ellipse cx="333.0" cy="414.3" rx="2.6" ry="2.3" transform="rotate(23 333.0 414.3)" fill="#1a1cd0"/>
</g><g filter="url(#gl)">
<ellipse cx="327.0" cy="397.3" rx="3.1" ry="2.5" transform="rotate(170 327.0 397.3)" fill="#20e040"/>
<ellipse cx="290.0" cy="427.3" rx="3.3" ry="2.6" transform="rotate(26 290.0 427.3)" fill="#20e040"/>
<ellipse cx="326.1" cy="414.7" rx="2.8" ry="2.2" transform="rotate(59 326.1 414.7)" fill="#20e040"/>
<ellipse cx="282.4" cy="430.6" rx="2.8" ry="2.3" transform="rotate(106 282.4 430.6)" fill="#20e040"/>
<ellipse cx="283.8" cy="412.6" rx="3.3" ry="2.6" transform="rotate(24 283.8 412.6)" fill="#20e040"/>
<ellipse cx="301.6" cy="412.3" rx="3.1" ry="2.5" transform="rotate(118 301.6 412.3)" fill="#20e040"/>
<ellipse cx="316.1" cy="416.2" rx="3.1" ry="2.5" transform="rotate(34 316.1 416.2)" fill="#20e040"/>
<ellipse cx="290.2" cy="412.4" rx="3.5" ry="2.8" transform="rotate(17 290.2 412.4)" fill="#20e040"/>
</g></g>
<text x="275.70" y="402.20" font-size="7.8" text-anchor="start" fill="#40c840" stroke="#40c840" stroke-width="0.18">CD103</text>
<line x1="316.20" y1="426.60" x2="329.40" y2="426.60" stroke="#fff" stroke-width="1.2"/>
<text x="311.70" y="433.90" font-size="7.5" text-anchor="start" fill="#fff" stroke="#fff" stroke-width="0.18">20 μm</text>
<clipPath id="ic202_2"><rect x="274.7" y="438.40" width="57" height="42.1"/></clipPath>
<g clip-path="url(#ic202_2)">
<rect x="274.70" y="438.40" width="57.00" height="42.10" fill="#040410" stroke="none" stroke-width="1"/>
<g filter="url(#gl3)">
<ellipse cx="319.3" cy="466.1" rx="2.4" ry="1.8" transform="rotate(122 319.3 466.1)" fill="#1f22f0"/>
<ellipse cx="298.8" cy="475.6" rx="2.0" ry="2.0" transform="rotate(36 298.8 475.6)" fill="#2e34ff"/>
<ellipse cx="311.1" cy="471.2" rx="2.6" ry="1.8" transform="rotate(72 311.1 471.2)" fill="#2e34ff"/>
<ellipse cx="280.5" cy="457.8" rx="2.7" ry="2.2" transform="rotate(7 280.5 457.8)" fill="#2828ff"/>
<ellipse cx="318.6" cy="457.0" rx="2.9" ry="2.0" transform="rotate(174 318.6 457.0)" fill="#2828ff"/>
<ellipse cx="325.7" cy="471.9" rx="2.0" ry="1.8" transform="rotate(32 325.7 471.9)" fill="#2828ff"/>
<ellipse cx="280.3" cy="442.3" rx="2.2" ry="2.2" transform="rotate(36 280.3 442.3)" fill="#2828ff"/>
<ellipse cx="291.5" cy="466.4" rx="2.2" ry="1.8" transform="rotate(156 291.5 466.4)" fill="#2828ff"/>
<ellipse cx="332.2" cy="471.9" rx="2.6" ry="2.2" transform="rotate(70 332.2 471.9)" fill="#1a1cd0"/>
<ellipse cx="294.0" cy="443.7" rx="2.6" ry="1.9" transform="rotate(62 294.0 443.7)" fill="#2828ff"/>
<ellipse cx="308.5" cy="437.1" rx="3.0" ry="2.4" transform="rotate(70 308.5 437.1)" fill="#1a1cd0"/>
<ellipse cx="279.1" cy="478.8" rx="2.2" ry="2.3" transform="rotate(122 279.1 478.8)" fill="#1a1cd0"/>
<ellipse cx="333.1" cy="466.4" rx="2.9" ry="2.0" transform="rotate(120 333.1 466.4)" fill="#2e34ff"/>
<ellipse cx="280.9" cy="438.9" rx="2.0" ry="1.9" transform="rotate(117 280.9 438.9)" fill="#2e34ff"/>
<ellipse cx="318.3" cy="442.7" rx="2.5" ry="1.8" transform="rotate(145 318.3 442.7)" fill="#1f22f0"/>
<ellipse cx="326.5" cy="473.5" rx="2.9" ry="1.7" transform="rotate(69 326.5 473.5)" fill="#1a1cd0"/>
<ellipse cx="284.6" cy="467.8" rx="2.8" ry="1.8" transform="rotate(84 284.6 467.8)" fill="#1f22f0"/>
<ellipse cx="329.4" cy="448.1" rx="2.4" ry="1.8" transform="rotate(117 329.4 448.1)" fill="#2e34ff"/>
<ellipse cx="330.1" cy="444.4" rx="2.2" ry="2.0" transform="rotate(142 330.1 444.4)" fill="#1f22f0"/>
<ellipse cx="306.5" cy="437.3" rx="2.4" ry="2.4" transform="rotate(116 306.5 437.3)" fill="#2e34ff"/>
<ellipse cx="327.5" cy="454.5" rx="2.9" ry="2.4" transform="rotate(56 327.5 454.5)" fill="#2828ff"/>
<ellipse cx="284.3" cy="464.2" rx="2.5" ry="2.2" transform="rotate(81 284.3 464.2)" fill="#2e34ff"/>
<ellipse cx="305.6" cy="441.9" rx="2.8" ry="1.8" transform="rotate(165 305.6 441.9)" fill="#2e34ff"/>
<ellipse cx="306.2" cy="441.9" rx="2.6" ry="2.4" transform="rotate(50 306.2 441.9)" fill="#2828ff"/>
<ellipse cx="295.1" cy="455.7" rx="2.5" ry="1.6" transform="rotate(106 295.1 455.7)" fill="#2828ff"/>
<ellipse cx="320.7" cy="452.1" rx="3.0" ry="2.2" transform="rotate(104 320.7 452.1)" fill="#2828ff"/>
<ellipse cx="277.7" cy="453.6" rx="2.3" ry="2.3" transform="rotate(146 277.7 453.6)" fill="#1a1cd0"/>
<ellipse cx="284.7" cy="478.7" rx="2.4" ry="2.2" transform="rotate(125 284.7 478.7)" fill="#1a1cd0"/>
<ellipse cx="293.3" cy="442.8" rx="2.9" ry="2.2" transform="rotate(152 293.3 442.8)" fill="#1f22f0"/>
<ellipse cx="274.0" cy="450.3" rx="2.8" ry="1.9" transform="rotate(25 274.0 450.3)" fill="#1f22f0"/>
<ellipse cx="296.3" cy="466.8" rx="2.5" ry="2.4" transform="rotate(162 296.3 466.8)" fill="#1a1cd0"/>
<ellipse cx="288.8" cy="456.1" rx="2.2" ry="1.8" transform="rotate(144 288.8 456.1)" fill="#2828ff"/>
<ellipse cx="297.9" cy="468.9" rx="2.3" ry="2.3" transform="rotate(133 297.9 468.9)" fill="#1a1cd0"/>
<ellipse cx="285.0" cy="437.4" rx="2.5" ry="2.0" transform="rotate(39 285.0 437.4)" fill="#2828ff"/>
<ellipse cx="305.9" cy="452.3" rx="2.7" ry="2.3" transform="rotate(94 305.9 452.3)" fill="#2828ff"/>
<ellipse cx="293.0" cy="445.6" rx="2.6" ry="1.7" transform="rotate(80 293.0 445.6)" fill="#2e34ff"/>
<ellipse cx="294.9" cy="474.6" rx="2.4" ry="1.8" transform="rotate(96 294.9 474.6)" fill="#1f22f0"/>
<ellipse cx="318.4" cy="453.4" rx="2.7" ry="2.4" transform="rotate(150 318.4 453.4)" fill="#2828ff"/>
<ellipse cx="331.8" cy="475.4" rx="2.7" ry="2.2" transform="rotate(134 331.8 475.4)" fill="#2e34ff"/>
<ellipse cx="308.4" cy="458.8" rx="2.0" ry="2.4" transform="rotate(12 308.4 458.8)" fill="#1f22f0"/>
<ellipse cx="303.0" cy="473.2" rx="2.8" ry="2.2" transform="rotate(68 303.0 473.2)" fill="#1a1cd0"/>
<ellipse cx="285.1" cy="448.5" rx="2.0" ry="1.9" transform="rotate(162 285.1 448.5)" fill="#2828ff"/>
<ellipse cx="276.5" cy="452.2" rx="2.4" ry="2.0" transform="rotate(92 276.5 452.2)" fill="#2828ff"/>
<ellipse cx="284.7" cy="465.9" rx="2.6" ry="1.6" transform="rotate(27 284.7 465.9)" fill="#1f22f0"/>
<ellipse cx="281.4" cy="482.4" rx="2.2" ry="1.9" transform="rotate(89 281.4 482.4)" fill="#1a1cd0"/>
<ellipse cx="313.2" cy="450.2" rx="2.5" ry="1.7" transform="rotate(60 313.2 450.2)" fill="#1a1cd0"/>
<ellipse cx="327.2" cy="463.0" rx="2.4" ry="2.3" transform="rotate(80 327.2 463.0)" fill="#2e34ff"/>
<ellipse cx="333.0" cy="458.3" rx="2.6" ry="2.3" transform="rotate(23 333.0 458.3)" fill="#1a1cd0"/>
</g><g filter="url(#gl)">
<ellipse cx="312.8" cy="447.3" rx="2.7" ry="2.2" transform="rotate(155 312.8 447.3)" fill="#ff2a6a"/>
<ellipse cx="313.6" cy="473.8" rx="3.4" ry="2.7" transform="rotate(13 313.6 473.8)" fill="#ff2a6a"/>
<ellipse cx="301.5" cy="444.4" rx="3.2" ry="2.6" transform="rotate(53 301.5 444.4)" fill="#ff2a6a"/>
<ellipse cx="302.7" cy="471.0" rx="3.1" ry="2.5" transform="rotate(75 302.7 471.0)" fill="#ff2a6a"/>
<ellipse cx="327.0" cy="441.3" rx="3.1" ry="2.5" transform="rotate(170 327.0 441.3)" fill="#ffe830"/>
<ellipse cx="290.0" cy="471.3" rx="3.3" ry="2.6" transform="rotate(26 290.0 471.3)" fill="#ffe830"/>
<ellipse cx="326.1" cy="458.7" rx="2.8" ry="2.2" transform="rotate(59 326.1 458.7)" fill="#ffe830"/>
<ellipse cx="282.4" cy="474.6" rx="2.8" ry="2.3" transform="rotate(106 282.4 474.6)" fill="#ffe830"/>
<ellipse cx="283.8" cy="456.6" rx="3.3" ry="2.6" transform="rotate(24 283.8 456.6)" fill="#ffe830"/>
<ellipse cx="301.6" cy="456.3" rx="3.1" ry="2.5" transform="rotate(118 301.6 456.3)" fill="#ffe830"/>
<ellipse cx="316.1" cy="460.2" rx="3.1" ry="2.5" transform="rotate(34 316.1 460.2)" fill="#ffe830"/>
<ellipse cx="290.2" cy="456.4" rx="3.5" ry="2.8" transform="rotate(17 290.2 456.4)" fill="#20e040"/>
</g></g>
<text x="275.70" y="446.20" font-size="7.8" fill="#fff" stroke="#fff" stroke-width="0.15"><tspan fill="#e8204c">M</tspan><tspan fill="#d0e060">e</tspan>rge</text>
<line x1="316.20" y1="470.60" x2="329.40" y2="470.60" stroke="#fff" stroke-width="1.2"/>
<text x="311.70" y="477.90" font-size="7.5" text-anchor="start" fill="#fff" stroke="#fff" stroke-width="0.18">20 μm</text>
<clipPath id="clip103"><rect x="10.6" y="501.2" width="99.1" height="131.5"/></clipPath>
<g clip-path="url(#clip103)">
<rect x="10.60" y="501.20" width="99.10" height="131.50" fill="#020204" stroke="none" stroke-width="1"/>
<g filter="url(#vb)">
<rect x="18.51" y="499.20" width="13.91" height="13.39" fill="#0c110c" stroke="none" stroke-width="1" fill-opacity="0.33"/>
<rect x="28.42" y="499.20" width="13.91" height="13.39" fill="#0c110c" stroke="none" stroke-width="1" fill-opacity="0.33"/>
<rect x="38.33" y="499.20" width="13.91" height="13.39" fill="#0c110c" stroke="none" stroke-width="1" fill-opacity="0.22"/>
<rect x="48.24" y="499.20" width="13.91" height="13.39" fill="#0c110c" stroke="none" stroke-width="1" fill-opacity="0.44"/>
<rect x="58.15" y="499.20" width="13.91" height="13.39" fill="#0c110c" stroke="none" stroke-width="1" fill-opacity="0.11"/>
<rect x="18.51" y="508.59" width="13.91" height="13.39" fill="#0c110c" stroke="none" stroke-width="1" fill-opacity="0.11"/>
<rect x="28.42" y="508.59" width="13.91" height="13.39" fill="#0c110c" stroke="none" stroke-width="1" fill-opacity="0.33"/>
<rect x="38.33" y="508.59" width="13.91" height="13.39" fill="#0c110c" stroke="none" stroke-width="1" fill-opacity="0.33"/>
<rect x="48.24" y="508.59" width="13.91" height="13.39" fill="#0c110c" stroke="none" stroke-width="1" fill-opacity="0.11"/>
<rect x="77.97" y="508.59" width="13.91" height="13.39" fill="#0c110c" stroke="none" stroke-width="1" fill-opacity="0.11"/>
<rect x="87.88" y="508.59" width="13.91" height="13.39" fill="#0c110c" stroke="none" stroke-width="1" fill-opacity="0.22"/>
<rect x="18.51" y="517.99" width="13.91" height="13.39" fill="#0c110c" stroke="none" stroke-width="1" fill-opacity="0.11"/>
<rect x="28.42" y="517.99" width="13.91" height="13.39" fill="#0c110c" stroke="none" stroke-width="1" fill-opacity="0.11"/>
<rect x="38.33" y="517.99" width="13.91" height="13.39" fill="#0c110c" stroke="none" stroke-width="1" fill-opacity="0.11"/>
<rect x="48.24" y="517.99" width="13.91" height="13.39" fill="#0c110c" stroke="none" stroke-width="1" fill-opacity="0.22"/>
<rect x="58.15" y="517.99" width="13.91" height="13.39" fill="#0c110c" stroke="none" stroke-width="1" fill-opacity="0.11"/>
<rect x="68.06" y="517.99" width="13.91" height="13.39" fill="#0c110c" stroke="none" stroke-width="1" fill-opacity="0.22"/>
<rect x="77.97" y="517.99" width="13.91" height="13.39" fill="#0c110c" stroke="none" stroke-width="1" fill-opacity="0.33"/>
<rect x="87.88" y="517.99" width="13.91" height="13.39" fill="#0c110c" stroke="none" stroke-width="1" fill-opacity="0.22"/>
<rect x="97.79" y="517.99" width="13.91" height="13.39" fill="#0c110c" stroke="none" stroke-width="1" fill-opacity="0.11"/>
<rect x="48.24" y="527.38" width="13.91" height="13.39" fill="#0c110c" stroke="none" stroke-width="1" fill-opacity="0.11"/>
<rect x="58.15" y="527.38" width="13.91" height="13.39" fill="#0c110c" stroke="none" stroke-width="1" fill-opacity="0.11"/>
<rect x="8.60" y="546.16" width="13.91" height="13.39" fill="#0c110c" stroke="none" stroke-width="1" fill-opacity="0.11"/>
<rect x="48.24" y="546.16" width="13.91" height="13.39" fill="#0c110c" stroke="none" stroke-width="1" fill-opacity="0.11"/>
<rect x="8.60" y="555.56" width="13.91" height="13.39" fill="#0c110c" stroke="none" stroke-width="1" fill-opacity="0.22"/>
<rect x="28.42" y="555.56" width="13.91" height="13.39" fill="#0c110c" stroke="none" stroke-width="1" fill-opacity="0.22"/>
<rect x="8.60" y="564.95" width="13.91" height="13.39" fill="#0c110c" stroke="none" stroke-width="1" fill-opacity="0.33"/>
<rect x="58.15" y="564.95" width="13.91" height="13.39" fill="#0c110c" stroke="none" stroke-width="1" fill-opacity="0.11"/>
<rect x="8.60" y="574.34" width="13.91" height="13.39" fill="#0c110c" stroke="none" stroke-width="1" fill-opacity="0.44"/>
<rect x="8.60" y="583.74" width="13.91" height="13.39" fill="#0c110c" stroke="none" stroke-width="1" fill-opacity="0.44"/>
<rect x="18.51" y="583.74" width="13.91" height="13.39" fill="#0c110c" stroke="none" stroke-width="1" fill-opacity="0.22"/>
<rect x="8.60" y="593.13" width="13.91" height="13.39" fill="#0c110c" stroke="none" stroke-width="1" fill-opacity="0.44"/>
<rect x="18.51" y="593.13" width="13.91" height="13.39" fill="#0c110c" stroke="none" stroke-width="1" fill-opacity="0.33"/>
<rect x="8.60" y="602.52" width="13.91" height="13.39" fill="#0c110c" stroke="none" stroke-width="1" fill-opacity="0.33"/>
<rect x="18.51" y="602.52" width="13.91" height="13.39" fill="#0c110c" stroke="none" stroke-width="1" fill-opacity="0.22"/>
<rect x="48.24" y="602.52" width="13.91" height="13.39" fill="#0c110c" stroke="none" stroke-width="1" fill-opacity="0.11"/>
<rect x="58.15" y="602.52" width="13.91" height="13.39" fill="#0c110c" stroke="none" stroke-width="1" fill-opacity="0.11"/>
<rect x="8.60" y="611.91" width="13.91" height="13.39" fill="#0c110c" stroke="none" stroke-width="1" fill-opacity="0.11"/>
<rect x="38.33" y="611.91" width="13.91" height="13.39" fill="#0c110c" stroke="none" stroke-width="1" fill-opacity="0.11"/>
<rect x="48.24" y="611.91" width="13.91" height="13.39" fill="#0c110c" stroke="none" stroke-width="1" fill-opacity="0.22"/>
<rect x="58.15" y="611.91" width="13.91" height="13.39" fill="#0c110c" stroke="none" stroke-width="1" fill-opacity="0.11"/>
<rect x="68.06" y="611.91" width="13.91" height="13.39" fill="#0c110c" stroke="none" stroke-width="1" fill-opacity="0.11"/>
<rect x="8.60" y="621.31" width="13.91" height="13.39" fill="#0c110c" stroke="none" stroke-width="1" fill-opacity="0.11"/>
<rect x="48.24" y="621.31" width="13.91" height="13.39" fill="#0c110c" stroke="none" stroke-width="1" fill-opacity="0.11"/>
<rect x="58.15" y="621.31" width="13.91" height="13.39" fill="#0c110c" stroke="none" stroke-width="1" fill-opacity="0.22"/>
<rect x="77.97" y="621.31" width="13.91" height="13.39" fill="#0c110c" stroke="none" stroke-width="1" fill-opacity="0.11"/>
</g>
<path d="M83.4 529.5h.01M75.4 561.8h.01M40.9 589.0h.01M80.7 550.7h.01M38.8 623.6h.01M50.5 606.6h.01M33.8 618.6h.01M74.3 554.6h.01M47.8 537.4h.01M19.6 501.9h.01M103.4 532.9h.01M24.2 571.2h.01M64.5 588.3h.01M35.3 528.1h.01M44.7 598.3h.01M64.1 566.6h.01M44.7 570.2h.01M104.5 619.5h.01M85.6 537.1h.01M48.3 590.3h.01M22.4 625.5h.01M35.3 542.5h.01M79.5 514.8h.01M107.8 522.9h.01M37.4 605.3h.01M44.1 607.1h.01M67.1 565.1h.01M100.7 601.4h.01M25.6 552.8h.01M29.6 590.6h.01M31.3 557.5h.01M39.2 607.2h.01M67.2 518.8h.01M49.0 527.5h.01M89.2 503.8h.01M60.6 600.4h.01M102.1 598.4h.01M104.5 626.1h.01M105.0 580.4h.01M39.8 528.7h.01M107.5 624.3h.01M81.2 552.2h.01M85.5 558.5h.01M33.5 584.5h.01M36.1 575.2h.01M27.8 562.5h.01M31.8 619.6h.01M94.7 606.8h.01M91.3 603.8h.01M101.1 578.1h.01M62.9 614.4h.01M89.5 576.1h.01M102.4 523.1h.01M25.0 535.5h.01M80.5 549.8h.01M20.0 596.5h.01M45.9 529.5h.01M54.0 545.3h.01M55.8 593.6h.01M80.5 624.0h.01M98.0 535.2h.01M98.1 593.6h.01M68.3 587.7h.01M92.8 586.5h.01M30.2 585.5h.01M29.6 629.3h.01M23.4 504.7h.01M81.4 569.7h.01M24.7 526.6h.01M82.9 516.8h.01M25.9 592.5h.01M55.5 594.3h.01M47.3 542.1h.01M80.3 577.6h.01M81.0 569.8h.01M46.1 567.6h.01M16.3 628.5h.01M89.5 503.7h.01M51.0 534.7h.01M28.2 526.8h.01M90.5 572.7h.01M43.3 597.0h.01M62.2 567.8h.01M107.1 520.8h.01M106.5 622.1h.01M51.0 542.6h.01M69.4 578.7h.01M106.2 503.6h.01M61.9 543.7h.01M39.7 532.4h.01M74.5 589.7h.01M106.0 541.7h.01M70.9 606.8h.01M73.5 609.8h.01M75.5 577.6h.01M29.8 519.1h.01M12.4 566.2h.01M95.4 584.7h.01M41.8 543.1h.01M71.7 528.3h.01M108.1 563.5h.01M103.2 555.0h.01M47.7 596.2h.01M89.5 589.2h.01M85.6 555.8h.01M62.0 531.9h.01M38.7 536.3h.01M109.5 605.7h.01M81.8 620.4h.01M22.1 516.1h.01M84.1 542.2h.01M25.6 526.6h.01M42.3 592.2h.01M34.6 557.1h.01M48.1 522.5h.01M44.8 605.2h.01M47.1 542.6h.01M92.9 596.2h.01M42.9 600.7h.01M102.5 626.5h.01M55.4 606.5h.01M82.4 507.0h.01M50.4 579.5h.01M91.2 503.2h.01M69.3 553.9h.01M71.7 513.2h.01M90.5 599.6h.01M103.5 518.4h.01M27.1 612.0h.01M69.8 584.3h.01M96.5 616.9h.01M89.4 566.6h.01M82.2 577.4h.01M30.1 546.6h.01M71.0 564.6h.01M77.6 572.3h.01M95.7 564.0h.01M107.3 513.1h.01M76.4 504.1h.01M100.5 604.6h.01M78.9 625.5h.01M18.9 544.1h.01M107.7 567.8h.01M70.2 613.9h.01M20.5 527.3h.01M38.7 556.6h.01M26.7 579.2h.01M106.6 563.6h.01M83.4 546.0h.01M36.0 554.8h.01M69.5 519.1h.01M96.6 562.3h.01M72.7 604.0h.01M31.7 586.2h.01M31.4 626.5h.01M33.0 628.8h.01M79.1 602.5h.01M51.9 564.7h.01M44.4 581.0h.01M81.8 549.8h.01M17.8 539.7h.01M98.4 617.2h.01M33.0 625.2h.01M42.1 629.8h.01M58.0 630.0h.01M27.8 567.4h.01M84.8 623.1h.01M12.7 528.5h.01M66.5 592.8h.01M95.5 547.9h.01M105.6 548.4h.01M97.0 611.7h.01M89.8 552.0h.01M71.6 630.5h.01M103.4 610.0h.01M75.3 583.0h.01M104.8 505.1h.01M50.0 548.1h.01M47.1 573.0h.01M20.4 545.4h.01M83.1 600.8h.01M102.5 630.9h.01M93.8 580.7h.01M24.5 617.0h.01M17.3 510.8h.01M54.0 534.3h.01M19.0 512.0h.01M108.2 573.1h.01M46.7 570.3h.01" stroke="#1c1cf5" stroke-width="1.95" stroke-linecap="round" fill="none"/>
<path d="M79.1 581.0h.01M101.8 610.5h.01M24.8 545.7h.01M58.7 579.5h.01M99.8 628.5h.01M26.2 537.0h.01M62.5 553.8h.01M41.1 572.6h.01M42.5 533.6h.01M87.5 611.2h.01M12.2 622.5h.01M78.6 599.5h.01M58.1 603.6h.01M105.7 589.8h.01M24.0 555.6h.01M39.4 577.5h.01M44.5 563.2h.01M32.0 623.3h.01M13.2 521.9h.01M51.4 564.4h.01M24.5 567.8h.01M89.6 543.1h.01M22.2 614.6h.01M23.7 595.1h.01M94.3 594.6h.01M23.7 568.3h.01M55.0 630.2h.01M101.5 560.9h.01M76.9 585.9h.01M24.8 549.6h.01M13.4 507.3h.01M13.4 504.9h.01M38.7 619.8h.01M84.3 572.0h.01M85.2 560.5h.01M35.6 601.2h.01M109.4 528.7h.01M89.4 560.3h.01M88.3 580.3h.01M64.5 583.6h.01M49.3 628.0h.01M23.8 513.9h.01M18.2 513.3h.01M31.6 624.9h.01M97.7 581.1h.01M43.4 574.7h.01M27.9 502.7h.01M31.5 545.3h.01M11.6 513.3h.01M24.7 577.1h.01M98.7 533.0h.01M36.6 589.3h.01M82.9 585.7h.01M26.2 582.2h.01M22.5 553.7h.01M36.8 598.4h.01M18.2 549.1h.01M29.1 575.9h.01M88.3 552.4h.01M104.2 505.3h.01M60.2 544.3h.01M33.1 579.8h.01M11.8 563.8h.01M80.9 575.4h.01M56.9 514.5h.01M55.0 554.7h.01M72.5 540.7h.01M88.0 632.0h.01M36.9 582.4h.01M85.6 620.9h.01M60.4 591.5h.01M29.5 620.5h.01M34.4 584.4h.01M99.3 583.1h.01M46.3 537.7h.01M101.9 501.2h.01M24.8 623.4h.01M72.8 508.6h.01M94.4 555.1h.01M31.6 576.1h.01M21.9 553.1h.01M26.7 541.6h.01M98.6 618.8h.01M48.3 609.0h.01M76.1 535.9h.01M88.5 582.8h.01M98.7 506.6h.01M67.8 603.6h.01M31.9 555.5h.01M73.9 572.2h.01M79.7 514.4h.01M28.2 555.8h.01M108.9 601.8h.01M103.4 618.4h.01M108.1 533.7h.01M39.9 604.0h.01M20.7 536.5h.01M104.8 558.6h.01M69.0 556.8h.01M26.4 596.3h.01M45.0 591.0h.01M66.9 525.3h.01M106.9 515.1h.01M38.3 613.1h.01M48.9 618.4h.01M41.8 574.4h.01M95.6 566.7h.01M49.7 537.3h.01M47.6 574.0h.01M90.3 589.4h.01M28.5 599.2h.01M48.1 535.7h.01M92.8 556.9h.01M38.9 597.2h.01M107.1 560.6h.01M63.9 579.1h.01M78.1 562.1h.01M17.3 538.4h.01M18.2 507.9h.01M67.6 573.4h.01M29.8 535.7h.01M44.4 548.4h.01M57.7 541.8h.01M44.2 628.4h.01M52.5 583.9h.01M12.8 505.2h.01M70.6 603.3h.01M36.3 626.8h.01M39.3 576.4h.01M58.9 617.6h.01M108.3 511.4h.01M102.9 581.8h.01M69.7 564.6h.01M93.3 596.4h.01M16.4 515.3h.01M61.9 518.6h.01M59.5 543.9h.01M39.9 625.7h.01M86.9 504.7h.01M44.5 592.0h.01M33.8 570.2h.01M25.9 560.1h.01M57.9 582.9h.01M99.4 574.3h.01M77.9 573.7h.01M86.1 578.5h.01M67.0 546.6h.01M16.8 523.7h.01M35.4 606.8h.01M105.5 560.5h.01M106.5 604.7h.01M49.2 623.9h.01M76.1 625.4h.01M108.9 520.3h.01M13.3 521.4h.01M100.2 611.7h.01M55.9 621.5h.01M70.3 592.9h.01M104.0 598.6h.01M18.0 502.7h.01M84.9 609.0h.01M37.5 624.8h.01M47.1 540.3h.01M44.6 595.9h.01M31.1 552.9h.01M37.8 531.1h.01M17.4 555.9h.01M31.0 534.6h.01M97.3 562.3h.01M25.7 550.6h.01M41.3 566.3h.01M29.7 546.0h.01M87.5 565.3h.01M26.7 524.5h.01M19.9 513.1h.01M18.7 592.3h.01" stroke="#2c34ff" stroke-width="1.95" stroke-linecap="round" fill="none"/>
<path d="M95.9 577.6h.01M87.0 582.4h.01M28.6 549.0h.01M64.4 582.1h.01M76.0 565.1h.01M107.9 585.0h.01M22.1 581.1h.01M101.2 566.3h.01M46.5 612.0h.01M40.6 544.1h.01M38.4 591.2h.01M104.5 533.8h.01M86.7 534.4h.01M65.3 547.6h.01M44.4 574.9h.01M96.3 502.0h.01M39.0 623.9h.01M104.6 585.5h.01M87.2 509.3h.01M73.8 514.2h.01M14.6 517.4h.01M27.8 567.4h.01M78.2 583.4h.01M39.8 540.5h.01M35.0 556.8h.01M37.1 541.1h.01M78.8 539.5h.01M96.9 506.1h.01M52.4 555.2h.01M49.8 595.6h.01M43.8 612.7h.01M98.2 560.8h.01M107.3 607.5h.01M91.6 507.4h.01M41.7 570.8h.01M37.8 577.7h.01M97.2 605.2h.01M41.9 564.1h.01M26.7 545.3h.01M92.4 513.1h.01M32.4 582.6h.01M91.6 609.7h.01M23.4 544.8h.01M73.1 572.4h.01M69.6 540.8h.01M68.5 512.2h.01M89.6 574.1h.01M22.8 520.6h.01M92.8 570.4h.01M34.6 579.4h.01M56.8 606.3h.01M32.3 525.9h.01M106.2 506.9h.01M87.4 569.1h.01M75.7 583.6h.01M106.1 592.1h.01M95.2 501.9h.01M41.6 600.1h.01M36.1 577.9h.01M83.5 578.9h.01M20.8 545.5h.01M101.5 537.3h.01M13.5 539.2h.01M96.9 559.2h.01M34.2 520.5h.01M84.8 610.3h.01M107.4 601.0h.01M53.5 593.7h.01M46.9 550.1h.01M55.8 576.1h.01M29.4 535.2h.01M23.5 559.4h.01M73.4 514.6h.01M96.2 557.2h.01M25.3 601.4h.01M98.0 618.6h.01M91.9 580.1h.01M85.8 574.5h.01M85.2 630.5h.01M35.6 603.0h.01M107.3 515.6h.01M13.7 600.2h.01M28.5 535.2h.01M88.3 580.2h.01M87.6 535.2h.01M76.4 612.9h.01M94.8 615.8h.01M103.4 505.2h.01M34.9 622.8h.01M97.9 504.1h.01M22.5 587.5h.01M90.1 618.8h.01M73.2 530.0h.01M43.6 588.8h.01M69.7 538.5h.01M34.0 552.4h.01M102.6 564.4h.01M93.5 594.3h.01M48.0 540.7h.01M95.0 632.1h.01M86.5 544.7h.01M53.4 569.5h.01M73.3 543.6h.01M78.7 617.8h.01M92.7 581.8h.01M35.3 599.3h.01M43.7 569.3h.01M108.5 580.2h.01M10.8 509.1h.01M101.5 527.4h.01M53.6 602.8h.01M24.0 533.7h.01M30.3 540.7h.01M41.3 554.5h.01M65.9 629.2h.01M104.9 525.8h.01M16.2 544.9h.01M27.7 631.1h.01M104.6 572.3h.01M72.9 573.7h.01M95.1 555.1h.01M109.5 521.5h.01M49.0 600.2h.01M100.1 560.8h.01M32.7 613.5h.01M44.9 625.1h.01M38.8 581.7h.01M68.1 551.6h.01M89.2 554.8h.01M94.0 610.0h.01M24.5 525.1h.01M88.0 602.6h.01M12.3 566.0h.01M85.1 538.5h.01M107.9 541.8h.01M107.5 532.6h.01M83.4 570.9h.01M40.1 575.6h.01M48.9 560.9h.01M103.3 562.1h.01M108.6 558.7h.01M90.3 506.5h.01M78.0 554.5h.01M55.6 555.9h.01M81.6 516.4h.01M72.0 564.2h.01M64.9 597.8h.01M13.2 537.2h.01M105.8 631.7h.01M30.0 555.1h.01M18.2 527.7h.01M81.1 595.0h.01M29.2 530.6h.01M27.3 550.5h.01M106.0 626.4h.01M36.1 563.7h.01M72.0 578.8h.01M98.6 540.6h.01M14.5 531.0h.01M45.5 536.7h.01M96.3 625.1h.01M108.6 565.4h.01M108.8 603.7h.01M84.0 502.2h.01M54.6 564.1h.01M92.4 596.2h.01M104.0 580.6h.01M54.9 575.1h.01M46.9 504.7h.01M76.0 570.9h.01M22.3 586.5h.01M62.7 569.2h.01M50.3 585.0h.01M36.8 552.4h.01M59.2 587.1h.01M96.6 590.5h.01M51.6 552.5h.01M71.6 615.3h.01M82.0 555.1h.01M57.6 561.7h.01M39.6 531.7h.01M24.7 627.3h.01M77.4 580.9h.01M40.2 552.7h.01M63.2 603.7h.01M45.2 607.7h.01M100.6 582.5h.01M22.4 502.4h.01M79.7 561.1h.01M81.9 601.7h.01M98.1 580.6h.01M94.5 607.2h.01M36.9 602.1h.01M86.1 547.6h.01M68.6 584.0h.01M36.0 614.6h.01M32.1 528.3h.01M96.6 502.2h.01M107.1 552.4h.01M88.2 504.7h.01M107.9 566.1h.01M46.3 591.5h.01M44.3 573.5h.01M101.0 620.9h.01M34.0 538.0h.01M71.6 578.6h.01M94.5 561.5h.01M44.5 551.8h.01M34.9 614.6h.01M59.5 627.5h.01M23.4 507.4h.01M43.0 576.8h.01M16.6 502.5h.01M97.1 510.1h.01M99.2 501.5h.01" stroke="#1616b0" stroke-width="1.35" stroke-linecap="round" fill="none"/>
<path d="M32.3 592.4h.01M43.4 574.1h.01M73.8 588.2h.01M19.6 539.8h.01M87.1 514.6h.01M109.5 526.5h.01M81.8 534.9h.01M35.8 535.0h.01M43.9 581.3h.01M44.9 532.6h.01M65.2 583.0h.01M34.9 587.3h.01M91.8 594.1h.01M33.0 549.8h.01M45.6 604.5h.01M69.8 585.1h.01M101.5 580.5h.01M35.3 532.0h.01M35.7 618.7h.01M65.3 593.8h.01M65.7 620.1h.01M12.6 618.5h.01M108.8 597.0h.01M109.6 502.9h.01M104.9 542.9h.01M16.9 552.7h.01M43.3 524.3h.01M21.7 557.8h.01M106.6 610.8h.01M76.7 631.5h.01M94.9 544.4h.01M32.8 607.5h.01M28.1 566.6h.01M98.3 627.5h.01M31.3 577.1h.01M85.6 524.3h.01M109.4 604.0h.01M77.2 608.7h.01M60.9 597.5h.01M82.8 542.4h.01M55.2 603.0h.01M91.3 630.7h.01M76.3 519.0h.01M30.3 528.8h.01M48.6 577.1h.01M31.1 586.2h.01M106.8 508.2h.01M103.2 617.3h.01M87.4 525.7h.01M26.0 516.5h.01M49.2 590.5h.01M105.9 604.3h.01M16.9 533.9h.01M42.8 579.5h.01M69.0 518.8h.01M39.9 582.3h.01M109.3 502.7h.01M82.0 511.1h.01M42.3 586.3h.01M92.2 542.7h.01M107.5 556.4h.01M29.9 624.7h.01M30.4 546.7h.01M95.7 504.1h.01M42.2 612.1h.01M76.8 571.2h.01M24.9 527.7h.01M20.8 553.4h.01M17.6 540.8h.01M94.5 535.6h.01M28.6 527.7h.01M20.9 516.1h.01M16.6 527.3h.01M79.7 551.4h.01M96.1 543.5h.01M85.6 513.9h.01M87.4 508.1h.01M91.4 546.9h.01M53.4 565.2h.01M39.1 538.1h.01M82.0 548.7h.01M49.7 608.7h.01M37.9 556.1h.01M87.5 580.8h.01M20.9 626.6h.01M84.2 565.5h.01M89.6 547.3h.01M66.7 561.2h.01M41.0 581.6h.01M100.7 560.9h.01M31.9 546.2h.01M46.5 573.8h.01M32.0 523.6h.01M12.4 555.7h.01M76.2 534.6h.01M24.0 586.1h.01M11.4 525.6h.01M92.4 584.1h.01M36.8 533.2h.01M83.9 510.5h.01M50.2 583.0h.01M104.2 562.3h.01M50.8 615.8h.01M69.4 575.7h.01M100.8 552.6h.01M102.3 581.9h.01M84.7 585.5h.01M40.3 546.7h.01M102.2 512.8h.01M28.6 523.7h.01M78.8 550.7h.01M30.4 594.6h.01M70.3 606.1h.01M103.4 505.7h.01M69.9 594.7h.01M66.4 524.0h.01M76.2 612.2h.01M43.0 541.7h.01M23.6 577.4h.01M103.3 601.1h.01M45.4 592.1h.01M65.1 587.4h.01M41.6 587.5h.01M38.6 571.7h.01M93.3 582.7h.01M65.1 585.9h.01M100.2 566.1h.01M46.1 591.8h.01M70.8 538.2h.01M77.4 625.7h.01M84.8 516.9h.01M86.1 610.9h.01M36.9 592.4h.01M66.6 507.5h.01M107.9 585.6h.01M14.9 546.3h.01M48.8 595.8h.01M24.5 605.5h.01M56.2 599.6h.01M60.5 617.9h.01M70.3 568.3h.01M22.9 547.8h.01M43.8 536.3h.01M58.7 613.8h.01M75.4 565.8h.01M45.1 569.1h.01M85.4 506.7h.01M43.6 525.0h.01M49.8 571.6h.01M45.9 579.0h.01M73.0 609.2h.01M21.5 554.0h.01M34.0 627.0h.01M93.4 502.6h.01M29.4 628.9h.01M24.1 528.0h.01M87.7 543.0h.01M91.4 621.6h.01M59.5 537.6h.01M106.9 620.2h.01M32.7 566.7h.01M58.6 605.5h.01M65.1 570.3h.01M56.1 591.8h.01M15.3 516.0h.01M87.0 513.1h.01M43.2 572.5h.01M66.1 598.6h.01M63.7 583.9h.01M39.6 577.7h.01M86.0 514.6h.01M103.2 504.5h.01M90.7 622.1h.01M22.1 557.3h.01M54.6 610.5h.01M60.9 517.8h.01M102.5 564.2h.01M98.4 597.7h.01M82.9 570.2h.01M70.3 546.8h.01M105.6 515.2h.01M42.3 524.7h.01M71.2 539.2h.01M94.9 557.1h.01" stroke="#1a1ad0" stroke-width="1.65" stroke-linecap="round" fill="none"/>
<path d="M100.5 600.8h.01M88.0 589.3h.01M26.3 593.9h.01M24.1 544.2h.01M82.3 574.6h.01M28.1 626.0h.01M76.2 592.2h.01M105.7 587.0h.01M46.0 573.2h.01M49.0 627.9h.01M52.2 538.4h.01M27.6 548.2h.01M98.0 616.3h.01M53.4 560.9h.01M65.7 531.0h.01M104.3 611.8h.01M31.1 587.3h.01M37.8 521.6h.01M101.2 606.4h.01M83.2 539.8h.01M97.8 527.8h.01M103.4 626.0h.01M40.2 531.2h.01M72.9 541.1h.01M98.0 614.9h.01M99.5 556.7h.01M103.9 625.0h.01M97.3 515.1h.01M97.8 583.3h.01M95.8 566.1h.01M72.1 503.9h.01M99.3 597.4h.01M77.6 555.3h.01M29.4 624.4h.01M58.0 573.4h.01M18.7 626.9h.01M67.4 607.8h.01M100.4 592.0h.01M46.0 574.8h.01M85.4 604.2h.01M97.0 540.2h.01M28.6 594.8h.01M41.5 533.6h.01M86.1 594.2h.01M19.1 571.9h.01M43.3 567.5h.01M31.2 577.0h.01M58.2 608.6h.01M34.2 559.6h.01M15.2 614.5h.01M97.0 607.9h.01M46.6 537.0h.01M60.3 522.5h.01M24.4 622.2h.01M34.4 564.7h.01M83.3 600.6h.01M79.4 528.9h.01M104.6 565.0h.01M22.1 625.0h.01M74.0 530.9h.01M98.9 579.8h.01M53.2 560.2h.01M107.6 572.5h.01M22.7 606.1h.01M11.6 511.0h.01M42.0 544.2h.01M21.1 584.4h.01M100.0 570.1h.01M50.7 620.1h.01M45.2 521.1h.01M50.5 517.8h.01M22.6 573.6h.01M47.4 599.9h.01M31.4 572.0h.01M95.1 618.7h.01M27.4 537.5h.01M43.2 592.9h.01M89.6 543.2h.01M39.0 607.1h.01M78.1 570.6h.01M58.2 540.7h.01M60.3 594.2h.01M10.8 541.0h.01M63.6 503.3h.01M39.3 623.9h.01M96.7 588.4h.01M21.2 534.6h.01M33.9 535.1h.01M108.0 625.0h.01M99.6 619.3h.01M44.1 605.2h.01M64.5 595.6h.01M74.7 576.0h.01M74.7 551.8h.01M25.0 613.5h.01M52.1 604.6h.01M106.1 531.4h.01M86.3 544.6h.01M42.3 605.3h.01M42.1 535.0h.01M57.9 577.1h.01M39.0 536.7h.01M59.7 566.4h.01M15.8 625.5h.01M38.3 615.7h.01M43.3 585.3h.01M59.8 603.4h.01M40.6 570.5h.01M61.2 611.5h.01M27.9 520.7h.01M93.8 501.4h.01M24.6 518.8h.01M88.7 600.6h.01M93.0 577.5h.01M20.6 509.2h.01M41.7 623.8h.01M91.9 612.5h.01M12.3 520.0h.01M107.7 594.2h.01M109.0 624.4h.01M23.9 617.1h.01M79.2 571.8h.01M50.9 612.9h.01M76.3 607.4h.01M12.7 529.7h.01M19.0 515.2h.01M101.0 579.4h.01M94.5 512.6h.01M100.0 503.0h.01M27.7 579.9h.01M70.8 613.9h.01M96.5 583.7h.01M103.0 529.2h.01M46.5 535.0h.01M15.9 544.0h.01M80.1 606.5h.01M10.8 523.5h.01M41.7 532.7h.01M24.5 582.2h.01M20.4 525.4h.01M60.6 597.6h.01M40.8 560.4h.01M17.0 541.6h.01M102.6 513.2h.01M76.7 542.0h.01M102.1 607.0h.01M73.8 503.5h.01M55.9 559.6h.01M87.1 592.9h.01M44.1 630.0h.01M68.0 574.9h.01M69.8 573.4h.01M89.0 509.7h.01M33.7 525.2h.01M47.9 537.7h.01M35.7 584.5h.01M103.5 533.3h.01M48.2 564.3h.01M22.7 537.8h.01M90.5 604.5h.01M85.0 575.0h.01M97.8 536.9h.01M60.3 509.8h.01M67.6 594.3h.01M108.9 598.3h.01M48.8 543.1h.01M29.2 536.1h.01M81.4 584.8h.01M47.5 507.5h.01M32.4 539.9h.01M48.1 601.0h.01M35.9 621.6h.01M83.7 572.4h.01M62.8 619.4h.01M103.8 549.1h.01M107.9 600.9h.01M64.8 615.1h.01M75.1 518.5h.01M18.9 545.7h.01M108.7 502.4h.01" stroke="#1616b0" stroke-width="1.65" stroke-linecap="round" fill="none"/>
<path d="M29.7 570.0h.01M82.7 563.5h.01M89.3 591.4h.01M42.2 523.5h.01M79.9 610.0h.01M99.7 531.2h.01M57.8 517.9h.01M55.9 547.3h.01M86.7 554.2h.01M95.0 572.1h.01M76.2 591.2h.01M63.9 629.7h.01M94.1 613.4h.01M69.7 517.1h.01M86.4 504.7h.01M28.9 570.2h.01M54.0 510.6h.01M71.7 554.0h.01M61.4 618.5h.01M26.0 574.9h.01M78.0 569.0h.01M60.5 564.0h.01M25.9 579.0h.01M94.0 612.8h.01M53.9 572.9h.01M14.8 517.3h.01M45.4 599.7h.01M70.2 566.6h.01M80.9 579.1h.01M96.2 584.8h.01M78.3 598.2h.01M73.0 631.0h.01M27.2 581.8h.01M106.0 586.1h.01M21.7 521.7h.01M84.0 582.7h.01M37.0 582.1h.01M88.6 550.1h.01M106.3 577.1h.01M55.1 589.4h.01M37.9 545.7h.01M44.5 609.6h.01M41.9 557.4h.01M71.1 564.8h.01M26.0 516.3h.01M85.8 598.8h.01M23.7 513.5h.01M94.5 593.5h.01M107.9 559.4h.01M57.9 563.9h.01M27.7 549.5h.01M65.4 517.0h.01M64.2 555.8h.01M42.9 568.5h.01M89.8 505.5h.01M103.6 609.3h.01M50.5 541.5h.01M53.9 591.7h.01M64.3 631.3h.01M75.6 598.3h.01M87.2 595.3h.01M104.6 614.3h.01M72.6 605.9h.01M64.0 542.2h.01M103.9 558.8h.01M34.3 575.4h.01M36.9 629.2h.01M100.1 591.7h.01M57.4 542.5h.01M59.7 558.5h.01M102.9 622.8h.01M39.5 527.8h.01M19.6 534.4h.01M11.0 553.0h.01M49.6 627.2h.01M65.3 520.7h.01M39.7 512.5h.01M55.4 606.1h.01M36.8 612.0h.01M56.9 537.4h.01M36.8 590.1h.01M56.8 538.6h.01M51.3 601.0h.01M103.4 508.8h.01M28.5 568.9h.01M34.9 578.4h.01M82.1 501.9h.01M105.6 528.2h.01M61.1 515.7h.01M40.2 567.5h.01M101.0 541.5h.01M94.8 547.8h.01M98.3 557.8h.01M81.1 619.0h.01M67.6 588.7h.01M16.1 615.3h.01M77.9 563.7h.01M75.2 542.7h.01M52.4 598.2h.01M50.6 611.9h.01M88.9 616.6h.01M70.8 600.9h.01M42.8 585.7h.01M107.1 502.3h.01M95.9 575.5h.01M34.5 604.0h.01M31.1 594.5h.01M26.2 618.7h.01M40.0 545.9h.01M52.8 630.0h.01M107.0 619.6h.01M59.8 604.1h.01M105.0 565.5h.01M97.9 618.5h.01M26.4 539.9h.01M74.1 564.3h.01M76.9 586.7h.01M12.0 551.6h.01M30.1 538.9h.01M82.0 591.5h.01M46.1 578.8h.01M52.3 581.2h.01M108.8 597.7h.01M38.3 556.5h.01M93.2 557.1h.01M79.3 519.3h.01M91.2 592.1h.01M95.6 546.4h.01M12.3 614.4h.01M16.2 531.6h.01M42.3 617.0h.01M48.2 595.5h.01M96.2 570.8h.01M107.9 571.6h.01M37.3 602.7h.01M22.7 529.4h.01M101.8 573.5h.01M45.6 528.9h.01M75.8 574.5h.01M33.3 568.3h.01M91.2 577.4h.01M59.3 573.0h.01M17.2 513.6h.01M96.3 552.2h.01M87.8 603.3h.01M71.5 565.5h.01M99.8 609.4h.01M55.9 533.4h.01M71.7 548.7h.01M58.3 588.3h.01M83.1 558.7h.01M60.7 584.9h.01M72.0 528.5h.01M68.9 587.9h.01M24.4 573.8h.01M36.6 550.8h.01M98.5 608.6h.01M79.4 584.8h.01M87.1 557.5h.01M74.4 616.0h.01M89.0 575.3h.01M67.0 599.7h.01M47.0 537.3h.01M109.3 594.4h.01M60.1 590.7h.01M102.0 573.4h.01M59.1 570.7h.01M109.5 587.1h.01M22.8 553.2h.01M49.3 578.9h.01M105.9 586.6h.01M12.8 506.4h.01M58.2 566.9h.01M39.7 575.0h.01M86.6 620.5h.01M102.8 590.0h.01M55.8 558.3h.01M103.5 562.6h.01M14.3 517.9h.01M27.7 516.8h.01M60.4 539.2h.01M69.1 588.2h.01M31.3 595.8h.01M65.3 602.4h.01M64.4 501.4h.01M32.9 572.7h.01M27.0 555.0h.01M79.2 542.5h.01M55.7 566.1h.01M13.2 542.3h.01M84.9 535.6h.01M106.0 584.1h.01" stroke="#2626ff" stroke-width="1.35" stroke-linecap="round" fill="none"/>
<path d="M52.2 534.4h.01M57.3 519.4h.01M24.9 616.7h.01M38.2 579.7h.01M57.7 590.9h.01M38.5 537.7h.01M74.5 621.4h.01M104.2 560.4h.01M73.6 607.1h.01M83.2 532.0h.01M107.2 510.2h.01M74.3 631.3h.01M108.1 632.0h.01M51.4 597.6h.01M85.9 551.5h.01M104.0 607.9h.01M69.6 549.0h.01M87.9 523.0h.01M93.1 608.5h.01M109.5 587.9h.01M70.0 592.2h.01M107.1 574.3h.01M76.6 538.2h.01M102.0 583.3h.01M96.9 599.1h.01M107.6 607.5h.01M83.9 527.1h.01M52.8 606.3h.01M38.3 570.6h.01M49.3 544.7h.01M76.4 535.9h.01M53.3 551.0h.01M28.1 623.8h.01M88.8 517.8h.01M22.9 551.9h.01M86.4 606.3h.01M49.8 607.5h.01M75.6 505.6h.01M55.1 565.7h.01M109.0 604.6h.01M58.0 532.2h.01M66.6 530.3h.01M38.2 525.2h.01M10.8 623.0h.01M54.5 628.2h.01M75.1 539.0h.01M98.1 618.7h.01M98.3 598.1h.01M47.7 631.9h.01M54.9 591.6h.01M57.1 546.8h.01M97.9 606.8h.01M70.7 584.4h.01M28.2 552.3h.01M85.9 506.9h.01M23.3 539.8h.01M98.4 543.4h.01M66.5 554.6h.01M96.8 531.2h.01M87.5 577.0h.01M96.2 570.5h.01M49.4 562.6h.01M107.0 570.8h.01M89.2 517.3h.01M102.4 515.6h.01M71.4 565.4h.01M78.2 606.6h.01M51.2 610.3h.01M76.3 526.3h.01M44.4 597.0h.01M18.9 549.6h.01M107.7 550.7h.01M34.0 521.0h.01M87.0 618.0h.01M102.2 585.4h.01M28.7 631.7h.01M103.5 546.2h.01M41.8 543.6h.01M85.1 560.7h.01M48.9 610.0h.01M11.9 521.8h.01M75.1 565.3h.01M11.7 540.7h.01M17.1 622.7h.01M106.6 572.7h.01M103.9 564.1h.01M52.2 619.2h.01M78.5 571.1h.01M49.6 546.8h.01M50.0 579.6h.01M89.6 585.7h.01M73.1 550.8h.01M59.9 599.4h.01M30.0 618.7h.01M40.0 571.2h.01M83.9 571.8h.01M48.0 630.9h.01M32.9 600.0h.01M73.7 544.2h.01M42.6 548.1h.01M96.7 563.3h.01M38.5 538.0h.01M42.0 532.8h.01M101.6 553.1h.01M24.8 592.0h.01M63.6 582.2h.01M43.4 544.6h.01M94.5 628.5h.01M11.0 630.0h.01M86.3 576.5h.01M16.3 531.2h.01M37.7 616.6h.01M40.1 611.3h.01M22.7 552.4h.01M85.6 540.0h.01M104.1 588.5h.01M28.3 556.3h.01M32.7 549.3h.01M77.9 601.1h.01M107.1 524.7h.01M36.5 610.3h.01M107.7 603.8h.01M36.0 625.4h.01M103.1 571.4h.01M29.2 568.5h.01M32.5 622.0h.01M73.0 579.4h.01M24.7 589.2h.01M104.2 607.5h.01M100.5 541.9h.01M108.1 528.9h.01M75.8 596.3h.01M72.6 557.2h.01M31.8 516.5h.01M104.9 521.0h.01M11.6 538.0h.01M93.1 570.2h.01M29.0 600.5h.01M96.9 560.3h.01M39.2 592.0h.01M44.8 505.1h.01M92.4 614.4h.01M68.4 544.9h.01M97.4 610.8h.01M38.6 583.0h.01M48.8 589.1h.01M77.7 591.0h.01M77.8 575.1h.01M95.2 507.9h.01M99.2 551.1h.01M39.9 573.2h.01M89.6 501.7h.01M77.6 581.0h.01M103.8 563.9h.01M20.1 630.4h.01M70.3 513.0h.01M64.6 589.8h.01M55.4 588.0h.01M26.4 578.0h.01M36.4 619.6h.01M64.2 520.5h.01M103.9 553.1h.01M100.8 558.4h.01M19.7 620.8h.01M10.8 627.6h.01M38.2 587.1h.01M97.0 583.4h.01" stroke="#1c1cf5" stroke-width="1.65" stroke-linecap="round" fill="none"/>
<path d="M80.8 539.6h.01M104.1 515.3h.01M44.3 605.7h.01M91.0 576.0h.01M23.7 509.2h.01M79.9 621.7h.01M93.2 584.5h.01M109.1 593.9h.01M44.6 604.8h.01M36.8 597.0h.01M59.5 578.6h.01M92.1 506.5h.01M40.4 558.4h.01M16.9 548.8h.01M44.4 608.7h.01M66.6 519.9h.01M99.7 513.6h.01M41.9 557.8h.01M106.8 528.8h.01M107.2 627.2h.01M79.5 592.7h.01M82.1 555.5h.01M62.7 511.0h.01M54.5 594.6h.01M69.2 543.7h.01M58.3 558.3h.01M31.3 594.9h.01M72.4 584.3h.01M76.0 610.2h.01M66.8 563.0h.01M95.1 548.4h.01M105.4 616.1h.01M44.0 613.1h.01M21.1 543.2h.01M14.8 559.5h.01M97.4 503.5h.01M74.0 544.9h.01M53.0 599.8h.01M15.8 549.4h.01M30.7 525.5h.01M75.8 590.7h.01M107.6 591.8h.01M98.7 615.5h.01M40.4 602.0h.01M14.7 628.2h.01M103.6 541.2h.01M66.0 543.8h.01M46.6 564.9h.01M53.5 514.5h.01M42.5 606.6h.01M46.9 596.5h.01M11.2 540.5h.01M71.3 596.3h.01M61.6 562.5h.01M101.3 501.7h.01M31.2 610.7h.01M63.1 632.0h.01M25.1 533.1h.01M18.8 522.6h.01M71.2 600.6h.01M58.8 579.4h.01M69.2 561.0h.01M78.4 570.9h.01M94.5 632.4h.01M94.8 539.2h.01M88.6 578.0h.01M19.6 579.3h.01M45.2 608.4h.01M61.1 542.7h.01M98.4 592.1h.01M71.3 567.5h.01M72.5 548.5h.01M105.5 621.3h.01M100.0 568.0h.01M77.3 566.7h.01M36.5 604.6h.01M60.6 597.9h.01M64.9 580.2h.01M108.0 620.9h.01M57.5 628.3h.01M79.5 516.3h.01M30.8 611.0h.01M51.0 559.4h.01M92.3 533.2h.01M29.0 566.9h.01M12.8 508.2h.01M108.2 567.5h.01M74.0 591.1h.01M26.9 605.2h.01M60.9 583.4h.01M96.9 579.3h.01M32.0 521.9h.01M76.7 504.1h.01M70.5 592.7h.01M90.7 583.9h.01M108.8 595.1h.01M55.9 601.4h.01M106.1 502.9h.01M77.0 585.4h.01M97.3 554.1h.01M12.7 534.8h.01M21.1 551.5h.01M64.1 605.0h.01M37.3 533.5h.01M69.9 601.3h.01M44.4 615.7h.01M75.2 632.5h.01M100.9 559.1h.01M63.8 605.6h.01M44.3 597.4h.01M38.5 609.6h.01M71.8 575.4h.01M43.4 553.8h.01M96.1 513.9h.01M48.5 619.3h.01M106.5 514.3h.01M49.4 542.6h.01M107.0 625.0h.01M77.8 561.6h.01M29.8 581.1h.01M86.0 555.8h.01M85.7 564.7h.01M15.4 537.3h.01M67.5 606.1h.01M52.4 575.8h.01M21.5 521.5h.01M22.3 502.3h.01M65.6 534.6h.01M96.1 531.9h.01M98.3 525.4h.01M18.9 558.6h.01M95.7 564.9h.01M97.9 599.3h.01M42.3 591.1h.01M21.6 612.7h.01M107.7 585.8h.01M38.5 602.7h.01M16.1 521.5h.01M75.9 574.2h.01M94.6 627.3h.01M43.1 620.4h.01M65.7 558.5h.01M29.6 618.7h.01M45.5 630.4h.01M53.7 610.7h.01M31.7 583.5h.01M109.7 617.4h.01M97.1 521.6h.01M18.3 552.5h.01M96.8 503.8h.01M102.1 580.6h.01M96.8 511.4h.01M108.7 577.2h.01M28.2 603.8h.01M52.8 569.4h.01M13.3 531.7h.01M37.1 578.8h.01M108.5 592.6h.01M78.9 607.0h.01M107.0 563.4h.01M103.1 558.4h.01M50.7 556.0h.01M58.0 529.3h.01M46.6 551.5h.01M99.5 533.0h.01M14.9 529.3h.01M37.1 576.6h.01M19.7 533.2h.01M34.7 571.1h.01M68.8 594.0h.01M42.5 570.1h.01M37.1 539.0h.01M58.6 564.0h.01M75.0 534.1h.01M74.3 526.8h.01" stroke="#1616b0" stroke-width="1.95" stroke-linecap="round" fill="none"/>
<path d="M84.9 509.7h.01M76.3 544.4h.01M94.6 624.9h.01M25.2 623.9h.01M59.8 584.7h.01M12.9 513.3h.01M55.2 524.0h.01M37.4 588.0h.01M69.4 587.0h.01M13.5 539.9h.01M68.3 513.7h.01M49.5 576.8h.01M101.9 561.8h.01M106.4 547.5h.01M106.0 621.3h.01M56.2 574.6h.01M76.1 517.3h.01M107.6 606.0h.01M73.9 585.2h.01M65.2 508.2h.01M106.7 631.5h.01M76.9 539.4h.01M47.9 558.8h.01M83.3 582.4h.01M71.5 548.1h.01M32.4 571.7h.01M37.7 533.7h.01M73.0 548.1h.01M103.5 588.1h.01M108.3 504.4h.01M72.7 617.7h.01M54.6 514.5h.01M12.2 512.2h.01M93.6 628.3h.01M57.0 602.7h.01M79.5 618.1h.01M13.4 516.0h.01M64.2 572.7h.01M32.7 571.4h.01M104.5 570.2h.01M42.0 565.2h.01M31.2 547.2h.01M52.1 575.5h.01M60.8 560.5h.01M40.9 576.8h.01M62.3 593.9h.01M30.4 530.4h.01M85.3 616.9h.01M66.6 536.8h.01M69.8 512.6h.01M26.3 538.3h.01M49.1 571.1h.01M49.0 571.8h.01M32.3 547.1h.01M68.9 580.8h.01M27.9 621.8h.01M43.1 598.2h.01M57.1 559.8h.01M62.2 537.4h.01M85.0 509.5h.01M106.6 502.8h.01M64.7 593.3h.01M50.0 585.2h.01M51.5 535.2h.01M49.9 584.1h.01M39.1 537.1h.01M76.6 510.0h.01M78.2 609.0h.01M109.6 606.2h.01M107.2 554.0h.01M93.3 584.7h.01M24.6 538.5h.01M80.4 577.4h.01M108.9 583.7h.01M64.9 596.7h.01M108.4 585.1h.01M50.6 614.1h.01M42.5 602.2h.01M53.8 562.7h.01M105.3 598.9h.01M76.5 534.5h.01M31.4 542.0h.01M88.9 542.5h.01M17.3 533.3h.01M86.4 505.8h.01M50.3 563.2h.01M93.6 503.8h.01M109.3 575.3h.01M89.6 594.2h.01M81.8 549.7h.01M35.7 524.5h.01M90.2 522.0h.01M59.5 522.7h.01M42.4 573.7h.01M69.0 603.9h.01M66.2 553.4h.01M14.0 563.9h.01M107.6 501.5h.01M12.3 533.3h.01M76.8 626.4h.01M107.2 602.7h.01M36.1 624.2h.01M34.5 583.9h.01M62.6 560.8h.01M92.0 628.7h.01M106.6 568.8h.01M25.6 574.5h.01M109.0 602.3h.01M77.9 600.7h.01M21.0 543.7h.01M31.7 520.9h.01M79.8 553.6h.01M90.3 570.4h.01M77.7 589.4h.01M36.2 608.3h.01M52.2 604.6h.01M109.2 564.6h.01M49.8 555.8h.01M105.5 626.3h.01M12.1 538.3h.01M17.5 543.6h.01M40.9 576.7h.01M74.1 581.0h.01M35.8 572.3h.01M75.2 610.8h.01M25.8 627.3h.01M52.2 592.9h.01M44.5 526.3h.01M51.9 589.1h.01M103.3 552.5h.01M92.2 594.6h.01M54.5 601.7h.01M38.3 585.5h.01M84.3 567.0h.01M63.7 540.1h.01M52.7 560.0h.01M97.1 553.6h.01M76.9 513.8h.01M29.1 534.1h.01M101.2 512.5h.01M43.4 547.0h.01M74.0 537.1h.01M103.9 572.0h.01M34.9 566.0h.01M105.1 573.1h.01M107.2 530.9h.01M31.3 564.6h.01M95.4 511.7h.01M35.3 553.3h.01M99.6 511.3h.01M30.3 558.6h.01M89.4 581.8h.01M69.4 503.1h.01M98.2 512.0h.01M53.2 576.3h.01M37.9 597.8h.01M68.3 575.6h.01M94.1 573.0h.01M63.6 520.1h.01M34.7 627.0h.01M29.4 579.2h.01M72.6 531.1h.01M89.3 558.2h.01M11.3 504.3h.01M56.0 592.7h.01M89.1 553.1h.01M42.4 580.6h.01" stroke="#1a1ad0" stroke-width="1.35" stroke-linecap="round" fill="none"/>
<path d="M66.6 583.1h.01M60.4 524.6h.01M56.4 617.3h.01M97.2 608.1h.01M23.5 571.4h.01M71.7 584.1h.01M16.8 526.4h.01M75.7 549.8h.01M51.0 530.7h.01M75.7 555.8h.01M63.2 549.9h.01M43.4 607.8h.01M26.2 534.6h.01M92.7 549.6h.01M96.1 545.6h.01M85.4 631.0h.01M105.1 598.8h.01M70.7 571.9h.01M69.8 563.8h.01M74.2 570.4h.01M82.8 631.5h.01M76.1 589.4h.01M87.5 590.1h.01M101.0 591.4h.01M40.3 572.8h.01M75.8 549.0h.01M101.6 615.6h.01M81.9 510.7h.01M12.2 520.4h.01M24.8 547.1h.01M18.5 587.9h.01M28.2 575.1h.01M62.2 510.8h.01M80.5 610.3h.01M88.1 565.5h.01M106.9 515.5h.01M67.7 541.6h.01M33.5 584.0h.01M69.9 618.5h.01M14.4 560.5h.01M43.5 601.7h.01M48.9 539.0h.01M69.5 556.9h.01M43.4 613.2h.01M99.1 615.6h.01M91.0 538.5h.01M52.9 626.8h.01M28.1 624.3h.01M86.9 612.3h.01M40.6 579.9h.01M78.3 560.5h.01M47.0 620.8h.01M22.5 575.9h.01M101.5 615.3h.01M81.3 575.5h.01M41.4 546.4h.01M37.5 593.4h.01M16.1 548.8h.01M101.0 526.4h.01M65.9 592.3h.01M39.7 535.4h.01M39.7 608.2h.01M105.2 534.1h.01M84.9 533.7h.01M29.6 570.3h.01M94.0 578.6h.01M76.5 561.4h.01M51.3 538.7h.01M55.8 594.6h.01M101.6 609.2h.01M32.3 574.6h.01M108.6 501.6h.01M28.8 525.4h.01M53.4 530.3h.01M99.9 514.5h.01M81.1 568.8h.01M60.6 613.0h.01M14.3 554.0h.01M38.7 567.7h.01M48.7 521.9h.01M42.6 558.0h.01M93.0 600.8h.01M54.1 534.4h.01M35.0 577.0h.01M104.0 554.5h.01M48.4 568.8h.01M33.2 600.5h.01M90.1 540.2h.01M48.7 555.6h.01M79.7 526.9h.01M41.0 538.3h.01M25.3 537.5h.01M24.5 545.8h.01M75.7 584.9h.01M30.3 579.8h.01M83.7 549.8h.01M20.8 543.3h.01M46.1 508.3h.01M44.0 568.6h.01M60.0 517.2h.01M79.1 523.9h.01M40.2 558.1h.01M27.3 584.5h.01M75.0 557.3h.01M68.8 576.6h.01M64.0 520.8h.01M67.0 590.9h.01M24.1 538.5h.01M41.8 583.0h.01M23.8 528.1h.01M12.5 546.8h.01M99.3 510.0h.01M40.9 628.8h.01M102.4 597.3h.01M33.2 586.2h.01M85.7 569.7h.01M49.5 518.6h.01M100.3 538.9h.01M103.5 542.5h.01M71.8 509.4h.01M52.1 546.9h.01M31.6 549.1h.01M22.1 578.2h.01M64.1 547.6h.01M109.7 582.0h.01M49.2 582.1h.01M93.1 584.9h.01M32.5 528.4h.01M30.3 547.4h.01M47.5 570.6h.01M21.4 563.2h.01M55.9 510.3h.01M46.0 534.3h.01M90.7 535.7h.01M30.1 509.8h.01M85.2 530.6h.01M23.1 516.0h.01M90.8 557.9h.01M51.1 630.9h.01M18.5 545.7h.01M81.9 576.4h.01M82.9 571.2h.01M98.1 534.9h.01M78.6 624.4h.01M44.0 588.4h.01M26.1 551.5h.01M73.8 575.5h.01M38.4 524.2h.01M65.3 577.1h.01M37.1 536.4h.01M51.3 538.7h.01M25.6 549.5h.01M100.4 617.5h.01M70.1 545.5h.01M19.1 543.4h.01M45.0 578.7h.01M42.3 595.8h.01M64.3 554.8h.01M109.6 506.5h.01M36.0 536.7h.01M46.8 572.5h.01M108.7 573.0h.01M35.7 611.5h.01M53.8 581.6h.01M57.6 607.1h.01M37.6 600.7h.01M92.2 505.5h.01M90.4 503.1h.01M99.5 572.5h.01M67.1 602.0h.01M96.9 551.3h.01M72.5 594.3h.01M64.5 564.5h.01M22.4 552.3h.01" stroke="#2626ff" stroke-width="1.65" stroke-linecap="round" fill="none"/>
<path d="M67.9 586.2h.01M37.9 566.7h.01M84.6 586.4h.01M55.8 600.4h.01M37.7 545.1h.01M81.9 547.2h.01M40.6 584.9h.01M60.6 526.6h.01M86.6 619.4h.01M30.9 535.8h.01M82.4 517.7h.01M52.0 623.7h.01M93.4 511.4h.01M39.6 612.1h.01M40.9 621.2h.01M76.6 507.4h.01M54.9 600.7h.01M83.4 632.4h.01M70.6 526.7h.01M33.9 534.1h.01M49.8 584.8h.01M38.4 612.3h.01M106.2 567.6h.01M90.1 546.2h.01M40.3 575.5h.01M69.5 526.3h.01M85.2 548.5h.01M93.7 592.2h.01M60.9 557.6h.01M46.3 602.8h.01M104.2 588.3h.01M33.2 537.8h.01M100.0 526.7h.01M33.6 582.7h.01M52.4 612.8h.01M57.7 594.8h.01M85.3 522.2h.01M100.8 524.6h.01M109.2 535.6h.01M90.4 545.3h.01M107.3 532.5h.01M69.7 611.7h.01M84.1 562.1h.01M71.7 558.8h.01M63.9 613.7h.01M44.4 577.3h.01M93.5 576.7h.01M99.9 602.3h.01M39.2 621.0h.01M93.8 538.7h.01M66.9 523.9h.01M75.9 579.3h.01M109.6 563.1h.01M44.3 574.5h.01M51.2 617.1h.01M98.9 553.2h.01M84.5 562.3h.01M84.1 568.0h.01M101.9 606.5h.01M72.6 585.2h.01M18.8 541.4h.01M18.0 527.1h.01M34.7 630.6h.01M82.0 502.1h.01M64.2 618.1h.01M20.2 534.0h.01M12.0 533.6h.01M25.5 562.6h.01M23.8 623.6h.01M28.1 530.4h.01M91.9 595.0h.01M101.8 625.2h.01M74.7 550.2h.01M94.1 584.2h.01M84.6 528.5h.01M93.7 539.8h.01M44.3 562.5h.01M105.5 579.2h.01M59.3 531.2h.01M18.8 548.7h.01M70.7 510.5h.01M98.3 565.0h.01M61.2 512.6h.01M18.7 510.1h.01M21.7 556.1h.01M26.5 553.0h.01M20.4 553.9h.01M16.0 535.5h.01M75.2 549.5h.01M38.5 532.5h.01M74.3 629.2h.01M98.8 612.9h.01M76.1 591.2h.01M73.8 599.9h.01M108.9 624.1h.01M49.4 569.2h.01M88.4 594.8h.01M54.3 575.8h.01M41.8 518.4h.01M69.2 581.8h.01M56.2 589.3h.01M102.5 538.6h.01M107.5 542.4h.01M37.6 570.0h.01M45.9 509.2h.01M58.9 508.6h.01M24.1 581.7h.01M90.8 596.4h.01M54.6 599.7h.01M94.3 574.0h.01M74.0 610.3h.01M100.0 537.5h.01M90.3 575.9h.01M31.8 550.9h.01M26.0 628.9h.01M65.2 615.3h.01M87.1 557.4h.01M93.6 581.3h.01M87.3 537.9h.01M33.7 552.4h.01M42.8 623.7h.01M50.5 537.5h.01M55.4 576.9h.01M59.7 565.8h.01M108.7 523.6h.01M74.9 573.8h.01M72.7 606.4h.01M25.2 621.9h.01M58.4 528.8h.01M79.2 540.6h.01M36.8 597.7h.01M95.9 504.5h.01M98.6 540.0h.01M51.7 568.0h.01M15.4 509.5h.01M76.6 510.5h.01M79.1 601.0h.01M86.4 517.6h.01M72.0 600.0h.01M22.2 588.1h.01M106.5 534.5h.01M63.3 597.7h.01M64.6 569.1h.01M41.7 624.8h.01M39.8 555.5h.01M75.1 591.0h.01M67.1 543.8h.01M71.7 603.0h.01M105.8 565.0h.01M68.4 582.9h.01M100.2 598.8h.01M107.6 523.8h.01M40.0 596.0h.01M49.2 513.0h.01M39.7 585.7h.01M20.2 626.8h.01M103.7 512.2h.01M14.1 543.7h.01M14.1 521.6h.01M17.8 559.3h.01M77.3 560.4h.01M77.7 628.5h.01M92.0 567.7h.01M13.6 538.5h.01M62.8 553.2h.01M76.9 568.2h.01M101.8 619.1h.01M44.3 596.3h.01M80.3 607.6h.01M58.3 591.0h.01M52.2 575.3h.01M37.6 574.1h.01M48.2 581.3h.01M99.2 578.6h.01M37.6 542.3h.01M22.6 546.6h.01M41.3 571.6h.01M92.3 552.7h.01M68.9 600.1h.01M84.8 584.4h.01M64.2 584.6h.01M27.0 587.0h.01M26.0 572.9h.01" stroke="#2c34ff" stroke-width="1.65" stroke-linecap="round" fill="none"/>
<path d="M94.3 582.9h.01M51.2 543.7h.01M98.0 559.9h.01M37.7 607.4h.01M41.1 554.2h.01M83.9 629.6h.01M59.8 607.2h.01M56.0 563.5h.01M58.7 597.2h.01M66.6 611.1h.01M35.4 578.3h.01M79.3 573.1h.01M19.2 602.5h.01M44.6 573.9h.01M108.0 616.3h.01M100.3 632.6h.01M34.6 602.9h.01M102.2 577.3h.01M33.1 546.3h.01M43.0 507.9h.01M60.9 599.5h.01M88.7 536.2h.01M17.1 523.7h.01M67.0 578.6h.01M55.7 594.7h.01M20.4 555.7h.01M107.3 610.1h.01M58.5 586.4h.01M20.2 521.5h.01M54.2 588.1h.01M12.9 564.8h.01M89.7 545.0h.01M106.3 597.3h.01M76.2 502.9h.01M68.6 598.1h.01M85.5 501.4h.01M63.0 516.3h.01M95.5 617.7h.01M54.1 603.1h.01M107.8 522.5h.01M31.2 535.7h.01M68.1 597.1h.01M67.9 576.1h.01M48.6 542.5h.01M66.7 570.9h.01M12.1 629.0h.01M55.8 533.5h.01M108.4 587.6h.01M96.3 571.1h.01M81.1 623.6h.01M36.1 589.1h.01M81.2 561.0h.01M107.6 540.6h.01M89.1 589.3h.01M10.8 531.4h.01M61.9 603.9h.01M51.8 559.3h.01M92.9 536.6h.01M36.0 602.3h.01M96.6 615.5h.01M60.0 600.1h.01M96.1 569.7h.01M55.9 594.8h.01M86.5 570.5h.01M24.2 617.1h.01M100.0 505.4h.01M41.3 529.8h.01M67.7 624.8h.01M75.4 503.8h.01M59.9 587.5h.01M23.7 549.5h.01M33.3 575.9h.01M74.5 594.9h.01M44.4 537.3h.01M40.5 577.7h.01M36.8 568.2h.01M60.4 596.5h.01M61.1 612.8h.01M97.1 580.4h.01M48.4 580.9h.01M26.7 543.6h.01M94.8 610.9h.01M99.6 556.7h.01M25.4 624.4h.01M106.3 533.2h.01M99.6 605.6h.01M69.0 542.6h.01M43.6 629.2h.01M35.1 627.8h.01M97.5 559.0h.01M98.4 621.1h.01M90.2 587.0h.01M46.6 511.0h.01M95.9 565.8h.01M27.8 525.4h.01M48.4 632.4h.01M103.7 545.5h.01M102.5 578.9h.01M34.1 555.3h.01M34.4 628.8h.01M53.1 517.0h.01M100.2 558.4h.01M31.5 539.3h.01M49.9 561.1h.01M95.8 568.6h.01M50.4 599.2h.01M77.1 561.7h.01M60.4 612.7h.01M42.6 525.2h.01M49.4 555.8h.01M71.3 565.1h.01M21.5 576.5h.01M38.6 572.3h.01M40.8 566.6h.01M28.0 545.5h.01M45.1 602.0h.01M51.4 592.1h.01M44.3 554.6h.01M38.8 584.3h.01M87.6 513.9h.01M23.7 503.7h.01M88.3 598.1h.01M89.2 611.8h.01M93.3 565.3h.01M96.9 578.1h.01M98.4 505.6h.01M55.6 561.2h.01M43.9 588.7h.01M106.4 580.3h.01M58.7 588.6h.01M40.1 601.2h.01M45.2 565.1h.01M94.5 607.5h.01M79.0 609.8h.01M88.3 579.7h.01M98.6 611.6h.01M74.7 554.2h.01M18.6 531.3h.01M49.3 566.7h.01M44.4 600.5h.01M41.4 590.5h.01M78.1 603.7h.01M65.2 573.4h.01M49.5 590.3h.01M90.2 549.8h.01M61.3 606.5h.01M85.4 535.6h.01M50.0 545.5h.01M84.3 572.0h.01M47.2 515.9h.01M71.0 549.1h.01M42.8 527.9h.01M51.8 605.2h.01M95.6 591.1h.01M95.3 532.0h.01M93.6 504.0h.01M100.4 584.5h.01M34.4 537.5h.01M63.6 601.1h.01M32.9 547.1h.01M100.6 564.5h.01M98.5 585.4h.01M102.2 501.7h.01M99.2 629.5h.01M24.4 617.2h.01M65.7 507.6h.01M82.9 574.4h.01" stroke="#2626ff" stroke-width="1.95" stroke-linecap="round" fill="none"/>
<path d="M64.1 555.7h.01M76.0 601.0h.01M99.2 587.7h.01M15.4 517.2h.01M102.4 587.0h.01M16.3 556.8h.01M69.4 563.8h.01M33.6 539.7h.01M67.5 583.3h.01M81.4 602.7h.01M100.2 594.8h.01M86.1 595.1h.01M41.3 536.5h.01M104.9 560.6h.01M101.3 573.7h.01M25.6 632.3h.01M102.3 629.5h.01M88.9 609.3h.01M97.7 619.0h.01M52.3 540.4h.01M30.1 601.5h.01M59.8 631.3h.01M61.7 558.1h.01M27.5 541.3h.01M77.2 561.1h.01M97.2 598.3h.01M80.8 542.1h.01M47.1 599.3h.01M91.9 565.5h.01M38.6 568.0h.01M95.2 613.0h.01M106.4 574.4h.01M90.9 632.0h.01M100.6 516.1h.01M32.1 531.5h.01M78.6 586.9h.01M27.0 631.2h.01M81.8 531.2h.01M39.4 557.9h.01M41.3 558.2h.01M77.9 555.4h.01M92.3 565.5h.01M20.8 515.6h.01M86.3 512.4h.01M49.8 598.8h.01M105.1 545.1h.01M85.9 534.0h.01M49.7 603.3h.01M29.1 562.4h.01M87.8 607.0h.01M35.3 541.1h.01M74.3 568.6h.01M38.9 618.9h.01M70.6 628.8h.01M55.1 597.4h.01M83.1 531.7h.01M18.0 508.8h.01M84.4 581.8h.01M31.8 576.6h.01M21.3 615.0h.01M104.1 594.7h.01M64.9 625.2h.01M49.5 629.2h.01M101.9 613.0h.01M56.1 579.7h.01M107.5 507.5h.01M21.2 522.3h.01M77.0 588.7h.01M109.5 561.1h.01M74.8 544.1h.01M52.1 570.3h.01M108.9 532.7h.01M29.2 575.3h.01M93.9 563.5h.01M83.5 514.8h.01M21.9 525.9h.01M80.7 578.9h.01M27.2 529.5h.01M99.9 549.2h.01M83.2 631.0h.01M106.1 559.8h.01M52.4 597.9h.01M79.1 562.2h.01M47.1 537.8h.01M70.6 563.1h.01M31.3 551.3h.01M76.1 585.4h.01M46.4 632.2h.01M76.6 587.6h.01M97.5 593.8h.01M102.9 502.5h.01M44.0 532.4h.01M16.4 515.1h.01M98.4 544.9h.01M38.8 597.6h.01M94.7 609.1h.01M49.0 592.5h.01M78.5 595.3h.01M103.9 575.4h.01M82.5 604.9h.01M81.6 570.0h.01M96.3 563.5h.01M24.4 538.4h.01M49.7 544.8h.01M30.7 534.8h.01M59.6 577.8h.01M51.6 551.1h.01M31.4 529.3h.01M55.6 590.3h.01M30.5 533.8h.01M62.9 571.6h.01M25.6 612.1h.01M39.4 533.8h.01M71.9 596.1h.01M39.2 573.7h.01M45.0 555.9h.01M92.3 580.0h.01M106.6 574.7h.01M29.9 543.2h.01M104.9 581.0h.01M93.3 608.6h.01M50.0 617.9h.01M62.0 561.2h.01M13.9 526.1h.01M21.9 522.8h.01M50.8 557.7h.01M48.9 615.9h.01M65.3 512.6h.01M91.7 585.2h.01M65.6 525.9h.01M75.0 591.1h.01M26.9 587.6h.01M56.6 606.8h.01M48.7 591.7h.01M48.1 554.2h.01M72.2 538.2h.01M74.1 502.8h.01M107.0 619.3h.01M37.9 596.6h.01M66.4 606.2h.01M104.8 590.9h.01M97.4 561.9h.01M98.1 565.2h.01M94.3 541.5h.01M85.7 555.0h.01M40.2 567.4h.01M13.7 538.8h.01M37.1 583.9h.01M103.8 576.8h.01M85.1 595.6h.01M36.5 537.9h.01M105.6 526.1h.01M43.1 591.1h.01M78.9 528.5h.01M74.2 522.6h.01M27.9 535.3h.01M83.9 598.4h.01M96.1 536.4h.01M106.9 535.0h.01M27.8 555.7h.01M86.2 601.8h.01M43.6 569.1h.01M70.0 623.2h.01M35.2 539.8h.01M29.7 610.4h.01M100.5 567.0h.01M98.8 594.8h.01M20.3 563.6h.01M85.8 591.5h.01M97.0 527.3h.01M105.2 593.6h.01M107.8 525.9h.01M103.5 564.5h.01M76.9 515.6h.01" stroke="#2c34ff" stroke-width="1.35" stroke-linecap="round" fill="none"/>
<path d="M45.4 606.5h.01M84.3 543.3h.01M21.2 549.7h.01M53.8 545.6h.01M40.5 592.2h.01M92.0 582.5h.01M21.1 573.3h.01M86.9 555.5h.01M98.4 572.6h.01M20.6 523.3h.01M99.1 611.6h.01M94.9 563.6h.01M49.1 582.4h.01M88.7 507.0h.01M78.9 593.4h.01M95.5 596.2h.01M83.4 578.8h.01M23.4 579.0h.01M79.2 609.1h.01M95.2 579.8h.01M33.0 624.2h.01M32.1 541.2h.01M98.9 588.9h.01M81.5 582.2h.01M109.0 547.9h.01M43.9 539.6h.01M61.8 584.8h.01M91.3 538.4h.01M91.0 627.4h.01M27.0 631.6h.01M109.7 541.5h.01M93.3 587.6h.01M25.0 551.8h.01M65.2 589.5h.01M28.7 581.5h.01M28.8 586.3h.01M47.6 556.2h.01M31.5 587.3h.01M99.7 591.4h.01M37.6 552.3h.01M98.3 528.1h.01M86.1 534.6h.01M90.5 598.1h.01M58.9 514.5h.01M54.4 621.2h.01M22.9 513.4h.01M81.2 604.4h.01M64.5 582.8h.01M51.2 531.6h.01M39.8 632.0h.01M98.0 597.6h.01M19.4 520.2h.01M104.9 550.7h.01M97.2 608.0h.01M107.3 536.0h.01M51.5 622.2h.01M15.2 509.4h.01M56.4 516.4h.01M23.7 569.1h.01M82.2 567.8h.01M90.0 516.1h.01M18.5 537.1h.01M49.3 560.8h.01M82.9 596.0h.01M37.5 565.3h.01M23.1 575.3h.01M100.9 608.1h.01M56.1 543.3h.01M103.1 502.4h.01M53.1 570.1h.01M70.8 531.5h.01M90.5 622.4h.01M40.4 577.5h.01M30.0 552.4h.01M36.0 571.7h.01M106.0 586.9h.01M38.1 631.2h.01M83.2 624.7h.01M44.0 602.5h.01M105.0 593.3h.01M34.9 578.3h.01M102.5 508.4h.01M36.7 621.0h.01M39.1 584.6h.01M29.7 566.1h.01M105.1 604.3h.01M60.5 569.4h.01M68.6 557.4h.01M77.9 507.3h.01M64.2 520.0h.01M34.8 598.1h.01M86.4 537.0h.01M77.1 590.0h.01M31.5 629.1h.01M17.2 524.9h.01M19.9 578.4h.01M90.6 578.2h.01M35.6 582.6h.01M67.8 561.5h.01M28.9 621.7h.01M55.7 591.0h.01M16.2 624.5h.01M37.1 574.5h.01M97.0 576.5h.01M93.5 502.2h.01M55.6 559.4h.01M102.4 587.7h.01M30.4 616.3h.01M101.1 506.8h.01M34.7 592.1h.01M37.8 581.2h.01M36.6 561.3h.01M63.5 520.5h.01M105.7 566.6h.01M91.5 565.5h.01M67.9 510.1h.01M22.9 567.2h.01M91.4 570.7h.01M35.9 572.9h.01M60.7 587.0h.01M101.0 592.6h.01M13.7 547.8h.01M68.0 597.5h.01M62.6 582.4h.01M97.1 578.3h.01M96.3 519.3h.01M83.8 615.6h.01M85.2 515.8h.01M105.1 602.6h.01M98.3 507.1h.01M12.8 543.6h.01M18.0 531.5h.01M104.4 610.8h.01M77.9 571.9h.01M41.5 545.1h.01M90.9 582.1h.01M90.4 613.6h.01M76.6 601.5h.01M98.3 607.0h.01M35.0 597.5h.01M16.5 549.1h.01M51.1 545.4h.01M73.3 560.3h.01M68.5 622.2h.01M26.4 535.9h.01M42.3 576.4h.01M26.2 594.5h.01M51.6 594.7h.01M39.4 593.5h.01M47.6 560.3h.01M38.6 531.2h.01M82.7 541.7h.01M24.1 530.1h.01M90.4 570.2h.01M36.4 604.0h.01M71.0 544.9h.01M21.8 527.7h.01M84.4 574.1h.01M62.8 617.2h.01M65.8 599.0h.01M29.3 586.4h.01M12.8 546.3h.01M25.2 550.9h.01M24.7 545.6h.01M50.7 574.5h.01M69.3 547.7h.01M90.9 504.5h.01M73.3 566.3h.01M95.1 546.5h.01M106.7 603.2h.01M92.6 616.9h.01M80.6 545.6h.01M12.7 521.8h.01M25.5 582.7h.01M20.6 548.7h.01M100.4 512.2h.01M35.7 576.4h.01M54.3 605.9h.01M57.1 606.6h.01M49.3 584.4h.01" stroke="#1a1ad0" stroke-width="1.95" stroke-linecap="round" fill="none"/>
<path d="M79.6 614.0h.01M68.9 572.6h.01M32.2 611.7h.01M78.7 576.4h.01M101.5 517.9h.01M67.0 593.7h.01M73.1 601.5h.01M77.3 595.4h.01M38.1 612.5h.01M104.7 573.9h.01M72.6 513.1h.01M34.5 606.1h.01M53.0 623.6h.01M43.3 532.1h.01M106.9 563.5h.01M62.5 568.1h.01M50.7 586.0h.01M47.5 596.9h.01M106.8 572.0h.01M36.7 584.7h.01M90.3 537.1h.01M26.1 575.5h.01M106.0 543.1h.01M100.4 620.1h.01M100.6 602.3h.01M33.5 538.9h.01M109.3 544.9h.01M58.6 576.2h.01M85.5 535.5h.01M105.1 502.3h.01M68.0 596.2h.01M19.6 571.5h.01M38.3 525.4h.01M73.8 569.8h.01M14.7 534.4h.01M25.0 556.4h.01M35.3 579.6h.01M28.2 521.7h.01M108.2 537.7h.01M72.5 594.2h.01M74.1 609.1h.01M35.5 555.7h.01M80.8 558.4h.01M23.3 579.9h.01M27.2 539.3h.01M14.9 511.9h.01M15.8 617.6h.01M104.7 611.0h.01M19.3 567.6h.01M16.6 502.9h.01M90.2 600.9h.01M97.0 532.5h.01M88.0 523.0h.01M102.2 576.6h.01M92.4 545.1h.01M21.6 526.0h.01M109.6 508.7h.01M108.0 524.1h.01M89.7 563.7h.01M41.5 538.5h.01M70.1 598.7h.01M73.3 605.3h.01M103.4 547.3h.01M34.4 535.7h.01M31.8 551.1h.01M108.9 506.5h.01M44.7 544.5h.01M64.1 610.3h.01M88.9 611.0h.01M37.9 623.9h.01M27.7 610.5h.01M94.0 625.8h.01M93.5 571.9h.01M36.4 543.9h.01M105.4 614.4h.01M39.2 539.1h.01M53.3 584.5h.01M83.7 578.8h.01M105.3 503.1h.01M76.3 625.8h.01M39.1 623.5h.01M86.1 573.6h.01M78.4 548.0h.01M81.9 621.5h.01M96.6 623.9h.01M24.1 564.5h.01M52.4 558.0h.01M67.2 542.8h.01M31.4 620.1h.01M89.9 573.1h.01M108.3 607.6h.01M38.3 544.0h.01M17.8 517.6h.01M60.6 513.2h.01M101.1 593.0h.01M26.7 548.0h.01M39.7 564.4h.01M75.0 616.3h.01M46.7 542.9h.01M66.0 557.4h.01M52.7 630.5h.01M87.4 535.3h.01M23.6 530.6h.01M35.8 560.9h.01M89.5 557.7h.01M79.9 534.3h.01M47.7 594.6h.01M42.5 563.6h.01M108.7 620.7h.01M13.9 541.5h.01M28.7 572.3h.01M39.4 583.6h.01M25.0 520.2h.01M109.5 545.7h.01M46.5 603.0h.01M52.8 571.2h.01M16.0 552.6h.01M108.4 611.6h.01M63.5 598.3h.01M86.5 561.2h.01M85.0 596.4h.01M72.5 631.6h.01M87.9 539.8h.01M21.2 521.8h.01M24.5 624.8h.01M100.1 561.2h.01M84.6 624.5h.01M34.7 592.9h.01M80.5 541.6h.01M62.2 585.8h.01M88.0 583.9h.01M105.7 568.1h.01M89.0 618.9h.01M59.9 596.1h.01M32.6 530.4h.01M100.0 578.4h.01M13.8 628.1h.01M86.5 613.5h.01M84.5 552.9h.01M40.7 579.7h.01M45.8 597.1h.01M109.1 502.6h.01M75.0 502.2h.01M42.9 568.0h.01M52.7 550.5h.01M35.9 622.5h.01M75.6 569.9h.01M69.1 555.0h.01M15.9 531.4h.01M66.9 591.1h.01M37.8 595.1h.01M42.0 586.0h.01M14.0 517.5h.01M25.6 557.4h.01M72.3 589.1h.01M74.1 596.8h.01M37.6 549.6h.01M13.7 502.8h.01M26.4 533.2h.01M105.7 599.9h.01M97.6 503.7h.01M19.3 567.5h.01M53.5 630.3h.01M11.4 525.2h.01M28.2 545.7h.01M26.5 545.8h.01M54.0 546.3h.01M83.4 599.3h.01M109.0 515.0h.01M88.4 533.3h.01M46.3 520.3h.01M63.3 599.2h.01M105.0 570.2h.01M90.2 554.3h.01M27.1 547.6h.01M93.1 565.8h.01M95.7 528.4h.01" stroke="#1c1cf5" stroke-width="1.35" stroke-linecap="round" fill="none"/>
<path d="M49.5 534.1h.01M15.2 555.8h.01M83.8 596.9h.01M60.7 621.4h.01M101.0 594.7h.01M40.5 519.7h.01M99.9 604.0h.01M79.5 602.3h.01M31.0 568.9h.01M101.7 567.3h.01M40.1 555.0h.01M103.7 603.8h.01M23.1 545.3h.01M50.7 519.3h.01M89.7 589.7h.01M28.6 542.4h.01M38.0 599.1h.01M49.7 582.5h.01M14.3 536.9h.01M16.5 569.8h.01M33.6 539.7h.01M62.4 577.4h.01" stroke="#ff6090" stroke-width="1.4" stroke-linecap="round" fill="none"/>
<path d="M39.4 619.6h.01M38.3 601.6h.01M52.4 589.5h.01M92.8 576.1h.01M22.4 521.4h.01M36.6 580.2h.01M33.9 539.6h.01M12.8 568.4h.01M98.1 579.1h.01M87.0 607.1h.01M68.3 576.4h.01M25.7 593.7h.01M83.9 611.0h.01M52.7 592.0h.01M91.4 603.2h.01M90.5 572.4h.01M37.4 592.9h.01M71.6 571.7h.01M70.4 603.9h.01M53.1 611.1h.01M40.3 580.5h.01M57.3 609.3h.01M65.5 596.4h.01M99.6 538.7h.01" stroke="#ff6090" stroke-width="1.8" stroke-linecap="round" fill="none"/>
<path d="M69.1 603.1h.01M60.5 575.2h.01M59.8 593.8h.01M47.4 586.4h.01M104.3 546.2h.01M59.6 572.4h.01M66.4 630.7h.01M19.7 543.6h.01M57.3 601.5h.01M55.4 559.4h.01M92.9 609.5h.01M30.0 548.9h.01M31.8 619.1h.01M40.4 590.4h.01M55.1 614.1h.01M48.3 539.3h.01M90.8 586.7h.01M61.0 608.8h.01M33.3 546.7h.01M55.7 622.6h.01M39.6 610.8h.01M65.2 569.3h.01M43.9 533.0h.01M31.5 601.2h.01M66.7 608.4h.01" stroke="#ff88b0" stroke-width="1.4" stroke-linecap="round" fill="none"/>
<path d="M22.6 599.4h.01M24.0 556.2h.01M18.9 546.0h.01M47.8 548.6h.01M49.5 548.7h.01M24.4 556.6h.01M62.2 561.1h.01M51.9 603.1h.01M39.3 630.9h.01M63.2 596.0h.01M15.9 543.8h.01M37.0 537.5h.01M40.1 560.7h.01M46.8 539.6h.01M26.2 550.4h.01M56.6 586.2h.01M61.1 572.6h.01M18.7 565.5h.01M36.2 543.6h.01" stroke="#ffa0c0" stroke-width="1.8" stroke-linecap="round" fill="none"/>
<path d="M102.9 603.8h.01M43.0 587.4h.01M95.4 618.5h.01M52.0 588.2h.01M60.9 557.7h.01M72.3 537.0h.01M69.7 602.6h.01M48.0 608.7h.01M42.8 562.1h.01M59.6 550.2h.01M13.9 579.7h.01M22.0 553.5h.01" stroke="#ffa0c0" stroke-width="1.4" stroke-linecap="round" fill="none"/>
<path d="M29.8 617.4h.01M64.0 594.9h.01M44.7 591.0h.01M52.4 604.7h.01M16.6 535.1h.01M39.4 552.2h.01M69.0 601.2h.01M64.3 607.3h.01M38.2 538.6h.01M19.8 522.6h.01M19.4 628.1h.01M28.8 605.7h.01M97.2 563.7h.01M33.0 526.8h.01M46.0 548.6h.01M27.7 538.3h.01M40.7 587.4h.01M65.6 606.8h.01M94.7 580.4h.01M33.1 534.8h.01M70.5 600.2h.01M74.4 580.4h.01M44.8 572.5h.01" stroke="#e86080" stroke-width="1.4" stroke-linecap="round" fill="none"/>
<path d="M36.1 559.8h.01M42.5 591.4h.01M99.5 559.3h.01M39.8 611.1h.01M66.4 613.8h.01M33.9 631.2h.01M56.9 609.9h.01M26.8 557.5h.01M109.6 606.8h.01M73.4 581.9h.01M97.2 594.4h.01" stroke="#e86080" stroke-width="1.8" stroke-linecap="round" fill="none"/>
<path d="M49.4 612.1h.01M55.8 554.6h.01M23.7 558.6h.01M51.5 564.9h.01M15.5 549.7h.01M37.1 584.2h.01M11.4 550.2h.01M56.8 540.6h.01M45.9 549.0h.01M60.9 540.5h.01M30.3 552.3h.01M74.8 549.7h.01M28.8 628.1h.01M13.2 629.4h.01" stroke="#ff88b0" stroke-width="1.8" stroke-linecap="round" fill="none"/>
<path d="M82.9 581.6h.01M13.6 520.3h.01M51.5 627.0h.01M20.6 514.7h.01M56.8 511.0h.01M62.0 574.7h.01" stroke="#40ff60" stroke-width="1.5" stroke-linecap="round" fill="none"/>
<circle cx="52.28" cy="554.42" r="0.91" fill="#ff90b8"/>
<circle cx="61.54" cy="561.51" r="0.97" fill="#ff90b8"/>
<circle cx="63.41" cy="560.11" r="0.82" fill="#ff90b8"/>
<circle cx="55.00" cy="562.25" r="1.02" fill="#ff90b8"/>
<circle cx="60.55" cy="554.68" r="1.06" fill="#ff70a0"/>
<circle cx="48.31" cy="554.22" r="0.95" fill="#ff70a0"/>
</g>
<rect x="46.30" y="550.80" width="19.30" height="13.80" fill="none" stroke="#f0f0f0" stroke-width="0.9"/>
<line x1="65.60" y1="550.80" x2="108.80" y2="504.00" stroke="#f4f4f4" stroke-width="1.15" stroke-dasharray="2.2 1.5"/>
<line x1="65.60" y1="564.60" x2="108.80" y2="628.50" stroke="#f4f4f4" stroke-width="1.15" stroke-dasharray="2.2 1.5"/>
<text x="13.00" y="509.10" font-size="8.6" text-anchor="start" fill="#fff" stroke="#fff" stroke-width="0.18" font-weight="bold">CTL</text>
<line x1="13.60" y1="621.70" x2="24.60" y2="621.70" stroke="#fff" stroke-width="1.3"/>
<text x="13.30" y="629.90" font-size="7.4" text-anchor="start" fill="#fff" stroke="#fff" stroke-width="0.18">50 μm</text>
<clipPath id="ic203_0"><rect x="111.5" y="501.20" width="57.3" height="42.1"/></clipPath>
<g clip-path="url(#ic203_0)">
<rect x="111.50" y="501.20" width="57.30" height="42.10" fill="#05051c" stroke="none" stroke-width="1"/>
<g filter="url(#gl3)">
<ellipse cx="115.1" cy="538.0" rx="2.6" ry="1.8" transform="rotate(140 115.1 538.0)" fill="#1a1cd0"/>
<ellipse cx="147.0" cy="532.5" rx="2.8" ry="1.9" transform="rotate(17 147.0 532.5)" fill="#2828ff"/>
<ellipse cx="116.7" cy="524.9" rx="3.0" ry="1.9" transform="rotate(47 116.7 524.9)" fill="#2e34ff"/>
<ellipse cx="136.7" cy="521.9" rx="2.1" ry="2.4" transform="rotate(82 136.7 521.9)" fill="#2e34ff"/>
<ellipse cx="125.4" cy="507.5" rx="2.0" ry="2.3" transform="rotate(68 125.4 507.5)" fill="#2828ff"/>
<ellipse cx="139.0" cy="539.3" rx="2.1" ry="2.1" transform="rotate(149 139.0 539.3)" fill="#1a1cd0"/>
<ellipse cx="150.8" cy="535.0" rx="2.6" ry="1.6" transform="rotate(147 150.8 535.0)" fill="#2828ff"/>
<ellipse cx="154.7" cy="501.2" rx="2.8" ry="1.7" transform="rotate(142 154.7 501.2)" fill="#1f22f0"/>
<ellipse cx="134.3" cy="511.1" rx="2.8" ry="2.0" transform="rotate(133 134.3 511.1)" fill="#1f22f0"/>
<ellipse cx="112.3" cy="507.6" rx="2.4" ry="2.2" transform="rotate(115 112.3 507.6)" fill="#2e34ff"/>
<ellipse cx="141.1" cy="544.1" rx="2.0" ry="1.9" transform="rotate(25 141.1 544.1)" fill="#1a1cd0"/>
<ellipse cx="170.0" cy="532.2" rx="2.7" ry="2.1" transform="rotate(70 170.0 532.2)" fill="#2e34ff"/>
<ellipse cx="126.9" cy="506.3" rx="2.3" ry="1.7" transform="rotate(121 126.9 506.3)" fill="#1f22f0"/>
<ellipse cx="148.8" cy="536.2" rx="2.2" ry="2.2" transform="rotate(13 148.8 536.2)" fill="#1f22f0"/>
<ellipse cx="122.8" cy="524.0" rx="2.7" ry="2.0" transform="rotate(43 122.8 524.0)" fill="#2828ff"/>
<ellipse cx="132.6" cy="502.5" rx="2.3" ry="1.8" transform="rotate(15 132.6 502.5)" fill="#1a1cd0"/>
<ellipse cx="123.0" cy="524.7" rx="2.9" ry="2.2" transform="rotate(19 123.0 524.7)" fill="#1a1cd0"/>
<ellipse cx="135.8" cy="534.7" rx="2.4" ry="2.0" transform="rotate(5 135.8 534.7)" fill="#1f22f0"/>
<ellipse cx="154.2" cy="532.9" rx="2.9" ry="2.3" transform="rotate(58 154.2 532.9)" fill="#1f22f0"/>
<ellipse cx="114.3" cy="536.7" rx="2.2" ry="1.8" transform="rotate(22 114.3 536.7)" fill="#2828ff"/>
<ellipse cx="114.9" cy="531.3" rx="2.9" ry="2.1" transform="rotate(116 114.9 531.3)" fill="#2828ff"/>
<ellipse cx="109.5" cy="528.6" rx="2.7" ry="2.1" transform="rotate(92 109.5 528.6)" fill="#1a1cd0"/>
<ellipse cx="132.8" cy="522.0" rx="2.1" ry="1.9" transform="rotate(7 132.8 522.0)" fill="#1f22f0"/>
<ellipse cx="163.6" cy="520.7" rx="2.9" ry="2.2" transform="rotate(175 163.6 520.7)" fill="#2e34ff"/>
<ellipse cx="135.4" cy="528.5" rx="2.7" ry="1.8" transform="rotate(31 135.4 528.5)" fill="#1a1cd0"/>
<ellipse cx="115.5" cy="543.2" rx="2.8" ry="1.8" transform="rotate(60 115.5 543.2)" fill="#2e34ff"/>
<ellipse cx="142.9" cy="512.6" rx="2.6" ry="1.9" transform="rotate(158 142.9 512.6)" fill="#2828ff"/>
<ellipse cx="165.4" cy="506.7" rx="2.9" ry="2.2" transform="rotate(68 165.4 506.7)" fill="#1a1cd0"/>
<ellipse cx="167.7" cy="522.4" rx="2.8" ry="2.0" transform="rotate(163 167.7 522.4)" fill="#1f22f0"/>
<ellipse cx="136.3" cy="518.8" rx="2.7" ry="2.2" transform="rotate(81 136.3 518.8)" fill="#1f22f0"/>
<ellipse cx="126.0" cy="512.1" rx="2.4" ry="1.6" transform="rotate(91 126.0 512.1)" fill="#2e34ff"/>
<ellipse cx="154.5" cy="511.5" rx="2.0" ry="1.8" transform="rotate(18 154.5 511.5)" fill="#1a1cd0"/>
<ellipse cx="130.5" cy="516.0" rx="2.9" ry="1.7" transform="rotate(160 130.5 516.0)" fill="#2828ff"/>
<ellipse cx="117.5" cy="508.8" rx="2.3" ry="2.2" transform="rotate(64 117.5 508.8)" fill="#2828ff"/>
<ellipse cx="140.7" cy="505.3" rx="2.9" ry="2.1" transform="rotate(122 140.7 505.3)" fill="#1f22f0"/>
<ellipse cx="113.3" cy="506.3" rx="2.5" ry="2.1" transform="rotate(30 113.3 506.3)" fill="#1f22f0"/>
<ellipse cx="166.6" cy="508.1" rx="2.9" ry="2.3" transform="rotate(17 166.6 508.1)" fill="#1f22f0"/>
<ellipse cx="167.0" cy="541.1" rx="3.0" ry="2.1" transform="rotate(108 167.0 541.1)" fill="#2e34ff"/>
<ellipse cx="135.2" cy="514.8" rx="2.6" ry="2.2" transform="rotate(40 135.2 514.8)" fill="#1f22f0"/>
<ellipse cx="163.3" cy="508.9" rx="2.2" ry="2.2" transform="rotate(73 163.3 508.9)" fill="#1a1cd0"/>
<ellipse cx="165.0" cy="537.6" rx="2.0" ry="1.6" transform="rotate(82 165.0 537.6)" fill="#1a1cd0"/>
<ellipse cx="120.9" cy="520.6" rx="2.9" ry="1.9" transform="rotate(54 120.9 520.6)" fill="#1a1cd0"/>
<ellipse cx="138.3" cy="543.9" rx="2.1" ry="2.1" transform="rotate(21 138.3 543.9)" fill="#1f22f0"/>
<ellipse cx="115.3" cy="527.2" rx="2.2" ry="1.7" transform="rotate(106 115.3 527.2)" fill="#1a1cd0"/>
<ellipse cx="156.8" cy="516.1" rx="2.1" ry="1.6" transform="rotate(142 156.8 516.1)" fill="#2e34ff"/>
<ellipse cx="114.7" cy="525.7" rx="2.1" ry="2.0" transform="rotate(150 114.7 525.7)" fill="#1f22f0"/>
<ellipse cx="145.2" cy="539.0" rx="2.5" ry="2.4" transform="rotate(42 145.2 539.0)" fill="#1f22f0"/>
<ellipse cx="119.6" cy="502.2" rx="2.1" ry="2.2" transform="rotate(98 119.6 502.2)" fill="#1f22f0"/>
<ellipse cx="154.8" cy="515.1" rx="2.3" ry="2.3" transform="rotate(46 154.8 515.1)" fill="#2828ff"/>
<ellipse cx="129.9" cy="541.0" rx="2.9" ry="1.8" transform="rotate(131 129.9 541.0)" fill="#2828ff"/>
<ellipse cx="110.0" cy="500.2" rx="2.3" ry="2.3" transform="rotate(180 110.0 500.2)" fill="#2828ff"/>
<ellipse cx="134.7" cy="518.8" rx="2.9" ry="1.9" transform="rotate(78 134.7 518.8)" fill="#2e34ff"/>
<ellipse cx="128.5" cy="542.1" rx="2.7" ry="2.1" transform="rotate(132 128.5 542.1)" fill="#2e34ff"/>
<ellipse cx="139.3" cy="539.3" rx="2.8" ry="2.1" transform="rotate(94 139.3 539.3)" fill="#1f22f0"/>
<ellipse cx="152.9" cy="541.9" rx="2.4" ry="1.7" transform="rotate(109 152.9 541.9)" fill="#2e34ff"/>
<ellipse cx="151.0" cy="504.1" rx="2.8" ry="2.1" transform="rotate(10 151.0 504.1)" fill="#1a1cd0"/>
<ellipse cx="144.9" cy="499.8" rx="2.4" ry="1.9" transform="rotate(152 144.9 499.8)" fill="#2828ff"/>
<ellipse cx="143.1" cy="537.0" rx="2.9" ry="1.9" transform="rotate(33 143.1 537.0)" fill="#2e34ff"/>
<ellipse cx="116.7" cy="536.5" rx="2.5" ry="1.7" transform="rotate(106 116.7 536.5)" fill="#1f22f0"/>
<ellipse cx="135.9" cy="545.3" rx="2.1" ry="1.9" transform="rotate(162 135.9 545.3)" fill="#2e34ff"/>
<ellipse cx="113.5" cy="508.8" rx="2.9" ry="2.1" transform="rotate(101 113.5 508.8)" fill="#2e34ff"/>
<ellipse cx="165.2" cy="544.0" rx="2.1" ry="2.2" transform="rotate(99 165.2 544.0)" fill="#2828ff"/>
<ellipse cx="130.7" cy="505.8" rx="2.4" ry="2.1" transform="rotate(62 130.7 505.8)" fill="#1a1cd0"/>
<ellipse cx="145.8" cy="518.8" rx="2.2" ry="1.7" transform="rotate(41 145.8 518.8)" fill="#1a1cd0"/>
<ellipse cx="156.8" cy="503.2" rx="2.6" ry="2.0" transform="rotate(103 156.8 503.2)" fill="#2e34ff"/>
<ellipse cx="120.5" cy="513.5" rx="2.5" ry="2.1" transform="rotate(136 120.5 513.5)" fill="#1f22f0"/>
<ellipse cx="153.4" cy="523.7" rx="2.8" ry="1.8" transform="rotate(56 153.4 523.7)" fill="#2e34ff"/>
<ellipse cx="130.6" cy="516.6" rx="2.2" ry="2.3" transform="rotate(37 130.6 516.6)" fill="#1f22f0"/>
<ellipse cx="132.0" cy="515.8" rx="2.6" ry="2.2" transform="rotate(134 132.0 515.8)" fill="#2828ff"/>
<ellipse cx="144.9" cy="539.9" rx="2.2" ry="2.1" transform="rotate(106 144.9 539.9)" fill="#1f22f0"/>
<ellipse cx="122.4" cy="521.9" rx="2.3" ry="1.8" transform="rotate(79 122.4 521.9)" fill="#2828ff"/>
<ellipse cx="144.4" cy="537.3" rx="3.0" ry="2.1" transform="rotate(143 144.4 537.3)" fill="#1f22f0"/>
<ellipse cx="124.7" cy="518.6" rx="2.6" ry="1.8" transform="rotate(35 124.7 518.6)" fill="#1f22f0"/>
<ellipse cx="130.0" cy="519.3" rx="2.9" ry="1.8" transform="rotate(80 130.0 519.3)" fill="#2828ff"/>
<ellipse cx="130.4" cy="504.5" rx="2.3" ry="2.2" transform="rotate(134 130.4 504.5)" fill="#1a1cd0"/>
<ellipse cx="122.3" cy="514.2" rx="2.2" ry="2.2" transform="rotate(45 122.3 514.2)" fill="#1a1cd0"/>
<ellipse cx="155.6" cy="541.8" rx="2.2" ry="2.3" transform="rotate(28 155.6 541.8)" fill="#1f22f0"/>
<ellipse cx="170.7" cy="524.7" rx="2.6" ry="2.3" transform="rotate(98 170.7 524.7)" fill="#2828ff"/>
<ellipse cx="143.3" cy="539.0" rx="2.0" ry="2.0" transform="rotate(172 143.3 539.0)" fill="#2828ff"/>
<ellipse cx="109.7" cy="538.8" rx="3.0" ry="1.7" transform="rotate(162 109.7 538.8)" fill="#1f22f0"/>
<ellipse cx="159.8" cy="531.5" rx="2.7" ry="2.3" transform="rotate(135 159.8 531.5)" fill="#1a1cd0"/>
<ellipse cx="150.9" cy="499.9" rx="2.9" ry="2.2" transform="rotate(12 150.9 499.9)" fill="#2828ff"/>
<ellipse cx="142.5" cy="512.4" rx="2.9" ry="1.9" transform="rotate(168 142.5 512.4)" fill="#1f22f0"/>
<ellipse cx="138.5" cy="537.1" rx="2.3" ry="1.7" transform="rotate(42 138.5 537.1)" fill="#2828ff"/>
<ellipse cx="158.9" cy="529.8" rx="2.6" ry="1.6" transform="rotate(5 158.9 529.8)" fill="#2e34ff"/>
<ellipse cx="110.7" cy="520.4" rx="2.2" ry="2.0" transform="rotate(29 110.7 520.4)" fill="#2e34ff"/>
<ellipse cx="159.5" cy="538.4" rx="2.8" ry="1.6" transform="rotate(42 159.5 538.4)" fill="#2828ff"/>
<ellipse cx="147.2" cy="544.1" rx="2.0" ry="1.6" transform="rotate(108 147.2 544.1)" fill="#2828ff"/>
<ellipse cx="157.1" cy="500.6" rx="2.6" ry="1.9" transform="rotate(33 157.1 500.6)" fill="#1a1cd0"/>
<ellipse cx="122.9" cy="518.1" rx="2.7" ry="2.4" transform="rotate(30 122.9 518.1)" fill="#1f22f0"/>
<ellipse cx="121.6" cy="510.2" rx="2.8" ry="2.2" transform="rotate(39 121.6 510.2)" fill="#1a1cd0"/>
<ellipse cx="168.8" cy="539.0" rx="2.3" ry="2.2" transform="rotate(60 168.8 539.0)" fill="#2828ff"/>
<ellipse cx="169.6" cy="537.2" rx="2.7" ry="1.8" transform="rotate(13 169.6 537.2)" fill="#2828ff"/>
<ellipse cx="140.7" cy="516.5" rx="2.4" ry="2.4" transform="rotate(33 140.7 516.5)" fill="#2e34ff"/>
<ellipse cx="160.4" cy="518.7" rx="2.4" ry="2.2" transform="rotate(25 160.4 518.7)" fill="#1a1cd0"/>
<ellipse cx="147.5" cy="514.4" rx="2.9" ry="2.4" transform="rotate(39 147.5 514.4)" fill="#1a1cd0"/>
<ellipse cx="129.5" cy="506.0" rx="2.1" ry="2.3" transform="rotate(10 129.5 506.0)" fill="#1f22f0"/>
<ellipse cx="125.4" cy="520.5" rx="2.7" ry="1.9" transform="rotate(72 125.4 520.5)" fill="#2e34ff"/>
<ellipse cx="110.2" cy="515.0" rx="2.8" ry="1.7" transform="rotate(129 110.2 515.0)" fill="#1f22f0"/>
<ellipse cx="160.6" cy="514.4" rx="2.8" ry="2.2" transform="rotate(166 160.6 514.4)" fill="#2828ff"/>
<ellipse cx="143.2" cy="504.8" rx="2.1" ry="1.6" transform="rotate(28 143.2 504.8)" fill="#1a1cd0"/>
<ellipse cx="157.7" cy="511.8" rx="2.5" ry="2.4" transform="rotate(120 157.7 511.8)" fill="#1f22f0"/>
<ellipse cx="143.0" cy="521.8" rx="2.6" ry="2.3" transform="rotate(146 143.0 521.8)" fill="#2828ff"/>
<ellipse cx="143.7" cy="544.3" rx="2.0" ry="1.6" transform="rotate(69 143.7 544.3)" fill="#2828ff"/>
<ellipse cx="149.7" cy="519.9" rx="2.9" ry="2.0" transform="rotate(22 149.7 519.9)" fill="#2e34ff"/>
<ellipse cx="163.2" cy="532.7" rx="2.2" ry="1.8" transform="rotate(87 163.2 532.7)" fill="#2828ff"/>
<ellipse cx="117.5" cy="529.8" rx="3.0" ry="1.7" transform="rotate(22 117.5 529.8)" fill="#1f22f0"/>
<ellipse cx="130.0" cy="535.1" rx="2.1" ry="2.2" transform="rotate(145 130.0 535.1)" fill="#2828ff"/>
<ellipse cx="121.3" cy="505.6" rx="2.1" ry="2.2" transform="rotate(131 121.3 505.6)" fill="#2828ff"/>
<ellipse cx="111.2" cy="514.5" rx="2.2" ry="2.3" transform="rotate(145 111.2 514.5)" fill="#2828ff"/>
<ellipse cx="135.3" cy="531.6" rx="2.3" ry="2.0" transform="rotate(180 135.3 531.6)" fill="#1f22f0"/>
<ellipse cx="109.5" cy="531.8" rx="2.4" ry="1.9" transform="rotate(139 109.5 531.8)" fill="#2828ff"/>
<ellipse cx="131.2" cy="520.6" rx="2.4" ry="1.8" transform="rotate(125 131.2 520.6)" fill="#2e34ff"/>
<ellipse cx="144.9" cy="544.3" rx="2.0" ry="2.2" transform="rotate(135 144.9 544.3)" fill="#2828ff"/>
<ellipse cx="148.4" cy="538.4" rx="2.7" ry="2.3" transform="rotate(92 148.4 538.4)" fill="#2e34ff"/>
</g><g filter="url(#gl)">
<ellipse cx="127.4" cy="524.9" rx="2.6" ry="2.0" transform="rotate(134 127.4 524.9)" fill="#b030c0" stroke="#ff1850" stroke-width="0.9"/>
<ellipse cx="141.6" cy="533.5" rx="2.9" ry="2.3" transform="rotate(6 141.6 533.5)" fill="#b030c0" stroke="#ff1850" stroke-width="0.9"/>
<ellipse cx="143.5" cy="510.4" rx="3.1" ry="2.5" transform="rotate(112 143.5 510.4)" fill="#b030c0" stroke="#ff1850" stroke-width="0.9"/>
<ellipse cx="151.0" cy="538.4" rx="3.0" ry="2.4" transform="rotate(57 151.0 538.4)" fill="#b030c0" stroke="#ff1850" stroke-width="0.9"/>
<ellipse cx="161.3" cy="511.8" rx="3.0" ry="2.4" transform="rotate(10 161.3 511.8)" fill="#b030c0" stroke="#ff1850" stroke-width="0.9"/>
<ellipse cx="115.0" cy="525.4" rx="2.9" ry="2.3" transform="rotate(3 115.0 525.4)" fill="#b030c0" stroke="#ff1850" stroke-width="0.9"/>
<ellipse cx="149.3" cy="523.4" rx="2.3" ry="1.8" transform="rotate(176 149.3 523.4)" fill="#b030c0" stroke="#ff1850" stroke-width="0.9"/>
<ellipse cx="126.2" cy="536.7" rx="2.8" ry="2.2" transform="rotate(72 126.2 536.7)" fill="#b030c0" stroke="#ff1850" stroke-width="0.9"/>
</g></g>
<text x="112.50" y="509.00" font-size="7.8" text-anchor="start" fill="#e8204c" stroke="#e8204c" stroke-width="0.18">CD8</text>
<line x1="153.30" y1="533.40" x2="166.50" y2="533.40" stroke="#fff" stroke-width="1.2"/>
<text x="148.80" y="540.70" font-size="7.5" text-anchor="start" fill="#fff" stroke="#fff" stroke-width="0.18">20 μm</text>
<clipPath id="ic203_1"><rect x="111.5" y="545.20" width="57.3" height="42.1"/></clipPath>
<g clip-path="url(#ic203_1)">
<rect x="111.50" y="545.20" width="57.30" height="42.10" fill="#05051c" stroke="none" stroke-width="1"/>
<g filter="url(#gl3)">
<ellipse cx="115.1" cy="582.0" rx="2.6" ry="1.8" transform="rotate(140 115.1 582.0)" fill="#1a1cd0"/>
<ellipse cx="147.0" cy="576.5" rx="2.8" ry="1.9" transform="rotate(17 147.0 576.5)" fill="#2828ff"/>
<ellipse cx="116.7" cy="568.9" rx="3.0" ry="1.9" transform="rotate(47 116.7 568.9)" fill="#2e34ff"/>
<ellipse cx="136.7" cy="565.9" rx="2.1" ry="2.4" transform="rotate(82 136.7 565.9)" fill="#2e34ff"/>
<ellipse cx="125.4" cy="551.5" rx="2.0" ry="2.3" transform="rotate(68 125.4 551.5)" fill="#2828ff"/>
<ellipse cx="139.0" cy="583.3" rx="2.1" ry="2.1" transform="rotate(149 139.0 583.3)" fill="#1a1cd0"/>
<ellipse cx="150.8" cy="579.0" rx="2.6" ry="1.6" transform="rotate(147 150.8 579.0)" fill="#2828ff"/>
<ellipse cx="154.7" cy="545.2" rx="2.8" ry="1.7" transform="rotate(142 154.7 545.2)" fill="#1f22f0"/>
<ellipse cx="134.3" cy="555.1" rx="2.8" ry="2.0" transform="rotate(133 134.3 555.1)" fill="#1f22f0"/>
<ellipse cx="112.3" cy="551.6" rx="2.4" ry="2.2" transform="rotate(115 112.3 551.6)" fill="#2e34ff"/>
<ellipse cx="141.1" cy="588.1" rx="2.0" ry="1.9" transform="rotate(25 141.1 588.1)" fill="#1a1cd0"/>
<ellipse cx="170.0" cy="576.2" rx="2.7" ry="2.1" transform="rotate(70 170.0 576.2)" fill="#2e34ff"/>
<ellipse cx="126.9" cy="550.3" rx="2.3" ry="1.7" transform="rotate(121 126.9 550.3)" fill="#1f22f0"/>
<ellipse cx="148.8" cy="580.2" rx="2.2" ry="2.2" transform="rotate(13 148.8 580.2)" fill="#1f22f0"/>
<ellipse cx="122.8" cy="568.0" rx="2.7" ry="2.0" transform="rotate(43 122.8 568.0)" fill="#2828ff"/>
<ellipse cx="132.6" cy="546.5" rx="2.3" ry="1.8" transform="rotate(15 132.6 546.5)" fill="#1a1cd0"/>
<ellipse cx="123.0" cy="568.7" rx="2.9" ry="2.2" transform="rotate(19 123.0 568.7)" fill="#1a1cd0"/>
<ellipse cx="135.8" cy="578.7" rx="2.4" ry="2.0" transform="rotate(5 135.8 578.7)" fill="#1f22f0"/>
<ellipse cx="154.2" cy="576.9" rx="2.9" ry="2.3" transform="rotate(58 154.2 576.9)" fill="#1f22f0"/>
<ellipse cx="114.3" cy="580.7" rx="2.2" ry="1.8" transform="rotate(22 114.3 580.7)" fill="#2828ff"/>
<ellipse cx="114.9" cy="575.3" rx="2.9" ry="2.1" transform="rotate(116 114.9 575.3)" fill="#2828ff"/>
<ellipse cx="109.5" cy="572.6" rx="2.7" ry="2.1" transform="rotate(92 109.5 572.6)" fill="#1a1cd0"/>
<ellipse cx="132.8" cy="566.0" rx="2.1" ry="1.9" transform="rotate(7 132.8 566.0)" fill="#1f22f0"/>
<ellipse cx="163.6" cy="564.7" rx="2.9" ry="2.2" transform="rotate(175 163.6 564.7)" fill="#2e34ff"/>
<ellipse cx="135.4" cy="572.5" rx="2.7" ry="1.8" transform="rotate(31 135.4 572.5)" fill="#1a1cd0"/>
<ellipse cx="115.5" cy="587.2" rx="2.8" ry="1.8" transform="rotate(60 115.5 587.2)" fill="#2e34ff"/>
<ellipse cx="142.9" cy="556.6" rx="2.6" ry="1.9" transform="rotate(158 142.9 556.6)" fill="#2828ff"/>
<ellipse cx="165.4" cy="550.7" rx="2.9" ry="2.2" transform="rotate(68 165.4 550.7)" fill="#1a1cd0"/>
<ellipse cx="167.7" cy="566.4" rx="2.8" ry="2.0" transform="rotate(163 167.7 566.4)" fill="#1f22f0"/>
<ellipse cx="136.3" cy="562.8" rx="2.7" ry="2.2" transform="rotate(81 136.3 562.8)" fill="#1f22f0"/>
<ellipse cx="126.0" cy="556.1" rx="2.4" ry="1.6" transform="rotate(91 126.0 556.1)" fill="#2e34ff"/>
<ellipse cx="154.5" cy="555.5" rx="2.0" ry="1.8" transform="rotate(18 154.5 555.5)" fill="#1a1cd0"/>
<ellipse cx="130.5" cy="560.0" rx="2.9" ry="1.7" transform="rotate(160 130.5 560.0)" fill="#2828ff"/>
<ellipse cx="117.5" cy="552.8" rx="2.3" ry="2.2" transform="rotate(64 117.5 552.8)" fill="#2828ff"/>
<ellipse cx="140.7" cy="549.3" rx="2.9" ry="2.1" transform="rotate(122 140.7 549.3)" fill="#1f22f0"/>
<ellipse cx="113.3" cy="550.3" rx="2.5" ry="2.1" transform="rotate(30 113.3 550.3)" fill="#1f22f0"/>
<ellipse cx="166.6" cy="552.1" rx="2.9" ry="2.3" transform="rotate(17 166.6 552.1)" fill="#1f22f0"/>
<ellipse cx="167.0" cy="585.1" rx="3.0" ry="2.1" transform="rotate(108 167.0 585.1)" fill="#2e34ff"/>
<ellipse cx="135.2" cy="558.8" rx="2.6" ry="2.2" transform="rotate(40 135.2 558.8)" fill="#1f22f0"/>
<ellipse cx="163.3" cy="552.9" rx="2.2" ry="2.2" transform="rotate(73 163.3 552.9)" fill="#1a1cd0"/>
<ellipse cx="165.0" cy="581.6" rx="2.0" ry="1.6" transform="rotate(82 165.0 581.6)" fill="#1a1cd0"/>
<ellipse cx="120.9" cy="564.6" rx="2.9" ry="1.9" transform="rotate(54 120.9 564.6)" fill="#1a1cd0"/>
<ellipse cx="138.3" cy="587.9" rx="2.1" ry="2.1" transform="rotate(21 138.3 587.9)" fill="#1f22f0"/>
<ellipse cx="115.3" cy="571.2" rx="2.2" ry="1.7" transform="rotate(106 115.3 571.2)" fill="#1a1cd0"/>
<ellipse cx="156.8" cy="560.1" rx="2.1" ry="1.6" transform="rotate(142 156.8 560.1)" fill="#2e34ff"/>
<ellipse cx="114.7" cy="569.7" rx="2.1" ry="2.0" transform="rotate(150 114.7 569.7)" fill="#1f22f0"/>
<ellipse cx="145.2" cy="583.0" rx="2.5" ry="2.4" transform="rotate(42 145.2 583.0)" fill="#1f22f0"/>
<ellipse cx="119.6" cy="546.2" rx="2.1" ry="2.2" transform="rotate(98 119.6 546.2)" fill="#1f22f0"/>
<ellipse cx="154.8" cy="559.1" rx="2.3" ry="2.3" transform="rotate(46 154.8 559.1)" fill="#2828ff"/>
<ellipse cx="129.9" cy="585.0" rx="2.9" ry="1.8" transform="rotate(131 129.9 585.0)" fill="#2828ff"/>
<ellipse cx="110.0" cy="544.2" rx="2.3" ry="2.3" transform="rotate(180 110.0 544.2)" fill="#2828ff"/>
<ellipse cx="134.7" cy="562.8" rx="2.9" ry="1.9" transform="rotate(78 134.7 562.8)" fill="#2e34ff"/>
<ellipse cx="128.5" cy="586.1" rx="2.7" ry="2.1" transform="rotate(132 128.5 586.1)" fill="#2e34ff"/>
<ellipse cx="139.3" cy="583.3" rx="2.8" ry="2.1" transform="rotate(94 139.3 583.3)" fill="#1f22f0"/>
<ellipse cx="152.9" cy="585.9" rx="2.4" ry="1.7" transform="rotate(109 152.9 585.9)" fill="#2e34ff"/>
<ellipse cx="151.0" cy="548.1" rx="2.8" ry="2.1" transform="rotate(10 151.0 548.1)" fill="#1a1cd0"/>
<ellipse cx="144.9" cy="543.8" rx="2.4" ry="1.9" transform="rotate(152 144.9 543.8)" fill="#2828ff"/>
<ellipse cx="143.1" cy="581.0" rx="2.9" ry="1.9" transform="rotate(33 143.1 581.0)" fill="#2e34ff"/>
<ellipse cx="116.7" cy="580.5" rx="2.5" ry="1.7" transform="rotate(106 116.7 580.5)" fill="#1f22f0"/>
<ellipse cx="135.9" cy="589.3" rx="2.1" ry="1.9" transform="rotate(162 135.9 589.3)" fill="#2e34ff"/>
<ellipse cx="113.5" cy="552.8" rx="2.9" ry="2.1" transform="rotate(101 113.5 552.8)" fill="#2e34ff"/>
<ellipse cx="165.2" cy="588.0" rx="2.1" ry="2.2" transform="rotate(99 165.2 588.0)" fill="#2828ff"/>
<ellipse cx="130.7" cy="549.8" rx="2.4" ry="2.1" transform="rotate(62 130.7 549.8)" fill="#1a1cd0"/>
<ellipse cx="145.8" cy="562.8" rx="2.2" ry="1.7" transform="rotate(41 145.8 562.8)" fill="#1a1cd0"/>
<ellipse cx="156.8" cy="547.2" rx="2.6" ry="2.0" transform="rotate(103 156.8 547.2)" fill="#2e34ff"/>
<ellipse cx="120.5" cy="557.5" rx="2.5" ry="2.1" transform="rotate(136 120.5 557.5)" fill="#1f22f0"/>
<ellipse cx="153.4" cy="567.7" rx="2.8" ry="1.8" transform="rotate(56 153.4 567.7)" fill="#2e34ff"/>
<ellipse cx="130.6" cy="560.6" rx="2.2" ry="2.3" transform="rotate(37 130.6 560.6)" fill="#1f22f0"/>
<ellipse cx="132.0" cy="559.8" rx="2.6" ry="2.2" transform="rotate(134 132.0 559.8)" fill="#2828ff"/>
<ellipse cx="144.9" cy="583.9" rx="2.2" ry="2.1" transform="rotate(106 144.9 583.9)" fill="#1f22f0"/>
<ellipse cx="122.4" cy="565.9" rx="2.3" ry="1.8" transform="rotate(79 122.4 565.9)" fill="#2828ff"/>
<ellipse cx="144.4" cy="581.3" rx="3.0" ry="2.1" transform="rotate(143 144.4 581.3)" fill="#1f22f0"/>
<ellipse cx="124.7" cy="562.6" rx="2.6" ry="1.8" transform="rotate(35 124.7 562.6)" fill="#1f22f0"/>
<ellipse cx="130.0" cy="563.3" rx="2.9" ry="1.8" transform="rotate(80 130.0 563.3)" fill="#2828ff"/>
<ellipse cx="130.4" cy="548.5" rx="2.3" ry="2.2" transform="rotate(134 130.4 548.5)" fill="#1a1cd0"/>
<ellipse cx="122.3" cy="558.2" rx="2.2" ry="2.2" transform="rotate(45 122.3 558.2)" fill="#1a1cd0"/>
<ellipse cx="155.6" cy="585.8" rx="2.2" ry="2.3" transform="rotate(28 155.6 585.8)" fill="#1f22f0"/>
<ellipse cx="170.7" cy="568.7" rx="2.6" ry="2.3" transform="rotate(98 170.7 568.7)" fill="#2828ff"/>
<ellipse cx="143.3" cy="583.0" rx="2.0" ry="2.0" transform="rotate(172 143.3 583.0)" fill="#2828ff"/>
<ellipse cx="109.7" cy="582.8" rx="3.0" ry="1.7" transform="rotate(162 109.7 582.8)" fill="#1f22f0"/>
<ellipse cx="159.8" cy="575.5" rx="2.7" ry="2.3" transform="rotate(135 159.8 575.5)" fill="#1a1cd0"/>
<ellipse cx="150.9" cy="543.9" rx="2.9" ry="2.2" transform="rotate(12 150.9 543.9)" fill="#2828ff"/>
<ellipse cx="142.5" cy="556.4" rx="2.9" ry="1.9" transform="rotate(168 142.5 556.4)" fill="#1f22f0"/>
<ellipse cx="138.5" cy="581.1" rx="2.3" ry="1.7" transform="rotate(42 138.5 581.1)" fill="#2828ff"/>
<ellipse cx="158.9" cy="573.8" rx="2.6" ry="1.6" transform="rotate(5 158.9 573.8)" fill="#2e34ff"/>
<ellipse cx="110.7" cy="564.4" rx="2.2" ry="2.0" transform="rotate(29 110.7 564.4)" fill="#2e34ff"/>
<ellipse cx="159.5" cy="582.4" rx="2.8" ry="1.6" transform="rotate(42 159.5 582.4)" fill="#2828ff"/>
<ellipse cx="147.2" cy="588.1" rx="2.0" ry="1.6" transform="rotate(108 147.2 588.1)" fill="#2828ff"/>
<ellipse cx="157.1" cy="544.6" rx="2.6" ry="1.9" transform="rotate(33 157.1 544.6)" fill="#1a1cd0"/>
<ellipse cx="122.9" cy="562.1" rx="2.7" ry="2.4" transform="rotate(30 122.9 562.1)" fill="#1f22f0"/>
<ellipse cx="121.6" cy="554.2" rx="2.8" ry="2.2" transform="rotate(39 121.6 554.2)" fill="#1a1cd0"/>
<ellipse cx="168.8" cy="583.0" rx="2.3" ry="2.2" transform="rotate(60 168.8 583.0)" fill="#2828ff"/>
<ellipse cx="169.6" cy="581.2" rx="2.7" ry="1.8" transform="rotate(13 169.6 581.2)" fill="#2828ff"/>
<ellipse cx="140.7" cy="560.5" rx="2.4" ry="2.4" transform="rotate(33 140.7 560.5)" fill="#2e34ff"/>
<ellipse cx="160.4" cy="562.7" rx="2.4" ry="2.2" transform="rotate(25 160.4 562.7)" fill="#1a1cd0"/>
<ellipse cx="147.5" cy="558.4" rx="2.9" ry="2.4" transform="rotate(39 147.5 558.4)" fill="#1a1cd0"/>
<ellipse cx="129.5" cy="550.0" rx="2.1" ry="2.3" transform="rotate(10 129.5 550.0)" fill="#1f22f0"/>
<ellipse cx="125.4" cy="564.5" rx="2.7" ry="1.9" transform="rotate(72 125.4 564.5)" fill="#2e34ff"/>
<ellipse cx="110.2" cy="559.0" rx="2.8" ry="1.7" transform="rotate(129 110.2 559.0)" fill="#1f22f0"/>
<ellipse cx="160.6" cy="558.4" rx="2.8" ry="2.2" transform="rotate(166 160.6 558.4)" fill="#2828ff"/>
<ellipse cx="143.2" cy="548.8" rx="2.1" ry="1.6" transform="rotate(28 143.2 548.8)" fill="#1a1cd0"/>
<ellipse cx="157.7" cy="555.8" rx="2.5" ry="2.4" transform="rotate(120 157.7 555.8)" fill="#1f22f0"/>
<ellipse cx="143.0" cy="565.8" rx="2.6" ry="2.3" transform="rotate(146 143.0 565.8)" fill="#2828ff"/>
<ellipse cx="143.7" cy="588.3" rx="2.0" ry="1.6" transform="rotate(69 143.7 588.3)" fill="#2828ff"/>
<ellipse cx="149.7" cy="563.9" rx="2.9" ry="2.0" transform="rotate(22 149.7 563.9)" fill="#2e34ff"/>
<ellipse cx="163.2" cy="576.7" rx="2.2" ry="1.8" transform="rotate(87 163.2 576.7)" fill="#2828ff"/>
<ellipse cx="117.5" cy="573.8" rx="3.0" ry="1.7" transform="rotate(22 117.5 573.8)" fill="#1f22f0"/>
<ellipse cx="130.0" cy="579.1" rx="2.1" ry="2.2" transform="rotate(145 130.0 579.1)" fill="#2828ff"/>
<ellipse cx="121.3" cy="549.6" rx="2.1" ry="2.2" transform="rotate(131 121.3 549.6)" fill="#2828ff"/>
<ellipse cx="111.2" cy="558.5" rx="2.2" ry="2.3" transform="rotate(145 111.2 558.5)" fill="#2828ff"/>
<ellipse cx="135.3" cy="575.6" rx="2.3" ry="2.0" transform="rotate(180 135.3 575.6)" fill="#1f22f0"/>
<ellipse cx="109.5" cy="575.8" rx="2.4" ry="1.9" transform="rotate(139 109.5 575.8)" fill="#2828ff"/>
<ellipse cx="131.2" cy="564.6" rx="2.4" ry="1.8" transform="rotate(125 131.2 564.6)" fill="#2e34ff"/>
<ellipse cx="144.9" cy="588.3" rx="2.0" ry="2.2" transform="rotate(135 144.9 588.3)" fill="#2828ff"/>
<ellipse cx="148.4" cy="582.4" rx="2.7" ry="2.3" transform="rotate(92 148.4 582.4)" fill="#2e34ff"/>
</g><g filter="url(#gl)">
<ellipse cx="149.3" cy="567.4" rx="2.3" ry="1.8" transform="rotate(176 149.3 567.4)" fill="#1fa0a0"/>
<ellipse cx="126.2" cy="580.7" rx="2.8" ry="2.2" transform="rotate(72 126.2 580.7)" fill="#1fa0a0"/>
<ellipse cx="150.7" cy="551.1" rx="2.5" ry="2.0" transform="rotate(35 150.7 551.1)" fill="#1fa0a0"/>
</g></g>
<text x="112.50" y="553.00" font-size="7.8" text-anchor="start" fill="#40c840" stroke="#40c840" stroke-width="0.18">IFNG</text>
<line x1="153.30" y1="577.40" x2="166.50" y2="577.40" stroke="#fff" stroke-width="1.2"/>
<text x="148.80" y="584.70" font-size="7.5" text-anchor="start" fill="#fff" stroke="#fff" stroke-width="0.18">20 μm</text>
<clipPath id="ic203_2"><rect x="111.5" y="589.20" width="57.3" height="42.1"/></clipPath>
<g clip-path="url(#ic203_2)">
<rect x="111.50" y="589.20" width="57.30" height="42.10" fill="#05051c" stroke="none" stroke-width="1"/>
<g filter="url(#gl3)">
<ellipse cx="115.1" cy="626.0" rx="2.6" ry="1.8" transform="rotate(140 115.1 626.0)" fill="#1a1cd0"/>
<ellipse cx="147.0" cy="620.5" rx="2.8" ry="1.9" transform="rotate(17 147.0 620.5)" fill="#2828ff"/>
<ellipse cx="116.7" cy="612.9" rx="3.0" ry="1.9" transform="rotate(47 116.7 612.9)" fill="#2e34ff"/>
<ellipse cx="136.7" cy="609.9" rx="2.1" ry="2.4" transform="rotate(82 136.7 609.9)" fill="#2e34ff"/>
<ellipse cx="125.4" cy="595.5" rx="2.0" ry="2.3" transform="rotate(68 125.4 595.5)" fill="#2828ff"/>
<ellipse cx="139.0" cy="627.3" rx="2.1" ry="2.1" transform="rotate(149 139.0 627.3)" fill="#1a1cd0"/>
<ellipse cx="150.8" cy="623.0" rx="2.6" ry="1.6" transform="rotate(147 150.8 623.0)" fill="#2828ff"/>
<ellipse cx="154.7" cy="589.2" rx="2.8" ry="1.7" transform="rotate(142 154.7 589.2)" fill="#1f22f0"/>
<ellipse cx="134.3" cy="599.1" rx="2.8" ry="2.0" transform="rotate(133 134.3 599.1)" fill="#1f22f0"/>
<ellipse cx="112.3" cy="595.6" rx="2.4" ry="2.2" transform="rotate(115 112.3 595.6)" fill="#2e34ff"/>
<ellipse cx="141.1" cy="632.1" rx="2.0" ry="1.9" transform="rotate(25 141.1 632.1)" fill="#1a1cd0"/>
<ellipse cx="170.0" cy="620.2" rx="2.7" ry="2.1" transform="rotate(70 170.0 620.2)" fill="#2e34ff"/>
<ellipse cx="126.9" cy="594.3" rx="2.3" ry="1.7" transform="rotate(121 126.9 594.3)" fill="#1f22f0"/>
<ellipse cx="148.8" cy="624.2" rx="2.2" ry="2.2" transform="rotate(13 148.8 624.2)" fill="#1f22f0"/>
<ellipse cx="122.8" cy="612.0" rx="2.7" ry="2.0" transform="rotate(43 122.8 612.0)" fill="#2828ff"/>
<ellipse cx="132.6" cy="590.5" rx="2.3" ry="1.8" transform="rotate(15 132.6 590.5)" fill="#1a1cd0"/>
<ellipse cx="123.0" cy="612.7" rx="2.9" ry="2.2" transform="rotate(19 123.0 612.7)" fill="#1a1cd0"/>
<ellipse cx="135.8" cy="622.7" rx="2.4" ry="2.0" transform="rotate(5 135.8 622.7)" fill="#1f22f0"/>
<ellipse cx="154.2" cy="620.9" rx="2.9" ry="2.3" transform="rotate(58 154.2 620.9)" fill="#1f22f0"/>
<ellipse cx="114.3" cy="624.7" rx="2.2" ry="1.8" transform="rotate(22 114.3 624.7)" fill="#2828ff"/>
<ellipse cx="114.9" cy="619.3" rx="2.9" ry="2.1" transform="rotate(116 114.9 619.3)" fill="#2828ff"/>
<ellipse cx="109.5" cy="616.6" rx="2.7" ry="2.1" transform="rotate(92 109.5 616.6)" fill="#1a1cd0"/>
<ellipse cx="132.8" cy="610.0" rx="2.1" ry="1.9" transform="rotate(7 132.8 610.0)" fill="#1f22f0"/>
<ellipse cx="163.6" cy="608.7" rx="2.9" ry="2.2" transform="rotate(175 163.6 608.7)" fill="#2e34ff"/>
<ellipse cx="135.4" cy="616.5" rx="2.7" ry="1.8" transform="rotate(31 135.4 616.5)" fill="#1a1cd0"/>
<ellipse cx="115.5" cy="631.2" rx="2.8" ry="1.8" transform="rotate(60 115.5 631.2)" fill="#2e34ff"/>
<ellipse cx="142.9" cy="600.6" rx="2.6" ry="1.9" transform="rotate(158 142.9 600.6)" fill="#2828ff"/>
<ellipse cx="165.4" cy="594.7" rx="2.9" ry="2.2" transform="rotate(68 165.4 594.7)" fill="#1a1cd0"/>
<ellipse cx="167.7" cy="610.4" rx="2.8" ry="2.0" transform="rotate(163 167.7 610.4)" fill="#1f22f0"/>
<ellipse cx="136.3" cy="606.8" rx="2.7" ry="2.2" transform="rotate(81 136.3 606.8)" fill="#1f22f0"/>
<ellipse cx="126.0" cy="600.1" rx="2.4" ry="1.6" transform="rotate(91 126.0 600.1)" fill="#2e34ff"/>
<ellipse cx="154.5" cy="599.5" rx="2.0" ry="1.8" transform="rotate(18 154.5 599.5)" fill="#1a1cd0"/>
<ellipse cx="130.5" cy="604.0" rx="2.9" ry="1.7" transform="rotate(160 130.5 604.0)" fill="#2828ff"/>
<ellipse cx="117.5" cy="596.8" rx="2.3" ry="2.2" transform="rotate(64 117.5 596.8)" fill="#2828ff"/>
<ellipse cx="140.7" cy="593.3" rx="2.9" ry="2.1" transform="rotate(122 140.7 593.3)" fill="#1f22f0"/>
<ellipse cx="113.3" cy="594.3" rx="2.5" ry="2.1" transform="rotate(30 113.3 594.3)" fill="#1f22f0"/>
<ellipse cx="166.6" cy="596.1" rx="2.9" ry="2.3" transform="rotate(17 166.6 596.1)" fill="#1f22f0"/>
<ellipse cx="167.0" cy="629.1" rx="3.0" ry="2.1" transform="rotate(108 167.0 629.1)" fill="#2e34ff"/>
<ellipse cx="135.2" cy="602.8" rx="2.6" ry="2.2" transform="rotate(40 135.2 602.8)" fill="#1f22f0"/>
<ellipse cx="163.3" cy="596.9" rx="2.2" ry="2.2" transform="rotate(73 163.3 596.9)" fill="#1a1cd0"/>
<ellipse cx="165.0" cy="625.6" rx="2.0" ry="1.6" transform="rotate(82 165.0 625.6)" fill="#1a1cd0"/>
<ellipse cx="120.9" cy="608.6" rx="2.9" ry="1.9" transform="rotate(54 120.9 608.6)" fill="#1a1cd0"/>
<ellipse cx="138.3" cy="631.9" rx="2.1" ry="2.1" transform="rotate(21 138.3 631.9)" fill="#1f22f0"/>
<ellipse cx="115.3" cy="615.2" rx="2.2" ry="1.7" transform="rotate(106 115.3 615.2)" fill="#1a1cd0"/>
<ellipse cx="156.8" cy="604.1" rx="2.1" ry="1.6" transform="rotate(142 156.8 604.1)" fill="#2e34ff"/>
<ellipse cx="114.7" cy="613.7" rx="2.1" ry="2.0" transform="rotate(150 114.7 613.7)" fill="#1f22f0"/>
<ellipse cx="145.2" cy="627.0" rx="2.5" ry="2.4" transform="rotate(42 145.2 627.0)" fill="#1f22f0"/>
<ellipse cx="119.6" cy="590.2" rx="2.1" ry="2.2" transform="rotate(98 119.6 590.2)" fill="#1f22f0"/>
<ellipse cx="154.8" cy="603.1" rx="2.3" ry="2.3" transform="rotate(46 154.8 603.1)" fill="#2828ff"/>
<ellipse cx="129.9" cy="629.0" rx="2.9" ry="1.8" transform="rotate(131 129.9 629.0)" fill="#2828ff"/>
<ellipse cx="110.0" cy="588.2" rx="2.3" ry="2.3" transform="rotate(180 110.0 588.2)" fill="#2828ff"/>
<ellipse cx="134.7" cy="606.8" rx="2.9" ry="1.9" transform="rotate(78 134.7 606.8)" fill="#2e34ff"/>
<ellipse cx="128.5" cy="630.1" rx="2.7" ry="2.1" transform="rotate(132 128.5 630.1)" fill="#2e34ff"/>
<ellipse cx="139.3" cy="627.3" rx="2.8" ry="2.1" transform="rotate(94 139.3 627.3)" fill="#1f22f0"/>
<ellipse cx="152.9" cy="629.9" rx="2.4" ry="1.7" transform="rotate(109 152.9 629.9)" fill="#2e34ff"/>
<ellipse cx="151.0" cy="592.1" rx="2.8" ry="2.1" transform="rotate(10 151.0 592.1)" fill="#1a1cd0"/>
<ellipse cx="144.9" cy="587.8" rx="2.4" ry="1.9" transform="rotate(152 144.9 587.8)" fill="#2828ff"/>
<ellipse cx="143.1" cy="625.0" rx="2.9" ry="1.9" transform="rotate(33 143.1 625.0)" fill="#2e34ff"/>
<ellipse cx="116.7" cy="624.5" rx="2.5" ry="1.7" transform="rotate(106 116.7 624.5)" fill="#1f22f0"/>
<ellipse cx="135.9" cy="633.3" rx="2.1" ry="1.9" transform="rotate(162 135.9 633.3)" fill="#2e34ff"/>
<ellipse cx="113.5" cy="596.8" rx="2.9" ry="2.1" transform="rotate(101 113.5 596.8)" fill="#2e34ff"/>
<ellipse cx="165.2" cy="632.0" rx="2.1" ry="2.2" transform="rotate(99 165.2 632.0)" fill="#2828ff"/>
<ellipse cx="130.7" cy="593.8" rx="2.4" ry="2.1" transform="rotate(62 130.7 593.8)" fill="#1a1cd0"/>
<ellipse cx="145.8" cy="606.8" rx="2.2" ry="1.7" transform="rotate(41 145.8 606.8)" fill="#1a1cd0"/>
<ellipse cx="156.8" cy="591.2" rx="2.6" ry="2.0" transform="rotate(103 156.8 591.2)" fill="#2e34ff"/>
<ellipse cx="120.5" cy="601.5" rx="2.5" ry="2.1" transform="rotate(136 120.5 601.5)" fill="#1f22f0"/>
<ellipse cx="153.4" cy="611.7" rx="2.8" ry="1.8" transform="rotate(56 153.4 611.7)" fill="#2e34ff"/>
<ellipse cx="130.6" cy="604.6" rx="2.2" ry="2.3" transform="rotate(37 130.6 604.6)" fill="#1f22f0"/>
<ellipse cx="132.0" cy="603.8" rx="2.6" ry="2.2" transform="rotate(134 132.0 603.8)" fill="#2828ff"/>
<ellipse cx="144.9" cy="627.9" rx="2.2" ry="2.1" transform="rotate(106 144.9 627.9)" fill="#1f22f0"/>
<ellipse cx="122.4" cy="609.9" rx="2.3" ry="1.8" transform="rotate(79 122.4 609.9)" fill="#2828ff"/>
<ellipse cx="144.4" cy="625.3" rx="3.0" ry="2.1" transform="rotate(143 144.4 625.3)" fill="#1f22f0"/>
<ellipse cx="124.7" cy="606.6" rx="2.6" ry="1.8" transform="rotate(35 124.7 606.6)" fill="#1f22f0"/>
<ellipse cx="130.0" cy="607.3" rx="2.9" ry="1.8" transform="rotate(80 130.0 607.3)" fill="#2828ff"/>
<ellipse cx="130.4" cy="592.5" rx="2.3" ry="2.2" transform="rotate(134 130.4 592.5)" fill="#1a1cd0"/>
<ellipse cx="122.3" cy="602.2" rx="2.2" ry="2.2" transform="rotate(45 122.3 602.2)" fill="#1a1cd0"/>
<ellipse cx="155.6" cy="629.8" rx="2.2" ry="2.3" transform="rotate(28 155.6 629.8)" fill="#1f22f0"/>
<ellipse cx="170.7" cy="612.7" rx="2.6" ry="2.3" transform="rotate(98 170.7 612.7)" fill="#2828ff"/>
<ellipse cx="143.3" cy="627.0" rx="2.0" ry="2.0" transform="rotate(172 143.3 627.0)" fill="#2828ff"/>
<ellipse cx="109.7" cy="626.8" rx="3.0" ry="1.7" transform="rotate(162 109.7 626.8)" fill="#1f22f0"/>
<ellipse cx="159.8" cy="619.5" rx="2.7" ry="2.3" transform="rotate(135 159.8 619.5)" fill="#1a1cd0"/>
<ellipse cx="150.9" cy="587.9" rx="2.9" ry="2.2" transform="rotate(12 150.9 587.9)" fill="#2828ff"/>
<ellipse cx="142.5" cy="600.4" rx="2.9" ry="1.9" transform="rotate(168 142.5 600.4)" fill="#1f22f0"/>
<ellipse cx="138.5" cy="625.1" rx="2.3" ry="1.7" transform="rotate(42 138.5 625.1)" fill="#2828ff"/>
<ellipse cx="158.9" cy="617.8" rx="2.6" ry="1.6" transform="rotate(5 158.9 617.8)" fill="#2e34ff"/>
<ellipse cx="110.7" cy="608.4" rx="2.2" ry="2.0" transform="rotate(29 110.7 608.4)" fill="#2e34ff"/>
<ellipse cx="159.5" cy="626.4" rx="2.8" ry="1.6" transform="rotate(42 159.5 626.4)" fill="#2828ff"/>
<ellipse cx="147.2" cy="632.1" rx="2.0" ry="1.6" transform="rotate(108 147.2 632.1)" fill="#2828ff"/>
<ellipse cx="157.1" cy="588.6" rx="2.6" ry="1.9" transform="rotate(33 157.1 588.6)" fill="#1a1cd0"/>
<ellipse cx="122.9" cy="606.1" rx="2.7" ry="2.4" transform="rotate(30 122.9 606.1)" fill="#1f22f0"/>
<ellipse cx="121.6" cy="598.2" rx="2.8" ry="2.2" transform="rotate(39 121.6 598.2)" fill="#1a1cd0"/>
<ellipse cx="168.8" cy="627.0" rx="2.3" ry="2.2" transform="rotate(60 168.8 627.0)" fill="#2828ff"/>
<ellipse cx="169.6" cy="625.2" rx="2.7" ry="1.8" transform="rotate(13 169.6 625.2)" fill="#2828ff"/>
<ellipse cx="140.7" cy="604.5" rx="2.4" ry="2.4" transform="rotate(33 140.7 604.5)" fill="#2e34ff"/>
<ellipse cx="160.4" cy="606.7" rx="2.4" ry="2.2" transform="rotate(25 160.4 606.7)" fill="#1a1cd0"/>
<ellipse cx="147.5" cy="602.4" rx="2.9" ry="2.4" transform="rotate(39 147.5 602.4)" fill="#1a1cd0"/>
<ellipse cx="129.5" cy="594.0" rx="2.1" ry="2.3" transform="rotate(10 129.5 594.0)" fill="#1f22f0"/>
<ellipse cx="125.4" cy="608.5" rx="2.7" ry="1.9" transform="rotate(72 125.4 608.5)" fill="#2e34ff"/>
<ellipse cx="110.2" cy="603.0" rx="2.8" ry="1.7" transform="rotate(129 110.2 603.0)" fill="#1f22f0"/>
<ellipse cx="160.6" cy="602.4" rx="2.8" ry="2.2" transform="rotate(166 160.6 602.4)" fill="#2828ff"/>
<ellipse cx="143.2" cy="592.8" rx="2.1" ry="1.6" transform="rotate(28 143.2 592.8)" fill="#1a1cd0"/>
<ellipse cx="157.7" cy="599.8" rx="2.5" ry="2.4" transform="rotate(120 157.7 599.8)" fill="#1f22f0"/>
<ellipse cx="143.0" cy="609.8" rx="2.6" ry="2.3" transform="rotate(146 143.0 609.8)" fill="#2828ff"/>
<ellipse cx="143.7" cy="632.3" rx="2.0" ry="1.6" transform="rotate(69 143.7 632.3)" fill="#2828ff"/>
<ellipse cx="149.7" cy="607.9" rx="2.9" ry="2.0" transform="rotate(22 149.7 607.9)" fill="#2e34ff"/>
<ellipse cx="163.2" cy="620.7" rx="2.2" ry="1.8" transform="rotate(87 163.2 620.7)" fill="#2828ff"/>
<ellipse cx="117.5" cy="617.8" rx="3.0" ry="1.7" transform="rotate(22 117.5 617.8)" fill="#1f22f0"/>
<ellipse cx="130.0" cy="623.1" rx="2.1" ry="2.2" transform="rotate(145 130.0 623.1)" fill="#2828ff"/>
<ellipse cx="121.3" cy="593.6" rx="2.1" ry="2.2" transform="rotate(131 121.3 593.6)" fill="#2828ff"/>
<ellipse cx="111.2" cy="602.5" rx="2.2" ry="2.3" transform="rotate(145 111.2 602.5)" fill="#2828ff"/>
<ellipse cx="135.3" cy="619.6" rx="2.3" ry="2.0" transform="rotate(180 135.3 619.6)" fill="#1f22f0"/>
<ellipse cx="109.5" cy="619.8" rx="2.4" ry="1.9" transform="rotate(139 109.5 619.8)" fill="#2828ff"/>
<ellipse cx="131.2" cy="608.6" rx="2.4" ry="1.8" transform="rotate(125 131.2 608.6)" fill="#2e34ff"/>
<ellipse cx="144.9" cy="632.3" rx="2.0" ry="2.2" transform="rotate(135 144.9 632.3)" fill="#2828ff"/>
<ellipse cx="148.4" cy="626.4" rx="2.7" ry="2.3" transform="rotate(92 148.4 626.4)" fill="#2e34ff"/>
</g><g filter="url(#gl)">
<ellipse cx="127.4" cy="612.9" rx="2.6" ry="2.0" transform="rotate(134 127.4 612.9)" fill="#b030c0" stroke="#ff1850" stroke-width="0.9"/>
<ellipse cx="141.6" cy="621.5" rx="2.9" ry="2.3" transform="rotate(6 141.6 621.5)" fill="#b030c0" stroke="#ff1850" stroke-width="0.9"/>
<ellipse cx="143.5" cy="598.4" rx="3.1" ry="2.5" transform="rotate(112 143.5 598.4)" fill="#b030c0" stroke="#ff1850" stroke-width="0.9"/>
<ellipse cx="151.0" cy="626.4" rx="3.0" ry="2.4" transform="rotate(57 151.0 626.4)" fill="#b030c0" stroke="#ff1850" stroke-width="0.9"/>
<ellipse cx="161.3" cy="599.8" rx="3.0" ry="2.4" transform="rotate(10 161.3 599.8)" fill="#b030c0" stroke="#ff1850" stroke-width="0.9"/>
<ellipse cx="115.0" cy="613.4" rx="2.9" ry="2.3" transform="rotate(3 115.0 613.4)" fill="#b030c0" stroke="#ff1850" stroke-width="0.9"/>
<ellipse cx="149.3" cy="611.4" rx="2.3" ry="1.8" transform="rotate(176 149.3 611.4)" fill="#e0a0c0" stroke="#ff8030" stroke-width="0.9"/>
<ellipse cx="126.2" cy="624.7" rx="2.8" ry="2.2" transform="rotate(72 126.2 624.7)" fill="#e0a0c0" stroke="#ff8030" stroke-width="0.9"/>
<ellipse cx="150.7" cy="595.1" rx="2.5" ry="2.0" transform="rotate(35 150.7 595.1)" fill="#20e040"/>
</g></g>
<text x="112.50" y="597.00" font-size="7.8" fill="#fff" stroke="#fff" stroke-width="0.15"><tspan fill="#e8204c">M</tspan><tspan fill="#d0e060">e</tspan>rge</text>
<line x1="153.30" y1="621.40" x2="166.50" y2="621.40" stroke="#fff" stroke-width="1.2"/>
<text x="148.80" y="628.70" font-size="7.5" text-anchor="start" fill="#fff" stroke="#fff" stroke-width="0.18">20 μm</text>
<clipPath id="clip104"><rect x="172.9" y="501.2" width="99.1" height="131.5"/></clipPath>
<g clip-path="url(#clip104)">
<rect x="172.90" y="501.20" width="99.10" height="131.50" fill="#020204" stroke="none" stroke-width="1"/>
<path d="M252.8 503.4h.01M271.9 552.5h.01M259.3 525.7h.01M191.1 564.9h.01M214.6 564.2h.01M239.9 580.3h.01M176.4 587.8h.01M269.0 551.5h.01M255.2 545.5h.01M261.0 598.8h.01M176.4 622.3h.01M243.1 593.9h.01M271.0 509.1h.01M173.5 595.7h.01M180.0 521.4h.01M175.5 630.0h.01M199.6 602.4h.01M257.5 545.5h.01M245.2 517.9h.01M174.2 628.1h.01M271.3 509.1h.01M250.8 554.0h.01M229.4 572.2h.01M256.5 533.1h.01M258.1 565.1h.01M249.3 554.6h.01M262.9 511.6h.01M232.7 571.3h.01M258.1 543.9h.01M173.0 623.1h.01M240.6 573.3h.01M187.9 525.1h.01M253.4 510.4h.01M258.0 523.4h.01M202.6 581.4h.01M264.0 583.9h.01M200.9 611.3h.01M186.0 569.3h.01M257.1 579.9h.01M216.4 600.5h.01M270.3 529.8h.01M258.9 552.7h.01M220.2 556.0h.01M257.1 512.8h.01M258.4 572.5h.01M180.6 602.9h.01M245.6 524.1h.01M261.8 543.9h.01M177.7 534.0h.01M264.2 545.9h.01M204.7 618.1h.01M256.4 563.5h.01M191.4 532.7h.01M202.4 570.5h.01M217.3 587.8h.01M232.6 582.3h.01M260.8 510.5h.01M187.6 563.6h.01M243.1 606.2h.01M267.5 544.1h.01M255.7 504.5h.01M249.6 542.4h.01M262.9 587.1h.01M250.6 556.9h.01M224.3 596.1h.01M252.8 504.3h.01M189.7 612.9h.01M230.7 584.3h.01M188.3 575.3h.01M262.3 550.4h.01M179.4 610.7h.01M252.2 503.8h.01M198.1 512.7h.01M250.9 571.9h.01M268.5 524.4h.01M260.2 502.9h.01M186.8 620.7h.01M204.5 584.1h.01M225.9 538.9h.01M261.6 574.5h.01M254.1 554.1h.01M258.9 530.1h.01M228.5 576.9h.01M263.5 573.2h.01M252.3 548.8h.01M255.8 503.8h.01M198.1 609.7h.01M240.9 549.1h.01M270.9 517.4h.01M264.5 501.4h.01M178.9 618.0h.01M262.3 547.8h.01M199.3 506.7h.01M231.2 590.6h.01M179.8 523.4h.01M217.8 594.7h.01M230.7 599.8h.01M262.0 503.9h.01M180.6 527.0h.01M174.8 539.1h.01M175.4 600.8h.01M251.7 566.9h.01" stroke="#1c1cf5" stroke-width="1.2" stroke-linecap="round" fill="none"/>
<path d="M180.5 600.3h.01M252.7 573.2h.01M264.8 527.3h.01M251.8 547.4h.01M261.0 572.1h.01M269.7 511.2h.01M238.5 543.9h.01M258.5 502.4h.01M226.6 570.1h.01M249.2 511.3h.01M249.4 567.3h.01M199.2 605.4h.01M181.4 593.9h.01M271.2 554.7h.01M251.0 574.1h.01M176.1 609.6h.01M249.2 557.4h.01M181.4 612.7h.01M250.7 553.3h.01M265.9 504.3h.01M266.9 552.2h.01M270.0 551.1h.01M250.9 600.8h.01M237.4 574.5h.01M255.2 528.5h.01M246.1 565.8h.01M227.4 594.3h.01M261.8 551.3h.01M258.5 518.1h.01M230.6 585.4h.01M211.5 584.9h.01M193.6 593.0h.01M268.6 541.2h.01M258.4 533.8h.01M263.1 514.6h.01M260.7 569.6h.01M264.7 509.8h.01M253.4 565.7h.01M176.3 610.9h.01M198.3 630.6h.01M234.4 577.3h.01M260.7 597.5h.01M260.9 564.8h.01M216.7 551.5h.01M174.8 601.2h.01M232.9 583.4h.01M233.8 594.8h.01M213.5 586.7h.01M265.0 562.0h.01M192.2 599.7h.01M261.6 511.8h.01M266.7 545.6h.01M174.4 590.4h.01M201.9 513.9h.01M244.6 548.8h.01M208.6 502.2h.01M243.2 558.7h.01M260.4 568.0h.01M250.4 568.6h.01M223.1 590.2h.01M245.2 549.0h.01M259.6 580.3h.01M197.4 627.9h.01M254.4 594.5h.01M175.4 587.4h.01M257.0 538.4h.01M242.6 512.1h.01M263.4 560.6h.01M227.4 547.1h.01M235.2 582.2h.01M266.7 537.2h.01M260.1 519.5h.01M256.5 557.8h.01M236.0 568.0h.01M196.2 553.7h.01M197.5 563.8h.01M222.7 584.3h.01M255.9 522.0h.01M185.9 561.8h.01M264.7 539.5h.01M254.6 534.8h.01M222.8 551.6h.01M243.9 581.6h.01M244.3 609.3h.01M246.9 545.3h.01M176.2 615.3h.01M189.2 528.2h.01M256.5 523.7h.01M199.5 520.4h.01M256.0 562.5h.01M177.2 511.0h.01M250.0 537.7h.01M173.3 623.1h.01M249.1 502.9h.01M254.3 547.7h.01M241.5 569.4h.01M183.8 592.5h.01M202.5 610.7h.01M199.1 556.6h.01M270.5 577.1h.01M229.6 587.3h.01M182.3 593.7h.01M231.6 583.4h.01M196.0 628.6h.01M220.7 550.1h.01M260.0 585.6h.01M247.4 548.5h.01M241.3 581.5h.01M256.6 518.8h.01M268.6 573.9h.01M190.1 572.8h.01M256.1 550.0h.01M191.4 515.9h.01M189.7 566.8h.01" stroke="#2626ff" stroke-width="1.2" stroke-linecap="round" fill="none"/>
<path d="M219.1 571.7h.01M248.6 582.2h.01M254.1 572.7h.01M270.6 506.4h.01M266.4 574.6h.01M268.9 578.3h.01M267.3 551.4h.01M229.6 586.6h.01M220.7 590.3h.01M270.9 543.0h.01M251.0 552.1h.01M256.6 510.1h.01M267.7 528.6h.01M187.3 517.1h.01M173.1 615.8h.01M202.7 623.6h.01M212.3 596.9h.01M249.0 535.5h.01M243.7 564.5h.01M267.7 565.6h.01M242.9 555.3h.01M187.6 583.7h.01M227.6 598.4h.01M260.0 545.5h.01M238.7 608.4h.01M263.9 566.7h.01M178.3 603.5h.01M227.7 568.9h.01M264.3 550.5h.01M210.6 543.3h.01M268.1 564.8h.01M193.0 607.5h.01M263.2 503.8h.01M192.2 602.7h.01M208.1 507.1h.01M242.3 573.3h.01M256.4 572.9h.01M263.4 571.2h.01M224.9 594.2h.01M221.6 536.7h.01M239.3 552.6h.01M254.4 537.9h.01M207.8 533.0h.01M210.0 542.6h.01M215.6 574.9h.01M206.5 551.5h.01M267.9 510.5h.01M190.5 570.2h.01M257.0 546.0h.01M231.2 544.6h.01M182.4 592.0h.01M222.1 536.9h.01M185.3 592.2h.01M239.9 562.0h.01M196.3 562.2h.01M205.3 532.1h.01M259.8 535.5h.01M180.0 597.4h.01M190.4 602.5h.01M249.4 561.3h.01M242.6 562.9h.01M251.2 554.4h.01M195.4 518.8h.01M262.1 555.2h.01M185.2 588.8h.01M265.6 504.2h.01M270.1 572.0h.01M265.1 505.9h.01M246.5 556.9h.01M211.8 546.8h.01M262.6 518.2h.01M223.1 575.9h.01M253.6 568.0h.01M247.5 566.0h.01M230.3 599.1h.01M259.4 508.4h.01M258.3 548.0h.01M264.5 501.8h.01M256.6 544.7h.01M257.0 508.8h.01M260.6 507.4h.01M267.5 572.3h.01M266.1 551.5h.01M262.6 545.5h.01M255.9 571.4h.01M256.9 548.9h.01M249.2 571.0h.01M250.4 554.5h.01M244.9 564.6h.01M183.8 525.2h.01M251.5 556.0h.01M225.1 541.3h.01M266.0 584.7h.01M258.6 564.0h.01M177.3 615.5h.01M178.0 589.5h.01M238.2 593.5h.01M213.3 597.9h.01M259.6 508.6h.01M262.0 544.2h.01M235.4 564.6h.01M181.4 590.4h.01M224.7 542.0h.01M249.7 539.5h.01M250.0 569.9h.01M261.0 572.9h.01M253.3 592.7h.01M250.7 550.1h.01M243.4 565.8h.01M185.7 615.9h.01M224.4 590.9h.01M177.9 598.3h.01M202.5 623.2h.01M188.3 523.5h.01M259.1 575.9h.01M248.3 519.0h.01M246.8 575.0h.01M178.9 608.0h.01M233.2 542.6h.01M220.7 571.8h.01M180.4 525.2h.01M240.4 572.4h.01M214.5 535.7h.01" stroke="#1616b0" stroke-width="1.2" stroke-linecap="round" fill="none"/>
<path d="M226.6 608.2h.01M199.7 617.8h.01M240.3 584.7h.01M188.2 603.5h.01M208.4 582.8h.01M237.6 575.3h.01M255.1 551.7h.01M197.7 566.1h.01M206.6 580.8h.01M222.0 543.0h.01M266.2 567.3h.01M256.0 519.5h.01M271.3 559.8h.01M174.7 525.0h.01M218.2 568.7h.01M176.4 603.3h.01M265.2 551.8h.01M254.3 568.4h.01M192.3 522.9h.01M181.4 605.0h.01M214.4 548.6h.01M214.8 590.1h.01M269.9 510.0h.01M270.5 524.0h.01M184.0 515.0h.01M265.7 563.3h.01M247.9 589.6h.01M256.6 568.8h.01M175.2 597.5h.01M173.1 527.2h.01M208.2 509.9h.01M174.7 523.7h.01M269.6 550.3h.01M269.3 553.5h.01M223.0 582.2h.01M264.7 541.3h.01M227.8 587.5h.01M251.2 563.2h.01M218.8 603.5h.01M255.3 518.0h.01M239.3 574.2h.01M192.1 602.1h.01M193.0 554.3h.01M240.3 569.5h.01M247.2 554.7h.01M208.7 550.5h.01M251.5 575.4h.01M248.4 510.0h.01M263.3 510.4h.01M260.6 586.1h.01M255.7 545.6h.01M259.0 553.2h.01M181.7 600.1h.01M262.1 539.4h.01M267.3 604.7h.01M255.0 543.3h.01M173.7 601.8h.01M185.7 521.8h.01M203.9 561.3h.01M261.3 537.7h.01M236.6 574.4h.01M180.2 632.0h.01M239.8 564.1h.01M250.6 512.0h.01M196.6 598.6h.01M252.4 530.7h.01M243.6 562.6h.01M231.7 535.0h.01M237.2 577.2h.01M226.5 572.2h.01M213.1 593.1h.01M253.2 584.3h.01M263.8 532.1h.01M246.5 573.7h.01M258.9 552.5h.01M204.3 580.4h.01M223.6 605.1h.01M244.7 576.4h.01M265.9 545.4h.01M250.5 546.7h.01M237.8 568.4h.01M178.3 518.2h.01M202.0 579.2h.01M178.7 517.3h.01M179.0 603.5h.01M178.0 593.5h.01M213.0 544.1h.01M263.9 553.4h.01M243.3 520.8h.01M176.2 600.3h.01M173.9 597.3h.01M253.8 519.4h.01M269.4 547.6h.01M255.9 546.4h.01M258.4 537.0h.01M259.4 551.4h.01M265.7 555.1h.01M192.0 563.7h.01M252.7 566.7h.01M255.7 559.5h.01M192.6 595.4h.01M265.4 560.7h.01M260.0 537.0h.01M225.1 600.1h.01" stroke="#2c34ff" stroke-width="1.7" stroke-linecap="round" fill="none"/>
<path d="M190.7 569.9h.01M263.9 509.9h.01M238.5 572.3h.01M229.3 566.8h.01M177.7 518.4h.01M262.5 557.2h.01M227.7 586.0h.01M221.3 574.2h.01M174.7 616.0h.01M244.7 562.4h.01M265.3 547.9h.01M248.5 577.6h.01M179.0 592.1h.01M203.6 537.0h.01M247.6 600.9h.01M173.7 539.1h.01M197.4 510.4h.01M253.5 570.8h.01M247.1 524.3h.01M262.4 514.1h.01M241.8 593.9h.01M212.3 599.3h.01M259.1 554.9h.01M187.8 619.8h.01M270.8 554.9h.01M268.3 531.4h.01M237.7 549.5h.01M182.7 514.3h.01M225.7 603.5h.01M261.2 544.7h.01M254.9 507.0h.01M208.4 553.1h.01M263.1 510.8h.01M247.3 602.5h.01M271.7 554.7h.01M216.2 601.2h.01M186.7 572.8h.01M258.6 558.7h.01M247.1 561.6h.01M262.4 552.1h.01M176.7 534.0h.01M266.0 552.4h.01M197.4 573.8h.01M246.5 505.0h.01M221.9 570.9h.01M271.6 599.0h.01M249.4 580.8h.01M187.1 510.7h.01M187.7 534.7h.01M270.9 572.3h.01M259.1 553.5h.01M186.8 514.3h.01M224.7 600.1h.01M248.1 575.4h.01M229.4 574.1h.01M264.8 600.8h.01M242.2 516.7h.01M187.7 516.1h.01M268.5 543.8h.01M256.3 572.3h.01M225.4 552.8h.01M173.1 524.1h.01M248.3 560.2h.01M254.5 603.8h.01M266.6 572.5h.01M196.9 621.1h.01M203.1 621.7h.01M264.7 505.9h.01M193.0 617.2h.01M177.1 604.0h.01M244.7 571.9h.01M265.0 547.9h.01M239.4 572.2h.01M258.8 586.0h.01M243.1 503.6h.01M268.6 530.6h.01M268.1 505.9h.01M194.4 606.9h.01M187.2 552.7h.01M256.5 556.0h.01M269.4 590.2h.01M246.2 561.4h.01M235.3 541.9h.01M247.7 529.1h.01M269.7 504.5h.01M270.2 539.2h.01M183.6 527.5h.01M181.5 628.0h.01M177.6 622.5h.01M257.8 513.1h.01M252.5 527.9h.01M179.7 601.0h.01M212.4 572.0h.01M239.5 559.6h.01M264.0 575.8h.01M232.8 552.4h.01M193.0 520.3h.01M263.3 548.3h.01M222.4 541.0h.01M214.2 581.3h.01M257.9 552.8h.01M268.6 502.7h.01M204.4 627.0h.01M218.8 605.1h.01M258.8 560.8h.01M250.0 564.5h.01M200.7 627.9h.01M258.8 566.6h.01M249.5 577.3h.01M216.6 547.8h.01M217.8 550.2h.01M247.6 547.7h.01M251.4 603.2h.01M255.2 554.6h.01M258.5 550.2h.01" stroke="#1c1cf5" stroke-width="1.45" stroke-linecap="round" fill="none"/>
<path d="M181.3 521.5h.01M253.5 581.7h.01M236.0 612.2h.01M263.6 559.3h.01M249.9 553.6h.01M263.1 577.1h.01M260.0 514.0h.01M183.7 595.5h.01M195.8 607.7h.01M216.5 553.4h.01M261.1 575.9h.01M270.2 547.5h.01M270.5 513.6h.01M199.8 593.9h.01M262.8 555.9h.01M254.2 525.9h.01M223.1 599.9h.01M173.1 598.3h.01M176.6 598.6h.01M174.0 596.5h.01M210.8 571.8h.01M185.3 544.4h.01M197.7 577.1h.01M225.2 600.1h.01M178.3 600.5h.01M232.2 539.7h.01M265.3 564.5h.01M200.7 617.5h.01M270.4 544.3h.01M200.2 621.9h.01M244.5 503.7h.01M189.8 521.7h.01M217.7 591.5h.01M184.7 610.8h.01M181.3 601.4h.01M173.2 516.0h.01M259.0 558.3h.01M226.1 602.1h.01M219.4 596.2h.01M244.9 520.3h.01M197.7 559.1h.01M255.8 509.5h.01M255.7 544.3h.01M260.8 526.2h.01M215.8 546.3h.01M229.0 600.8h.01M248.9 524.5h.01M251.8 596.9h.01M258.9 559.0h.01M208.8 546.4h.01M184.9 614.6h.01M197.1 543.1h.01M211.8 516.1h.01M216.4 578.5h.01M254.6 555.9h.01M251.7 546.3h.01M226.7 567.9h.01M270.4 503.3h.01M243.7 520.0h.01M211.4 531.5h.01M251.4 610.6h.01M189.8 523.1h.01M264.9 544.1h.01M175.1 532.6h.01M199.2 620.7h.01M184.6 523.6h.01M233.5 573.0h.01M227.0 604.7h.01M241.0 541.6h.01M217.1 570.2h.01M251.4 607.6h.01M271.2 571.2h.01M255.6 545.6h.01M192.3 513.4h.01M207.4 583.7h.01M248.2 562.2h.01M268.3 550.5h.01M263.1 581.2h.01M262.8 532.3h.01M221.3 535.2h.01M258.8 511.3h.01M260.5 556.3h.01M251.4 559.7h.01M252.6 502.9h.01M199.3 619.9h.01M183.1 537.7h.01M182.1 512.0h.01M230.9 594.9h.01M254.2 508.9h.01M271.6 572.6h.01M212.7 600.3h.01M188.5 593.6h.01M218.2 545.5h.01M176.9 518.4h.01M187.6 598.6h.01M226.5 575.4h.01M237.0 586.3h.01M256.4 546.8h.01M266.8 545.9h.01M181.5 569.7h.01M247.8 567.0h.01M208.0 584.2h.01M234.1 549.2h.01M247.9 561.6h.01M241.9 569.3h.01M202.1 613.5h.01M272.0 510.0h.01M251.5 549.7h.01M254.9 554.8h.01M271.2 546.9h.01M271.5 525.6h.01M263.6 555.6h.01M260.0 547.4h.01M184.1 605.3h.01M208.6 581.6h.01M180.3 524.2h.01M269.2 560.4h.01M249.1 550.8h.01M220.3 538.9h.01M240.1 567.6h.01M263.4 507.3h.01M203.3 585.9h.01" stroke="#2626ff" stroke-width="1.7" stroke-linecap="round" fill="none"/>
<path d="M191.5 557.9h.01M252.8 544.7h.01M179.1 526.9h.01M197.1 573.2h.01M216.5 541.0h.01M257.2 570.9h.01M244.1 572.6h.01M263.6 571.4h.01M229.8 580.8h.01M260.9 581.1h.01M186.0 510.6h.01M218.6 597.4h.01M177.3 614.9h.01M269.1 570.0h.01M260.2 561.7h.01M185.8 611.6h.01M177.6 539.6h.01M250.1 519.7h.01M227.1 577.7h.01M246.7 581.5h.01M268.7 579.3h.01M257.1 544.7h.01M259.5 554.8h.01M229.2 534.2h.01M172.9 615.7h.01M232.0 575.0h.01M255.5 543.7h.01M182.0 607.2h.01M174.5 609.9h.01M180.1 618.5h.01M259.4 554.8h.01M243.9 600.7h.01M177.9 600.3h.01M249.0 517.8h.01M251.8 587.5h.01M257.3 559.6h.01M264.3 532.1h.01M177.2 596.1h.01M257.3 511.8h.01M237.2 575.1h.01M173.6 611.0h.01M267.9 552.6h.01M249.0 603.0h.01M259.4 557.5h.01M191.9 585.9h.01M211.4 543.0h.01M256.3 567.8h.01M260.4 503.1h.01M177.6 515.7h.01M270.8 530.7h.01M194.3 549.5h.01M259.1 602.4h.01M262.8 510.1h.01M195.9 529.5h.01M249.1 559.9h.01M187.8 612.7h.01M199.1 611.0h.01M179.3 515.4h.01M175.2 518.6h.01M187.1 516.8h.01M228.3 541.9h.01M238.3 553.7h.01M271.1 507.9h.01M220.7 583.3h.01M222.9 550.9h.01M257.0 576.6h.01M261.8 562.0h.01M230.9 594.5h.01M231.5 592.7h.01M232.4 553.5h.01M250.9 602.3h.01M271.6 566.9h.01M246.6 563.2h.01M216.2 547.4h.01M228.6 579.5h.01M229.1 603.8h.01M242.3 572.5h.01M262.8 573.2h.01M256.1 532.8h.01M214.8 534.0h.01M251.5 511.5h.01M268.7 558.1h.01M181.2 606.0h.01M252.1 531.3h.01M187.1 552.4h.01M225.5 590.9h.01M183.2 535.0h.01M249.5 565.9h.01M189.8 522.7h.01M234.2 575.4h.01M181.1 604.4h.01M256.9 507.1h.01M257.1 553.7h.01M219.7 532.5h.01M255.0 574.5h.01M176.7 522.5h.01M188.1 561.8h.01M265.1 542.4h.01M185.0 525.5h.01M195.0 552.9h.01M253.7 526.6h.01M238.8 576.6h.01M192.1 553.8h.01M233.2 585.3h.01M259.3 539.4h.01M186.9 559.5h.01M229.3 545.6h.01M248.6 550.2h.01M178.8 607.2h.01M191.1 607.8h.01M241.8 581.9h.01M219.9 590.9h.01" stroke="#1c1cf5" stroke-width="1.7" stroke-linecap="round" fill="none"/>
<path d="M176.6 524.6h.01M175.8 617.2h.01M245.8 564.5h.01M214.8 537.0h.01M256.8 556.1h.01M214.8 598.4h.01M205.4 600.8h.01M251.0 585.8h.01M263.1 595.6h.01M255.5 566.5h.01M249.7 504.1h.01M174.6 588.5h.01M251.6 601.1h.01M203.0 539.6h.01M239.7 580.7h.01M264.0 550.6h.01M257.6 562.7h.01M180.7 620.9h.01M248.0 564.7h.01M231.1 605.2h.01M183.4 528.6h.01M271.1 532.9h.01M254.0 575.1h.01M210.0 535.1h.01M231.3 573.3h.01M229.6 565.5h.01M233.9 594.8h.01M185.2 517.1h.01M225.8 573.9h.01M208.9 539.1h.01M245.4 564.1h.01M205.2 547.3h.01M254.3 545.1h.01M175.2 616.0h.01M231.0 584.6h.01M179.7 630.4h.01M222.1 544.3h.01M179.5 608.4h.01M243.9 566.3h.01M220.3 578.7h.01M185.5 562.7h.01M265.9 545.6h.01M247.8 516.3h.01M251.4 502.5h.01M256.9 515.5h.01M251.8 565.1h.01M182.4 599.9h.01M268.6 571.7h.01M243.0 531.0h.01M257.5 596.4h.01M264.4 567.2h.01M232.1 587.0h.01M179.4 602.6h.01M188.6 548.6h.01M195.7 549.7h.01M212.3 586.6h.01M242.2 560.1h.01M222.5 541.5h.01M224.6 578.9h.01M268.3 603.1h.01M251.7 526.3h.01M250.4 563.8h.01M246.8 510.4h.01M211.4 508.4h.01M239.8 559.7h.01M263.1 541.0h.01M231.5 549.4h.01M263.3 562.2h.01M264.9 527.0h.01M240.7 573.4h.01M210.4 537.2h.01M261.7 574.7h.01M266.0 564.8h.01M179.1 613.7h.01M261.4 559.2h.01M176.2 586.7h.01M201.4 539.0h.01M222.8 579.9h.01M255.6 531.8h.01M260.2 518.4h.01M256.2 503.1h.01M182.9 592.8h.01M180.6 613.6h.01M213.6 598.3h.01M253.8 541.5h.01M240.0 573.3h.01M210.8 533.9h.01M182.3 606.4h.01M252.2 583.0h.01M271.5 511.4h.01M185.6 606.5h.01M268.8 536.1h.01M247.3 547.0h.01M257.2 554.9h.01M238.9 570.8h.01M262.6 554.0h.01M175.0 610.3h.01M249.7 576.3h.01M263.4 533.3h.01M268.5 560.3h.01M269.8 545.9h.01M266.2 564.4h.01M210.0 533.7h.01M253.3 534.8h.01M245.7 561.2h.01M174.6 608.2h.01M267.8 515.0h.01M226.6 579.4h.01M221.5 590.9h.01M251.9 584.5h.01M217.1 559.9h.01M224.3 593.6h.01M250.0 563.7h.01M249.6 519.9h.01M252.9 515.9h.01M203.1 529.7h.01M259.2 576.5h.01M212.5 583.3h.01M179.1 514.7h.01M213.7 544.2h.01M254.5 564.0h.01M199.4 601.4h.01M258.5 553.5h.01M248.8 513.1h.01M240.1 588.8h.01M251.3 532.1h.01" stroke="#1a1ad0" stroke-width="1.2" stroke-linecap="round" fill="none"/>
<path d="M187.9 550.1h.01M268.3 564.6h.01M173.1 523.6h.01M178.2 516.0h.01M253.9 582.6h.01M253.4 576.1h.01M262.7 571.8h.01M184.8 605.5h.01M179.1 632.5h.01M259.1 545.8h.01M238.4 569.5h.01M219.6 572.9h.01M248.0 537.3h.01M231.5 571.8h.01M257.0 583.1h.01M178.7 615.1h.01M175.7 521.5h.01M250.0 533.4h.01M248.7 585.1h.01M260.5 503.6h.01M251.0 554.7h.01M184.0 612.6h.01M256.6 553.2h.01M183.7 606.2h.01M262.3 512.5h.01M261.3 526.3h.01M183.4 615.3h.01M253.3 515.6h.01M262.1 530.4h.01M254.0 550.3h.01M224.3 569.0h.01M251.7 517.1h.01M243.2 520.8h.01M184.2 521.0h.01M186.4 568.1h.01M269.3 525.5h.01M247.8 514.0h.01M259.2 531.0h.01M253.5 513.8h.01M270.4 532.6h.01M217.4 536.9h.01M245.4 559.8h.01M183.9 552.8h.01M180.1 594.6h.01M261.5 515.3h.01M180.7 517.0h.01M193.2 629.7h.01M270.6 560.9h.01M269.1 505.2h.01M247.7 557.8h.01M199.2 609.9h.01M242.5 554.4h.01M246.3 533.6h.01M247.9 543.8h.01M186.3 517.0h.01M243.7 517.1h.01M266.5 542.4h.01M217.8 602.8h.01M252.2 511.3h.01M252.7 551.8h.01M220.6 602.8h.01M258.5 516.0h.01M250.6 565.3h.01M253.6 555.4h.01M253.3 522.7h.01M181.9 517.2h.01M258.3 501.9h.01M219.1 572.3h.01M266.2 563.9h.01M249.5 525.0h.01M240.8 583.2h.01M190.2 517.1h.01M255.1 525.1h.01M206.2 595.3h.01M249.1 569.6h.01M179.0 625.8h.01M250.9 608.1h.01M266.2 512.6h.01M186.9 513.1h.01M189.0 512.0h.01M249.3 503.9h.01M189.9 555.0h.01M247.1 512.9h.01M217.5 540.4h.01M260.5 595.8h.01M207.8 542.6h.01M231.5 597.6h.01M187.8 581.1h.01M237.7 564.3h.01M175.6 516.3h.01M229.6 577.0h.01M192.7 622.4h.01M243.3 605.6h.01M244.3 600.8h.01M258.7 544.7h.01M264.2 567.4h.01M185.3 622.8h.01M257.2 527.3h.01M212.1 573.7h.01M227.9 608.3h.01M246.6 558.2h.01M252.5 557.6h.01M252.5 563.9h.01M214.7 593.0h.01M181.7 618.0h.01M221.7 572.4h.01M266.4 538.1h.01M224.6 572.3h.01M193.6 518.3h.01" stroke="#2626ff" stroke-width="1.45" stroke-linecap="round" fill="none"/>
<path d="M259.1 514.3h.01M181.7 523.6h.01M233.2 577.6h.01M265.5 514.2h.01M173.8 595.3h.01M254.9 525.0h.01M205.1 617.5h.01M270.6 512.1h.01M206.8 627.3h.01M251.7 574.4h.01M254.1 591.2h.01M255.5 577.5h.01M183.0 618.5h.01M216.8 575.8h.01M177.5 598.9h.01M248.8 515.0h.01M260.6 563.3h.01M265.1 569.8h.01M261.7 565.2h.01M199.9 553.2h.01M193.6 518.5h.01M183.7 608.4h.01M227.4 546.2h.01M206.7 583.7h.01M222.0 594.5h.01M271.0 504.7h.01M242.6 552.9h.01M255.4 525.0h.01M258.1 561.7h.01M235.6 572.4h.01M249.4 597.7h.01M268.7 538.5h.01M216.1 534.4h.01M240.0 555.5h.01M233.2 594.2h.01M178.6 625.7h.01M233.6 570.4h.01M256.6 554.5h.01M175.1 527.6h.01M212.4 504.6h.01M258.1 559.2h.01M179.8 596.3h.01M188.8 567.8h.01M250.1 513.5h.01M188.7 602.9h.01M256.2 506.3h.01M265.5 556.1h.01M192.1 517.4h.01M177.3 513.8h.01M261.8 559.5h.01M264.0 568.9h.01M179.2 607.8h.01M257.8 505.3h.01M250.2 567.2h.01M246.1 520.2h.01M175.4 615.9h.01M195.0 511.9h.01M235.9 566.1h.01M207.0 541.9h.01M224.6 558.9h.01M224.5 548.9h.01M225.1 585.3h.01M262.9 529.2h.01M255.4 583.1h.01M245.0 514.0h.01M191.9 569.1h.01M186.0 561.0h.01M249.8 508.0h.01M213.8 536.1h.01M238.4 615.1h.01M228.9 595.0h.01M174.2 536.0h.01M239.7 572.4h.01M174.1 597.4h.01M193.1 619.1h.01M202.4 591.0h.01M185.4 552.2h.01M248.5 519.7h.01M253.6 560.2h.01M271.3 543.4h.01M258.8 526.3h.01M177.4 525.4h.01M180.0 520.1h.01M252.9 510.6h.01M266.5 540.5h.01M245.1 533.0h.01M173.9 598.8h.01M252.0 556.3h.01M220.5 558.1h.01M263.5 560.6h.01M245.3 580.5h.01M242.7 579.8h.01M268.7 531.1h.01M175.7 614.3h.01M259.3 553.2h.01M254.3 544.2h.01M183.0 612.7h.01M181.0 603.1h.01M203.7 603.7h.01M252.1 518.3h.01M250.9 568.5h.01M186.1 613.1h.01M177.0 520.6h.01M188.0 548.8h.01M228.7 581.0h.01M191.6 604.1h.01M242.7 537.2h.01M248.8 585.1h.01M264.5 573.6h.01M187.1 599.1h.01M249.8 560.5h.01M215.9 590.8h.01M215.9 569.8h.01M263.9 544.3h.01M225.6 601.5h.01M244.4 565.9h.01M224.0 540.0h.01M211.6 532.8h.01M245.4 579.5h.01" stroke="#1616b0" stroke-width="1.45" stroke-linecap="round" fill="none"/>
<path d="M195.7 504.7h.01M256.9 514.4h.01M236.2 600.2h.01M220.7 531.7h.01M225.1 572.3h.01M248.5 571.9h.01M175.9 593.5h.01M224.2 542.3h.01M240.1 572.0h.01M268.0 568.9h.01M249.0 591.6h.01M262.3 577.8h.01M267.9 557.5h.01M250.6 555.5h.01M210.5 539.6h.01M181.8 539.8h.01M264.9 510.8h.01M188.3 605.4h.01M173.5 526.3h.01M255.6 560.5h.01M262.9 536.5h.01M175.2 536.4h.01M245.9 578.9h.01M246.0 581.7h.01M240.3 570.9h.01M252.4 504.5h.01M259.2 551.7h.01M270.9 599.8h.01M247.0 579.0h.01M212.0 546.6h.01M254.8 541.4h.01M250.9 549.0h.01M178.3 600.8h.01M266.7 538.6h.01M214.9 576.1h.01M258.1 547.5h.01M177.7 591.9h.01M185.5 562.9h.01M253.3 540.9h.01M225.5 575.9h.01M181.3 627.1h.01M211.0 515.8h.01M176.8 522.1h.01M198.6 550.2h.01M188.0 527.1h.01M189.3 619.8h.01M260.1 569.6h.01M263.2 513.6h.01M251.4 585.9h.01M182.3 607.6h.01M232.6 587.9h.01M247.7 560.1h.01M247.3 571.6h.01M251.1 539.3h.01M198.5 619.9h.01M265.4 532.2h.01M223.0 541.5h.01M266.1 555.3h.01M188.0 517.8h.01M251.7 530.2h.01M225.2 573.2h.01M184.9 622.6h.01M264.4 564.2h.01M270.2 612.1h.01M262.1 569.6h.01M185.3 605.2h.01M254.3 522.3h.01M227.4 595.7h.01M176.8 621.9h.01M192.3 537.2h.01M267.7 597.5h.01M242.8 574.7h.01M176.9 517.4h.01M261.2 576.4h.01M183.5 609.9h.01M196.8 613.4h.01M224.5 575.7h.01M244.1 543.4h.01M198.7 613.4h.01M245.8 530.4h.01M214.8 535.4h.01M200.3 613.9h.01M255.0 523.8h.01M247.7 536.7h.01M255.3 549.1h.01M228.6 576.7h.01M225.3 596.6h.01M254.7 563.0h.01M263.6 545.1h.01M248.4 543.0h.01M259.4 565.3h.01M268.9 545.2h.01M255.0 535.8h.01M259.0 572.0h.01M233.3 572.9h.01M249.4 548.8h.01M262.6 539.3h.01M223.5 601.0h.01M261.6 569.7h.01M185.8 605.7h.01M199.6 607.3h.01M178.5 613.2h.01M254.8 602.0h.01M227.2 594.7h.01M257.4 531.2h.01M231.6 593.3h.01M264.7 575.2h.01M266.0 561.5h.01M254.9 520.6h.01" stroke="#2c34ff" stroke-width="1.2" stroke-linecap="round" fill="none"/>
<path d="M242.9 552.5h.01M174.0 595.7h.01M263.5 514.7h.01M176.7 603.3h.01M263.7 559.9h.01M193.5 622.4h.01M231.1 600.5h.01M200.8 616.2h.01M259.9 514.9h.01M183.6 551.3h.01M248.8 558.5h.01M252.5 576.3h.01M213.1 555.8h.01M179.7 530.0h.01M261.2 520.5h.01M269.0 533.9h.01M239.9 600.5h.01M267.9 546.3h.01M201.5 507.3h.01M174.9 520.4h.01M266.5 511.6h.01M199.5 622.3h.01M229.4 581.0h.01M261.8 605.5h.01M189.7 563.3h.01M264.3 552.2h.01M270.3 554.0h.01M260.1 531.7h.01M220.9 569.0h.01M245.9 578.0h.01M265.6 526.7h.01M241.8 569.6h.01M251.4 526.5h.01M239.8 554.3h.01M252.8 542.7h.01M193.0 622.9h.01M259.1 570.2h.01M226.0 598.9h.01M262.3 523.8h.01M252.9 603.3h.01M259.1 574.9h.01M254.1 564.6h.01M271.0 551.6h.01M227.8 573.1h.01M249.7 549.4h.01M204.7 574.6h.01M180.1 589.1h.01M246.8 505.9h.01M233.3 565.2h.01M232.9 580.5h.01M180.2 526.7h.01M218.4 574.3h.01M181.4 516.4h.01M253.6 599.2h.01M259.1 564.5h.01M252.0 575.4h.01M178.0 515.6h.01M216.4 583.3h.01M210.2 579.1h.01M247.4 524.6h.01M269.5 518.2h.01M197.6 510.2h.01M264.0 535.4h.01M253.4 564.3h.01M267.2 529.4h.01M175.2 522.6h.01M239.8 569.7h.01M259.3 558.6h.01M271.9 546.7h.01M197.2 626.2h.01M175.0 598.0h.01M249.4 562.5h.01M264.4 528.2h.01M253.3 533.8h.01M247.5 531.2h.01M249.0 576.7h.01M251.3 540.5h.01M180.4 609.8h.01M176.4 509.5h.01M248.7 523.8h.01M194.6 624.7h.01M184.1 511.8h.01M256.1 563.2h.01M207.0 578.6h.01M174.7 621.1h.01M270.3 520.8h.01M254.3 538.9h.01M267.6 507.5h.01M248.2 567.5h.01M179.3 598.9h.01M175.0 614.6h.01M265.6 591.4h.01M179.2 596.2h.01M214.2 602.0h.01M252.6 573.1h.01M255.1 548.5h.01M271.2 571.4h.01M241.7 575.3h.01M251.3 580.9h.01M179.7 587.1h.01M255.3 591.9h.01M223.8 532.9h.01M188.2 516.6h.01M222.5 577.1h.01M263.4 511.9h.01M176.4 615.5h.01M245.8 511.8h.01M267.0 533.9h.01M251.2 515.6h.01M261.5 524.1h.01M260.6 576.6h.01M176.1 597.6h.01M262.9 521.0h.01M220.0 568.2h.01M203.5 628.8h.01M254.3 555.7h.01M248.7 523.3h.01M217.7 576.4h.01" stroke="#1616b0" stroke-width="1.7" stroke-linecap="round" fill="none"/>
<path d="M250.9 580.5h.01M263.5 545.7h.01M249.9 549.3h.01M202.1 547.4h.01M219.2 533.3h.01M207.2 581.3h.01M177.5 617.1h.01M230.2 548.3h.01M185.6 596.1h.01M242.0 525.9h.01M238.3 565.4h.01M212.0 594.6h.01M250.5 558.7h.01M210.1 570.5h.01M263.1 550.1h.01M254.7 513.4h.01M252.2 526.7h.01M189.2 557.2h.01M198.5 553.0h.01M255.2 501.6h.01M234.0 552.7h.01M221.1 545.8h.01M219.2 529.3h.01M216.7 541.5h.01M259.2 562.1h.01M267.6 532.9h.01M258.3 569.0h.01M260.5 510.0h.01M264.9 539.6h.01M249.9 566.4h.01M233.2 582.7h.01M195.4 568.3h.01M191.3 601.0h.01M235.8 575.3h.01M244.1 559.0h.01M193.0 630.4h.01M255.1 549.5h.01M271.5 519.8h.01M262.2 564.3h.01M254.3 573.7h.01M217.0 555.2h.01M269.0 567.0h.01M269.9 597.7h.01M231.3 602.7h.01M184.2 594.6h.01M269.3 542.6h.01M248.0 565.1h.01M269.3 503.6h.01M211.8 539.4h.01M222.9 570.4h.01M194.5 546.4h.01M242.3 558.0h.01M257.3 511.6h.01M257.6 571.6h.01M173.6 594.5h.01M227.1 548.9h.01M253.9 561.3h.01M180.4 611.1h.01M261.2 515.6h.01M173.5 527.4h.01M242.5 604.3h.01M258.1 507.8h.01M187.9 606.7h.01M206.0 578.2h.01M207.4 540.6h.01M259.2 539.4h.01M183.2 619.4h.01M269.6 578.3h.01M262.5 515.4h.01M271.6 532.2h.01M248.1 522.3h.01M174.7 599.1h.01M195.5 612.3h.01M245.3 548.3h.01M263.4 513.2h.01M243.3 523.9h.01M260.1 535.9h.01M271.6 569.2h.01M266.1 604.5h.01M218.5 548.1h.01M263.0 559.9h.01M212.1 590.4h.01M216.0 537.6h.01M247.2 568.1h.01M205.0 553.4h.01M250.6 556.4h.01M246.2 560.9h.01M237.7 617.7h.01M252.0 569.9h.01M194.2 609.6h.01M209.1 502.7h.01M264.7 509.4h.01M196.9 607.6h.01M197.6 567.4h.01M267.9 539.6h.01M242.2 529.0h.01M235.0 578.7h.01M268.4 514.7h.01M268.5 567.6h.01M188.5 625.4h.01M175.2 527.8h.01M241.7 563.2h.01M200.3 553.0h.01M249.1 567.1h.01M262.5 582.8h.01" stroke="#1a1ad0" stroke-width="1.45" stroke-linecap="round" fill="none"/>
<path d="M247.4 551.2h.01M229.9 547.4h.01M258.4 587.2h.01M271.9 551.1h.01M217.6 580.7h.01M243.4 584.5h.01M255.9 516.2h.01M270.9 515.7h.01M257.2 575.5h.01M260.6 585.3h.01M266.4 504.1h.01M190.0 540.4h.01M248.8 572.1h.01M191.0 559.6h.01M263.7 501.4h.01M222.6 574.4h.01M254.6 560.1h.01M255.1 542.2h.01M188.9 554.5h.01M263.9 524.5h.01M247.4 517.2h.01M173.6 528.4h.01M217.4 582.1h.01M260.7 553.6h.01M201.6 551.2h.01M174.1 605.0h.01M258.0 570.6h.01M259.0 573.9h.01M220.7 540.2h.01M182.6 597.5h.01M239.5 512.5h.01M255.1 519.3h.01M205.8 536.5h.01M261.8 576.2h.01M227.4 551.7h.01M244.4 576.5h.01M228.7 599.5h.01M247.8 576.7h.01M251.6 549.3h.01M196.8 611.5h.01M260.0 536.3h.01M180.7 518.8h.01M213.8 553.7h.01M270.1 514.3h.01M182.5 567.3h.01M226.8 569.3h.01M236.7 547.4h.01M245.1 561.0h.01M219.3 561.4h.01M245.2 576.7h.01M187.4 529.7h.01M269.2 571.1h.01M260.4 510.9h.01M173.9 530.8h.01M192.6 513.1h.01M258.3 538.0h.01M177.6 602.1h.01M236.8 571.2h.01M258.8 576.0h.01M225.4 584.6h.01M266.8 599.2h.01M222.9 598.6h.01M196.6 611.6h.01M265.1 507.3h.01M264.3 511.7h.01M197.2 615.3h.01M197.7 552.6h.01M218.8 576.2h.01M178.4 520.4h.01M256.1 510.2h.01M253.0 555.9h.01M236.4 579.9h.01M248.7 598.7h.01M196.7 628.3h.01M211.4 557.1h.01M251.0 518.2h.01M257.5 544.5h.01M198.3 563.8h.01M252.6 598.0h.01M248.6 575.4h.01M256.8 555.3h.01M264.9 545.8h.01M252.0 551.1h.01M253.9 551.0h.01M178.9 511.9h.01M213.6 534.8h.01M269.7 551.0h.01M242.8 576.3h.01M201.3 588.0h.01M258.1 560.9h.01M259.8 557.2h.01M269.7 555.7h.01M254.4 596.6h.01M176.6 524.7h.01M235.9 568.0h.01M196.5 626.5h.01M244.5 566.8h.01M175.9 615.5h.01M178.1 605.6h.01M249.4 518.6h.01M194.7 606.3h.01M206.7 542.6h.01" stroke="#1a1ad0" stroke-width="1.7" stroke-linecap="round" fill="none"/>
<path d="M241.8 529.1h.01M250.6 598.6h.01M256.0 600.5h.01M264.2 606.6h.01M238.2 573.1h.01M182.2 606.4h.01M260.4 509.7h.01M187.6 600.4h.01M260.2 570.0h.01M230.7 577.9h.01M184.9 535.0h.01M179.9 518.6h.01M271.3 552.2h.01M268.9 547.2h.01M249.1 508.3h.01M178.8 617.4h.01M249.3 507.9h.01M260.4 534.1h.01M175.2 597.2h.01M181.0 539.2h.01M216.3 544.4h.01M271.7 542.0h.01M261.1 517.9h.01M187.2 605.5h.01M246.5 557.2h.01M249.3 540.1h.01M259.5 524.3h.01M178.0 613.7h.01M182.4 593.7h.01M231.3 570.8h.01M260.2 554.7h.01M195.1 551.7h.01M214.4 553.0h.01M264.8 506.8h.01M270.0 572.1h.01M230.3 572.2h.01M177.6 532.5h.01M177.8 538.2h.01M268.4 537.0h.01M244.1 575.8h.01M246.3 530.1h.01M207.2 591.8h.01M186.6 589.5h.01M218.4 566.5h.01M242.6 541.2h.01M239.2 568.2h.01M213.3 545.3h.01M246.1 510.6h.01M196.5 517.0h.01M204.8 557.5h.01M259.7 507.1h.01M233.0 585.2h.01M225.0 570.3h.01M205.6 510.1h.01M173.6 522.1h.01M190.2 615.3h.01M260.8 533.3h.01M243.5 571.4h.01M211.0 581.4h.01M248.9 570.8h.01M202.3 585.3h.01M220.2 552.4h.01M252.0 554.0h.01M177.7 618.5h.01M249.1 538.1h.01M217.5 597.1h.01M175.1 586.9h.01M252.9 525.3h.01M196.6 503.5h.01M199.0 574.2h.01M192.2 622.7h.01M176.8 518.0h.01M269.6 511.4h.01M268.9 531.2h.01M249.1 520.1h.01M263.2 542.8h.01M253.4 513.1h.01M256.5 548.6h.01M233.4 573.5h.01M251.2 520.3h.01M263.7 557.2h.01M251.7 524.3h.01M243.1 563.9h.01M247.2 602.5h.01M194.5 600.0h.01M180.4 588.8h.01M187.5 598.8h.01M207.0 586.6h.01M240.1 564.3h.01M263.7 511.0h.01M248.0 515.4h.01M223.9 593.4h.01M260.2 568.6h.01M187.9 511.0h.01M255.6 537.6h.01M247.0 606.2h.01M187.2 627.8h.01M181.7 520.9h.01M256.9 560.6h.01M247.6 574.4h.01M179.3 625.0h.01M262.8 583.5h.01M262.9 563.6h.01M254.9 569.3h.01M173.8 589.0h.01M192.8 558.4h.01M270.6 509.0h.01M179.5 592.5h.01M264.2 533.1h.01M191.0 552.6h.01M253.6 506.6h.01M219.4 549.2h.01M262.6 510.2h.01M252.3 506.0h.01M242.4 573.8h.01M199.8 614.7h.01M244.7 549.8h.01M248.3 550.2h.01M224.9 566.7h.01M258.8 513.3h.01" stroke="#2c34ff" stroke-width="1.45" stroke-linecap="round" fill="none"/>
<path d="M261.6 512.1h.01M241.9 556.4h.01M175.7 523.2h.01M182.3 615.1h.01M204.9 598.5h.01M242.9 567.4h.01M234.0 521.5h.01M191.1 506.6h.01M248.9 508.1h.01M194.3 518.1h.01M239.8 578.2h.01M243.1 538.0h.01M255.3 570.6h.01M257.9 528.9h.01M197.9 557.6h.01M250.1 522.0h.01M240.3 606.8h.01M264.2 555.6h.01M247.8 529.8h.01M211.3 557.9h.01" stroke="#ff7060" stroke-width="1.9" stroke-linecap="round" fill="none"/>
<path d="M258.7 603.0h.01M249.0 544.6h.01M268.9 559.2h.01M217.8 544.5h.01M251.7 580.5h.01M249.5 568.9h.01M265.0 555.9h.01M247.2 532.0h.01M261.8 555.6h.01M182.3 590.7h.01M187.4 518.0h.01M188.1 529.5h.01M257.8 501.5h.01M265.9 518.2h.01M261.0 574.4h.01M254.1 550.3h.01M263.7 524.2h.01M224.1 571.5h.01M176.4 514.4h.01M177.3 531.6h.01M262.0 531.6h.01M177.1 627.4h.01M249.7 512.0h.01M206.9 526.7h.01M238.8 595.5h.01M221.2 574.0h.01M222.4 590.9h.01M175.6 511.9h.01M215.7 554.2h.01M262.2 506.6h.01" stroke="#ff7060" stroke-width="1.6" stroke-linecap="round" fill="none"/>
<path d="M257.2 563.0h.01M264.4 568.4h.01M242.2 552.1h.01M259.8 550.8h.01M174.8 627.0h.01M244.0 569.3h.01M198.6 593.1h.01M178.2 625.7h.01M252.6 558.0h.01M195.5 576.2h.01M252.3 541.4h.01M229.4 604.0h.01M196.2 567.3h.01M261.6 552.4h.01M243.2 564.1h.01M268.8 545.9h.01" stroke="#ffb040" stroke-width="1.2" stroke-linecap="round" fill="none"/>
<path d="M254.9 517.4h.01M255.7 545.1h.01M180.4 598.5h.01M241.0 583.4h.01M255.0 539.6h.01M219.9 552.3h.01M261.9 507.1h.01M267.3 568.4h.01M193.0 623.1h.01M258.8 559.7h.01M256.3 583.8h.01M223.8 569.5h.01M187.9 579.4h.01M220.8 576.1h.01" stroke="#ffb040" stroke-width="1.9" stroke-linecap="round" fill="none"/>
<path d="M256.0 519.5h.01M260.2 539.9h.01M253.4 625.1h.01M201.8 584.6h.01M269.2 541.9h.01M257.9 533.3h.01M250.4 503.8h.01M261.6 595.2h.01M196.2 529.1h.01M221.8 578.6h.01M220.9 587.9h.01M257.0 507.5h.01" stroke="#ffe060" stroke-width="1.6" stroke-linecap="round" fill="none"/>
<path d="M269.9 549.2h.01M248.5 587.6h.01M180.1 554.2h.01M257.9 547.2h.01M270.3 568.7h.01M244.6 579.6h.01M246.4 537.0h.01M192.1 517.5h.01M189.7 631.3h.01M258.7 573.7h.01M200.8 511.9h.01M226.2 599.3h.01M178.0 626.4h.01M271.7 565.0h.01M219.4 536.6h.01M192.5 549.3h.01M235.4 577.6h.01M221.8 629.1h.01M263.1 534.7h.01M173.6 608.2h.01M177.4 579.6h.01M179.6 528.9h.01M199.0 610.4h.01" stroke="#ffb040" stroke-width="1.6" stroke-linecap="round" fill="none"/>
<path d="M193.1 568.0h.01M189.1 555.9h.01M196.0 554.5h.01M271.1 527.7h.01M269.8 547.7h.01M229.3 539.2h.01M270.4 562.9h.01M222.6 540.4h.01M254.0 568.2h.01M264.2 561.2h.01M178.6 614.5h.01M184.1 624.7h.01M177.4 599.7h.01M255.3 578.0h.01M262.0 560.4h.01" stroke="#ffe060" stroke-width="1.2" stroke-linecap="round" fill="none"/>
<path d="M222.1 566.8h.01M225.5 598.6h.01M261.8 550.4h.01M254.7 607.7h.01M194.8 617.9h.01M259.3 565.2h.01M187.0 599.8h.01M181.6 567.4h.01M180.1 521.6h.01M192.0 509.3h.01M249.5 564.2h.01M252.5 556.4h.01M251.6 608.1h.01M198.0 571.3h.01M250.8 561.5h.01" stroke="#ffd0a0" stroke-width="1.9" stroke-linecap="round" fill="none"/>
<path d="M248.1 596.3h.01M241.1 563.9h.01M184.6 623.8h.01M246.4 546.9h.01M257.8 523.3h.01M208.5 546.2h.01M268.3 533.6h.01M207.3 575.6h.01M246.8 536.2h.01" stroke="#ffd0a0" stroke-width="1.6" stroke-linecap="round" fill="none"/>
<path d="M257.0 550.4h.01M222.2 597.5h.01M252.2 576.2h.01M173.5 565.6h.01M247.9 511.1h.01M268.7 567.1h.01M183.9 605.0h.01M271.0 571.0h.01M201.6 630.3h.01M259.4 568.4h.01M182.7 507.7h.01M192.2 606.2h.01M196.6 520.4h.01M262.0 579.6h.01M211.9 502.1h.01" stroke="#ff5080" stroke-width="1.9" stroke-linecap="round" fill="none"/>
<path d="M186.7 613.3h.01M268.4 529.2h.01M220.9 591.4h.01M230.5 600.9h.01M218.0 594.2h.01M174.4 522.3h.01M228.4 576.2h.01M261.6 552.9h.01M257.8 537.6h.01M181.6 619.2h.01M176.3 606.2h.01M184.2 530.8h.01M265.6 540.5h.01" stroke="#ff7060" stroke-width="1.2" stroke-linecap="round" fill="none"/>
<path d="M230.5 574.2h.01M218.6 541.1h.01M213.0 567.9h.01M188.7 561.1h.01M254.0 580.9h.01M204.0 558.3h.01M173.1 516.3h.01M176.9 609.9h.01M223.6 584.9h.01M249.6 518.0h.01M209.0 571.3h.01M255.9 565.7h.01M271.1 519.5h.01" stroke="#ff5080" stroke-width="1.6" stroke-linecap="round" fill="none"/>
<path d="M266.4 595.3h.01M255.0 537.2h.01M264.5 597.9h.01M203.6 533.7h.01M252.5 569.4h.01M247.6 582.5h.01M229.9 596.0h.01M269.7 535.8h.01M193.1 595.7h.01M255.4 509.7h.01M258.5 576.5h.01M189.1 548.9h.01M224.4 552.0h.01" stroke="#ff5080" stroke-width="1.2" stroke-linecap="round" fill="none"/>
<path d="M249.8 567.0h.01M206.2 587.7h.01M180.5 532.4h.01M197.1 613.0h.01M197.7 594.8h.01M207.6 582.4h.01M224.2 545.5h.01M245.5 565.5h.01M211.6 559.9h.01M244.0 560.3h.01M253.5 510.4h.01" stroke="#ffe060" stroke-width="1.9" stroke-linecap="round" fill="none"/>
<path d="M266.8 559.4h.01M177.8 601.9h.01M269.4 559.1h.01M200.4 609.0h.01M205.3 601.7h.01M211.2 595.3h.01M268.4 518.8h.01M228.5 574.1h.01M246.8 546.2h.01M257.6 612.8h.01M230.3 568.3h.01" stroke="#ffd0a0" stroke-width="1.2" stroke-linecap="round" fill="none"/>
<circle cx="195.31" cy="574.13" r="0.95" fill="#ffe060"/>
<circle cx="201.75" cy="571.46" r="1.20" fill="#ffffa0"/>
<circle cx="203.01" cy="573.79" r="0.82" fill="#ffd040"/>
<circle cx="197.18" cy="573.97" r="1.19" fill="#ffe060"/>
<circle cx="194.93" cy="569.68" r="0.88" fill="#ffe060"/>
<circle cx="202.59" cy="572.33" r="0.90" fill="#ffd040"/>
<circle cx="200.31" cy="574.19" r="0.96" fill="#ffffa0"/>
</g>
<rect x="187.10" y="563.00" width="18.90" height="14.20" fill="none" stroke="#f0f0f0" stroke-width="0.9"/>
<line x1="206.00" y1="563.00" x2="270.80" y2="504.00" stroke="#f4f4f4" stroke-width="1.15" stroke-dasharray="2.2 1.5"/>
<line x1="206.00" y1="577.20" x2="270.80" y2="629.00" stroke="#f4f4f4" stroke-width="1.15" stroke-dasharray="2.2 1.5"/>
<text x="175.30" y="509.10" font-size="8.6" text-anchor="start" fill="#fff" stroke="#fff" stroke-width="0.18" font-weight="bold">CIP</text>
<line x1="175.90" y1="621.70" x2="186.90" y2="621.70" stroke="#fff" stroke-width="1.3"/>
<text x="175.60" y="629.90" font-size="7.4" text-anchor="start" fill="#fff" stroke="#fff" stroke-width="0.18">50 μm</text>
<clipPath id="ic204_0"><rect x="273.3" y="501.20" width="57.5" height="42.1"/></clipPath>
<g clip-path="url(#ic204_0)">
<rect x="273.30" y="501.20" width="57.50" height="42.10" fill="#040410" stroke="none" stroke-width="1"/>
<g filter="url(#gl3)">
<ellipse cx="295.7" cy="503.1" rx="2.6" ry="1.7" transform="rotate(87 295.7 503.1)" fill="#1a1cd0"/>
<ellipse cx="277.9" cy="525.3" rx="2.3" ry="1.9" transform="rotate(79 277.9 525.3)" fill="#2e34ff"/>
<ellipse cx="312.8" cy="544.6" rx="2.9" ry="2.3" transform="rotate(27 312.8 544.6)" fill="#2828ff"/>
<ellipse cx="285.3" cy="538.8" rx="2.2" ry="2.3" transform="rotate(81 285.3 538.8)" fill="#2828ff"/>
<ellipse cx="291.2" cy="536.4" rx="2.8" ry="1.7" transform="rotate(94 291.2 536.4)" fill="#1f22f0"/>
<ellipse cx="318.9" cy="505.1" rx="2.6" ry="2.0" transform="rotate(67 318.9 505.1)" fill="#1f22f0"/>
<ellipse cx="298.3" cy="543.1" rx="2.2" ry="2.0" transform="rotate(167 298.3 543.1)" fill="#2e34ff"/>
<ellipse cx="319.2" cy="538.5" rx="2.1" ry="2.1" transform="rotate(91 319.2 538.5)" fill="#2e34ff"/>
<ellipse cx="295.6" cy="536.5" rx="2.4" ry="1.9" transform="rotate(129 295.6 536.5)" fill="#1a1cd0"/>
<ellipse cx="283.2" cy="502.2" rx="2.9" ry="2.0" transform="rotate(104 283.2 502.2)" fill="#2e34ff"/>
<ellipse cx="316.0" cy="527.6" rx="2.5" ry="2.2" transform="rotate(132 316.0 527.6)" fill="#1a1cd0"/>
<ellipse cx="293.9" cy="540.5" rx="3.0" ry="2.2" transform="rotate(73 293.9 540.5)" fill="#1a1cd0"/>
<ellipse cx="294.2" cy="536.2" rx="2.8" ry="1.7" transform="rotate(68 294.2 536.2)" fill="#2828ff"/>
<ellipse cx="317.5" cy="516.9" rx="2.6" ry="2.0" transform="rotate(4 317.5 516.9)" fill="#2828ff"/>
<ellipse cx="278.1" cy="521.2" rx="3.0" ry="1.8" transform="rotate(142 278.1 521.2)" fill="#2e34ff"/>
<ellipse cx="299.5" cy="519.6" rx="2.9" ry="2.4" transform="rotate(51 299.5 519.6)" fill="#1a1cd0"/>
<ellipse cx="317.5" cy="544.0" rx="2.3" ry="2.2" transform="rotate(3 317.5 544.0)" fill="#2e34ff"/>
<ellipse cx="322.3" cy="511.1" rx="2.2" ry="2.2" transform="rotate(83 322.3 511.1)" fill="#1f22f0"/>
<ellipse cx="302.2" cy="543.7" rx="2.0" ry="2.3" transform="rotate(52 302.2 543.7)" fill="#1a1cd0"/>
<ellipse cx="307.6" cy="528.5" rx="2.4" ry="2.2" transform="rotate(155 307.6 528.5)" fill="#1a1cd0"/>
<ellipse cx="289.9" cy="514.2" rx="2.2" ry="2.1" transform="rotate(9 289.9 514.2)" fill="#1a1cd0"/>
<ellipse cx="281.6" cy="517.9" rx="2.9" ry="1.7" transform="rotate(129 281.6 517.9)" fill="#2e34ff"/>
<ellipse cx="293.3" cy="525.2" rx="2.4" ry="2.3" transform="rotate(115 293.3 525.2)" fill="#1f22f0"/>
<ellipse cx="315.0" cy="508.0" rx="2.4" ry="2.0" transform="rotate(65 315.0 508.0)" fill="#1f22f0"/>
<ellipse cx="274.6" cy="499.8" rx="2.6" ry="1.9" transform="rotate(69 274.6 499.8)" fill="#1f22f0"/>
<ellipse cx="277.6" cy="509.4" rx="2.2" ry="2.1" transform="rotate(4 277.6 509.4)" fill="#1a1cd0"/>
<ellipse cx="287.9" cy="499.8" rx="2.9" ry="1.9" transform="rotate(169 287.9 499.8)" fill="#2e34ff"/>
<ellipse cx="322.4" cy="506.1" rx="2.5" ry="1.8" transform="rotate(119 322.4 506.1)" fill="#1a1cd0"/>
<ellipse cx="286.0" cy="543.3" rx="2.1" ry="2.0" transform="rotate(43 286.0 543.3)" fill="#1f22f0"/>
<ellipse cx="304.7" cy="526.1" rx="2.8" ry="1.9" transform="rotate(89 304.7 526.1)" fill="#1a1cd0"/>
<ellipse cx="288.8" cy="500.5" rx="2.8" ry="2.3" transform="rotate(125 288.8 500.5)" fill="#2e34ff"/>
<ellipse cx="293.1" cy="518.3" rx="2.9" ry="2.1" transform="rotate(150 293.1 518.3)" fill="#1f22f0"/>
<ellipse cx="289.8" cy="544.9" rx="2.6" ry="2.2" transform="rotate(107 289.8 544.9)" fill="#2e34ff"/>
<ellipse cx="285.7" cy="526.2" rx="2.6" ry="1.8" transform="rotate(171 285.7 526.2)" fill="#2828ff"/>
<ellipse cx="275.7" cy="501.1" rx="2.4" ry="2.3" transform="rotate(57 275.7 501.1)" fill="#2828ff"/>
<ellipse cx="309.2" cy="504.0" rx="2.8" ry="1.7" transform="rotate(162 309.2 504.0)" fill="#1f22f0"/>
<ellipse cx="327.8" cy="541.3" rx="2.4" ry="2.0" transform="rotate(105 327.8 541.3)" fill="#2828ff"/>
<ellipse cx="303.8" cy="524.0" rx="2.7" ry="2.1" transform="rotate(80 303.8 524.0)" fill="#2e34ff"/>
<ellipse cx="285.1" cy="540.8" rx="2.7" ry="1.8" transform="rotate(54 285.1 540.8)" fill="#2e34ff"/>
<ellipse cx="276.5" cy="540.2" rx="2.1" ry="1.8" transform="rotate(97 276.5 540.2)" fill="#2828ff"/>
<ellipse cx="294.7" cy="543.9" rx="2.4" ry="1.7" transform="rotate(170 294.7 543.9)" fill="#1f22f0"/>
<ellipse cx="325.9" cy="511.4" rx="2.7" ry="1.8" transform="rotate(1 325.9 511.4)" fill="#1a1cd0"/>
<ellipse cx="298.0" cy="521.4" rx="2.4" ry="1.9" transform="rotate(44 298.0 521.4)" fill="#1a1cd0"/>
<ellipse cx="303.2" cy="507.3" rx="3.0" ry="1.6" transform="rotate(141 303.2 507.3)" fill="#2828ff"/>
<ellipse cx="309.8" cy="519.5" rx="2.8" ry="2.1" transform="rotate(165 309.8 519.5)" fill="#2e34ff"/>
</g><g filter="url(#gl)">
<ellipse cx="276.6" cy="525.1" rx="3.2" ry="2.6" transform="rotate(22 276.6 525.1)" fill="#ff1850"/>
<ellipse cx="304.0" cy="524.4" rx="2.8" ry="2.2" transform="rotate(108 304.0 524.4)" fill="#ff1850"/>
<ellipse cx="287.3" cy="524.1" rx="3.0" ry="2.4" transform="rotate(95 287.3 524.1)" fill="#ff1850"/>
<ellipse cx="303.7" cy="511.9" rx="2.8" ry="2.2" transform="rotate(37 303.7 511.9)" fill="#ff1850"/>
<ellipse cx="327.1" cy="525.5" rx="2.9" ry="2.4" transform="rotate(91 327.1 525.5)" fill="#ff1850"/>
<ellipse cx="312.6" cy="506.0" rx="3.3" ry="2.6" transform="rotate(17 312.6 506.0)" fill="#ff1850"/>
<ellipse cx="322.7" cy="506.9" rx="3.3" ry="2.7" transform="rotate(132 322.7 506.9)" fill="#ff1850"/>
<ellipse cx="313.4" cy="532.7" rx="3.3" ry="2.7" transform="rotate(63 313.4 532.7)" fill="#ff1850"/>
<ellipse cx="279.5" cy="532.3" rx="3.2" ry="2.6" transform="rotate(125 279.5 532.3)" fill="#ff1850"/>
<ellipse cx="312.4" cy="521.2" rx="2.7" ry="2.2" transform="rotate(138 312.4 521.2)" fill="#ff1850"/>
<ellipse cx="291.3" cy="539.3" rx="3.1" ry="2.5" transform="rotate(42 291.3 539.3)" fill="#ff1850"/>
</g></g>
<text x="274.30" y="509.00" font-size="7.8" text-anchor="start" fill="#e8204c" stroke="#e8204c" stroke-width="0.18">CD8</text>
<line x1="315.30" y1="533.40" x2="328.50" y2="533.40" stroke="#fff" stroke-width="1.2"/>
<text x="310.80" y="540.70" font-size="7.5" text-anchor="start" fill="#fff" stroke="#fff" stroke-width="0.18">20 μm</text>
<clipPath id="ic204_1"><rect x="273.3" y="545.20" width="57.5" height="42.1"/></clipPath>
<g clip-path="url(#ic204_1)">
<rect x="273.30" y="545.20" width="57.50" height="42.10" fill="#040410" stroke="none" stroke-width="1"/>
<g filter="url(#gl3)">
<ellipse cx="295.7" cy="547.1" rx="2.6" ry="1.7" transform="rotate(87 295.7 547.1)" fill="#1a1cd0"/>
<ellipse cx="277.9" cy="569.3" rx="2.3" ry="1.9" transform="rotate(79 277.9 569.3)" fill="#2e34ff"/>
<ellipse cx="312.8" cy="588.6" rx="2.9" ry="2.3" transform="rotate(27 312.8 588.6)" fill="#2828ff"/>
<ellipse cx="285.3" cy="582.8" rx="2.2" ry="2.3" transform="rotate(81 285.3 582.8)" fill="#2828ff"/>
<ellipse cx="291.2" cy="580.4" rx="2.8" ry="1.7" transform="rotate(94 291.2 580.4)" fill="#1f22f0"/>
<ellipse cx="318.9" cy="549.1" rx="2.6" ry="2.0" transform="rotate(67 318.9 549.1)" fill="#1f22f0"/>
<ellipse cx="298.3" cy="587.1" rx="2.2" ry="2.0" transform="rotate(167 298.3 587.1)" fill="#2e34ff"/>
<ellipse cx="319.2" cy="582.5" rx="2.1" ry="2.1" transform="rotate(91 319.2 582.5)" fill="#2e34ff"/>
<ellipse cx="295.6" cy="580.5" rx="2.4" ry="1.9" transform="rotate(129 295.6 580.5)" fill="#1a1cd0"/>
<ellipse cx="283.2" cy="546.2" rx="2.9" ry="2.0" transform="rotate(104 283.2 546.2)" fill="#2e34ff"/>
<ellipse cx="316.0" cy="571.6" rx="2.5" ry="2.2" transform="rotate(132 316.0 571.6)" fill="#1a1cd0"/>
<ellipse cx="293.9" cy="584.5" rx="3.0" ry="2.2" transform="rotate(73 293.9 584.5)" fill="#1a1cd0"/>
<ellipse cx="294.2" cy="580.2" rx="2.8" ry="1.7" transform="rotate(68 294.2 580.2)" fill="#2828ff"/>
<ellipse cx="317.5" cy="560.9" rx="2.6" ry="2.0" transform="rotate(4 317.5 560.9)" fill="#2828ff"/>
<ellipse cx="278.1" cy="565.2" rx="3.0" ry="1.8" transform="rotate(142 278.1 565.2)" fill="#2e34ff"/>
<ellipse cx="299.5" cy="563.6" rx="2.9" ry="2.4" transform="rotate(51 299.5 563.6)" fill="#1a1cd0"/>
<ellipse cx="317.5" cy="588.0" rx="2.3" ry="2.2" transform="rotate(3 317.5 588.0)" fill="#2e34ff"/>
<ellipse cx="322.3" cy="555.1" rx="2.2" ry="2.2" transform="rotate(83 322.3 555.1)" fill="#1f22f0"/>
<ellipse cx="302.2" cy="587.7" rx="2.0" ry="2.3" transform="rotate(52 302.2 587.7)" fill="#1a1cd0"/>
<ellipse cx="307.6" cy="572.5" rx="2.4" ry="2.2" transform="rotate(155 307.6 572.5)" fill="#1a1cd0"/>
<ellipse cx="289.9" cy="558.2" rx="2.2" ry="2.1" transform="rotate(9 289.9 558.2)" fill="#1a1cd0"/>
<ellipse cx="281.6" cy="561.9" rx="2.9" ry="1.7" transform="rotate(129 281.6 561.9)" fill="#2e34ff"/>
<ellipse cx="293.3" cy="569.2" rx="2.4" ry="2.3" transform="rotate(115 293.3 569.2)" fill="#1f22f0"/>
<ellipse cx="315.0" cy="552.0" rx="2.4" ry="2.0" transform="rotate(65 315.0 552.0)" fill="#1f22f0"/>
<ellipse cx="274.6" cy="543.8" rx="2.6" ry="1.9" transform="rotate(69 274.6 543.8)" fill="#1f22f0"/>
<ellipse cx="277.6" cy="553.4" rx="2.2" ry="2.1" transform="rotate(4 277.6 553.4)" fill="#1a1cd0"/>
<ellipse cx="287.9" cy="543.8" rx="2.9" ry="1.9" transform="rotate(169 287.9 543.8)" fill="#2e34ff"/>
<ellipse cx="322.4" cy="550.1" rx="2.5" ry="1.8" transform="rotate(119 322.4 550.1)" fill="#1a1cd0"/>
<ellipse cx="286.0" cy="587.3" rx="2.1" ry="2.0" transform="rotate(43 286.0 587.3)" fill="#1f22f0"/>
<ellipse cx="304.7" cy="570.1" rx="2.8" ry="1.9" transform="rotate(89 304.7 570.1)" fill="#1a1cd0"/>
<ellipse cx="288.8" cy="544.5" rx="2.8" ry="2.3" transform="rotate(125 288.8 544.5)" fill="#2e34ff"/>
<ellipse cx="293.1" cy="562.3" rx="2.9" ry="2.1" transform="rotate(150 293.1 562.3)" fill="#1f22f0"/>
<ellipse cx="289.8" cy="588.9" rx="2.6" ry="2.2" transform="rotate(107 289.8 588.9)" fill="#2e34ff"/>
<ellipse cx="285.7" cy="570.2" rx="2.6" ry="1.8" transform="rotate(171 285.7 570.2)" fill="#2828ff"/>
<ellipse cx="275.7" cy="545.1" rx="2.4" ry="2.3" transform="rotate(57 275.7 545.1)" fill="#2828ff"/>
<ellipse cx="309.2" cy="548.0" rx="2.8" ry="1.7" transform="rotate(162 309.2 548.0)" fill="#1f22f0"/>
<ellipse cx="327.8" cy="585.3" rx="2.4" ry="2.0" transform="rotate(105 327.8 585.3)" fill="#2828ff"/>
<ellipse cx="303.8" cy="568.0" rx="2.7" ry="2.1" transform="rotate(80 303.8 568.0)" fill="#2e34ff"/>
<ellipse cx="285.1" cy="584.8" rx="2.7" ry="1.8" transform="rotate(54 285.1 584.8)" fill="#2e34ff"/>
<ellipse cx="276.5" cy="584.2" rx="2.1" ry="1.8" transform="rotate(97 276.5 584.2)" fill="#2828ff"/>
<ellipse cx="294.7" cy="587.9" rx="2.4" ry="1.7" transform="rotate(170 294.7 587.9)" fill="#1f22f0"/>
<ellipse cx="325.9" cy="555.4" rx="2.7" ry="1.8" transform="rotate(1 325.9 555.4)" fill="#1a1cd0"/>
<ellipse cx="298.0" cy="565.4" rx="2.4" ry="1.9" transform="rotate(44 298.0 565.4)" fill="#1a1cd0"/>
<ellipse cx="303.2" cy="551.3" rx="3.0" ry="1.6" transform="rotate(141 303.2 551.3)" fill="#2828ff"/>
<ellipse cx="309.8" cy="563.5" rx="2.8" ry="2.1" transform="rotate(165 309.8 563.5)" fill="#2e34ff"/>
</g><g filter="url(#gl)">
<ellipse cx="327.1" cy="569.5" rx="2.9" ry="2.4" transform="rotate(91 327.1 569.5)" fill="#20e040"/>
<ellipse cx="312.6" cy="550.0" rx="3.3" ry="2.6" transform="rotate(17 312.6 550.0)" fill="#20e040"/>
<ellipse cx="322.7" cy="550.9" rx="3.3" ry="2.7" transform="rotate(132 322.7 550.9)" fill="#20e040"/>
<ellipse cx="313.4" cy="576.7" rx="3.3" ry="2.7" transform="rotate(63 313.4 576.7)" fill="#20e040"/>
<ellipse cx="279.5" cy="576.3" rx="3.2" ry="2.6" transform="rotate(125 279.5 576.3)" fill="#20e040"/>
<ellipse cx="312.4" cy="565.2" rx="2.7" ry="2.2" transform="rotate(138 312.4 565.2)" fill="#20e040"/>
<ellipse cx="291.3" cy="583.3" rx="3.1" ry="2.5" transform="rotate(42 291.3 583.3)" fill="#20e040"/>
<ellipse cx="305.4" cy="583.0" rx="3.4" ry="2.7" transform="rotate(94 305.4 583.0)" fill="#20e040"/>
</g></g>
<text x="274.30" y="553.00" font-size="7.8" text-anchor="start" fill="#40c840" stroke="#40c840" stroke-width="0.18">IFNG</text>
<line x1="315.30" y1="577.40" x2="328.50" y2="577.40" stroke="#fff" stroke-width="1.2"/>
<text x="310.80" y="584.70" font-size="7.5" text-anchor="start" fill="#fff" stroke="#fff" stroke-width="0.18">20 μm</text>
<clipPath id="ic204_2"><rect x="273.3" y="589.20" width="57.5" height="42.1"/></clipPath>
<g clip-path="url(#ic204_2)">
<rect x="273.30" y="589.20" width="57.50" height="42.10" fill="#040410" stroke="none" stroke-width="1"/>
<g filter="url(#gl3)">
<ellipse cx="295.7" cy="591.1" rx="2.6" ry="1.7" transform="rotate(87 295.7 591.1)" fill="#1a1cd0"/>
<ellipse cx="277.9" cy="613.3" rx="2.3" ry="1.9" transform="rotate(79 277.9 613.3)" fill="#2e34ff"/>
<ellipse cx="312.8" cy="632.6" rx="2.9" ry="2.3" transform="rotate(27 312.8 632.6)" fill="#2828ff"/>
<ellipse cx="285.3" cy="626.8" rx="2.2" ry="2.3" transform="rotate(81 285.3 626.8)" fill="#2828ff"/>
<ellipse cx="291.2" cy="624.4" rx="2.8" ry="1.7" transform="rotate(94 291.2 624.4)" fill="#1f22f0"/>
<ellipse cx="318.9" cy="593.1" rx="2.6" ry="2.0" transform="rotate(67 318.9 593.1)" fill="#1f22f0"/>
<ellipse cx="298.3" cy="631.1" rx="2.2" ry="2.0" transform="rotate(167 298.3 631.1)" fill="#2e34ff"/>
<ellipse cx="319.2" cy="626.5" rx="2.1" ry="2.1" transform="rotate(91 319.2 626.5)" fill="#2e34ff"/>
<ellipse cx="295.6" cy="624.5" rx="2.4" ry="1.9" transform="rotate(129 295.6 624.5)" fill="#1a1cd0"/>
<ellipse cx="283.2" cy="590.2" rx="2.9" ry="2.0" transform="rotate(104 283.2 590.2)" fill="#2e34ff"/>
<ellipse cx="316.0" cy="615.6" rx="2.5" ry="2.2" transform="rotate(132 316.0 615.6)" fill="#1a1cd0"/>
<ellipse cx="293.9" cy="628.5" rx="3.0" ry="2.2" transform="rotate(73 293.9 628.5)" fill="#1a1cd0"/>
<ellipse cx="294.2" cy="624.2" rx="2.8" ry="1.7" transform="rotate(68 294.2 624.2)" fill="#2828ff"/>
<ellipse cx="317.5" cy="604.9" rx="2.6" ry="2.0" transform="rotate(4 317.5 604.9)" fill="#2828ff"/>
<ellipse cx="278.1" cy="609.2" rx="3.0" ry="1.8" transform="rotate(142 278.1 609.2)" fill="#2e34ff"/>
<ellipse cx="299.5" cy="607.6" rx="2.9" ry="2.4" transform="rotate(51 299.5 607.6)" fill="#1a1cd0"/>
<ellipse cx="317.5" cy="632.0" rx="2.3" ry="2.2" transform="rotate(3 317.5 632.0)" fill="#2e34ff"/>
<ellipse cx="322.3" cy="599.1" rx="2.2" ry="2.2" transform="rotate(83 322.3 599.1)" fill="#1f22f0"/>
<ellipse cx="302.2" cy="631.7" rx="2.0" ry="2.3" transform="rotate(52 302.2 631.7)" fill="#1a1cd0"/>
<ellipse cx="307.6" cy="616.5" rx="2.4" ry="2.2" transform="rotate(155 307.6 616.5)" fill="#1a1cd0"/>
<ellipse cx="289.9" cy="602.2" rx="2.2" ry="2.1" transform="rotate(9 289.9 602.2)" fill="#1a1cd0"/>
<ellipse cx="281.6" cy="605.9" rx="2.9" ry="1.7" transform="rotate(129 281.6 605.9)" fill="#2e34ff"/>
<ellipse cx="293.3" cy="613.2" rx="2.4" ry="2.3" transform="rotate(115 293.3 613.2)" fill="#1f22f0"/>
<ellipse cx="315.0" cy="596.0" rx="2.4" ry="2.0" transform="rotate(65 315.0 596.0)" fill="#1f22f0"/>
<ellipse cx="274.6" cy="587.8" rx="2.6" ry="1.9" transform="rotate(69 274.6 587.8)" fill="#1f22f0"/>
<ellipse cx="277.6" cy="597.4" rx="2.2" ry="2.1" transform="rotate(4 277.6 597.4)" fill="#1a1cd0"/>
<ellipse cx="287.9" cy="587.8" rx="2.9" ry="1.9" transform="rotate(169 287.9 587.8)" fill="#2e34ff"/>
<ellipse cx="322.4" cy="594.1" rx="2.5" ry="1.8" transform="rotate(119 322.4 594.1)" fill="#1a1cd0"/>
<ellipse cx="286.0" cy="631.3" rx="2.1" ry="2.0" transform="rotate(43 286.0 631.3)" fill="#1f22f0"/>
<ellipse cx="304.7" cy="614.1" rx="2.8" ry="1.9" transform="rotate(89 304.7 614.1)" fill="#1a1cd0"/>
<ellipse cx="288.8" cy="588.5" rx="2.8" ry="2.3" transform="rotate(125 288.8 588.5)" fill="#2e34ff"/>
<ellipse cx="293.1" cy="606.3" rx="2.9" ry="2.1" transform="rotate(150 293.1 606.3)" fill="#1f22f0"/>
<ellipse cx="289.8" cy="632.9" rx="2.6" ry="2.2" transform="rotate(107 289.8 632.9)" fill="#2e34ff"/>
<ellipse cx="285.7" cy="614.2" rx="2.6" ry="1.8" transform="rotate(171 285.7 614.2)" fill="#2828ff"/>
<ellipse cx="275.7" cy="589.1" rx="2.4" ry="2.3" transform="rotate(57 275.7 589.1)" fill="#2828ff"/>
<ellipse cx="309.2" cy="592.0" rx="2.8" ry="1.7" transform="rotate(162 309.2 592.0)" fill="#1f22f0"/>
<ellipse cx="327.8" cy="629.3" rx="2.4" ry="2.0" transform="rotate(105 327.8 629.3)" fill="#2828ff"/>
<ellipse cx="303.8" cy="612.0" rx="2.7" ry="2.1" transform="rotate(80 303.8 612.0)" fill="#2e34ff"/>
<ellipse cx="285.1" cy="628.8" rx="2.7" ry="1.8" transform="rotate(54 285.1 628.8)" fill="#2e34ff"/>
<ellipse cx="276.5" cy="628.2" rx="2.1" ry="1.8" transform="rotate(97 276.5 628.2)" fill="#2828ff"/>
<ellipse cx="294.7" cy="631.9" rx="2.4" ry="1.7" transform="rotate(170 294.7 631.9)" fill="#1f22f0"/>
<ellipse cx="325.9" cy="599.4" rx="2.7" ry="1.8" transform="rotate(1 325.9 599.4)" fill="#1a1cd0"/>
<ellipse cx="298.0" cy="609.4" rx="2.4" ry="1.9" transform="rotate(44 298.0 609.4)" fill="#1a1cd0"/>
<ellipse cx="303.2" cy="595.3" rx="3.0" ry="1.6" transform="rotate(141 303.2 595.3)" fill="#2828ff"/>
<ellipse cx="309.8" cy="607.5" rx="2.8" ry="2.1" transform="rotate(165 309.8 607.5)" fill="#2e34ff"/>
</g><g filter="url(#gl)">
<ellipse cx="276.6" cy="613.1" rx="3.2" ry="2.6" transform="rotate(22 276.6 613.1)" fill="#ff2a6a"/>
<ellipse cx="304.0" cy="612.4" rx="2.8" ry="2.2" transform="rotate(108 304.0 612.4)" fill="#ff2a6a"/>
<ellipse cx="287.3" cy="612.1" rx="3.0" ry="2.4" transform="rotate(95 287.3 612.1)" fill="#ff2a6a"/>
<ellipse cx="303.7" cy="599.9" rx="2.8" ry="2.2" transform="rotate(37 303.7 599.9)" fill="#ff2a6a"/>
<ellipse cx="327.1" cy="613.5" rx="2.9" ry="2.4" transform="rotate(91 327.1 613.5)" fill="#ffe830"/>
<ellipse cx="312.6" cy="594.0" rx="3.3" ry="2.6" transform="rotate(17 312.6 594.0)" fill="#ffe830"/>
<ellipse cx="322.7" cy="594.9" rx="3.3" ry="2.7" transform="rotate(132 322.7 594.9)" fill="#ffe830"/>
<ellipse cx="313.4" cy="620.7" rx="3.3" ry="2.7" transform="rotate(63 313.4 620.7)" fill="#ffe830"/>
<ellipse cx="279.5" cy="620.3" rx="3.2" ry="2.6" transform="rotate(125 279.5 620.3)" fill="#ffe830"/>
<ellipse cx="312.4" cy="609.2" rx="2.7" ry="2.2" transform="rotate(138 312.4 609.2)" fill="#ffe830"/>
<ellipse cx="291.3" cy="627.3" rx="3.1" ry="2.5" transform="rotate(42 291.3 627.3)" fill="#ffe830"/>
<ellipse cx="305.4" cy="627.0" rx="3.4" ry="2.7" transform="rotate(94 305.4 627.0)" fill="#20e040"/>
</g></g>
<text x="274.30" y="597.00" font-size="7.8" fill="#fff" stroke="#fff" stroke-width="0.15"><tspan fill="#e8204c">M</tspan><tspan fill="#d0e060">e</tspan>rge</text>
<line x1="315.30" y1="621.40" x2="328.50" y2="621.40" stroke="#fff" stroke-width="1.2"/>
<text x="310.80" y="628.70" font-size="7.5" text-anchor="start" fill="#fff" stroke="#fff" stroke-width="0.18">20 μm</text>
</svg>
</body></html>
